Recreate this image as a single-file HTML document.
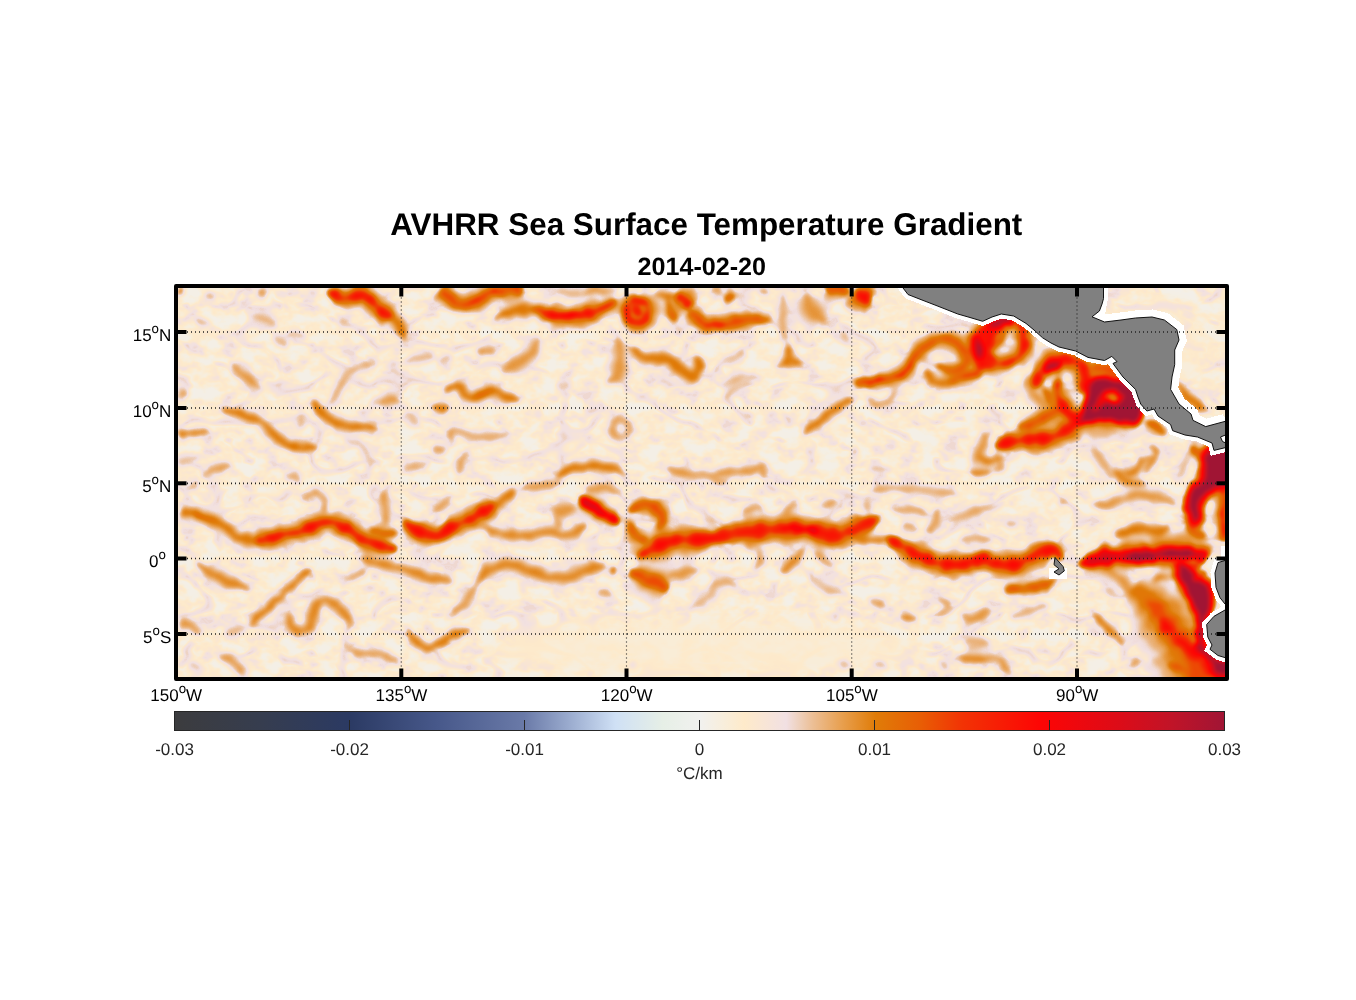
<!DOCTYPE html>
<html><head><meta charset="utf-8"><title>AVHRR Sea Surface Temperature Gradient</title>
<style>
html,body{margin:0;padding:0;background:#fff;}
body{width:1356px;height:1000px;overflow:hidden;position:relative;font-family:"Liberation Sans",sans-serif;}
svg{position:absolute;left:0;top:0;display:block;}
text{text-rendering:geometricPrecision;}
.tx{opacity:0.999;}
text{font-family:"Liberation Sans",sans-serif;}
</style></head><body>
<svg width="1356" height="1000" viewBox="0 0 1356 1000">
<defs>
<clipPath id="clip"><rect x="176" y="286" width="1051" height="393"/></clipPath>
<filter id="cm" x="0" y="0" width="100%" height="100%" filterUnits="userSpaceOnUse" color-interpolation-filters="sRGB">
<feComponentTransfer>
<feFuncR type="table" tableValues="0.9451 0.9512 0.9573 0.9634 0.9695 0.9755 0.9814 0.9873 0.9931 0.9931 0.9873 0.9814 0.9755 0.9691 0.9623 0.9554 0.9485 0.9427 0.9380 0.9333 0.9302 0.9271 0.9241 0.9212 0.9184 0.9155 0.9127 0.9098 0.9050 0.9002 0.8953 0.8905 0.8857 0.8808 0.8803 0.8840 0.8877 0.8913 0.8950 0.8987 0.9024 0.9061 0.9098 0.9147 0.9196 0.9245 0.9294 0.9343 0.9392 0.9441 0.9490 0.9519 0.9548 0.9576 0.9605 0.9634 0.9663 0.9692 0.9720 0.9749 0.9778 0.9807 0.9835 0.9864 0.9893 0.9922 0.9835 0.9749 0.9663 0.9576 0.9490 0.9404 0.9318 0.9231 0.9145 0.9059 0.8973 0.8886 0.8800 0.8714 0.8627 0.8518 0.8408 0.8298 0.8188 0.8078 0.7969 0.7859 0.7749 0.7639 0.7529 0.7404 0.7278 0.7153 0.7027 0.6902 0.6776 0.6651 0.6525 0.6400 0.6275"/>
<feFuncG type="table" tableValues="0.9451 0.9425 0.9399 0.9373 0.9346 0.9314 0.9275 0.9235 0.9196 0.9152 0.9103 0.9054 0.9005 0.8956 0.8907 0.8858 0.8809 0.8659 0.8408 0.8157 0.7890 0.7624 0.7380 0.7159 0.6938 0.6717 0.6496 0.6275 0.6057 0.5840 0.5623 0.5406 0.5189 0.4971 0.4794 0.4655 0.4517 0.4378 0.4240 0.4101 0.3963 0.3825 0.3686 0.3475 0.3265 0.3054 0.2843 0.2632 0.2422 0.2211 0.2000 0.1880 0.1759 0.1639 0.1519 0.1399 0.1278 0.1158 0.1038 0.0918 0.0797 0.0677 0.0557 0.0437 0.0316 0.0196 0.0214 0.0233 0.0251 0.0269 0.0288 0.0306 0.0324 0.0342 0.0361 0.0379 0.0397 0.0416 0.0434 0.0452 0.0471 0.0502 0.0533 0.0565 0.0596 0.0627 0.0659 0.0690 0.0722 0.0753 0.0784 0.0788 0.0792 0.0796 0.0800 0.0804 0.0808 0.0812 0.0816 0.0820 0.0824"/>
<feFuncB type="table" tableValues="0.9373 0.9207 0.9041 0.8876 0.8710 0.8539 0.8363 0.8186 0.8010 0.7980 0.8098 0.8216 0.8333 0.8456 0.8583 0.8711 0.8838 0.8596 0.7984 0.7373 0.6776 0.6180 0.5633 0.5134 0.4635 0.4135 0.3636 0.3137 0.2703 0.2268 0.1834 0.1400 0.0965 0.0531 0.0307 0.0293 0.0279 0.0265 0.0251 0.0238 0.0224 0.0210 0.0196 0.0196 0.0196 0.0196 0.0196 0.0196 0.0196 0.0196 0.0196 0.0196 0.0196 0.0196 0.0196 0.0196 0.0196 0.0196 0.0196 0.0196 0.0196 0.0196 0.0196 0.0196 0.0196 0.0196 0.0246 0.0295 0.0345 0.0395 0.0444 0.0494 0.0544 0.0593 0.0643 0.0693 0.0742 0.0792 0.0842 0.0892 0.0941 0.1004 0.1067 0.1129 0.1192 0.1255 0.1318 0.1380 0.1443 0.1506 0.1569 0.1620 0.1671 0.1722 0.1773 0.1824 0.1875 0.1925 0.1976 0.2027 0.2078"/>
</feComponentTransfer></filter>
<filter id="noise" x="170" y="280" width="1064" height="406" filterUnits="userSpaceOnUse" color-interpolation-filters="sRGB">
<feTurbulence type="fractalNoise" baseFrequency="0.05 0.07" numOctaves="3" seed="7" result="n1"/>
<feColorMatrix in="n1" type="matrix" values="1 0 0 0 0  1 0 0 0 0  1 0 0 0 0  0 0 0 0 1" result="g1"/>
<feComponentTransfer in="g1" result="t1">
<feFuncR type="table" tableValues="0.02 0.02 0.02 0.02 0.02 0.02 0.022 0.028 0.04 0.056 0.072 0.088 0.105 0.125 0.15 0.17 0.18 0.18 0.18 0.18 0.18"/><feFuncG type="table" tableValues="0.02 0.02 0.02 0.02 0.02 0.02 0.022 0.028 0.04 0.056 0.072 0.088 0.105 0.125 0.15 0.17 0.18 0.18 0.18 0.18 0.18"/><feFuncB type="table" tableValues="0.02 0.02 0.02 0.02 0.02 0.02 0.022 0.028 0.04 0.056 0.072 0.088 0.105 0.125 0.15 0.17 0.18 0.18 0.18 0.18 0.18"/>
</feComponentTransfer>
<feTurbulence type="turbulence" baseFrequency="0.016 0.026" numOctaves="2" seed="23" result="n2"/>
<feColorMatrix in="n2" type="matrix" values="0 1 0 0 0  0 1 0 0 0  0 1 0 0 0  0 0 0 0 1" result="g2"/>
<feComponentTransfer in="g2" result="t2">
<feFuncR type="table" tableValues="0.195 0.185 0.17 0.15 0.12 0.08 0.04 0.01 0 0 0 0 0 0 0 0 0 0 0 0 0 0 0 0 0 0 0 0 0 0 0 0 0 0 0 0 0 0 0 0 0"/><feFuncG type="table" tableValues="0.195 0.185 0.17 0.15 0.12 0.08 0.04 0.01 0 0 0 0 0 0 0 0 0 0 0 0 0 0 0 0 0 0 0 0 0 0 0 0 0 0 0 0 0 0 0 0 0"/><feFuncB type="table" tableValues="0.195 0.185 0.17 0.15 0.12 0.08 0.04 0.01 0 0 0 0 0 0 0 0 0 0 0 0 0 0 0 0 0 0 0 0 0 0 0 0 0 0 0 0 0 0 0 0 0"/>
</feComponentTransfer>
<feGaussianBlur in="t2" stdDeviation="1.1" result="t2b"/>
<feBlend in="t1" in2="t2b" mode="lighten"/>
</filter>
<filter id="b2" x="150" y="260" width="1100" height="440" filterUnits="userSpaceOnUse" color-interpolation-filters="sRGB">
<feTurbulence type="fractalNoise" baseFrequency="0.09" numOctaves="2" seed="3" result="dn"/>
<feDisplacementMap in="SourceGraphic" in2="dn" scale="7" xChannelSelector="R" yChannelSelector="G" result="d"/>
<feGaussianBlur in="d" stdDeviation="2.7"/></filter>
<filter id="b9" x="150" y="260" width="1100" height="440" filterUnits="userSpaceOnUse" color-interpolation-filters="sRGB"><feGaussianBlur stdDeviation="9"/></filter>
<filter id="b1" x="150" y="260" width="1100" height="440" filterUnits="userSpaceOnUse" color-interpolation-filters="sRGB"><feGaussianBlur stdDeviation="1.1"/></filter>
<linearGradient id="cb" x1="0" y1="0" x2="1" y2="0">
<stop offset="0.0000" stop-color="#3c3c3e"/>
<stop offset="0.0833" stop-color="#363d4f"/>
<stop offset="0.1667" stop-color="#2b3a63"/>
<stop offset="0.2500" stop-color="#47588a"/>
<stop offset="0.3333" stop-color="#6a7aa8"/>
<stop offset="0.3800" stop-color="#9fb0d2"/>
<stop offset="0.4200" stop-color="#cfe0f5"/>
<stop offset="0.4650" stop-color="#e6efe6"/>
<stop offset="0.5000" stop-color="#f1f1ef"/>
<stop offset="0.5225" stop-color="#f8eedc"/>
<stop offset="0.5425" stop-color="#feeaca"/>
<stop offset="0.5625" stop-color="#f8e5d6"/>
<stop offset="0.5825" stop-color="#f1e0e3"/>
<stop offset="0.5950" stop-color="#eed0bc"/>
<stop offset="0.6075" stop-color="#ecbf96"/>
<stop offset="0.6350" stop-color="#e8a050"/>
<stop offset="0.6675" stop-color="#e07c08"/>
<stop offset="0.7100" stop-color="#e85e05"/>
<stop offset="0.7500" stop-color="#f23305"/>
<stop offset="0.8250" stop-color="#fd0505"/>
<stop offset="0.9000" stop-color="#dc0c18"/>
<stop offset="0.9500" stop-color="#c01428"/>
<stop offset="1.0000" stop-color="#a01535"/>
</linearGradient>
</defs>

<g clip-path="url(#clip)">
<g filter="url(#cm)">
<rect x="170" y="280" width="1064" height="406" fill="#171717"/>
<rect x="170" y="280" width="1064" height="406" filter="url(#noise)"/>
<g filter="url(#b9)" opacity="0.8" fill="#111111"><ellipse cx="700" cy="648" rx="215" ry="30"/><ellipse cx="1165" cy="350" rx="45" ry="50" fill="#151515" opacity="0.6"/></g>
<g filter="url(#b2)" stroke="none">
<path d="M380 319L383 322L386 326L389 327L390 330L392 335L398 340L403 343L407 341L409 336L412 329L409 322L405 315L399 308L392 306L388 305Z" fill="#2b2b2b"/>
<path d="M173 296L177 297L183 295L185 291L185 285L183 282Z" fill="#2b2b2b"/>
<path d="M203 294L203 301L210 302L214 298L214 291L207 290Z" fill="#2b2b2b"/>
<path d="M255 296L258 300L265 298L269 292L268 285L263 284Z" fill="#2b2b2b"/>
<path d="M195 323L199 328L205 329L211 326L211 322L207 317L201 316L195 319Z" fill="#2b2b2b"/>
<path d="M252 318L256 324L262 327L269 328L276 326L278 322L274 316L268 311L260 311L253 314Z" fill="#2b2b2b"/>
<path d="M272 338L273 345L280 349L287 348L289 344L287 337L282 332L274 334Z" fill="#2b2b2b"/>
<path d="M285 336L289 340L295 341L301 340L306 337L306 334L302 331L296 329L290 329L286 332Z" fill="#2b2b2b"/>
<path d="M229 364L231 369L233 377L238 382L243 386L249 390L257 390L262 391L264 388L262 383L259 376L254 372L250 368L244 364L236 363L231 361Z" fill="#2b2b2b"/>
<path d="M177 402L183 401L190 396L190 392L185 385L179 383Z" fill="#2b2b2b"/>
<path d="M376 361L372 361L366 360L359 360L353 363L347 368L342 372L337 377L335 382L333 388L330 393L329 397L327 402L326 405L328 407L331 406L337 403L341 399L343 394L347 389L350 385L352 381L355 377L359 374L363 373L368 370L373 366L377 364Z" fill="#2b2b2b"/>
<path d="M219 411L223 413L228 417L234 420L239 422L244 425L249 426L255 427L259 431L262 435L267 439L271 444L276 448L284 451L293 455L300 456L307 454L314 452L319 450L319 444L314 442L307 441L300 439L295 439L290 439L287 434L284 431L278 427L274 422L267 418L261 416L256 411L251 407L245 406L238 404L231 405L224 407L220 407Z" fill="#2b2b2b"/>
<path d="M310 401L311 406L314 413L317 420L323 424L329 428L336 434L343 435L349 434L354 434L359 435L366 433L373 433L378 432L379 426L374 423L368 422L361 418L355 418L350 418L345 416L342 415L337 415L332 412L329 408L323 405L319 401L315 398Z" fill="#2b2b2b"/>
<path d="M302 413L295 415L294 422L296 428L300 429L306 427L310 421L306 415Z" fill="#2b2b2b"/>
<path d="M179 442L183 441L189 439L195 439L203 437L209 435L209 431L203 428L195 426L189 427L182 426L177 425Z" fill="#2b2b2b"/>
<path d="M181 472L185 469L192 465L198 462L202 457L200 454L194 452L187 454L180 455L175 456Z" fill="#2b2b2b"/>
<path d="M202 478L207 478L213 478L219 477L223 475L229 472L232 469L232 463L227 461L220 460L213 461L207 465L203 470L200 474Z" fill="#2b2b2b"/>
<path d="M377 406L385 411L391 412L394 408L398 405L400 399L397 393L389 388L380 392L376 402Z" fill="#2b2b2b"/>
<path d="M404 364L409 366L416 367L421 365L427 364L434 360L438 358L438 355L433 353L426 350L419 351L412 352L406 357L402 361Z" fill="#2b2b2b"/>
<path d="M432 411L438 416L446 413L450 408L450 404L444 400L436 400L432 406Z" fill="#2b2b2b"/>
<path d="M430 451L435 457L442 456L447 452L447 448L442 443L436 441L430 447Z" fill="#2b2b2b"/>
<path d="M343 441L347 443L352 447L357 449L360 453L362 458L364 461L366 466L367 472L369 472L373 467L376 459L373 452L368 446L363 441L356 437L349 437L344 437Z" fill="#2b2b2b"/>
<path d="M404 472L410 474L417 473L423 470L428 466L428 462L421 459L413 459L406 462L402 468Z" fill="#2b2b2b"/>
<path d="M285 476L287 483L295 485L301 483L303 479L300 473L294 469L286 472Z" fill="#2b2b2b"/>
<path d="M406 413L405 421L409 426L416 426L420 423L420 416L416 411L408 411Z" fill="#2b2b2b"/>
<path d="M336 320L338 325L343 328L349 328L351 324L349 319L344 316L338 316Z" fill="#2b2b2b"/>
<path d="M497 322L502 321L509 322L515 321L519 321L524 322L529 321L532 318L538 320L541 323L549 301L543 301L534 300L528 297L522 297L515 299L509 301L502 305L497 313L494 316Z" fill="#2b2b2b"/>
<path d="M556 294L560 297L567 299L575 299L581 299L587 297L593 296L597 294L597 290L593 288L587 287L581 286L575 286L568 286L561 287L556 290Z" fill="#2b2b2b"/>
<path d="M584 294L588 296L594 298L600 298L604 299L612 296L616 295L618 291L613 288L606 283L600 283L594 284L588 285L584 288Z" fill="#2b2b2b"/>
<path d="M629 328L630 333L637 337L643 335L645 329L643 325L638 323L637 323L636 323L631 324Z" fill="#2b2b2b"/>
<path d="M631 328L632 333L637 337L644 335L646 329L644 325L639 323L639 323L638 324L633 324Z" fill="#2b2b2b"/>
<path d="M653 296L658 302L665 305L672 303L676 299L676 295L672 291L667 289L661 289L655 292Z" fill="#2b2b2b"/>
<path d="M757 294L763 298L770 294L770 290L764 285L757 288Z" fill="#2b2b2b"/>
<path d="M781 291L780 294L778 299L776 305L776 311L776 317L775 323L775 328L780 336L783 341L786 344L789 343L789 339L789 334L791 326L791 323L789 317L789 311L790 305L787 299L786 295L785 291Z" fill="#2b2b2b"/>
<path d="M729 364L734 365L740 363L745 359L747 354L745 351L740 350L734 352L729 354L727 359Z" fill="#2b2b2b"/>
<path d="M724 387L730 387L736 385L743 383L746 382L753 382L759 382L761 378L756 373L746 369L738 370L732 374L726 378L722 382Z" fill="#2b2b2b"/>
<path d="M612 335L612 340L611 346L608 351L608 355L608 359L607 363L603 369L608 372L609 375L605 377L605 385L611 387L623 386L633 377L631 367L631 361L632 355L632 349L627 342L623 337L620 333Z" fill="#2b2b2b"/>
<path d="M628 350L632 354L636 362L644 368L652 369L658 370L662 369L664 367L667 368L668 373L673 376L680 383L693 389L704 379L707 367L703 357L696 353L692 355L692 362L693 367L690 368L691 365L692 365L686 361L683 358L677 354L670 350L662 347L656 347L652 349L649 349L644 349L637 348L632 346Z" fill="#2b2b2b"/>
<path d="M537 337L532 340L525 344L523 347L519 349L512 352L508 359L504 366L500 370L504 376L509 375L518 374L525 373L532 368L539 362L543 353L543 345L541 339Z" fill="#2b2b2b"/>
<path d="M478 357L484 358L489 358L494 356L498 350L497 346L492 341L485 342L479 346L476 352Z" fill="#2b2b2b"/>
<path d="M440 363L447 367L452 361L452 358L445 353L440 358Z" fill="#2b2b2b"/>
<path d="M446 394L452 393L456 393L454 396L460 401L469 407L480 408L486 403L491 399L491 399L492 400L498 403L505 406L514 405L520 404L521 399L517 395L511 390L506 388L502 383L492 380L483 383L477 385L472 385L473 388L471 388L468 382L457 378L447 382L442 389Z" fill="#2b2b2b"/>
<path d="M441 414L448 417L449 410L447 406L440 403L439 410Z" fill="#2b2b2b"/>
<path d="M556 388L561 392L568 391L572 387L572 383L567 379L560 379L555 384Z" fill="#2b2b2b"/>
<path d="M538 416L543 417L542 412L540 410L535 409L536 414Z" fill="#2b2b2b"/>
<path d="M585 414L591 417L597 414L601 410L601 406L595 404L588 405L584 410Z" fill="#2b2b2b"/>
<path d="M618 425L622 425L625 427L624 428L624 430L622 433L621 434L620 433L619 431L618 430L617 429L617 427L618 425L620 425L622 425L620 413L616 414L612 417L608 421L605 427L605 435L609 441L616 444L623 444L630 441L634 436L636 428L633 421L628 417L624 413Z" fill="#2b2b2b"/>
<path d="M451 431L455 434L461 438L466 441L473 442L481 444L487 445L494 444L500 441L506 439L510 437L510 433L506 432L499 431L493 429L486 429L481 430L475 430L470 428L464 428L458 427L453 426Z" fill="#2b2b2b"/>
<path d="M450 428L445 432L444 437L447 442L451 445L455 443L457 440L458 437L458 433L454 429Z" fill="#2b2b2b"/>
<path d="M465 450L461 453L457 458L454 464L454 472L457 478L460 478L464 474L467 468L468 463L469 457L469 452Z" fill="#2b2b2b"/>
<path d="M439 451L441 457L445 453L447 449L445 443L441 447Z" fill="#2b2b2b"/>
<path d="M557 480L563 479L569 477L575 476L578 476L582 474L587 473L592 475L596 476L602 475L607 476L611 476L615 475L621 476L624 478L628 474L625 470L620 465L616 461L610 459L604 458L598 456L592 457L587 459L581 459L575 458L569 460L562 465L557 471L554 476Z" fill="#2b2b2b"/>
<path d="M663 470L665 472L669 476L674 479L680 481L687 483L692 482L699 481L705 483L711 482L716 480L720 478L720 474L717 472L712 469L706 468L700 469L694 467L689 465L684 465L678 464L672 465L667 466L663 466Z" fill="#2b2b2b"/>
<path d="M672 326L673 332L678 337L685 335L687 332L686 326L680 323L674 324Z" fill="#2b2b2b"/>
<path d="M710 295L717 300L723 297L721 283L715 282L710 289Z" fill="#2b2b2b"/>
<path d="M801 293L795 302L793 315L800 323L805 329L816 327L823 326L828 320L829 313L830 303L825 300L825 299L817 296L809 292Z" fill="#2b2b2b"/>
<path d="M787 306L783 310L779 315L778 322L780 327L784 328L789 325L792 319L791 312L790 307Z" fill="#2b2b2b"/>
<path d="M786 343L783 347L779 353L779 356L778 359L777 362L795 370L797 366L799 360L799 353L795 347L791 343Z" fill="#2b2b2b"/>
<path d="M777 370L784 369L790 369L795 369L802 367L804 362L798 356L787 353L779 360L775 366Z" fill="#2b2b2b"/>
<path d="M722 363L730 366L740 364L746 355L745 347L741 345L736 350L733 353L728 354L722 358Z" fill="#2b2b2b"/>
<path d="M923 367L923 374L926 385L934 389L942 392L950 393L958 389L965 387L971 385L976 380L981 377L984 373L981 368L977 368L971 369L965 369L959 372L954 375L949 374L944 374L939 373L936 373L930 371L927 366Z" fill="#2b2b2b"/>
<path d="M854 397L849 396L842 397L834 399L828 402L824 406L820 411L817 415L813 418L808 422L804 427L802 431L804 435L809 434L815 433L821 430L826 426L831 423L836 420L840 416L842 413L847 410L852 406L855 403Z" fill="#2b2b2b"/>
<path d="M865 397L867 404L873 411L881 412L887 409L893 405L898 397L898 390L894 389L889 393L886 398L883 399L879 400L877 401L874 398L869 395Z" fill="#2b2b2b"/>
<path d="M724 403L728 402L733 399L737 395L740 393L744 390L748 387L752 385L751 381L747 380L740 380L733 381L729 386L724 391L722 396L721 400Z" fill="#2b2b2b"/>
<path d="M740 416L745 421L753 420L754 417L749 411L742 412Z" fill="#2b2b2b"/>
<path d="M781 415L784 423L791 426L794 423L791 416L783 413Z" fill="#2b2b2b"/>
<path d="M851 453L853 460L858 454L858 450L856 443L851 449Z" fill="#2b2b2b"/>
<path d="M711 479L715 480L720 480L726 480L732 480L737 478L742 478L748 479L753 478L760 472L765 468L763 464L757 464L749 462L746 462L741 464L735 464L729 464L724 466L718 468L713 471L709 473Z" fill="#2b2b2b"/>
<path d="M762 462L758 467L758 475L762 480L766 480L770 475L770 467L766 462Z" fill="#2b2b2b"/>
<path d="M988 431L981 434L975 441L972 447L969 453L971 464L982 468L989 468L991 463L986 459L986 455L988 457L989 453L990 449L992 442L992 434Z" fill="#2b2b2b"/>
<path d="M968 472L971 477L978 479L985 478L990 476L990 472L986 468L980 465L974 465L968 468Z" fill="#2b2b2b"/>
<path d="M867 470L872 474L879 474L886 474L892 472L892 468L887 465L880 464L872 463L867 466Z" fill="#2b2b2b"/>
<path d="M839 331L837 338L842 344L849 346L851 344L852 337L849 331L841 329Z" fill="#2b2b2b"/>
<path d="M1024 336L1023 343L1024 349L1024 354L1027 359L1031 361L1036 356L1038 347L1034 339L1028 334Z" fill="#2b2b2b"/>
<path d="M957 355L956 362L962 362L966 358L966 352L959 353Z" fill="#2b2b2b"/>
<path d="M1024 374L1022 380L1022 389L1025 398L1031 404L1037 409L1044 411L1048 406L1047 400L1043 394L1040 388L1036 384L1033 379L1030 374Z" fill="#2b2b2b"/>
<path d="M1090 379L1096 386L1101 388L1105 385L1111 381L1113 375L1110 368L1103 362L1095 365L1090 373Z" fill="#2b2b2b"/>
<path d="M1077 433L1081 433L1087 435L1093 434L1100 434L1105 434L1112 432L1118 431L1124 432L1128 430L1134 428L1138 427L1138 421L1135 420L1128 417L1123 415L1117 417L1111 417L1105 416L1099 416L1093 417L1086 416L1081 419L1077 419Z" fill="#2b2b2b"/>
<path d="M1083 433L1086 436L1092 443L1099 443L1105 443L1111 442L1117 437L1120 434L1120 429L1116 426L1111 422L1105 421L1101 421L1095 420L1088 425L1083 427Z" fill="#2b2b2b"/>
<path d="M976 457L978 462L983 467L992 468L1000 464L1004 457L1003 454L996 454L990 456L988 454L983 453L977 454Z" fill="#2b2b2b"/>
<path d="M968 474L972 478L978 480L984 478L989 476L989 472L985 469L979 466L973 467L968 470Z" fill="#2b2b2b"/>
<path d="M993 453L993 458L995 463L996 464L994 466L990 470L992 474L999 474L1006 468L1005 459L1002 454L997 451Z" fill="#2b2b2b"/>
<path d="M1140 457L1136 462L1134 466L1129 469L1124 474L1126 478L1133 478L1141 474L1145 465L1144 458Z" fill="#2b2b2b"/>
<path d="M1149 447L1152 450L1153 452L1152 452L1147 457L1145 462L1144 469L1143 473L1145 475L1149 472L1153 467L1157 463L1160 458L1163 450L1157 444L1151 443Z" fill="#2b2b2b"/>
<path d="M1090 446L1090 451L1091 459L1095 465L1097 470L1102 475L1108 478L1111 481L1114 479L1114 475L1114 468L1112 461L1108 457L1105 450L1098 447L1094 444Z" fill="#2b2b2b"/>
<path d="M1185 451L1182 454L1179 459L1177 464L1175 469L1175 475L1175 479L1179 481L1182 478L1187 474L1189 468L1190 462L1190 456L1189 451Z" fill="#2b2b2b"/>
<path d="M1175 383L1176 389L1177 397L1180 404L1186 408L1191 412L1194 414L1202 415L1208 415L1210 411L1208 406L1205 398L1200 395L1196 394L1194 391L1190 388L1184 384L1180 381Z" fill="#2b2b2b"/>
<path d="M979 430L979 439L988 442L990 440L990 431L982 428Z" fill="#2b2b2b"/>
<path d="M1115 476L1120 479L1129 481L1137 478L1144 474L1147 467L1150 461L1152 457L1148 453L1144 455L1139 459L1133 462L1131 464L1126 466L1120 468L1115 472Z" fill="#2b2b2b"/>
<path d="M178 523L183 522L190 522L196 525L201 525L206 528L210 532L214 532L219 533L222 537L226 541L232 544L238 547L244 551L250 551L257 550L266 550L272 548L268 530L263 531L257 532L254 530L249 528L244 528L240 528L238 525L234 523L229 520L225 514L220 510L213 509L207 508L202 505L194 505L187 502L182 499Z" fill="#2b2b2b"/>
<path d="M383 490L380 494L376 500L375 506L376 512L378 521L384 526L390 525L393 518L393 510L394 506L393 500L389 494L387 490Z" fill="#2b2b2b"/>
<path d="M304 502L310 500L315 499L316 500L319 502L320 508L320 514L325 516L329 509L331 499L325 490L314 486L305 492L300 499Z" fill="#2b2b2b"/>
<path d="M436 513L442 514L447 511L450 506L451 500L449 497L443 496L437 499L433 503L432 509Z" fill="#2b2b2b"/>
<path d="M355 561L359 562L364 566L369 569L375 571L379 573L384 575L389 574L394 574L399 577L403 579L408 580L413 583L418 585L424 586L431 585L439 586L445 585L450 584L450 578L446 576L441 573L434 572L428 568L424 566L419 565L414 564L409 562L404 561L398 561L393 558L389 555L383 555L378 554L372 553L366 555L360 556L356 556Z" fill="#2b2b2b"/>
<path d="M344 583L351 583L358 581L364 578L369 573L368 569L361 567L353 569L347 574L342 579Z" fill="#2b2b2b"/>
<path d="M193 566L196 569L201 576L206 582L212 585L216 589L222 592L228 592L237 593L244 593L250 592L251 587L247 583L242 578L236 574L232 570L227 568L221 567L217 564L209 563L202 561L197 560Z" fill="#2b2b2b"/>
<path d="M309 567L305 568L300 571L294 574L289 578L285 582L282 587L277 592L273 595L268 598L264 602L260 606L256 609L251 614L249 621L247 625L250 628L254 626L261 624L266 620L269 616L273 613L278 609L282 605L286 600L290 596L295 592L299 589L303 584L307 579L310 575L312 571Z" fill="#2b2b2b"/>
<path d="M248 625L241 624L234 624L228 627L223 632L224 636L230 638L238 638L245 634L249 628Z" fill="#2b2b2b"/>
<path d="M285 613L283 617L283 624L286 632L294 640L306 640L316 632L322 623L322 614L323 610L324 609L325 607L326 608L329 613L333 615L337 618L341 621L344 622L347 625L348 628L352 629L354 625L355 618L353 612L350 606L345 601L340 596L333 594L325 593L314 594L306 602L305 612L303 618L302 623L302 626L302 623L298 622L296 620L293 615L290 611Z" fill="#2b2b2b"/>
<path d="M404 630L405 636L408 643L413 649L421 654L431 654L437 652L444 649L448 645L451 641L449 637L444 637L438 637L433 639L430 640L426 639L423 637L419 634L412 630L407 627Z" fill="#2b2b2b"/>
<path d="M342 647L346 652L353 660L360 661L366 660L372 661L375 661L381 660L386 663L390 664L395 665L397 667L401 665L399 661L396 655L391 652L384 650L378 646L371 645L365 647L361 647L358 647L350 646L345 643Z" fill="#2b2b2b"/>
<path d="M218 660L223 661L227 665L228 666L231 670L231 672L231 671L231 671L245 681L248 677L249 668L244 662L240 656L233 650L223 652L217 655Z" fill="#2b2b2b"/>
<path d="M187 664L189 670L195 674L202 674L204 670L202 664L197 660L190 660Z" fill="#2b2b2b"/>
<path d="M180 632L183 631L187 630L189 633L194 637L199 638L203 636L203 630L200 623L194 619L186 615L181 613Z" fill="#2b2b2b"/>
<path d="M192 490L198 492L200 486L198 482L192 480L190 486Z" fill="#2b2b2b"/>
<path d="M205 493L205 498L210 500L212 498L213 493L209 491Z" fill="#2b2b2b"/>
<path d="M490 520L493 517L498 514L504 512L509 507L514 503L517 495L517 490L511 486L507 488L502 490L498 493L493 496L489 500L485 502L482 502Z" fill="#2b2b2b"/>
<path d="M519 492L523 493L528 494L535 495L540 494L545 494L551 492L556 489L561 487L564 486L564 480L560 480L555 479L549 477L543 477L538 478L532 479L526 482L521 486L518 488Z" fill="#2b2b2b"/>
<path d="M480 530L484 532L488 536L494 540L500 542L507 544L513 546L520 544L527 543L534 544L540 542L544 541L547 542L551 542L556 541L562 543L569 545L577 542L583 536L587 531L588 525L587 521L582 521L580 523L578 524L575 525L570 526L567 527L565 528L560 527L555 523L548 521L541 524L535 525L530 526L526 528L521 528L515 525L509 525L504 525L498 524L492 525L486 525L482 525Z" fill="#2b2b2b"/>
<path d="M550 510L553 521L564 524L574 519L578 510L575 503L567 499L564 498L561 497L553 504Z" fill="#2b2b2b"/>
<path d="M555 513L551 518L552 525L556 530L560 530L564 525L564 518L559 513Z" fill="#2b2b2b"/>
<path d="M585 493L589 495L594 495L600 495L604 496L610 496L616 496L621 495L623 490L619 486L613 483L606 480L599 481L593 482L588 484L584 487Z" fill="#2b2b2b"/>
<path d="M668 581L673 583L681 585L686 582L691 581L696 576L699 571L697 566L692 564L686 561L680 564L673 565L669 572L666 577Z" fill="#2b2b2b"/>
<path d="M480 585L483 582L487 579L493 578L496 578L500 576L505 578L508 577L512 574L517 577L522 579L527 580L532 584L538 587L545 587L551 587L557 589L564 588L570 587L577 587L584 584L588 579L591 576L597 574L602 570L606 568L604 562L600 561L593 560L586 561L580 562L574 562L569 564L566 567L562 567L558 567L553 569L549 567L546 564L541 562L534 561L529 559L523 558L516 556L508 553L500 553L494 557L488 560L482 564L478 571L476 577L474 581Z" fill="#2b2b2b"/>
<path d="M474 582L471 585L466 590L461 594L459 598L456 603L451 608L449 612L452 617L457 616L464 614L471 610L476 604L478 596L479 589L480 585Z" fill="#2b2b2b"/>
<path d="M440 582L445 589L452 583L453 579L448 571L440 576Z" fill="#2b2b2b"/>
<path d="M596 594L600 600L607 601L613 598L614 593L610 588L604 585L598 589Z" fill="#2b2b2b"/>
<path d="M520 588L518 592L522 593L526 591L527 587L522 586Z" fill="#2b2b2b"/>
<path d="M441 645L448 644L455 641L460 640L467 636L471 633L471 629L465 628L457 626L450 629L442 634L439 641Z" fill="#2b2b2b"/>
<path d="M718 578L714 580L710 583L706 587L703 590L699 592L696 596L692 601L689 605L687 608L689 612L693 611L698 609L704 608L710 605L714 601L718 596L721 590L722 585L722 580Z" fill="#2b2b2b"/>
<path d="M629 663L629 668L635 669L637 667L637 662L631 661Z" fill="#2b2b2b"/>
<path d="M441 509L449 510L449 502L447 499L439 497L439 505Z" fill="#2b2b2b"/>
<path d="M702 521L708 527L716 523L717 520L710 514L702 517Z" fill="#2b2b2b"/>
<path d="M640 572L643 569L648 569L655 570L660 567L665 568L670 568L674 562L679 560L685 563L690 563L693 561L687 521L684 520L679 521L674 526L668 526L661 522L655 524L649 528L642 529L637 534L632 537L628 536Z" fill="#2b2b2b"/>
<path d="M624 588L630 588L634 595L640 598L647 602L651 608L657 607L675 569L672 564L665 564L660 562L654 559L646 559L644 554Z" fill="#2b2b2b"/>
<path d="M575 517L580 519L588 519L593 524L600 526L606 529L609 534L623 504L618 505L612 502L607 498L601 496L596 490L593 487Z" fill="#2b2b2b"/>
<path d="M742 515L747 516L753 514L755 514L758 514L763 514L765 512L763 506L756 500L748 503L743 506L740 511Z" fill="#2b2b2b"/>
<path d="M779 517L784 517L791 516L796 512L798 507L796 503L791 502L784 504L780 509L777 513Z" fill="#2b2b2b"/>
<path d="M822 509L829 512L836 509L839 502L837 499L830 496L824 498L821 505Z" fill="#2b2b2b"/>
<path d="M854 543L858 546L864 547L870 547L876 548L883 543L888 540L887 536L882 534L874 532L870 533L864 533L858 534L855 537Z" fill="#2b2b2b"/>
<path d="M871 493L876 494L881 494L888 496L896 495L900 496L905 498L910 498L916 497L921 498L927 499L932 499L936 500L943 502L949 499L954 497L958 497L958 492L955 491L951 488L945 485L938 485L934 485L929 484L923 483L917 483L912 480L906 480L901 481L896 481L887 480L880 483L875 485L871 487Z" fill="#2b2b2b"/>
<path d="M865 496L859 501L861 508L865 513L869 513L873 508L875 501L869 496Z" fill="#2b2b2b"/>
<path d="M892 514L896 515L902 515L907 517L911 516L916 518L923 518L928 517L930 513L927 508L921 503L913 502L907 501L900 504L895 506L891 508Z" fill="#2b2b2b"/>
<path d="M935 507L932 512L928 518L928 522L927 527L925 532L928 536L935 535L942 529L945 520L942 512L939 507Z" fill="#2b2b2b"/>
<path d="M950 521L954 522L961 524L968 522L974 521L979 518L984 513L988 510L991 507L989 503L985 503L980 504L973 503L968 506L964 508L957 510L953 514L949 517Z" fill="#2b2b2b"/>
<path d="M901 527L905 532L910 534L916 532L917 528L914 522L908 521L903 523Z" fill="#2b2b2b"/>
<path d="M755 549L755 554L755 559L755 560L753 563L750 569L752 572L760 572L768 565L767 556L763 551L760 547Z" fill="#2b2b2b"/>
<path d="M804 547L798 549L791 552L787 557L783 561L780 566L778 571L782 575L787 575L793 572L798 568L804 563L805 555L806 549Z" fill="#2b2b2b"/>
<path d="M812 551L813 557L816 563L821 566L828 568L833 569L835 565L834 560L830 555L826 551L820 549L814 549Z" fill="#2b2b2b"/>
<path d="M808 576L810 580L812 586L817 590L822 594L828 597L835 597L841 597L846 598L847 594L844 591L839 587L834 583L829 581L825 578L820 576L814 575L810 574Z" fill="#2b2b2b"/>
<path d="M711 590L717 591L723 590L726 589L731 589L738 589L740 586L736 579L727 573L718 575L712 579L709 585Z" fill="#2b2b2b"/>
<path d="M868 602L870 607L876 610L882 611L887 610L888 606L886 602L881 598L875 596L870 598Z" fill="#2b2b2b"/>
<path d="M899 616L903 621L909 625L916 622L917 618L914 612L907 611L901 612Z" fill="#2b2b2b"/>
<path d="M936 597L939 602L942 608L944 606L942 607L936 612L938 616L946 617L955 610L951 599L944 596L938 595Z" fill="#2b2b2b"/>
<path d="M988 606L981 606L977 612L977 619L980 622L987 622L992 617L992 610Z" fill="#2b2b2b"/>
<path d="M962 641L966 645L971 648L979 648L985 647L990 645L990 641L986 637L980 635L974 633L967 635L962 637Z" fill="#2b2b2b"/>
<path d="M958 660L961 663L967 667L973 666L980 667L986 664L990 662L990 658L986 655L981 651L974 651L968 649L962 653L958 656Z" fill="#2b2b2b"/>
<path d="M938 658L937 664L940 670L946 671L949 669L950 663L946 658L940 657Z" fill="#2b2b2b"/>
<path d="M870 664L874 669L881 671L887 670L888 666L885 661L878 658L872 660Z" fill="#2b2b2b"/>
<path d="M838 666L843 672L850 668L851 664L845 658L838 662Z" fill="#2b2b2b"/>
<path d="M831 613L830 620L837 623L839 622L840 614L833 611Z" fill="#2b2b2b"/>
<path d="M763 486L766 491L773 495L779 494L781 491L778 485L771 482L765 482Z" fill="#2b2b2b"/>
<path d="M712 484L718 489L725 487L730 483L730 480L725 476L717 475L712 480Z" fill="#2b2b2b"/>
<path d="M1117 539L1122 540L1129 540L1135 540L1139 540L1144 538L1150 542L1159 542L1167 534L1171 529L1167 523L1162 524L1156 521L1154 520L1146 521L1137 518L1129 520L1123 524L1118 528L1115 533Z" fill="#2b2b2b"/>
<path d="M1150 545L1154 547L1159 548L1165 550L1171 550L1175 549L1180 550L1185 550L1191 546L1195 544L1195 538L1192 535L1188 530L1182 529L1175 529L1169 529L1163 530L1158 533L1153 534L1150 537Z" fill="#2b2b2b"/>
<path d="M1086 571L1090 574L1096 578L1102 580L1106 582L1110 583L1114 584L1116 587L1119 590L1123 594L1127 597L1133 595L1134 591L1135 583L1132 577L1126 572L1122 565L1114 560L1106 559L1098 559L1091 563L1086 565Z" fill="#2b2b2b"/>
<path d="M1153 584L1160 586L1165 581L1167 575L1165 572L1159 571L1152 573L1151 580Z" fill="#2b2b2b"/>
<path d="M1114 471L1114 479L1120 487L1128 489L1136 489L1142 486L1146 485L1147 481L1142 479L1136 476L1130 475L1128 475L1123 472L1118 469Z" fill="#2b2b2b"/>
<path d="M1059 507L1065 508L1069 503L1067 499L1061 498L1057 503Z" fill="#2b2b2b"/>
<path d="M1093 509L1098 510L1105 512L1112 512L1118 510L1123 508L1126 505L1132 504L1139 505L1143 505L1148 505L1153 506L1158 505L1165 506L1171 508L1176 508L1178 502L1175 498L1169 495L1163 491L1157 488L1150 487L1144 486L1137 485L1129 488L1122 491L1116 491L1111 493L1108 495L1103 498L1097 501L1093 504Z" fill="#2b2b2b"/>
<path d="M1060 507L1066 508L1068 503L1066 499L1060 497L1058 503Z" fill="#2b2b2b"/>
<path d="M1124 599L1125 605L1128 610L1130 616L1129 623L1132 625L1131 632L1125 642L1129 644L1137 645L1137 650L1141 653L1148 655L1147 661L1141 669L1145 672L1151 674L1150 679L1153 683L1161 686L1163 690L1159 695L1229 673L1223 671L1222 667L1227 659L1226 653L1221 647L1223 638L1222 631L1211 629L1205 625L1207 616L1204 610L1199 605L1200 595L1197 588L1183 589L1175 587L1171 581L1160 579L1152 577L1146 575L1140 577Z" fill="#2b2b2b"/>
<path d="M1091 613L1093 618L1095 624L1099 629L1103 634L1108 639L1113 642L1119 647L1123 649L1127 645L1124 641L1121 636L1118 630L1115 624L1110 620L1105 615L1098 612L1093 611Z" fill="#2b2b2b"/>
<path d="M1130 668L1139 670L1143 661L1141 658L1132 656L1128 664Z" fill="#2b2b2b"/>
<path d="M960 664L965 665L970 666L976 666L981 666L985 666L991 665L995 666L996 668L1003 671L1007 675L1012 673L1011 665L1007 655L999 653L993 652L987 650L980 649L974 651L968 653L963 657L960 660Z" fill="#2b2b2b"/>
<path d="M966 651L971 653L977 654L983 652L988 649L992 645L990 641L986 639L980 639L974 639L969 643L966 648Z" fill="#2b2b2b"/>
<path d="M959 616L962 624L973 628L982 623L986 616L986 609L983 607L977 608L972 611L972 612L969 612L961 613Z" fill="#2b2b2b"/>
<path d="M1010 619L1015 620L1023 620L1030 619L1035 616L1041 613L1045 610L1048 606L1046 602L1042 602L1036 603L1031 604L1026 605L1020 608L1013 611L1009 614Z" fill="#2b2b2b"/>
<path d="M961 544L967 545L973 545L977 545L983 546L989 543L993 542L993 538L990 536L984 532L978 531L971 531L963 535L959 540Z" fill="#2b2b2b"/>
<path d="M981 511L986 514L992 513L998 510L1002 507L1001 503L996 501L990 501L984 503L980 507Z" fill="#2b2b2b"/>
<path d="M1004 527L1010 530L1016 528L1020 523L1020 520L1014 517L1007 518L1003 523Z" fill="#2b2b2b"/>
<path d="M1104 589L1106 598L1116 597L1118 594L1115 585L1105 586Z" fill="#2b2b2b"/>
<path d="M1159 581L1165 584L1171 582L1175 577L1174 573L1168 570L1161 571L1158 577Z" fill="#2b2b2b"/>
<path d="M204 293L205 299L211 301L213 299L212 293L206 291Z" fill="#2c2c2c"/>
<path d="M195 322L199 325L206 327L211 325L211 323L207 320L200 318L195 320Z" fill="#2c2c2c"/>
<path d="M272 337L275 343L281 346L287 347L289 345L286 340L280 335L274 335Z" fill="#2c2c2c"/>
<path d="M285 335L289 337L295 338L302 338L306 337L306 335L302 333L296 331L290 331L286 333Z" fill="#2c2c2c"/>
<path d="M303 413L298 417L296 423L297 428L299 429L303 426L307 420L305 415Z" fill="#2c2c2c"/>
<path d="M180 468L184 466L191 463L197 460L201 457L201 454L195 454L188 456L181 458L176 459Z" fill="#2c2c2c"/>
<path d="M403 364L408 364L415 364L421 362L427 362L433 359L438 357L438 355L433 354L426 353L419 354L412 355L406 358L403 362Z" fill="#2c2c2c"/>
<path d="M343 440L347 442L353 445L358 448L362 451L365 456L366 460L367 466L367 472L369 472L372 467L374 459L371 453L367 447L362 442L355 439L349 438L344 438Z" fill="#2c2c2c"/>
<path d="M406 413L407 419L411 424L417 425L419 424L418 418L414 413L408 411Z" fill="#2c2c2c"/>
<path d="M336 319L339 323L345 326L349 327L351 325L348 321L342 318L338 317Z" fill="#2c2c2c"/>
<path d="M556 293L560 296L568 297L575 297L581 297L587 296L593 295L597 293L597 291L593 289L587 289L581 288L575 288L568 288L561 289L556 291Z" fill="#2c2c2c"/>
<path d="M729 363L733 363L739 360L744 357L747 354L746 352L741 352L735 354L730 357L727 360Z" fill="#2c2c2c"/>
<path d="M724 386L729 386L735 383L742 381L746 379L753 380L759 381L761 379L756 374L746 372L739 373L733 376L726 380L723 383Z" fill="#2c2c2c"/>
<path d="M440 362L446 364L452 360L452 359L446 356L440 359Z" fill="#2c2c2c"/>
<path d="M556 387L561 390L567 389L572 386L572 384L567 382L560 382L556 385Z" fill="#2c2c2c"/>
<path d="M538 416L541 415L542 412L540 410L537 411L536 414Z" fill="#2c2c2c"/>
<path d="M585 413L590 414L597 412L601 409L601 407L595 406L589 407L584 411Z" fill="#2c2c2c"/>
<path d="M673 326L675 330L680 334L685 335L686 333L684 328L679 325L673 324Z" fill="#2c2c2c"/>
<path d="M788 306L785 310L781 316L780 322L781 327L783 328L787 324L789 318L790 312L789 307Z" fill="#2c2c2c"/>
<path d="M722 362L730 364L739 362L744 354L744 346L742 346L738 351L735 355L729 357L722 359Z" fill="#2c2c2c"/>
<path d="M723 403L727 401L732 398L735 393L739 391L743 389L748 386L752 385L751 382L747 382L741 382L735 384L730 388L726 392L723 397L721 401Z" fill="#2c2c2c"/>
<path d="M741 415L746 419L753 419L754 417L748 413L741 413Z" fill="#2c2c2c"/>
<path d="M781 415L785 421L792 425L793 424L789 417L783 413Z" fill="#2c2c2c"/>
<path d="M867 469L872 471L879 472L886 472L892 471L892 469L887 467L880 466L872 465L867 467Z" fill="#2c2c2c"/>
<path d="M839 331L840 337L844 342L849 346L851 344L850 339L846 332L841 329Z" fill="#2c2c2c"/>
<path d="M1083 432L1087 434L1093 439L1100 439L1105 439L1111 438L1116 435L1120 433L1120 430L1116 428L1111 425L1105 425L1100 425L1094 424L1088 427L1083 428Z" fill="#2c2c2c"/>
<path d="M1186 451L1184 454L1181 460L1179 465L1177 470L1176 475L1176 480L1178 480L1181 477L1185 473L1187 467L1188 461L1188 455L1188 451Z" fill="#2c2c2c"/>
<path d="M980 429L982 437L988 442L990 440L988 433L981 428Z" fill="#2c2c2c"/>
<path d="M248 626L242 626L235 627L228 630L223 633L224 635L230 636L237 635L244 632L249 628Z" fill="#2c2c2c"/>
<path d="M188 663L191 668L197 672L202 673L204 671L201 666L195 662L189 661Z" fill="#2c2c2c"/>
<path d="M206 493L206 497L210 499L212 499L212 494L208 491Z" fill="#2c2c2c"/>
<path d="M520 587L520 591L523 593L525 591L525 588L522 587Z" fill="#2c2c2c"/>
<path d="M719 578L715 580L711 584L709 588L705 592L701 595L697 598L693 602L689 606L687 609L689 611L692 610L697 608L702 606L708 603L712 599L716 594L719 589L721 584L721 580Z" fill="#2c2c2c"/>
<path d="M629 662L631 667L635 669L637 667L635 663L631 661Z" fill="#2c2c2c"/>
<path d="M702 520L709 524L717 522L717 520L710 516L702 518Z" fill="#2c2c2c"/>
<path d="M866 496L862 501L863 508L866 513L868 513L871 508L872 501L868 496Z" fill="#2c2c2c"/>
<path d="M808 576L810 579L813 584L818 588L824 591L829 594L836 596L842 596L846 597L847 594L843 592L838 589L833 586L828 584L823 581L819 577L813 575L810 574Z" fill="#2c2c2c"/>
<path d="M938 658L939 663L942 668L947 671L948 669L948 664L944 660L940 657Z" fill="#2c2c2c"/>
<path d="M871 663L875 667L882 669L887 669L888 667L884 663L877 660L871 661Z" fill="#2c2c2c"/>
<path d="M838 665L844 669L850 667L851 665L845 661L838 663Z" fill="#2c2c2c"/>
<path d="M831 612L832 619L837 623L839 622L838 616L832 612Z" fill="#2c2c2c"/>
<path d="M763 485L767 489L774 493L780 493L780 491L777 487L770 484L764 483Z" fill="#2c2c2c"/>
<path d="M966 650L971 651L977 651L983 649L988 647L991 644L991 642L986 641L981 641L974 642L969 645L966 648Z" fill="#2c2c2c"/>
<path d="M981 510L985 511L992 510L998 508L1002 506L1001 504L997 503L990 503L984 505L980 508Z" fill="#2c2c2c"/>
<path d="M1004 527L1009 528L1016 525L1020 522L1020 520L1014 520L1007 521L1003 524Z" fill="#2c2c2c"/>
<path d="M1104 588L1108 595L1116 597L1118 595L1113 588L1105 586Z" fill="#2c2c2c"/>
<path d="M578 512L583 514L590 515L596 519L602 522L608 525L611 529L621 509L616 509L610 506L604 503L598 500L594 495L590 492Z" fill="#2e2e2e"/>
<path d="M252 317L257 321L263 324L270 325L276 325L278 323L273 318L267 314L259 313L253 315Z" fill="#2f2f2f"/>
<path d="M376 362L372 362L366 361L360 363L354 366L349 369L344 374L340 378L337 384L335 389L332 394L330 398L328 403L326 405L328 407L331 406L336 402L339 398L341 392L344 388L347 384L350 379L353 375L358 372L362 370L368 368L373 366L377 363Z" fill="#2f2f2f"/>
<path d="M403 471L409 472L416 470L423 468L428 465L428 463L422 461L414 462L407 465L403 469Z" fill="#2f2f2f"/>
<path d="M285 475L289 480L296 483L302 482L302 480L299 475L292 472L286 473Z" fill="#2f2f2f"/>
<path d="M782 291L781 294L779 299L779 305L779 311L779 317L778 323L778 328L781 336L784 341L786 344L789 343L788 339L788 334L788 327L788 323L787 317L787 311L787 305L786 299L785 295L784 291Z" fill="#2f2f2f"/>
<path d="M451 430L455 433L462 436L467 438L473 440L481 441L487 442L494 441L500 439L506 438L510 436L510 434L506 433L500 432L493 432L486 432L481 433L475 432L469 431L464 429L457 428L453 427Z" fill="#2f2f2f"/>
<path d="M1091 446L1092 450L1093 457L1097 463L1100 468L1104 474L1109 478L1112 481L1114 479L1113 475L1112 469L1109 463L1105 458L1102 452L1097 447L1093 444Z" fill="#2f2f2f"/>
<path d="M871 492L875 493L881 493L888 493L896 492L900 493L905 494L910 495L916 494L922 495L927 496L932 496L937 497L944 499L950 498L954 497L958 496L958 493L955 492L950 489L945 487L937 488L933 488L928 487L923 486L917 486L912 484L906 483L901 484L896 484L888 483L880 485L875 486L871 488Z" fill="#2f2f2f"/>
<path d="M950 520L954 521L961 522L968 520L973 518L978 516L983 512L988 509L991 506L989 503L986 504L980 505L974 506L969 509L964 510L958 512L953 516L949 518Z" fill="#2f2f2f"/>
<path d="M711 589L716 589L722 587L726 586L732 587L738 588L740 586L735 581L727 576L719 578L713 582L709 586Z" fill="#2f2f2f"/>
<path d="M962 640L966 643L972 645L979 645L985 645L990 644L990 642L986 639L980 637L973 636L967 637L962 638Z" fill="#2f2f2f"/>
<path d="M1010 618L1015 618L1022 617L1029 616L1034 614L1040 611L1045 608L1047 605L1046 603L1042 603L1037 604L1032 607L1027 608L1020 610L1014 612L1009 615Z" fill="#2f2f2f"/>
<path d="M960 543L966 543L973 542L977 542L983 543L989 542L993 541L993 539L989 537L984 534L978 534L972 534L964 536L960 541Z" fill="#2f2f2f"/>
<path d="M638 566L641 563L646 563L652 563L658 560L663 561L668 560L673 556L678 554L684 556L689 556L692 554L688 528L685 527L680 528L675 532L669 532L662 529L657 531L651 535L644 536L638 540L634 542L630 542Z" fill="#303030"/>
<path d="M628 582L633 583L637 589L644 592L650 595L655 600L660 601L672 575L669 572L662 571L656 568L651 565L644 564L640 560Z" fill="#303030"/>
<path d="M325 295L328 298L332 302L337 308L345 311L355 310L362 311L361 310L360 307L362 309L364 315L370 319L377 326L381 331L399 303L393 302L387 299L386 296L381 293L376 287L367 279L354 279L348 285L346 286L344 287L338 288L333 287L329 287Z" fill="#303030"/>
<path d="M288 449L293 457L300 450L300 445L295 437L288 443Z" fill="#303030"/>
<path d="M431 301L434 303L440 305L446 309L452 314L461 315L469 315L477 316L484 313L488 307L491 305L495 304L498 302L503 302L509 304L515 303L520 301L523 300L522 278L518 279L513 277L507 276L501 280L495 281L488 281L481 285L475 288L470 289L469 289L466 293L463 293L461 291L458 291L455 287L452 282L449 279Z" fill="#303030"/>
<path d="M469 306L475 306L482 306L488 304L494 302L499 301L504 301L496 280L493 283L488 286L482 288L476 291L470 296L467 300Z" fill="#303030"/>
<path d="M532 312L535 316L540 321L547 325L553 329L561 330L568 328L575 331L583 331L589 328L596 326L601 323L605 317L608 314L616 310L620 304L616 297L610 297L602 300L597 300L591 299L586 300L582 302L578 301L573 303L568 306L563 303L558 303L552 305L546 304L539 305L534 306Z" fill="#303030"/>
<path d="M547 317L551 321L557 326L565 326L571 327L577 323L582 319L585 317L585 311L581 310L575 308L569 307L565 308L560 306L554 309L549 311Z" fill="#303030"/>
<path d="M635 310L638 310L639 312L637 312L637 311L638 311L637 311L637 309L638 309L639 310L638 312L638 312L638 311L639 311L637 311L637 310L640 311L636 289L631 291L623 294L617 301L615 309L617 318L620 326L627 334L636 337L646 335L654 329L659 322L662 313L661 303L654 295L646 292L641 290Z" fill="#303030"/>
<path d="M625 312L629 316L630 321L650 309L645 305L643 300Z" fill="#303030"/>
<path d="M671 307L673 310L674 313L676 314L679 316L701 296L699 292L694 287L687 285L683 285Z" fill="#303030"/>
<path d="M682 319L684 325L692 329L699 334L708 337L716 335L722 334L730 336L735 335L740 332L746 332L752 328L757 326L760 325L765 324L767 324L771 317L768 314L760 311L755 312L749 310L743 308L737 310L731 310L726 310L719 314L714 315L712 313L709 313L706 311L702 305L696 303Z" fill="#303030"/>
<path d="M703 326L708 333L716 334L724 332L729 326L727 320L722 317L716 316L711 315L705 320Z" fill="#303030"/>
<path d="M666 302L662 309L662 316L667 321L673 323L679 321L682 315L682 308L677 303L670 300Z" fill="#303030"/>
<path d="M723 300L725 309L730 302L732 295L730 286L725 294Z" fill="#303030"/>
<path d="M475 400L482 402L489 401L492 397L495 393L493 388L489 385L483 384L477 388L473 394Z" fill="#303030"/>
<path d="M726 300L729 308L735 300L735 294L732 285L726 292Z" fill="#303030"/>
<path d="M826 300L831 302L837 301L843 300L850 296L851 289L847 283L839 279L831 278L825 281Z" fill="#303030"/>
<path d="M842 306L845 310L854 313L863 315L867 317L877 283L873 283L872 281L873 278L870 276Z" fill="#303030"/>
<path d="M855 387L859 389L864 389L870 390L876 391L882 390L888 389L894 391L901 389L908 382L916 376L920 369L921 364L925 361L929 361L931 357L934 353L937 352L941 350L945 349L946 351L950 354L954 355L955 357L955 360L957 358L956 360L952 361L950 362L943 363L938 364L936 370L940 373L946 378L955 381L966 376L975 367L977 356L975 348L970 341L964 332L953 329L944 330L936 330L929 332L923 336L917 338L911 341L908 347L905 355L902 359L900 362L897 365L891 365L888 366L884 370L879 370L874 371L868 374L863 376L858 377L854 379Z" fill="#303030"/>
<path d="M869 386L873 387L879 387L886 389L893 388L899 386L910 384L915 375L916 365L917 359L911 357L907 360L901 363L896 363L892 368L889 369L883 369L877 374L871 376L867 378Z" fill="#303030"/>
<path d="M963 381L971 386L978 383L982 378L984 373L982 369L977 367L972 366L965 368L961 377Z" fill="#303030"/>
<path d="M993 337L998 337L1003 333L1008 331L1009 332L1010 330L1011 333L1010 336L1010 339L1012 341L1013 343L1011 345L1009 348L1008 351L1004 352L998 351L994 352L989 353L986 354L987 354L989 353L988 351L985 349L984 345L986 343L986 341L990 338L996 337L999 334L981 312L978 314L975 320L970 326L964 331L961 343L961 353L961 361L965 370L975 376L985 378L992 378L999 378L1004 376L1010 372L1017 369L1024 367L1032 360L1036 350L1037 342L1039 333L1036 326L1030 320L1024 314L1015 307L1006 307L998 308L991 308L987 309Z" fill="#303030"/>
<path d="M964 336L961 342L963 350L966 358L967 364L995 354L992 350L992 346L993 341L990 336Z" fill="#303030"/>
<path d="M965 343L964 350L966 357L993 355L994 348L992 341Z" fill="#303030"/>
<path d="M999 338L1001 338L1001 336L1006 333L1012 333L1010 308L1003 309L993 309L984 312L981 316Z" fill="#303030"/>
<path d="M976 340L978 343L980 339L979 339L975 343L997 357L1000 350L1004 337L998 323L992 320Z" fill="#303030"/>
<path d="M988 354L995 355L1002 351L1007 344L1009 339L1009 334L1010 331L1008 327L1004 328L997 329L992 335L990 339L986 343L984 350Z" fill="#303030"/>
<path d="M951 383L956 386L963 389L969 386L975 384L981 382L985 378L977 361L973 361L967 364L962 366L956 366L952 373L949 378Z" fill="#303030"/>
<path d="M1042 388L1043 383L1047 379L1051 379L1054 377L1059 378L1063 378L1066 373L1068 375L1069 375L1070 376L1069 378L1068 381L1073 386L1073 392L1101 392L1101 385L1105 374L1100 365L1093 358L1086 350L1076 346L1066 346L1054 343L1044 348L1038 356L1032 363L1030 373L1031 382L1032 388Z" fill="#303030"/>
<path d="M1047 375L1053 376L1057 376L1061 375L1062 367L1060 360L1053 354L1047 357L1043 362L1043 368Z" fill="#303030"/>
<path d="M1055 377L1053 381L1049 387L1045 395L1048 403L1050 410L1052 418L1060 424L1071 427L1082 428L1088 428L1081 401L1078 403L1076 405L1078 402L1077 399L1074 398L1072 394L1072 391L1067 387L1064 382L1062 378Z" fill="#303030"/>
<path d="M1040 388L1039 393L1040 399L1040 404L1045 407L1048 409L1053 408L1056 404L1058 398L1054 393L1050 388L1046 386Z" fill="#303030"/>
<path d="M1019 431L1024 432L1032 433L1041 433L1047 429L1053 427L1058 426L1060 424L1065 419L1070 420L1066 397L1060 399L1051 399L1044 401L1040 407L1036 410L1032 411L1027 416L1021 420L1017 423Z" fill="#303030"/>
<path d="M1093 372L1100 377L1103 380L1103 379L1105 382L1109 385L1113 387L1129 375L1127 369L1123 364L1116 359L1107 354L1097 358L1092 366Z" fill="#303030"/>
<path d="M998 451L1003 452L1009 451L1017 452L1021 453L1026 453L1031 457L1037 458L1044 454L1052 453L1061 451L1067 445L1075 443L1081 443L1082 439L1087 435L1091 435L1081 404L1076 407L1066 409L1059 411L1055 417L1053 422L1049 422L1046 423L1041 424L1036 420L1032 422L1026 425L1018 426L1011 429L1005 434L999 437L995 440Z" fill="#303030"/>
<path d="M1144 423L1146 432L1153 436L1159 438L1165 437L1168 433L1167 427L1163 421L1156 417L1148 418Z" fill="#303030"/>
<path d="M1189 446L1188 454L1194 462L1204 461L1207 454L1205 449L1200 445L1201 445L1199 445L1193 444Z" fill="#303030"/>
<path d="M192 516L195 520L201 524L208 526L214 523L216 519L213 513L207 510L200 509L194 510Z" fill="#303030"/>
<path d="M259 551L263 553L268 554L273 552L279 550L285 550L289 546L294 544L300 545L306 545L311 543L317 539L323 537L326 534L327 532L329 535L331 538L336 539L341 541L346 544L352 545L357 549L362 556L370 556L377 556L383 556L387 555L393 553L396 553L398 547L395 545L391 541L387 538L382 536L378 532L374 528L369 529L364 527L360 521L354 518L349 515L344 510L336 510L327 511L318 511L311 512L306 516L302 517L298 517L294 520L289 523L284 523L278 522L273 524L268 525L262 525L258 528L255 531Z" fill="#303030"/>
<path d="M368 532L371 535L376 541L382 543L388 543L394 540L397 537L397 530L394 528L390 525L386 523L380 522L373 525L369 527Z" fill="#303030"/>
<path d="M401 524L402 531L405 539L412 544L420 548L428 547L437 547L447 543L452 536L448 528L441 525L435 525L432 523L428 519L424 519L419 518L412 518L406 518Z" fill="#303030"/>
<path d="M442 538L448 539L455 537L463 538L468 534L473 531L480 531L485 529L490 523L496 521L500 519L488 494L484 496L479 500L471 500L466 503L462 509L456 511L450 513L446 520L441 524L438 529Z" fill="#303030"/>
<path d="M578 502L581 510L586 517L592 521L599 523L604 527L612 527L618 525L621 518L619 512L614 507L610 505L605 500L599 497L591 495L583 495Z" fill="#303030"/>
<path d="M630 514L634 514L640 514L643 517L647 517L649 520L651 520L655 519L656 523L656 528L662 531L667 527L671 519L672 507L665 498L653 495L642 493L634 498L629 505L626 508Z" fill="#303030"/>
<path d="M625 523L623 530L625 541L632 546L639 546L645 545L648 539L647 534L645 528L643 527L637 524L631 520Z" fill="#303030"/>
<path d="M640 561L645 560L654 561L661 561L668 560L673 561L675 556L677 554L681 556L686 558L693 557L699 556L705 554L711 547L717 544L720 543L720 533L716 532L710 530L703 525L696 523L691 523L686 522L681 524L675 526L668 525L658 524L652 530L648 535L643 541L639 549L636 552Z" fill="#303030"/>
<path d="M629 577L632 581L636 589L642 593L649 594L651 596L658 594L664 594L670 589L670 582L667 570L658 568L651 565L645 565L637 568L631 569Z" fill="#303030"/>
<path d="M608 572L610 578L617 575L619 571L617 563L611 566Z" fill="#303030"/>
<path d="M711 544L716 546L721 545L727 545L733 546L737 546L742 546L748 551L753 552L758 548L763 546L768 547L773 545L779 544L785 548L791 547L796 544L800 545L805 546L810 545L814 548L818 553L823 552L831 551L839 552L849 550L855 545L861 544L867 541L871 533L875 528L879 524L882 521L877 513L873 513L867 514L861 515L854 513L848 516L843 519L839 519L837 520L835 520L832 516L828 513L821 515L815 516L810 513L804 512L797 513L790 509L783 509L777 514L771 514L765 513L760 515L755 514L749 511L745 514L740 519L734 520L728 521L723 525L717 528L712 530L709 533Z" fill="#303030"/>
<path d="M783 531L788 534L794 540L799 540L805 540L811 538L816 534L818 528L814 522L808 518L801 517L794 517L787 523L783 526Z" fill="#303030"/>
<path d="M885 542L888 546L893 551L898 558L903 561L907 568L912 572L919 572L926 573L932 577L939 578L945 579L951 582L957 582L964 578L972 574L978 571L981 567L986 564L991 562L989 551L984 550L976 550L969 551L964 552L960 552L957 548L953 547L948 550L944 550L939 548L935 548L930 545L927 540L922 539L915 540L910 538L902 537L895 535L890 533Z" fill="#303030"/>
<path d="M961 567L965 568L970 571L976 571L980 573L983 575L988 575L994 577L1000 581L1007 583L1013 580L1020 579L1027 578L1033 572L1039 569L1046 569L1048 566L1051 560L1051 558L1054 558L1058 560L1064 557L1064 551L1059 542L1048 540L1038 539L1030 540L1026 546L1022 548L1017 547L1014 548L1010 549L1006 547L1003 548L999 551L994 550L989 547L981 548L974 550L968 552L963 556L959 559Z" fill="#303030"/>
<path d="M1003 593L1008 596L1015 597L1023 599L1029 598L1034 596L1040 597L1046 596L1051 590L1055 585L1058 582L1056 576L1052 577L1046 577L1039 574L1035 576L1031 579L1026 579L1021 579L1015 582L1008 584L1004 586Z" fill="#303030"/>
<path d="M1080 569L1084 569L1089 570L1095 571L1100 571L1106 573L1110 573L1115 570L1120 570L1126 574L1132 572L1137 571L1142 572L1147 570L1152 567L1157 567L1162 571L1166 570L1172 569L1178 570L1183 568L1188 566L1190 568L1193 573L1195 573L1215 547L1210 541L1198 540L1191 541L1185 538L1179 535L1172 537L1166 535L1160 535L1155 539L1150 541L1144 538L1139 537L1134 539L1130 539L1124 538L1118 542L1112 544L1106 541L1100 543L1095 548L1089 550L1084 555L1081 559L1078 561Z" fill="#303030"/>
<path d="M1127 561L1130 564L1135 566L1141 567L1147 571L1153 571L1159 568L1166 571L1172 572L1176 569L1180 568L1186 569L1191 567L1195 568L1199 540L1195 540L1188 537L1180 538L1174 537L1167 535L1162 537L1156 542L1151 540L1146 540L1141 544L1135 545L1130 547L1127 550Z" fill="#303030"/>
<path d="M1216 488L1215 491L1213 496L1213 503L1213 509L1212 515L1212 521L1214 527L1215 533L1214 538L1214 541L1234 541L1233 537L1232 532L1233 526L1235 520L1234 515L1233 509L1234 503L1234 497L1233 492L1232 488Z" fill="#303030"/>
<path d="M1185 528L1185 534L1190 541L1199 544L1208 539L1208 533L1203 525L1198 525L1194 525L1189 524Z" fill="#303030"/>
<path d="M1172 570L1178 574L1185 577L1193 576L1199 571L1201 565L1195 558L1187 555L1178 558L1172 562Z" fill="#303030"/>
<path d="M1142 605L1143 609L1145 613L1147 618L1148 625L1151 630L1153 636L1152 643L1155 648L1162 649L1165 654L1167 659L1172 661L1174 666L1172 673L1174 678L1180 681L1182 686L1183 690L1185 693L1223 675L1222 672L1219 668L1217 664L1218 657L1215 651L1207 648L1204 643L1203 636L1198 631L1195 626L1194 618L1190 614L1183 612L1178 609L1173 604L1166 602L1161 599L1157 596L1154 595Z" fill="#303030"/>
<path d="M1156 624L1157 627L1160 632L1162 639L1164 646L1169 652L1172 659L1176 663L1183 664L1186 667L1189 672L1195 675L1199 681L1203 690L1213 691L1217 693L1234 667L1231 664L1228 656L1220 656L1216 654L1214 649L1209 645L1204 640L1201 633L1196 629L1189 628L1185 626L1179 624L1173 622L1169 618L1166 616Z" fill="#303030"/>
<path d="M1167 666L1170 670L1173 675L1178 680L1183 683L1189 686L1192 690L1196 692L1207 670L1204 668L1198 668L1193 665L1188 662L1182 661L1175 660L1171 660Z" fill="#303030"/>
<path d="M1187 651L1192 655L1193 663L1199 668L1204 675L1208 681L1216 682L1221 683L1235 663L1233 659L1231 652L1226 651L1222 648L1219 643L1212 640L1210 635Z" fill="#303030"/>
<path d="M1191 617L1190 623L1186 633L1188 642L1191 648L1215 640L1214 635L1214 631L1212 627L1213 623Z" fill="#303030"/>
<path d="M257 294L260 297L266 297L268 293L266 288L261 286Z" fill="#343434"/>
<path d="M229 364L232 368L234 374L240 379L245 384L251 388L258 389L262 391L264 388L261 385L258 379L252 374L247 371L242 366L235 364L231 362Z" fill="#343434"/>
<path d="M177 398L184 398L190 395L190 392L184 388L179 387Z" fill="#343434"/>
<path d="M202 477L206 476L212 475L218 474L223 472L228 470L232 467L232 464L227 463L221 463L214 464L209 467L204 472L200 475Z" fill="#343434"/>
<path d="M377 406L384 408L391 407L394 405L398 404L400 400L396 396L389 393L381 396L376 402Z" fill="#343434"/>
<path d="M430 450L435 454L442 454L447 451L447 449L442 446L435 445L430 448Z" fill="#343434"/>
<path d="M584 293L588 294L594 295L600 295L605 296L612 295L617 294L617 292L613 289L605 286L600 286L594 286L588 288L584 289Z" fill="#343434"/>
<path d="M757 293L763 295L770 293L770 291L764 288L757 289Z" fill="#343434"/>
<path d="M613 335L614 339L614 345L612 351L612 355L612 359L611 364L608 370L611 374L609 377L605 379L605 383L611 385L620 384L627 375L627 366L627 361L628 355L628 349L624 343L621 337L619 333Z" fill="#343434"/>
<path d="M537 337L533 341L528 346L526 350L521 353L514 356L509 361L505 367L501 371L503 375L508 373L516 372L523 369L529 365L536 359L540 352L541 344L541 338Z" fill="#343434"/>
<path d="M478 356L483 356L488 355L494 353L498 350L498 346L492 344L486 345L480 349L476 353Z" fill="#343434"/>
<path d="M619 422L623 423L627 426L627 428L626 432L624 434L621 436L619 435L617 433L616 431L615 428L615 426L617 424L619 423L622 422L620 416L617 416L613 418L610 422L607 428L608 434L611 439L617 442L623 442L628 439L632 434L633 428L631 422L627 418L623 416Z" fill="#343434"/>
<path d="M451 428L447 432L447 437L449 442L452 444L454 444L455 440L455 437L455 433L453 429Z" fill="#343434"/>
<path d="M465 451L462 454L459 459L457 465L456 472L458 478L460 478L462 473L464 467L466 462L468 456L468 452Z" fill="#343434"/>
<path d="M440 450L442 454L446 452L446 450L444 446L440 448Z" fill="#343434"/>
<path d="M663 469L666 471L670 475L675 477L681 478L687 479L693 479L699 479L705 480L711 481L716 479L720 477L720 475L717 473L712 471L706 471L699 471L694 470L689 469L683 468L677 467L672 466L667 467L663 467Z" fill="#343434"/>
<path d="M710 294L717 296L723 294L721 286L715 286L710 290Z" fill="#343434"/>
<path d="M802 293L799 301L799 312L805 319L809 325L818 325L824 325L827 321L827 316L826 307L821 304L819 301L813 297L808 292Z" fill="#343434"/>
<path d="M866 396L867 403L874 409L880 409L886 407L892 404L897 397L897 390L895 389L890 394L887 400L884 401L879 403L876 403L873 399L868 395Z" fill="#343434"/>
<path d="M851 452L854 456L858 453L858 451L855 447L851 450Z" fill="#343434"/>
<path d="M710 478L714 479L720 479L726 477L731 477L736 476L742 475L747 476L753 476L760 471L764 467L763 465L758 465L750 464L746 465L741 467L736 467L730 467L724 469L718 469L713 472L710 474Z" fill="#343434"/>
<path d="M762 462L760 467L760 475L763 480L765 480L768 475L767 467L765 462Z" fill="#343434"/>
<path d="M988 432L983 436L978 443L975 448L973 454L974 463L982 466L989 467L991 464L985 461L983 457L984 456L986 452L987 447L990 440L992 434Z" fill="#343434"/>
<path d="M968 471L972 474L978 476L985 476L990 475L990 473L986 470L980 468L973 467L968 469Z" fill="#343434"/>
<path d="M1024 336L1025 342L1027 349L1027 354L1028 360L1030 360L1034 355L1035 347L1032 339L1028 334Z" fill="#343434"/>
<path d="M1026 374L1024 380L1024 388L1028 396L1033 402L1039 407L1045 410L1047 407L1045 401L1040 396L1037 390L1034 385L1031 379L1029 374Z" fill="#343434"/>
<path d="M994 453L994 457L997 463L998 465L995 467L991 471L991 473L998 473L1004 467L1003 460L1000 454L996 451Z" fill="#343434"/>
<path d="M1115 475L1120 478L1128 478L1136 476L1142 471L1146 466L1149 460L1151 456L1149 454L1145 456L1140 460L1135 464L1132 467L1126 469L1120 470L1115 473Z" fill="#343434"/>
<path d="M383 490L382 494L379 500L379 506L379 511L381 520L385 526L388 525L390 519L390 511L390 506L390 500L387 494L386 490Z" fill="#343434"/>
<path d="M303 502L310 499L315 496L318 498L322 502L321 508L321 515L324 515L328 509L328 500L323 492L314 489L305 493L301 499Z" fill="#343434"/>
<path d="M435 512L440 512L445 509L449 504L451 500L449 497L445 498L439 501L434 505L433 510Z" fill="#343434"/>
<path d="M344 582L350 581L357 579L364 576L369 572L368 570L362 570L354 571L348 576L343 580Z" fill="#343434"/>
<path d="M343 646L347 652L354 657L360 658L366 658L371 658L376 658L382 658L387 661L391 663L395 665L398 666L400 665L399 661L395 656L390 654L384 652L377 649L371 648L366 650L361 650L357 649L350 647L344 644Z" fill="#343434"/>
<path d="M218 659L223 660L228 662L230 664L234 669L235 671L234 672L234 673L242 679L245 676L245 669L242 663L238 658L232 653L223 654L217 656Z" fill="#343434"/>
<path d="M180 628L184 628L189 628L191 631L196 635L200 638L202 636L201 631L198 625L193 621L186 618L181 617Z" fill="#343434"/>
<path d="M191 489L196 489L199 485L199 483L193 483L190 487Z" fill="#343434"/>
<path d="M519 491L523 492L528 493L534 492L540 491L545 491L550 489L556 487L561 486L564 485L564 481L560 481L555 481L549 480L543 480L538 481L532 482L526 484L522 487L518 489Z" fill="#343434"/>
<path d="M551 509L554 517L564 519L573 516L577 509L575 505L569 503L564 503L560 501L552 505Z" fill="#343434"/>
<path d="M556 513L553 518L554 525L557 530L559 530L561 525L561 518L558 513Z" fill="#343434"/>
<path d="M585 492L589 493L594 493L600 493L605 493L610 493L617 494L621 494L622 491L618 488L612 485L605 483L599 484L593 484L588 486L584 488Z" fill="#343434"/>
<path d="M668 580L673 581L680 582L685 579L690 578L695 574L698 570L698 567L693 566L687 565L681 567L675 569L670 574L666 578Z" fill="#343434"/>
<path d="M475 582L472 586L468 591L464 596L461 601L457 605L452 609L449 613L451 616L456 615L462 612L469 607L473 602L476 595L478 589L479 584Z" fill="#343434"/>
<path d="M440 581L445 585L452 582L453 580L447 575L440 577Z" fill="#343434"/>
<path d="M597 593L601 597L608 598L613 597L614 594L610 590L603 588L597 590Z" fill="#343434"/>
<path d="M441 508L447 507L449 502L447 500L441 500L439 506Z" fill="#343434"/>
<path d="M742 514L746 514L752 512L755 511L759 512L763 514L765 512L762 507L756 503L749 505L744 508L740 512Z" fill="#343434"/>
<path d="M779 516L783 515L789 514L795 510L798 506L796 504L792 504L786 506L781 511L777 514Z" fill="#343434"/>
<path d="M822 508L828 509L835 507L838 502L838 499L832 498L825 501L821 506Z" fill="#343434"/>
<path d="M892 513L896 513L902 514L907 514L912 514L917 515L923 517L928 516L930 514L926 510L920 506L913 504L907 504L901 506L895 508L891 509Z" fill="#343434"/>
<path d="M936 507L934 512L931 519L931 523L928 528L926 532L928 535L933 533L939 527L941 520L940 512L938 507Z" fill="#343434"/>
<path d="M902 526L905 530L911 532L916 531L917 528L913 525L907 523L902 524Z" fill="#343434"/>
<path d="M756 548L757 553L758 558L758 561L755 565L751 570L752 572L759 570L765 564L765 557L761 551L759 548Z" fill="#343434"/>
<path d="M812 551L815 555L818 560L823 564L829 567L833 568L835 566L832 562L828 557L824 553L818 551L814 549Z" fill="#343434"/>
<path d="M868 601L871 605L877 607L883 609L887 609L888 607L885 603L880 601L874 598L870 598Z" fill="#343434"/>
<path d="M936 596L939 601L944 606L946 607L942 609L937 613L937 615L946 615L953 609L949 601L943 597L938 595Z" fill="#343434"/>
<path d="M989 607L983 608L979 614L978 620L979 621L985 620L990 615L991 609Z" fill="#343434"/>
<path d="M712 483L717 486L725 485L730 483L730 480L725 479L717 478L712 481Z" fill="#343434"/>
<path d="M1150 543L1154 545L1159 545L1165 546L1170 546L1175 545L1180 546L1186 546L1191 544L1195 543L1195 539L1192 537L1187 534L1181 533L1175 533L1170 532L1164 533L1158 535L1153 537L1150 539Z" fill="#343434"/>
<path d="M1086 570L1090 572L1097 575L1103 576L1107 578L1112 580L1117 582L1119 586L1121 589L1125 593L1128 597L1132 595L1132 591L1132 585L1129 578L1124 574L1119 568L1113 564L1105 563L1098 562L1091 565L1086 566Z" fill="#343434"/>
<path d="M1058 506L1064 506L1068 502L1068 500L1062 500L1058 504Z" fill="#343434"/>
<path d="M1093 508L1098 509L1105 511L1111 509L1117 507L1122 505L1125 502L1131 501L1138 501L1143 501L1148 501L1154 503L1159 503L1165 505L1171 506L1176 507L1178 503L1175 500L1169 496L1162 493L1156 491L1150 490L1144 490L1138 489L1130 491L1123 494L1117 494L1113 496L1109 498L1103 499L1097 502L1093 505Z" fill="#343434"/>
<path d="M1060 506L1065 506L1068 502L1067 499L1061 499L1058 504Z" fill="#343434"/>
<path d="M1130 667L1138 667L1142 661L1141 659L1133 659L1129 665Z" fill="#343434"/>
<path d="M960 663L964 664L970 665L976 663L981 663L986 663L991 663L996 664L998 666L1003 670L1008 675L1011 673L1010 666L1005 658L998 656L992 655L987 653L980 653L974 653L968 654L963 658L960 661Z" fill="#343434"/>
<path d="M959 615L963 622L973 625L980 621L984 614L986 609L984 607L979 610L974 614L972 615L967 614L961 613Z" fill="#343434"/>
<path d="M1159 580L1164 582L1171 580L1175 576L1174 574L1169 573L1162 574L1158 578Z" fill="#343434"/>
<path d="M204.1 292.7L204.7 296.5L207.7 299.6L211.3 300.6L212.7 299.4L212.2 295.7L209.5 292.3L205.9 291.3Z" fill="#363636"/>
<path d="M194.8 321.9L197.9 323.7L202.6 324.8L207.4 325.4L210.8 324.8L211.2 323.2L208.1 321.4L203.4 320.2L198.6 319.6L195.2 320.1Z" fill="#363636"/>
<path d="M272.6 336.6L274.2 339.2L276.9 342.4L280.7 344.7L284.7 346.0L287.6 346.7L288.4 345.3L286.7 343.0L284.0 339.8L280.4 337.1L276.4 335.9L273.4 335.4Z" fill="#363636"/>
<path d="M285.5 334.4L288.5 335.9L293.0 337.0L298.1 337.1L302.7 337.0L305.9 336.4L306.1 335.0L303.1 333.8L298.5 332.8L293.5 331.9L288.9 332.1L285.7 333.0Z" fill="#363636"/>
<path d="M303.1 413.6L300.4 416.0L298.3 420.2L297.3 424.9L297.3 428.4L298.7 429.0L301.1 426.5L303.7 422.5L305.2 418.0L304.9 414.4Z" fill="#363636"/>
<path d="M179.1 466.9L181.8 465.7L185.7 463.7L190.3 461.9L195.1 460.5L198.9 458.2L201.3 456.2L200.7 454.8L197.6 454.8L193.3 455.4L188.7 457.4L184.0 458.9L179.7 459.9L176.9 460.7Z" fill="#363636"/>
<path d="M403.2 363.3L405.8 363.5L409.4 363.9L413.1 362.8L416.9 361.5L420.5 360.7L424.2 360.3L428.2 359.9L432.2 359.3L435.6 358.0L438.0 357.1L438.0 355.7L435.4 355.2L431.9 354.3L427.8 354.2L423.5 354.6L419.5 355.3L415.6 356.1L411.5 356.8L407.7 358.0L404.8 360.3L402.8 361.9Z" fill="#363636"/>
<path d="M343.2 439.6L345.4 440.9L348.7 442.2L352.5 443.4L355.9 445.0L358.8 446.7L361.2 448.8L363.5 451.5L365.3 454.7L366.7 457.7L367.6 460.0L368.1 464.1L367.7 468.5L367.5 471.8L368.5 472.2L370.2 469.2L372.2 464.6L372.4 459.2L371.1 455.7L369.1 452.4L366.6 449.1L364.0 446.0L361.2 443.3L357.7 441.3L353.6 440.0L349.6 438.9L346.1 438.5L343.6 438.4Z" fill="#363636"/>
<path d="M406.5 412.5L407.5 416.0L410.1 420.3L414.1 423.5L417.4 425.0L418.6 424.0L417.5 420.5L414.9 416.2L410.9 413.0L407.5 411.5Z" fill="#363636"/>
<path d="M336.6 318.6L338.7 321.1L342.5 323.6L346.5 325.8L349.6 326.6L350.4 325.4L348.2 322.9L344.5 320.4L340.5 318.2L337.4 317.4Z" fill="#363636"/>
<path d="M555.6 292.8L558.1 294.0L561.7 295.4L566.0 295.3L570.6 295.1L575.0 295.3L578.8 295.3L583.0 294.9L587.3 294.5L591.3 294.6L594.6 293.9L597.0 293.0L597.0 291.0L594.5 290.2L591.1 289.7L587.2 290.0L582.9 289.9L578.7 289.6L575.0 289.7L570.7 289.8L566.2 289.4L561.9 289.0L558.3 290.1L555.6 291.2Z" fill="#363636"/>
<path d="M728.4 362.6L731.8 362.4L736.1 360.7L740.5 358.2L744.4 355.7L746.7 353.3L745.9 351.9L742.7 352.3L738.3 353.8L733.7 355.9L729.8 358.3L727.6 360.8Z" fill="#363636"/>
<path d="M723.8 385.5L726.4 385.5L729.8 385.0L733.2 382.9L736.9 381.2L740.7 379.8L744.1 378.7L746.4 377.9L750.2 378.0L753.4 379.7L756.8 380.7L759.6 380.9L760.4 379.1L758.7 377.0L755.7 374.6L751.2 373.4L746.2 372.9L742.6 373.5L738.8 374.8L734.9 376.6L731.0 378.2L727.3 379.5L724.7 381.8L723.0 383.7Z" fill="#363636"/>
<path d="M440.1 361.3L443.8 362.9L448.6 362.0L452.1 360.1L451.9 358.9L448.3 357.6L443.3 357.5L439.9 359.7Z" fill="#363636"/>
<path d="M555.6 386.7L559.1 387.8L564.0 388.1L568.8 387.0L572.0 385.7L572.0 384.3L568.6 383.4L563.6 382.9L558.8 383.8L555.6 385.3Z" fill="#363636"/>
<path d="M537.4 415.4L540.5 414.5L541.5 411.5L540.5 410.5L537.5 411.5L536.6 414.6Z" fill="#363636"/>
<path d="M584.7 412.8L588.4 413.3L593.3 412.1L598.0 410.4L601.2 408.6L600.8 407.4L597.3 407.2L592.2 407.9L587.4 409.1L584.3 411.2Z" fill="#363636"/>
<path d="M672.7 325.5L674.6 328.2L677.9 331.4L682.0 333.6L685.3 334.3L686.1 333.1L684.2 330.3L680.8 327.3L676.5 325.4L673.3 324.5Z" fill="#363636"/>
<path d="M787.9 306.6L786.4 308.9L784.3 312.2L782.7 316.3L781.2 320.5L781.1 324.5L781.3 327.3L782.7 327.7L784.5 325.5L786.6 322.2L787.8 318.0L788.8 313.6L789.1 309.7L789.1 307.0Z" fill="#363636"/>
<path d="M722.4 361.5L725.3 362.6L729.4 363.2L734.0 362.2L738.4 360.5L742.1 356.0L743.6 350.3L743.7 346.2L742.3 345.8L739.8 348.9L737.3 353.3L735.2 356.5L732.9 357.4L729.0 357.4L725.1 358.2L722.4 359.5Z" fill="#363636"/>
<path d="M723.1 402.5L726.0 401.2L729.3 398.5L732.1 394.9L735.4 391.8L738.2 389.7L741.6 387.9L745.5 386.7L749.0 385.4L751.5 384.1L751.1 382.3L748.4 382.0L744.4 382.1L739.9 383.2L735.4 385.1L731.9 387.9L728.5 391.4L725.0 394.6L722.7 398.2L721.7 401.1Z" fill="#363636"/>
<path d="M740.7 414.8L743.9 417.5L749.1 418.9L753.2 418.9L753.6 417.7L750.4 415.2L745.4 413.1L741.3 413.2Z" fill="#363636"/>
<path d="M781.6 414.4L783.1 417.2L785.9 420.7L789.1 423.7L792.1 425.0L793.1 424.0L791.8 421.0L788.7 417.8L785.2 415.1L782.4 413.6Z" fill="#363636"/>
<path d="M866.9 468.8L869.3 469.9L872.8 470.9L877.0 470.9L881.4 471.3L885.5 471.8L889.1 471.2L891.7 470.6L891.7 469.4L889.4 468.4L885.9 467.2L881.7 467.1L877.3 466.8L873.2 466.1L869.6 466.5L867.1 467.2Z" fill="#363636"/>
<path d="M839.4 330.4L840.1 333.3L841.5 337.1L844.3 340.7L847.2 343.6L849.4 345.4L850.6 344.6L849.7 341.9L848.2 338.0L846.0 334.2L843.0 331.3L840.6 329.6Z" fill="#363636"/>
<path d="M1082.9 431.1L1085.7 432.6L1089.7 435.1L1094.6 436.6L1099.8 436.6L1104.1 436.7L1108.9 437.0L1113.4 435.6L1117.3 433.7L1120.0 432.7L1120.0 430.5L1117.2 429.7L1113.2 428.1L1108.6 427.0L1104.1 427.4L1100.2 427.4L1095.6 426.6L1090.8 426.9L1086.3 428.3L1083.1 428.9Z" fill="#363636"/>
<path d="M1186.2 450.8L1184.7 453.3L1183.2 457.1L1181.9 461.3L1180.4 465.1L1179.0 468.9L1177.5 472.9L1176.6 476.8L1176.3 479.7L1177.7 480.3L1179.6 478.2L1182.0 474.9L1184.0 470.9L1185.6 466.9L1186.6 462.6L1187.6 458.2L1187.9 454.1L1187.8 451.2Z" fill="#363636"/>
<path d="M980.0 429.1L980.6 432.4L982.6 436.3L985.8 439.5L988.5 441.4L989.5 440.6L988.8 437.5L987.0 433.4L984.0 430.0L981.2 428.3Z" fill="#363636"/>
<path d="M248.3 626.0L244.6 626.1L239.7 626.9L235.2 628.2L230.8 629.5L226.5 631.3L223.5 633.0L223.9 634.6L227.3 635.0L232.1 634.9L236.8 633.8L241.5 632.1L245.9 629.5L248.7 627.2Z" fill="#363636"/>
<path d="M188.0 662.5L189.6 664.9L192.6 667.5L196.2 670.1L199.8 671.9L202.5 672.7L203.5 671.3L201.9 669.0L199.0 666.2L195.4 663.6L191.9 661.7L189.2 660.9Z" fill="#363636"/>
<path d="M206.4 492.3L207.3 496.5L210.5 499.3L211.5 498.7L210.7 494.5L207.6 491.7Z" fill="#363636"/>
<path d="M520.4 587.3L520.6 590.7L523.3 592.4L524.7 591.6L524.4 588.3L521.6 586.7Z" fill="#363636"/>
<path d="M719.1 578.4L716.5 580.1L713.6 582.7L711.6 586.5L709.1 590.2L706.1 593.3L703.6 595.3L700.6 597.6L697.5 600.3L694.3 602.8L691.2 605.1L688.9 607.4L687.3 609.2L688.3 610.8L690.6 610.1L693.7 608.9L697.1 607.1L700.7 605.1L704.5 603.0L707.9 600.5L710.7 597.9L713.9 594.1L716.9 590.1L719.7 586.4L720.6 582.5L720.9 579.6Z" fill="#363636"/>
<path d="M629.5 662.2L631.6 666.1L635.6 668.4L636.4 667.6L634.4 663.6L630.5 661.2Z" fill="#363636"/>
<path d="M701.9 519.9L704.7 521.7L709.0 522.8L713.5 522.7L716.6 521.9L716.8 520.7L714.0 519.1L709.7 517.7L705.3 517.5L702.1 518.5Z" fill="#363636"/>
<path d="M866.0 496.5L864.4 499.9L864.2 504.8L865.0 509.6L866.2 513.0L867.8 513.0L869.0 509.6L869.8 504.8L869.6 499.9L868.0 496.5Z" fill="#363636"/>
<path d="M808.6 575.5L810.2 578.0L812.4 581.5L816.0 584.6L820.2 587.3L824.2 589.8L827.8 591.8L831.9 593.4L836.2 594.5L840.1 595.7L843.5 596.2L846.0 596.4L846.6 594.8L844.5 593.3L841.5 591.6L837.8 590.0L834.0 588.0L830.3 586.4L827.0 585.0L823.3 582.7L819.7 579.7L816.1 577.0L812.2 575.5L809.4 574.5Z" fill="#363636"/>
<path d="M938.6 657.9L939.5 661.0L941.4 665.1L944.1 668.6L946.9 670.4L948.1 669.6L947.4 666.4L945.1 662.5L942.0 659.3L939.4 657.3Z" fill="#363636"/>
<path d="M870.7 662.5L872.9 664.3L876.4 666.2L880.6 667.5L884.6 668.4L887.4 668.6L887.8 667.4L885.6 665.7L882.1 663.7L878.0 662.0L874.2 661.0L871.3 660.9Z" fill="#363636"/>
<path d="M837.9 664.5L841.3 667.0L846.3 667.7L850.3 666.5L850.5 665.1L847.1 662.7L842.1 661.8L838.1 663.1Z" fill="#363636"/>
<path d="M831.4 612.3L831.9 616.1L834.4 620.4L837.5 622.8L838.5 622.2L837.9 618.3L835.3 614.1L832.2 611.7Z" fill="#363636"/>
<path d="M763.4 484.6L765.5 486.5L769.0 488.8L772.9 491.2L776.8 492.5L779.7 493.0L780.3 491.8L778.3 489.7L774.9 487.3L770.7 485.5L766.8 484.0L764.0 483.4Z" fill="#363636"/>
<path d="M966.2 650.0L968.9 650.4L972.8 650.8L977.0 649.6L981.4 648.2L985.6 647.2L989.0 645.4L991.2 643.8L990.8 642.2L988.1 641.8L984.3 641.9L980.1 643.0L975.5 643.8L971.3 644.7L968.0 646.9L965.8 648.6Z" fill="#363636"/>
<path d="M980.7 509.7L983.4 510.2L987.3 510.4L991.4 509.2L995.6 508.2L999.1 506.7L1001.4 505.5L1001.2 504.1L998.5 503.9L994.7 503.9L990.5 504.6L986.2 505.1L982.8 506.8L980.5 508.3Z" fill="#363636"/>
<path d="M1003.6 526.2L1007.3 526.6L1012.2 525.5L1017.0 523.7L1020.2 521.9L1019.8 520.7L1016.2 520.5L1011.2 521.2L1006.3 522.5L1003.2 524.6Z" fill="#363636"/>
<path d="M1104.1 588.0L1105.8 590.9L1109.0 594.2L1113.2 595.9L1116.6 596.3L1117.4 594.9L1115.7 592.0L1112.5 588.8L1108.3 587.2L1104.9 586.8Z" fill="#363636"/>
<path d="M356 560L359 562L364 564L369 567L375 568L380 569L385 571L390 571L395 572L400 574L404 576L409 577L414 579L419 582L425 582L432 583L439 585L445 584L450 583L450 579L446 577L440 574L433 574L427 572L423 570L418 569L413 567L408 565L403 564L397 563L393 561L388 559L383 558L378 557L372 556L365 556L360 557L356 557Z" fill="#393939"/>
<path d="M194 565L197 568L202 574L208 579L213 581L218 585L224 588L230 589L237 591L245 592L250 591L251 588L247 584L241 580L234 577L230 574L225 571L219 570L215 567L208 564L201 562L196 561Z" fill="#393939"/>
<path d="M286 612L285 617L284 623L288 630L295 636L306 637L313 631L319 622L319 614L320 609L322 606L325 604L327 606L331 610L335 612L339 616L342 620L345 622L348 625L348 628L351 629L353 625L354 619L352 613L347 608L343 604L338 599L332 597L325 595L316 597L309 603L308 612L306 619L305 625L303 628L300 626L296 623L295 620L292 615L289 612Z" fill="#393939"/>
<path d="M480 529L484 531L489 535L495 538L501 539L507 540L514 542L521 541L527 541L533 540L539 539L543 538L547 538L551 538L557 538L562 540L569 541L576 539L582 535L586 531L587 525L586 521L583 521L581 523L579 524L576 526L571 529L567 530L564 531L559 529L554 526L547 525L541 527L536 528L531 530L526 531L521 531L515 529L509 529L503 529L497 527L491 526L486 526L482 526Z" fill="#393939"/>
<path d="M479 584L482 582L486 578L491 577L495 575L499 573L504 573L508 572L513 571L518 573L523 576L529 577L534 580L539 583L546 583L552 583L557 585L563 585L569 583L576 583L582 580L586 576L591 574L597 573L602 569L605 567L605 563L600 562L594 561L587 563L581 565L575 566L571 568L567 571L562 571L558 571L553 572L549 571L545 568L540 566L533 565L528 563L522 561L515 560L508 557L501 557L495 560L489 563L484 565L479 572L477 578L475 582Z" fill="#393939"/>
<path d="M804 547L799 550L793 554L789 559L785 563L781 568L779 572L781 574L785 573L791 570L796 566L801 561L804 554L806 549Z" fill="#393939"/>
<path d="M958 659L961 661L967 664L974 663L980 664L986 662L990 661L990 658L986 656L981 654L974 654L968 653L962 655L958 656Z" fill="#393939"/>
<path d="M580.2 508.6L582.4 509.9L585.8 511.0L589.9 512.2L593.7 514.3L597.0 516.6L600.6 518.3L604.7 519.7L608.2 521.5L610.9 523.8L612.8 525.5L619.2 512.5L616.7 512.0L613.3 511.3L609.7 509.6L606.3 507.2L603.0 505.4L599.4 504.0L595.7 501.9L592.7 499.0L590.0 496.6L587.8 495.4Z" fill="#3a3a3a"/>
<path d="M252.4 316.8L255.4 318.7L259.6 321.2L263.9 322.3L268.3 323.6L273.0 324.8L276.6 325.0L277.4 323.0L274.8 320.5L270.7 317.8L266.1 315.7L261.3 314.3L256.3 314.7L252.8 315.2Z" fill="#3b3b3b"/>
<path d="M376.3 362.0L373.9 362.0L370.3 361.9L366.3 362.6L362.1 363.6L358.1 365.0L354.6 366.7L350.6 369.4L347.1 372.3L343.9 375.5L340.9 379.3L339.1 382.4L337.4 386.0L335.7 389.7L333.9 393.1L332.2 396.1L330.9 398.2L328.2 402.9L326.6 405.5L327.4 406.5L330.5 405.2L335.1 401.4L336.7 398.5L338.2 395.3L339.9 391.8L341.9 388.4L343.9 385.4L345.9 382.7L348.4 379.2L350.8 375.9L353.5 373.1L357.0 370.9L359.9 369.7L363.6 368.5L367.5 367.3L371.3 366.1L374.5 364.4L376.7 363.2Z" fill="#3b3b3b"/>
<path d="M403.2 470.7L406.8 470.8L411.5 470.4L415.7 468.8L420.2 467.7L424.9 466.5L428.1 464.6L427.9 463.0L424.3 462.2L419.3 462.4L414.3 463.2L409.5 464.3L405.4 467.0L402.8 469.3Z" fill="#3b3b3b"/>
<path d="M285.3 474.8L287.2 477.1L290.5 479.6L294.8 480.9L298.8 481.6L301.7 481.7L302.3 480.3L300.2 478.3L296.9 475.8L293.0 473.7L288.9 473.1L285.9 473.2Z" fill="#3b3b3b"/>
<path d="M782.3 291.0L781.6 293.2L780.8 296.2L780.4 299.8L780.0 303.9L779.9 308.2L780.1 312.5L780.0 316.8L779.7 320.9L779.6 324.6L779.8 327.8L781.3 333.8L783.0 338.4L785.1 341.6L786.8 343.7L788.2 343.1L788.1 340.4L787.5 336.9L786.5 332.6L786.2 327.0L786.1 324.3L785.7 320.8L785.3 316.8L785.3 312.6L785.5 308.2L785.6 304.0L785.3 299.9L785.1 296.3L784.3 293.3L783.7 291.0Z" fill="#3b3b3b"/>
<path d="M451.6 429.6L453.7 431.7L457.2 433.8L461.9 435.1L464.9 436.2L468.2 437.4L471.9 438.3L476.2 439.0L480.8 439.6L484.4 440.0L488.4 440.2L492.6 439.6L496.9 438.7L501.0 438.2L504.8 438.0L507.9 436.8L510.1 435.7L509.9 434.1L507.5 433.4L504.3 432.8L500.5 433.4L496.4 433.7L492.1 433.6L488.0 433.6L484.3 434.0L481.2 434.4L476.9 434.2L473.2 433.2L469.7 432.2L466.5 431.3L463.5 430.5L459.1 428.7L455.3 427.8L452.4 427.8Z" fill="#3b3b3b"/>
<path d="M1091.3 445.4L1091.9 448.3L1092.5 452.4L1094.7 456.4L1097.4 460.3L1099.7 464.1L1101.5 467.6L1104.1 471.9L1106.9 475.6L1110.0 478.4L1112.1 480.4L1113.5 479.6L1112.8 476.8L1111.9 472.8L1110.0 468.4L1107.5 464.0L1105.3 460.8L1103.0 456.9L1100.8 452.7L1098.3 448.9L1094.9 446.4L1092.7 444.6Z" fill="#3b3b3b"/>
<path d="M871.1 491.1L873.4 491.8L876.2 492.2L879.4 491.9L883.0 491.3L887.0 491.2L891.2 491.1L895.7 490.9L898.8 491.0L902.3 491.7L906.0 492.6L910.0 492.9L914.2 492.8L918.4 493.0L922.5 493.7L926.4 494.4L930.2 494.7L933.6 494.9L936.7 495.4L942.4 496.7L947.4 497.2L951.7 496.7L955.1 495.9L957.7 495.3L957.9 493.7L955.5 492.6L952.2 491.1L948.2 489.9L943.2 489.3L937.3 489.4L934.3 489.2L930.9 488.6L927.2 488.0L923.2 487.7L919.1 487.4L914.9 486.6L910.8 485.5L906.8 485.0L902.8 485.2L899.2 485.3L895.9 485.1L891.1 484.8L886.6 485.1L882.4 485.7L878.7 486.0L875.4 486.6L872.8 487.7L870.9 488.9Z" fill="#3b3b3b"/>
<path d="M949.7 519.9L952.7 520.4L957.0 521.1L961.9 520.0L967.0 518.0L970.4 516.8L974.4 515.4L978.3 513.5L982.1 511.3L985.6 509.3L988.5 507.4L990.4 505.7L989.6 503.9L987.1 504.2L983.7 505.0L979.9 506.3L975.7 507.5L971.7 509.0L968.0 510.7L965.0 512.0L960.0 513.2L955.5 514.4L951.9 516.8L949.3 518.5Z" fill="#3b3b3b"/>
<path d="M710.4 588.4L713.3 588.4L717.1 587.9L720.6 585.9L724.0 584.4L726.4 584.1L729.0 584.9L732.3 586.3L735.9 587.3L738.5 588.1L739.5 586.7L737.8 584.6L735.3 581.3L731.4 578.8L726.6 577.9L722.4 578.7L718.2 580.0L714.1 581.5L711.3 584.3L709.6 586.4Z" fill="#3b3b3b"/>
<path d="M961.9 639.7L964.1 641.0L967.3 642.9L971.2 643.5L975.6 643.8L979.9 644.3L983.9 645.0L987.4 644.4L989.9 643.8L990.1 642.2L987.9 640.9L984.7 639.3L980.7 638.9L976.4 638.2L972.1 637.3L968.1 636.8L964.6 637.7L962.1 638.3Z" fill="#3b3b3b"/>
<path d="M1009.8 617.3L1012.5 617.8L1016.2 617.8L1020.3 616.6L1024.7 615.6L1028.9 614.6L1033.0 612.9L1037.3 610.9L1041.7 609.4L1045.1 607.2L1047.1 604.9L1046.3 603.1L1043.2 603.1L1039.4 604.2L1035.4 606.5L1031.1 608.1L1027.1 609.4L1023.4 610.7L1019.2 611.8L1015.1 612.3L1011.7 613.7L1009.4 615.3Z" fill="#3b3b3b"/>
<path d="M960.3 542.6L963.7 542.5L968.1 541.9L972.7 540.7L976.2 540.5L980.7 541.1L985.5 541.7L989.8 541.2L992.9 540.6L993.1 539.2L990.3 537.9L986.2 536.1L981.4 535.4L976.5 535.2L972.1 534.9L966.3 535.9L962.1 538.9L959.7 541.4Z" fill="#3b3b3b"/>
<path d="M636.7 562.2L638.7 560.5L641.8 559.3L645.8 559.1L650.1 558.7L654.2 557.1L658.2 555.7L662.3 555.7L665.8 555.6L669.6 553.8L673.5 551.2L677.8 550.5L682.1 551.3L685.9 551.4L689.1 550.6L691.4 549.9L688.6 532.1L686.3 532.1L683.1 532.3L679.4 533.5L675.5 535.5L671.0 536.1L666.3 535.0L661.7 534.8L657.7 536.3L653.5 538.4L648.9 539.5L644.3 540.5L640.4 542.9L637.1 545.2L633.9 546.0L631.3 545.8Z" fill="#3c3c3c"/>
<path d="M629.7 578.5L632.4 578.9L635.5 580.5L638.6 583.6L641.9 586.5L645.7 588.1L649.4 589.7L652.9 592.3L656.1 595.0L659.3 596.2L661.9 596.4L670.1 579.6L668.4 577.7L665.4 575.9L661.5 575.0L657.5 573.9L654.3 571.9L651.2 569.8L647.1 568.5L643.0 567.5L640.0 565.6L638.3 563.5Z" fill="#3c3c3c"/>
<path d="M325 295L328 297L332 301L338 306L345 309L355 308L361 308L361 307L361 305L364 308L366 313L371 317L378 324L382 329L398 305L392 304L386 301L384 298L380 294L375 289L367 282L355 282L349 287L346 288L343 289L338 289L333 288L329 287Z" fill="#3d3d3d"/>
<path d="M288 448L293 454L300 449L300 446L295 439L288 444Z" fill="#3d3d3d"/>
<path d="M433 299L435 301L441 304L447 308L453 312L461 313L468 313L477 313L483 310L487 306L490 303L495 302L498 300L503 300L509 302L515 300L520 298L523 298L522 280L519 281L513 279L507 279L501 282L495 283L489 283L482 287L476 290L471 291L469 292L466 295L463 295L460 294L457 293L453 289L451 284L447 281Z" fill="#3d3d3d"/>
<path d="M469 305L474 305L481 304L487 302L493 300L499 299L503 298L497 283L494 285L489 288L483 290L477 293L471 297L467 301Z" fill="#3d3d3d"/>
<path d="M532 312L535 315L540 320L547 324L554 328L561 328L568 326L575 328L583 328L589 325L595 324L601 322L604 316L608 313L616 309L619 304L616 297L610 297L602 300L598 301L591 300L587 302L582 304L578 304L573 305L568 308L563 306L558 304L552 306L545 305L539 306L534 306Z" fill="#3d3d3d"/>
<path d="M635 309L639 308L640 310L639 311L640 311L640 312L639 312L638 312L638 311L637 312L636 313L636 312L636 311L636 310L635 310L637 309L640 309L636 291L632 293L625 295L619 302L617 309L619 317L622 325L628 331L636 335L645 333L652 328L657 321L659 313L658 304L653 297L645 294L641 291Z" fill="#3d3d3d"/>
<path d="M626 311L630 315L632 320L648 310L644 306L642 301Z" fill="#3d3d3d"/>
<path d="M672 305L674 308L675 311L678 313L681 314L699 298L697 294L693 289L686 287L682 287Z" fill="#3d3d3d"/>
<path d="M683 317L686 323L693 328L700 332L708 335L715 333L722 332L730 334L734 332L740 330L746 330L752 328L757 325L760 324L765 324L767 323L771 318L768 315L760 312L755 313L749 311L743 311L737 312L731 312L726 312L719 316L714 317L711 315L708 315L705 312L700 307L695 305Z" fill="#3d3d3d"/>
<path d="M704 325L708 331L716 332L724 330L728 325L728 321L722 319L716 318L710 318L704 321Z" fill="#3d3d3d"/>
<path d="M666 302L664 308L664 315L668 320L674 323L678 321L680 315L680 309L676 304L670 300Z" fill="#3d3d3d"/>
<path d="M723 300L726 307L731 301L731 296L729 289L725 294Z" fill="#3d3d3d"/>
<path d="M475 399L481 400L488 399L492 396L494 392L494 389L490 387L484 386L478 390L473 395Z" fill="#3d3d3d"/>
<path d="M726 299L729 306L735 299L735 295L732 287L726 293Z" fill="#3d3d3d"/>
<path d="M826 298L831 299L837 299L844 298L850 295L851 290L846 284L839 281L831 281L825 283Z" fill="#3d3d3d"/>
<path d="M843 304L847 308L855 311L863 313L868 315L876 285L873 285L871 283L871 280L869 278Z" fill="#3d3d3d"/>
<path d="M855 386L859 388L864 388L870 389L876 390L882 388L887 387L894 388L900 387L907 380L915 375L918 368L920 363L923 360L927 359L930 355L933 351L936 350L940 348L944 347L947 348L951 352L956 353L957 356L958 359L959 359L957 362L952 362L949 363L943 364L938 364L936 369L940 372L946 378L955 380L965 374L973 366L975 357L973 349L968 343L962 334L952 331L944 332L937 332L930 334L924 337L919 340L913 343L910 349L907 356L903 360L901 363L898 367L892 367L889 369L885 372L879 372L874 372L869 375L863 376L858 378L854 380Z" fill="#3d3d3d"/>
<path d="M868 385L873 386L879 386L886 387L892 386L899 384L909 381L914 373L915 365L916 359L912 357L908 361L902 364L898 365L893 370L889 371L883 372L877 375L871 377L868 379Z" fill="#3d3d3d"/>
<path d="M963 381L970 383L977 381L982 376L984 373L982 369L978 369L973 368L966 371L961 377Z" fill="#3d3d3d"/>
<path d="M993 334L997 334L1002 330L1008 329L1009 329L1011 329L1013 332L1012 335L1013 338L1015 342L1015 344L1013 346L1011 350L1009 352L1004 354L999 354L994 354L989 355L986 356L986 356L987 354L986 352L983 349L982 345L984 342L984 339L989 336L995 335L998 332L982 314L979 316L976 322L972 327L966 332L963 343L963 353L964 360L967 369L976 374L985 376L992 376L998 375L1003 373L1009 370L1016 367L1023 365L1030 359L1034 349L1035 342L1036 334L1034 327L1028 321L1022 315L1015 310L1006 309L998 311L991 310L987 312Z" fill="#3d3d3d"/>
<path d="M978 338L980 341L982 339L981 340L977 344L995 356L998 349L1002 337L997 325L990 322Z" fill="#3d3d3d"/>
<path d="M987 354L994 354L1001 349L1005 343L1008 338L1008 333L1010 330L1008 328L1004 328L998 330L994 336L991 341L987 345L985 350Z" fill="#3d3d3d"/>
<path d="M951 382L955 384L962 387L968 384L974 382L980 379L984 376L978 363L974 363L968 366L963 368L957 369L953 375L949 379Z" fill="#3d3d3d"/>
<path d="M1041 388L1042 383L1046 379L1050 378L1053 376L1058 376L1062 375L1066 371L1069 373L1070 374L1072 374L1071 377L1071 380L1075 386L1075 392L1099 392L1099 385L1102 375L1098 366L1091 359L1085 352L1076 348L1066 348L1055 345L1045 350L1039 358L1033 364L1031 373L1032 382L1032 388Z" fill="#3d3d3d"/>
<path d="M1055 377L1054 381L1050 387L1047 395L1050 402L1052 409L1054 416L1061 422L1072 425L1081 426L1087 426L1082 403L1079 405L1076 407L1077 404L1075 401L1072 399L1070 395L1069 391L1066 387L1063 382L1061 378Z" fill="#3d3d3d"/>
<path d="M1041 388L1041 392L1042 398L1043 403L1046 406L1049 409L1053 408L1054 405L1055 399L1053 394L1049 389L1045 386Z" fill="#3d3d3d"/>
<path d="M1019 430L1024 431L1032 432L1040 431L1046 428L1052 425L1057 424L1059 421L1065 417L1069 418L1066 399L1061 401L1051 402L1045 404L1041 408L1037 412L1033 413L1028 417L1022 421L1017 424Z" fill="#3d3d3d"/>
<path d="M1093 371L1099 375L1104 378L1105 377L1107 380L1111 384L1115 386L1127 376L1126 371L1121 365L1115 361L1106 356L1097 360L1092 367Z" fill="#3d3d3d"/>
<path d="M998 450L1003 451L1009 450L1016 451L1021 451L1026 451L1031 454L1037 456L1044 452L1052 451L1060 449L1066 444L1073 442L1079 440L1081 437L1086 433L1090 432L1082 406L1077 409L1067 411L1060 413L1057 419L1054 424L1050 424L1046 425L1041 426L1036 423L1032 424L1026 427L1018 428L1011 431L1005 435L999 438L995 441Z" fill="#3d3d3d"/>
<path d="M1144 423L1147 430L1154 434L1160 437L1165 436L1168 433L1166 428L1162 423L1155 418L1147 418Z" fill="#3d3d3d"/>
<path d="M1189 446L1189 453L1195 460L1203 459L1207 453L1205 449L1201 447L1200 447L1198 446L1193 444Z" fill="#3d3d3d"/>
<path d="M192 515L196 519L202 522L209 524L214 523L216 519L212 515L206 512L199 510L194 511Z" fill="#3d3d3d"/>
<path d="M258 550L262 551L267 551L273 549L278 548L284 547L289 544L294 542L299 543L305 543L310 540L316 537L322 535L325 532L327 530L329 533L332 535L337 537L342 539L347 542L353 544L358 547L363 553L370 555L377 555L383 555L387 554L393 553L396 553L398 547L395 546L391 542L387 539L382 537L377 533L373 531L368 531L363 528L359 523L353 520L348 517L343 513L335 512L327 513L319 513L312 514L307 518L302 519L298 519L294 522L290 525L284 525L279 524L274 526L268 527L262 527L258 530L255 532Z" fill="#3d3d3d"/>
<path d="M368 531L371 534L377 539L383 540L388 540L394 538L397 536L397 531L394 530L390 527L386 525L380 524L373 527L369 528Z" fill="#3d3d3d"/>
<path d="M401 524L403 530L406 537L413 542L420 546L429 545L437 545L447 542L451 535L449 528L442 526L436 526L432 525L427 522L423 521L418 519L411 519L405 519Z" fill="#3d3d3d"/>
<path d="M442 537L447 538L454 536L462 536L467 532L472 529L479 529L484 526L489 521L495 519L499 517L489 496L485 498L480 502L472 502L467 505L463 511L457 513L451 515L447 521L441 525L438 530Z" fill="#3d3d3d"/>
<path d="M629 514L634 513L640 513L643 515L647 515L650 518L652 519L657 519L657 523L656 528L662 531L666 527L669 519L670 509L663 500L653 497L642 495L635 500L630 505L627 508Z" fill="#3d3d3d"/>
<path d="M625 522L625 530L627 539L633 545L640 545L645 545L648 539L646 535L643 530L641 528L636 524L631 520Z" fill="#3d3d3d"/>
<path d="M640 560L645 559L653 560L660 559L667 558L672 558L675 554L677 552L681 554L686 556L693 554L699 554L705 552L711 546L717 544L720 542L720 533L716 533L710 531L703 526L697 525L691 525L686 524L681 526L675 528L668 527L659 527L653 532L649 537L644 542L640 549L636 553Z" fill="#3d3d3d"/>
<path d="M629 576L632 580L637 587L643 590L650 592L652 594L659 593L665 593L669 590L669 583L666 572L657 570L650 568L644 567L636 569L631 570Z" fill="#3d3d3d"/>
<path d="M608 571L611 577L617 575L618 571L616 565L610 567Z" fill="#3d3d3d"/>
<path d="M711 544L716 545L721 544L727 544L733 546L737 545L742 545L747 548L753 549L758 546L763 544L768 545L773 543L779 542L785 546L791 545L796 542L801 543L805 544L810 543L814 546L818 550L824 550L831 549L839 550L848 548L855 544L861 543L867 540L870 532L874 528L879 524L881 521L877 513L873 513L868 515L862 516L854 514L848 516L844 521L839 521L837 522L835 522L832 519L827 516L820 517L815 518L810 516L804 515L797 515L790 512L783 512L777 516L771 516L765 515L760 517L755 516L750 514L745 516L740 520L734 521L728 522L723 526L717 528L712 531L709 534Z" fill="#3d3d3d"/>
<path d="M885 542L889 545L894 550L899 557L904 561L908 566L913 570L920 570L927 571L932 575L939 575L945 576L951 580L957 580L964 576L972 573L977 570L981 566L986 563L991 561L989 552L984 551L976 551L969 551L964 553L960 553L957 551L953 550L948 552L943 552L939 550L934 550L929 547L926 543L921 541L914 541L909 539L901 538L895 536L890 534Z" fill="#3d3d3d"/>
<path d="M960 566L965 568L970 570L976 570L980 572L983 574L988 574L994 575L1000 579L1007 580L1013 578L1019 577L1026 576L1032 571L1038 568L1045 568L1047 565L1051 559L1052 558L1054 557L1058 560L1064 557L1063 551L1058 543L1048 541L1038 540L1031 541L1027 547L1022 550L1018 549L1014 551L1010 551L1006 550L1002 550L998 553L994 552L988 548L981 549L974 551L968 553L963 556L960 559Z" fill="#3d3d3d"/>
<path d="M1003 592L1008 594L1015 595L1023 597L1028 596L1034 594L1040 595L1045 594L1051 588L1055 584L1058 581L1056 577L1052 578L1046 578L1040 577L1036 578L1031 581L1026 582L1021 582L1015 584L1008 585L1003 587Z" fill="#3d3d3d"/>
<path d="M1218 488L1217 491L1215 497L1215 503L1215 509L1214 515L1214 521L1216 527L1217 533L1217 538L1216 541L1232 541L1231 537L1230 532L1230 526L1232 520L1232 515L1231 509L1232 503L1232 497L1231 492L1230 488Z" fill="#3d3d3d"/>
<path d="M1185 527L1186 533L1191 539L1200 542L1208 538L1208 534L1203 528L1197 527L1193 526L1189 525Z" fill="#3d3d3d"/>
<path d="M1172 569L1178 572L1185 575L1193 574L1200 571L1200 565L1195 560L1187 557L1178 560L1172 563Z" fill="#3d3d3d"/>
<path d="M1143 604L1144 608L1146 612L1148 617L1149 624L1153 629L1155 634L1154 641L1157 646L1164 648L1167 652L1169 657L1174 660L1176 665L1174 671L1177 677L1182 680L1184 685L1185 689L1187 692L1221 676L1220 673L1217 669L1215 664L1215 658L1212 652L1205 649L1202 644L1201 637L1196 632L1193 627L1192 620L1188 615L1181 614L1176 610L1172 606L1165 603L1160 600L1157 597L1153 596Z" fill="#3d3d3d"/>
<path d="M1157 623L1158 627L1161 631L1163 638L1166 645L1170 650L1173 657L1178 661L1184 662L1188 666L1191 671L1196 674L1200 679L1205 687L1214 689L1218 691L1233 669L1229 666L1226 659L1219 658L1215 655L1212 650L1207 647L1203 642L1200 635L1194 631L1188 630L1183 627L1178 625L1172 622L1168 619L1165 617Z" fill="#3d3d3d"/>
<path d="M1168 665L1170 669L1174 674L1179 678L1184 681L1190 684L1194 688L1197 690L1206 672L1203 671L1197 670L1192 667L1187 664L1181 662L1175 661L1170 661Z" fill="#3d3d3d"/>
<path d="M382 316L385 319L388 322L392 325L394 328L396 334L400 339L404 342L406 342L407 337L408 330L405 323L402 317L397 311L390 309L386 308Z" fill="#3e3e3e"/>
<path d="M175 293L178 295L183 294L185 292L184 287L181 285Z" fill="#3e3e3e"/>
<path d="M219 410L223 412L229 416L235 417L240 419L245 421L250 423L256 425L260 428L264 432L269 437L274 442L278 445L286 449L293 452L300 453L307 452L314 451L319 449L319 445L314 443L307 442L300 442L295 442L289 441L285 437L281 433L276 429L271 424L266 421L260 418L255 414L250 411L244 409L237 407L230 406L224 407L220 408Z" fill="#3e3e3e"/>
<path d="M311 401L312 406L315 412L319 418L325 422L331 426L337 430L343 432L349 431L355 431L360 432L367 432L373 432L378 431L379 427L374 425L368 423L360 421L355 421L350 421L345 420L341 419L335 418L331 414L326 410L322 406L318 402L314 399Z" fill="#3e3e3e"/>
<path d="M178 439L183 438L189 436L195 437L203 436L209 434L209 431L203 430L195 428L189 429L182 429L178 428Z" fill="#3e3e3e"/>
<path d="M432 410L438 413L445 411L450 407L450 405L444 403L437 403L432 407Z" fill="#3e3e3e"/>
<path d="M497 321L501 319L508 319L514 318L518 317L523 317L528 316L532 315L539 317L543 319L547 305L542 304L534 303L528 302L522 301L516 303L510 304L503 308L498 314L495 317Z" fill="#3e3e3e"/>
<path d="M629 327L631 331L637 334L642 332L645 328L643 326L639 325L637 326L635 325L631 325Z" fill="#3e3e3e"/>
<path d="M631 327L633 331L638 334L643 332L646 328L644 326L640 325L638 326L636 325L633 325Z" fill="#3e3e3e"/>
<path d="M654 295L658 299L665 302L672 301L676 298L676 296L672 294L667 292L660 292L654 293Z" fill="#3e3e3e"/>
<path d="M629 349L632 354L637 361L645 364L652 365L658 366L662 365L665 364L668 366L671 370L675 374L682 380L693 384L702 377L706 367L701 358L695 353L693 355L694 362L694 367L693 370L691 370L690 369L684 364L680 361L675 357L669 353L662 351L656 351L652 353L648 353L643 350L636 349L631 347Z" fill="#3e3e3e"/>
<path d="M445 393L451 392L456 391L456 393L462 399L470 404L478 404L485 400L489 396L491 396L494 397L499 400L506 405L514 404L520 403L521 400L517 396L511 391L505 391L500 386L492 383L485 386L478 388L473 390L472 392L469 390L465 384L457 380L447 384L443 390Z" fill="#3e3e3e"/>
<path d="M441 413L446 414L449 409L447 407L442 406L439 411Z" fill="#3e3e3e"/>
<path d="M557 479L562 478L568 476L574 473L577 472L582 471L587 470L592 471L597 472L602 472L607 472L612 474L616 474L621 475L625 477L627 475L625 471L620 466L615 463L609 462L603 461L597 460L592 460L587 461L581 462L576 462L570 463L563 466L557 472L555 477Z" fill="#3e3e3e"/>
<path d="M787 343L785 347L783 353L782 357L782 361L781 363L791 369L793 365L796 359L795 353L793 347L790 343Z" fill="#3e3e3e"/>
<path d="M777 369L783 367L789 366L796 366L802 366L804 363L797 358L788 356L780 361L775 367Z" fill="#3e3e3e"/>
<path d="M923 367L924 374L927 383L935 386L942 389L950 389L957 386L964 384L970 382L976 379L980 376L983 372L982 369L978 369L972 370L966 372L960 375L955 378L949 377L944 377L938 376L935 375L930 371L926 366Z" fill="#3e3e3e"/>
<path d="M854 398L849 397L842 398L835 402L830 405L826 409L822 413L819 417L814 420L808 423L805 428L802 432L804 434L808 433L814 432L819 428L824 424L829 420L834 417L838 413L841 410L846 408L851 405L855 402Z" fill="#3e3e3e"/>
<path d="M957 355L958 360L963 361L965 359L964 354L959 353Z" fill="#3e3e3e"/>
<path d="M1090 378L1096 382L1101 383L1106 382L1111 380L1113 376L1109 371L1103 367L1095 369L1090 374Z" fill="#3e3e3e"/>
<path d="M1077 430L1081 430L1087 431L1093 431L1099 431L1105 431L1112 429L1118 429L1124 429L1128 429L1134 427L1138 426L1138 422L1135 421L1128 418L1123 418L1117 420L1111 420L1105 419L1099 420L1093 420L1086 420L1081 421L1077 422Z" fill="#3e3e3e"/>
<path d="M976 456L979 460L984 464L991 465L1000 462L1004 456L1003 455L997 456L991 458L987 457L982 455L977 455Z" fill="#3e3e3e"/>
<path d="M968 473L972 476L978 477L984 476L989 475L989 473L985 471L979 469L973 469L968 471Z" fill="#3e3e3e"/>
<path d="M1141 457L1137 462L1135 468L1130 471L1125 475L1125 477L1132 477L1140 472L1144 464L1143 458Z" fill="#3e3e3e"/>
<path d="M1149 446L1153 450L1155 452L1154 453L1149 458L1147 463L1144 469L1143 474L1145 474L1148 471L1152 466L1155 462L1158 457L1161 450L1156 445L1151 444Z" fill="#3e3e3e"/>
<path d="M1176 383L1177 388L1179 395L1183 402L1188 405L1192 409L1196 412L1203 413L1208 414L1210 412L1207 407L1203 400L1198 399L1194 397L1191 394L1188 390L1183 385L1179 381Z" fill="#3e3e3e"/>
<path d="M179 518L184 518L191 519L197 521L202 522L207 525L211 528L216 529L221 531L224 534L228 538L233 541L239 544L245 547L251 547L257 547L266 546L271 545L269 533L264 534L257 535L253 534L248 532L243 532L239 531L235 528L232 525L227 522L223 518L218 514L212 513L206 511L201 509L193 508L186 506L182 504Z" fill="#3e3e3e"/>
<path d="M309 568L305 569L300 572L296 576L291 580L287 584L283 589L279 593L275 597L270 600L266 604L262 608L258 611L252 615L249 621L248 626L249 627L254 625L260 622L264 618L267 614L272 610L276 607L280 603L284 598L288 594L293 590L297 586L301 582L306 578L310 574L311 570Z" fill="#3e3e3e"/>
<path d="M404 629L406 635L409 642L415 647L422 651L430 651L436 649L443 648L448 644L451 640L449 638L445 638L439 638L434 642L430 643L425 642L421 639L417 635L411 630L406 628Z" fill="#3e3e3e"/>
<path d="M489 516L491 514L496 511L502 509L507 505L512 500L515 494L516 489L512 487L509 489L504 493L500 496L495 499L491 503L487 505L483 506Z" fill="#3e3e3e"/>
<path d="M441 644L447 642L454 638L460 637L466 634L471 632L471 629L465 629L458 629L451 631L443 636L439 642Z" fill="#3e3e3e"/>
<path d="M854 542L858 543L864 545L870 544L875 545L883 542L888 539L887 536L882 536L875 535L870 536L864 535L858 537L855 538Z" fill="#3e3e3e"/>
<path d="M900 615L904 619L910 622L916 622L917 619L913 615L906 613L900 613Z" fill="#3e3e3e"/>
<path d="M1116 538L1121 538L1128 538L1134 536L1138 536L1144 535L1151 538L1159 539L1166 533L1170 528L1168 524L1163 525L1157 524L1153 524L1146 524L1138 522L1130 524L1124 526L1118 530L1115 534Z" fill="#3e3e3e"/>
<path d="M1153 583L1158 583L1164 579L1167 575L1165 573L1160 573L1154 576L1151 581Z" fill="#3e3e3e"/>
<path d="M1115 471L1115 478L1122 485L1129 486L1136 487L1142 485L1146 484L1147 481L1142 480L1136 478L1130 478L1126 478L1122 473L1117 469Z" fill="#3e3e3e"/>
<path d="M1127 595L1128 600L1132 605L1135 610L1136 617L1139 619L1139 625L1137 633L1140 637L1147 639L1148 643L1151 647L1157 650L1157 656L1154 663L1157 667L1162 669L1162 675L1165 680L1171 683L1172 687L1170 692L1218 676L1214 674L1212 670L1215 663L1214 657L1210 651L1211 643L1209 637L1201 634L1196 629L1196 622L1194 616L1189 611L1189 603L1185 597L1175 596L1168 593L1164 587L1156 585L1148 582L1142 580L1137 581Z" fill="#3e3e3e"/>
<path d="M1091 613L1093 617L1097 623L1101 627L1105 632L1110 637L1115 641L1120 646L1124 648L1126 646L1124 642L1119 637L1116 632L1112 626L1108 622L1103 616L1097 613L1093 611Z" fill="#3e3e3e"/>
<path d="M204.6 292.4L205.8 295.5L208.4 298.9L211.5 300.4L212.5 299.6L211.4 296.3L208.4 293.2L205.4 291.6Z" fill="#3e3e3e"/>
<path d="M194.9 321.5L198.0 322.7L202.7 324.0L207.5 324.6L210.9 324.4L211.1 323.6L208.0 322.2L203.3 321.0L198.5 320.5L195.1 320.5Z" fill="#3e3e3e"/>
<path d="M272.7 336.4L274.6 338.5L277.7 341.1L281.5 343.5L285.0 345.5L287.7 346.5L288.3 345.5L286.4 343.5L283.2 341.0L279.6 338.4L276.0 336.5L273.3 335.6Z" fill="#3e3e3e"/>
<path d="M285.6 334.2L288.6 335.1L293.1 335.8L298.2 336.4L302.8 336.5L306.0 336.1L306.0 335.3L303.0 334.3L298.5 333.5L293.4 333.1L288.8 332.9L285.6 333.2Z" fill="#3e3e3e"/>
<path d="M303.5 413.8L301.5 416.5L299.6 420.8L298.0 425.2L297.5 428.5L298.5 428.9L300.5 426.2L302.4 421.9L304.1 417.5L304.5 414.2Z" fill="#3e3e3e"/>
<path d="M178.6 465.6L181.3 464.3L185.3 462.8L190.1 461.3L194.7 459.3L198.5 457.2L201.1 455.8L200.9 455.2L198.0 455.8L193.7 456.6L188.9 458.0L184.3 459.9L180.2 461.3L177.4 462.0Z" fill="#3e3e3e"/>
<path d="M403.1 363.0L405.6 362.9L409.0 362.6L412.7 361.3L416.6 360.4L420.3 359.9L424.1 359.5L428.1 358.6L432.1 357.8L435.6 357.2L438.0 356.8L438.0 356.0L435.5 355.9L432.0 355.7L427.9 355.5L423.6 355.5L419.7 356.1L415.9 357.3L411.9 358.4L408.0 359.3L405.0 360.9L402.9 362.2Z" fill="#3e3e3e"/>
<path d="M343.3 439.3L345.6 440.3L348.9 441.6L352.7 442.8L356.4 444.1L359.5 445.7L362.0 448.0L364.0 451.1L365.8 454.3L367.5 457.3L368.7 459.8L369.1 464.2L368.2 468.6L367.6 471.9L368.4 472.1L369.8 469.1L371.2 464.5L371.3 459.4L370.3 456.0L368.5 452.7L366.1 449.6L363.3 446.8L360.5 444.3L357.3 442.2L353.4 440.6L349.4 439.5L345.9 439.1L343.5 438.7Z" fill="#3e3e3e"/>
<path d="M406.7 412.3L408.2 415.5L411.3 419.3L414.8 422.8L417.6 424.9L418.4 424.1L416.7 421.1L413.7 417.2L410.3 413.6L407.3 411.7Z" fill="#3e3e3e"/>
<path d="M336.8 318.3L339.2 320.4L342.8 323.1L346.8 325.3L349.8 326.3L350.2 325.7L347.9 323.5L344.2 320.9L340.1 318.8L337.2 317.7Z" fill="#3e3e3e"/>
<path d="M555.6 292.5L558.2 293.3L561.8 293.9L566.1 293.9L570.6 294.3L575.0 294.4L578.8 294.0L583.0 293.4L587.2 293.4L591.2 293.7L594.6 293.2L597.0 292.5L597.0 291.5L594.5 290.9L591.2 290.6L587.2 291.2L582.9 291.4L578.7 290.9L575.0 290.6L570.7 290.6L566.2 290.8L561.9 290.5L558.2 290.9L555.6 291.5Z" fill="#3e3e3e"/>
<path d="M728.3 362.2L731.3 361.4L735.6 359.6L740.2 357.6L744.0 355.0L746.5 352.9L746.1 352.3L743.0 353.0L738.6 354.5L734.2 356.9L730.2 359.2L727.7 361.2Z" fill="#3e3e3e"/>
<path d="M723.6 385.1L726.0 384.7L729.2 383.7L732.8 382.0L736.6 380.5L740.3 378.8L743.6 377.2L746.4 376.4L750.4 377.0L753.8 378.8L757.1 380.0L759.7 380.5L760.3 379.5L758.4 377.7L755.3 375.4L751.0 374.4L746.2 374.4L743.0 374.9L739.2 375.8L735.2 377.2L731.4 379.1L727.9 380.8L725.1 382.6L723.2 384.1Z" fill="#3e3e3e"/>
<path d="M440.0 361.0L443.7 361.6L448.6 361.1L452.0 359.9L452.0 359.1L448.3 358.5L443.4 358.8L440.0 360.0Z" fill="#3e3e3e"/>
<path d="M555.6 386.4L559.0 387.0L563.9 386.8L568.7 386.3L572.0 385.5L572.0 384.5L568.6 384.1L563.7 384.2L558.9 384.6L555.6 385.6Z" fill="#3e3e3e"/>
<path d="M537.2 415.2L540.0 414.0L541.3 411.3L540.7 410.7L538.0 412.0L536.8 414.8Z" fill="#3e3e3e"/>
<path d="M584.6 412.5L588.1 412.3L593.1 411.3L597.9 410.0L601.1 408.4L600.9 407.6L597.4 407.7L592.4 408.7L587.6 410.1L584.4 411.5Z" fill="#3e3e3e"/>
<path d="M672.8 325.3L675.0 327.6L678.6 330.5L682.6 332.7L685.5 334.0L685.9 333.4L683.7 331.1L680.1 328.2L676.2 325.9L673.2 324.7Z" fill="#3e3e3e"/>
<path d="M788.2 306.7L786.9 309.0L785.1 312.5L783.8 316.7L782.7 321.0L782.1 324.8L781.6 327.4L782.4 327.6L783.5 325.2L785.1 321.7L786.7 317.6L788.0 313.4L788.5 309.5L788.8 306.9Z" fill="#3e3e3e"/>
<path d="M722.4 361.1L725.2 361.6L729.3 361.8L733.8 361.4L737.9 359.9L741.0 355.4L742.4 349.9L743.3 346.1L742.7 345.9L741.0 349.3L738.4 353.9L735.7 357.1L733.1 358.2L729.1 358.7L725.1 359.2L722.4 359.9Z" fill="#3e3e3e"/>
<path d="M722.8 402.2L725.3 400.5L728.3 397.6L731.6 394.3L734.9 391.2L737.6 388.6L741.1 386.5L745.2 385.5L748.9 384.8L751.4 383.8L751.2 382.6L748.5 382.6L744.7 383.3L740.4 384.6L736.0 386.2L732.5 388.5L729.1 391.9L726.0 395.5L723.4 398.9L722.0 401.4Z" fill="#3e3e3e"/>
<path d="M740.9 414.4L744.3 416.4L749.3 418.3L753.3 418.7L753.5 417.9L750.2 415.8L745.1 414.1L741.1 413.6Z" fill="#3e3e3e"/>
<path d="M781.8 414.2L783.5 416.7L786.4 420.2L789.8 423.0L792.4 424.7L792.8 424.3L791.1 421.7L788.2 418.3L784.8 415.5L782.2 413.8Z" fill="#3e3e3e"/>
<path d="M867.0 468.5L869.4 469.1L872.9 469.8L877.0 470.2L881.4 470.6L885.6 470.7L889.2 470.4L891.7 470.2L891.7 469.8L889.3 469.2L885.8 468.3L881.7 467.7L877.3 467.5L873.1 467.2L869.5 467.3L867.0 467.5Z" fill="#3e3e3e"/>
<path d="M839.6 330.2L840.7 332.9L842.6 336.4L845.1 340.1L847.6 343.3L849.6 345.3L850.4 344.7L849.3 342.1L847.3 338.6L844.9 334.9L842.4 331.7L840.4 329.8Z" fill="#3e3e3e"/>
<path d="M1082.9 430.6L1085.7 432.2L1089.9 433.7L1094.9 434.0L1099.9 434.7L1104.1 435.5L1108.8 435.3L1113.4 434.0L1117.3 432.9L1120.0 432.2L1120.0 431.0L1117.2 430.5L1113.2 429.7L1108.7 428.7L1104.1 428.6L1100.1 429.3L1095.4 429.3L1090.6 428.4L1086.2 428.7L1083.1 429.4Z" fill="#3e3e3e"/>
<path d="M1186.6 450.9L1185.5 453.5L1183.9 457.3L1182.7 461.5L1181.7 465.5L1180.5 469.5L1178.8 473.5L1177.3 477.1L1176.5 479.8L1177.5 480.2L1179.0 477.9L1180.7 474.4L1182.5 470.3L1184.3 466.5L1185.8 462.4L1186.8 458.0L1187.2 453.9L1187.4 451.1Z" fill="#3e3e3e"/>
<path d="M980.2 429.0L981.3 431.9L983.7 435.6L986.4 439.1L988.6 441.3L989.4 440.7L988.2 437.9L985.9 434.1L983.3 430.5L981.0 428.4Z" fill="#3e3e3e"/>
<path d="M248.4 626.2L244.9 626.7L240.1 628.0L235.6 629.7L231.2 631.0L226.7 632.1L223.6 633.3L223.8 634.3L227.1 634.2L231.7 633.3L236.4 632.3L241.1 631.0L245.6 628.9L248.6 627.0Z" fill="#3e3e3e"/>
<path d="M188.3 662.1L190.2 664.1L193.2 666.8L196.6 669.5L200.2 671.3L202.8 672.3L203.2 671.7L201.4 669.6L198.5 666.8L194.9 664.4L191.4 662.4L188.9 661.3Z" fill="#3e3e3e"/>
<path d="M206.7 492.2L208.0 496.1L210.7 499.2L211.3 498.8L210.0 494.9L207.3 491.8Z" fill="#3e3e3e"/>
<path d="M520.7 587.2L521.3 590.2L523.6 592.2L524.4 591.8L523.7 588.8L521.3 586.8Z" fill="#3e3e3e"/>
<path d="M719.4 578.6L717.3 580.6L715.0 583.6L712.7 587.3L709.8 590.8L706.8 594.0L704.4 596.3L701.6 599.0L698.4 601.6L695.0 603.9L691.6 605.7L689.1 607.8L687.5 609.5L688.1 610.5L690.3 609.6L693.3 608.3L696.4 606.0L699.8 603.7L703.5 601.6L707.1 599.5L710.0 597.2L713.2 593.5L715.8 589.4L718.2 585.5L719.8 582.0L720.6 579.4Z" fill="#3e3e3e"/>
<path d="M629.8 661.9L632.2 665.6L635.7 668.3L636.3 667.7L633.8 664.1L630.2 661.5Z" fill="#3e3e3e"/>
<path d="M701.9 519.6L704.8 520.8L709.2 521.6L713.6 521.9L716.6 521.8L716.8 520.8L713.9 519.8L709.5 518.9L705.2 518.4L702.1 518.8Z" fill="#3e3e3e"/>
<path d="M866.4 496.5L865.6 499.9L865.4 504.8L865.6 509.6L866.4 513.0L867.6 513.0L868.4 509.6L868.6 504.8L868.4 499.9L867.6 496.5Z" fill="#3e3e3e"/>
<path d="M808.8 575.3L810.5 577.6L813.2 580.5L817.0 583.3L820.9 586.3L824.6 589.2L828.2 591.0L832.4 592.2L836.6 593.3L840.4 594.8L843.7 595.7L846.1 596.1L846.5 595.1L844.3 593.8L841.2 592.5L837.4 591.3L833.5 589.3L829.9 587.2L826.6 585.6L822.6 583.7L818.7 581.0L815.3 578.0L811.9 575.9L809.2 574.7Z" fill="#3e3e3e"/>
<path d="M938.8 657.8L939.9 660.7L942.2 664.5L945.0 668.0L947.2 670.2L947.8 669.8L946.5 667.0L944.3 663.1L941.5 659.6L939.2 657.4Z" fill="#3e3e3e"/>
<path d="M870.8 662.1L873.2 663.6L876.8 665.2L880.9 666.9L884.7 667.9L887.5 668.3L887.7 667.7L885.4 666.1L881.9 664.3L877.7 662.9L873.9 661.8L871.2 661.3Z" fill="#3e3e3e"/>
<path d="M837.9 664.2L841.4 665.9L846.5 666.5L850.3 666.2L850.5 665.4L846.9 663.9L841.9 662.9L838.1 663.4Z" fill="#3e3e3e"/>
<path d="M831.5 612.2L832.6 615.7L835.3 619.9L837.7 622.7L838.3 622.3L837.0 618.9L834.6 614.5L832.1 611.8Z" fill="#3e3e3e"/>
<path d="M763.5 484.3L765.8 485.9L769.3 488.3L773.3 490.4L777.2 491.8L779.9 492.7L780.1 492.1L777.9 490.5L774.5 488.1L770.4 486.1L766.5 484.6L763.9 483.7Z" fill="#3e3e3e"/>
<path d="M966.1 649.8L968.8 649.8L972.5 649.4L976.6 648.2L981.2 647.3L985.4 646.5L988.8 644.8L991.1 643.4L990.9 642.6L988.2 642.5L984.5 642.6L980.3 643.9L975.9 645.2L971.6 646.1L968.2 647.6L965.9 648.8Z" fill="#3e3e3e"/>
<path d="M980.7 509.4L983.3 509.5L987.0 509.1L991.2 508.2L995.5 507.6L999.0 506.3L1001.4 505.2L1001.2 504.4L998.6 504.3L994.9 504.5L990.7 505.6L986.5 506.4L982.9 507.5L980.5 508.6Z" fill="#3e3e3e"/>
<path d="M1003.5 525.9L1007.0 525.7L1012.0 524.6L1016.9 523.3L1020.1 521.7L1019.9 520.9L1016.3 521.0L1011.4 522.1L1006.5 523.5L1003.3 524.9Z" fill="#3e3e3e"/>
<path d="M1104.2 587.8L1106.3 590.2L1109.9 592.9L1113.8 594.9L1116.7 596.0L1117.3 595.2L1115.1 592.9L1111.6 590.1L1107.8 587.9L1104.8 587.0Z" fill="#3e3e3e"/>
<path d="M548 316L551 320L557 324L565 324L571 324L577 322L582 318L585 316L585 312L581 311L575 310L569 309L565 310L560 309L553 310L548 312Z" fill="#404040"/>
<path d="M966 336L964 342L966 350L969 358L970 363L992 355L990 351L989 346L990 341L988 336Z" fill="#404040"/>
<path d="M968 343L966 350L969 357L990 355L992 348L989 341Z" fill="#404040"/>
<path d="M998 336L1000 336L1000 334L1006 331L1012 331L1010 310L1003 311L994 311L986 314L982 318Z" fill="#404040"/>
<path d="M1047 374L1052 375L1056 375L1060 374L1062 367L1060 360L1054 356L1048 358L1044 363L1043 369Z" fill="#404040"/>
<path d="M578 502L582 508L588 515L593 519L600 521L605 525L613 526L618 524L621 518L618 514L613 509L609 506L604 502L598 499L590 496L582 496Z" fill="#404040"/>
<path d="M783 531L787 533L794 537L799 538L805 538L812 537L817 534L817 528L814 524L808 520L801 519L794 519L787 524L783 526Z" fill="#404040"/>
<path d="M1080 568L1084 568L1089 570L1095 570L1100 570L1106 572L1110 572L1115 568L1120 568L1126 571L1132 570L1137 569L1142 570L1147 568L1152 565L1157 565L1162 568L1166 568L1172 566L1178 568L1184 566L1188 564L1190 566L1194 571L1197 571L1213 548L1208 543L1198 542L1191 543L1185 540L1179 538L1172 539L1166 538L1161 538L1155 541L1150 543L1145 540L1139 540L1134 541L1130 541L1124 541L1118 544L1113 545L1106 543L1100 544L1095 549L1089 551L1084 555L1081 560L1078 562Z" fill="#404040"/>
<path d="M1127 560L1130 563L1135 565L1141 566L1147 569L1153 569L1159 567L1165 569L1171 570L1176 566L1180 566L1186 567L1192 565L1195 566L1199 542L1194 542L1188 539L1180 540L1174 540L1168 537L1162 540L1156 544L1151 542L1146 543L1141 546L1135 547L1130 549L1127 551Z" fill="#404040"/>
<path d="M1189 650L1193 654L1195 661L1200 667L1206 673L1210 679L1217 681L1222 682L1234 664L1232 660L1229 654L1224 653L1220 649L1217 645L1211 641L1209 636Z" fill="#404040"/>
<path d="M1192 618L1192 624L1189 632L1190 641L1193 647L1213 641L1212 636L1211 632L1210 627L1212 622Z" fill="#404040"/>
<path d="M257.4 292.6L261.0 295.7L266.3 296.1L267.7 293.9L265.0 289.3L260.6 287.4Z" fill="#404040"/>
<path d="M229.4 363.3L230.7 365.3L232.3 368.2L234.4 371.5L237.3 374.5L240.5 377.1L243.6 379.6L246.1 382.0L249.4 385.0L253.0 387.3L256.9 388.5L260.2 389.4L262.5 390.1L263.5 388.7L262.0 386.8L260.0 384.1L257.5 380.9L254.4 378.3L250.9 376.0L248.3 374.1L245.4 371.5L242.5 368.6L239.3 366.1L235.8 364.4L232.8 363.0L230.6 361.9Z" fill="#404040"/>
<path d="M177.6 396.3L181.2 396.3L186.2 396.1L189.9 394.4L190.1 392.8L186.7 390.5L181.9 389.3L178.4 388.7Z" fill="#404040"/>
<path d="M201.5 476.9L204.5 476.4L208.7 475.1L213.0 473.4L217.0 472.1L221.0 470.9L225.5 470.0L229.5 468.6L232.2 466.9L231.8 464.7L228.7 464.0L224.4 463.9L219.6 464.9L215.0 465.9L210.6 467.9L206.3 470.3L202.8 472.9L200.5 475.1Z" fill="#404040"/>
<path d="M376.9 405.0L379.7 405.2L384.0 405.8L387.9 405.5L390.0 404.9L394.6 403.9L398.5 403.4L399.5 400.6L396.0 397.6L390.0 395.1L385.4 395.9L381.4 397.9L378.3 401.1L376.1 403.0Z" fill="#404040"/>
<path d="M429.9 449.9L433.3 451.8L438.3 452.4L443.4 451.8L447.0 450.8L447.0 449.2L443.7 447.8L438.7 446.6L433.6 446.6L430.1 448.1Z" fill="#404040"/>
<path d="M584.0 292.1L586.4 293.2L589.8 294.1L593.8 293.8L597.9 293.8L601.7 294.0L604.7 294.1L609.7 294.4L613.9 294.2L616.8 294.0L617.2 292.0L614.6 290.6L610.5 288.8L605.3 287.9L601.8 287.7L597.9 287.9L593.7 287.9L589.7 287.7L586.4 288.7L584.0 289.9Z" fill="#404040"/>
<path d="M756.9 292.0L760.6 294.1L765.9 294.4L769.9 292.9L770.1 291.1L766.4 289.0L761.1 288.5L757.1 290.0Z" fill="#404040"/>
<path d="M614.3 334.5L614.2 337.7L614.6 342.0L614.4 346.7L614.6 350.6L614.8 353.8L615.0 357.2L614.7 360.7L613.7 364.2L612.3 367.9L611.4 371.5L611.1 374.2L611.8 374.8L611.1 376.7L607.8 378.2L605.0 379.4L605.0 382.6L608.1 383.6L613.1 384.5L619.2 383.2L622.8 378.6L624.3 374.1L624.6 369.8L624.3 365.8L624.4 362.0L624.9 358.0L625.5 353.9L625.4 349.4L624.1 344.6L621.6 340.1L619.5 336.1L617.7 333.5Z" fill="#404040"/>
<path d="M538.0 337.3L535.9 339.3L533.0 342.1L530.2 345.3L528.7 348.8L527.4 351.4L525.3 353.3L522.7 354.6L519.4 356.0L515.7 358.1L512.6 360.6L509.2 363.5L505.9 366.8L503.2 369.7L501.3 371.9L502.7 374.1L505.5 373.4L509.3 372.2L513.6 370.7L517.8 368.9L521.3 367.1L524.6 365.2L527.7 363.0L531.1 360.5L534.4 357.2L537.1 353.7L539.5 349.7L540.1 345.1L540.0 341.0L540.0 338.3Z" fill="#404040"/>
<path d="M477.5 355.4L480.5 355.1L484.4 354.2L487.9 353.1L491.6 352.7L495.3 350.7L498.0 349.0L497.6 347.0L494.6 346.2L490.2 345.5L486.1 346.9L482.1 348.6L478.6 351.1L476.5 353.2Z" fill="#404040"/>
<path d="M619.9 421.2L624.0 422.6L627.4 425.1L627.7 428.4L626.9 432.0L624.6 435.2L621.6 437.0L618.6 436.2L615.9 434.2L614.3 431.3L613.5 428.2L614.3 425.2L616.3 422.7L619.0 421.7L621.5 421.3L620.5 416.7L617.5 417.4L613.7 419.3L610.5 423.0L608.5 427.8L609.2 433.2L612.1 437.8L616.9 440.5L622.4 441.0L627.4 438.3L631.1 434.0L632.2 428.4L630.6 422.9L626.0 419.3L622.1 416.8Z" fill="#404040"/>
<path d="M451.0 428.5L448.6 432.1L448.3 437.2L450.0 441.6L452.3 444.3L453.7 443.7L453.8 440.5L453.7 436.8L454.1 432.7L453.0 428.9Z" fill="#404040"/>
<path d="M465.9 451.0L463.7 453.2L461.5 456.8L459.8 461.1L458.1 465.1L456.9 470.0L457.2 474.7L457.9 477.9L459.3 478.1L460.8 475.1L462.2 471.0L463.1 466.5L464.2 462.9L466.2 458.9L467.4 454.9L467.7 451.8Z" fill="#404040"/>
<path d="M439.7 449.8L442.1 452.6L445.8 451.7L446.2 450.3L443.9 447.4L440.3 448.2Z" fill="#404040"/>
<path d="M662.8 468.7L664.8 470.0L667.3 471.9L670.6 473.7L674.5 474.8L678.7 475.5L683.0 476.5L687.3 477.5L690.9 477.8L694.8 477.6L699.0 477.6L703.2 478.1L707.3 478.9L711.2 479.2L714.8 478.6L717.7 477.7L720.0 477.0L720.0 475.0L717.9 474.1L715.0 472.9L711.5 472.1L707.6 472.0L703.5 472.4L699.3 472.5L695.3 471.9L691.6 471.0L688.3 470.5L684.3 470.1L680.2 469.3L676.2 468.0L672.4 467.0L668.8 466.8L665.6 467.1L663.2 467.3Z" fill="#404040"/>
<path d="M710.2 293.0L714.2 295.1L719.0 293.9L722.5 293.0L721.5 287.0L717.9 287.2L712.9 287.7L709.8 291.0Z" fill="#404040"/>
<path d="M803.3 292.7L802.5 295.4L801.1 299.6L800.0 305.3L802.4 310.8L805.7 314.4L808.8 318.1L812.1 321.8L817.1 323.1L821.5 323.9L824.4 324.7L826.8 322.1L825.8 319.3L824.5 314.9L823.0 310.2L819.6 307.4L816.7 304.8L815.6 302.8L814.1 300.1L810.9 297.6L808.3 294.5L806.7 292.1Z" fill="#404040"/>
<path d="M866.3 396.0L867.0 399.9L869.9 404.7L874.2 407.9L878.6 408.4L883.1 407.5L887.3 405.6L891.0 403.2L894.6 398.9L896.5 393.7L896.5 389.7L895.1 389.1L892.5 392.1L890.5 396.7L888.2 400.4L885.5 401.9L881.8 403.2L878.2 404.0L875.8 404.1L873.2 401.8L870.6 397.8L867.7 395.2Z" fill="#404040"/>
<path d="M850.9 451.9L854.0 454.7L857.9 452.9L858.1 451.1L855.0 448.3L851.1 450.1Z" fill="#404040"/>
<path d="M710.2 477.0L713.3 477.8L717.5 478.1L722.0 476.6L726.7 475.7L731.1 475.2L735.2 474.5L739.5 473.8L743.8 473.9L748.1 474.2L752.1 473.7L757.5 471.7L761.5 468.8L764.0 466.7L763.4 464.9L760.1 465.2L755.5 465.6L750.5 466.3L747.3 466.9L743.4 467.8L739.1 468.5L734.6 468.5L730.1 468.8L725.6 469.7L720.8 470.6L716.0 471.1L712.3 473.1L709.8 475.0Z" fill="#404040"/>
<path d="M762.9 462.0L762.0 464.8L761.5 468.8L761.4 473.3L762.1 477.3L763.2 480.0L764.8 480.0L765.8 477.2L766.3 473.2L766.1 468.7L765.5 464.7L764.5 462.0Z" fill="#404040"/>
<path d="M989.0 432.1L986.6 433.6L983.3 435.9L981.0 439.6L979.3 443.4L977.6 447.3L975.7 451.4L974.4 456.0L975.2 461.3L979.9 465.1L985.6 466.5L989.6 466.9L990.4 464.7L987.2 462.5L983.1 459.9L981.6 457.9L982.1 457.0L983.0 453.9L984.3 450.1L985.9 446.6L987.8 443.4L989.8 440.0L990.6 436.3L991.0 433.5Z" fill="#404040"/>
<path d="M967.9 470.7L970.3 472.4L973.9 474.3L978.5 474.9L983.0 475.4L987.0 475.3L989.8 474.8L990.2 473.2L987.7 471.7L984.0 470.2L979.5 469.1L975.1 468.0L971.0 468.6L968.1 469.3Z" fill="#404040"/>
<path d="M1025.0 335.5L1025.4 339.4L1027.1 344.2L1028.1 348.4L1027.6 352.1L1027.8 356.5L1028.2 359.8L1029.8 360.2L1031.7 357.4L1033.9 353.0L1033.9 347.6L1032.3 342.3L1029.7 337.5L1027.0 334.5Z" fill="#404040"/>
<path d="M1026.1 374.4L1025.2 377.7L1024.8 382.6L1025.9 387.7L1027.3 391.5L1029.3 395.0L1031.8 398.1L1034.2 401.1L1037.3 405.3L1041.6 408.1L1045.1 409.3L1046.9 407.5L1045.5 404.0L1042.7 400.1L1039.2 396.9L1037.3 394.1L1035.4 391.1L1033.6 388.2L1032.1 385.7L1031.1 381.6L1030.0 377.3L1028.7 374.2Z" fill="#404040"/>
<path d="M994.3 452.4L994.7 455.6L996.4 459.7L998.4 463.4L999.0 465.3L997.2 466.9L993.5 469.1L990.8 471.4L991.2 472.6L994.9 472.4L999.8 470.7L1003.0 466.7L1002.5 462.1L1000.9 457.5L998.2 453.8L995.7 451.6Z" fill="#404040"/>
<path d="M1115.1 474.9L1117.7 476.0L1121.5 477.4L1126.1 476.9L1130.9 475.7L1135.5 474.2L1139.1 471.7L1142.3 468.4L1145.1 464.7L1148.1 461.5L1149.9 458.3L1150.8 455.7L1149.2 454.3L1146.7 455.6L1143.9 458.0L1141.2 461.3L1138.0 464.2L1134.9 466.6L1132.5 468.4L1129.3 469.8L1125.3 470.1L1121.2 470.1L1117.6 471.7L1114.9 473.1Z" fill="#404040"/>
<path d="M383.8 490.0L383.0 492.3L381.7 495.6L380.7 499.6L380.6 503.7L380.9 507.7L381.1 511.3L381.3 515.9L382.1 520.1L384.1 523.4L385.7 525.6L387.9 525.2L388.7 522.6L389.4 518.9L389.0 514.9L388.3 510.7L388.3 507.6L388.5 503.7L388.4 499.6L387.5 495.7L386.3 492.4L385.6 490.0Z" fill="#404040"/>
<path d="M302.6 501.3L305.7 500.5L309.3 498.3L312.4 495.7L314.4 495.0L317.3 496.1L320.5 498.5L322.7 501.4L322.7 504.0L321.7 507.7L321.3 511.7L321.9 514.8L323.7 515.2L325.6 512.8L327.3 508.9L327.7 504.2L327.1 499.8L324.3 495.1L319.9 491.3L314.6 489.8L310.1 491.3L305.9 493.7L302.8 497.0L301.4 499.9Z" fill="#404040"/>
<path d="M434.7 511.9L438.0 511.2L442.1 509.1L445.8 505.6L448.9 502.1L450.6 499.4L449.4 497.8L446.3 498.8L442.2 500.9L437.9 503.6L434.8 507.1L433.3 510.1Z" fill="#404040"/>
<path d="M343.8 581.8L347.4 581.0L352.2 579.2L356.8 577.5L361.3 575.9L365.6 573.7L368.4 571.7L368.0 570.1L364.4 570.0L359.5 570.7L354.8 572.5L350.2 575.0L345.8 577.7L343.0 580.2Z" fill="#404040"/>
<path d="M342.8 645.7L344.4 648.0L346.9 651.0L350.6 653.9L355.0 656.1L359.4 656.6L363.8 656.3L368.3 656.2L372.5 656.4L376.1 656.4L379.6 656.7L383.1 657.5L386.4 659.0L389.2 660.7L391.3 661.9L395.6 664.4L398.4 666.3L399.6 665.3L398.4 661.7L394.7 657.3L391.6 655.8L388.3 654.6L384.7 653.3L380.9 651.8L376.9 650.4L372.5 649.9L367.9 650.5L363.5 651.1L359.6 651.1L356.6 650.7L353.0 649.5L349.7 647.4L346.5 645.4L344.0 644.3Z" fill="#404040"/>
<path d="M217.6 658.5L221.0 658.9L225.4 659.5L228.6 660.6L230.6 662.3L233.4 665.3L235.6 668.8L236.4 670.6L236.1 672.6L235.1 673.9L240.9 678.1L243.2 675.0L243.6 669.4L241.2 665.3L238.4 661.5L235.3 657.6L231.4 654.6L225.7 653.8L220.6 655.4L217.4 656.7Z" fill="#404040"/>
<path d="M180.1 626.3L184.2 625.9L189.3 627.0L191.2 629.2L193.9 632.8L197.6 635.7L200.3 637.5L201.7 636.5L200.7 633.4L199.0 628.9L195.7 625.1L191.9 622.0L185.4 619.5L180.5 618.7Z" fill="#404040"/>
<path d="M191.0 488.9L195.9 488.3L199.3 484.6L198.7 483.4L193.7 483.7L190.2 487.1Z" fill="#404040"/>
<path d="M518.7 490.7L521.6 491.0L525.6 491.7L530.2 491.2L534.9 490.0L539.5 489.2L543.0 488.9L547.0 488.5L551.1 487.5L555.1 486.6L558.8 486.0L561.9 485.1L564.1 484.0L563.9 482.0L561.5 481.5L558.3 481.2L554.5 481.5L550.4 481.5L546.1 481.5L542.1 482.1L538.5 482.8L533.7 483.6L528.8 484.3L524.4 485.6L520.9 487.8L518.3 489.3Z" fill="#404040"/>
<path d="M550.9 508.2L553.3 511.8L557.6 516.1L564.0 516.5L570.1 515.2L574.5 511.6L577.0 508.3L575.6 505.3L571.7 504.8L567.0 504.9L564.0 505.5L561.2 504.0L556.2 504.6L552.1 505.4Z" fill="#404040"/>
<path d="M556.3 513.0L555.2 516.6L554.9 521.7L555.9 526.7L557.3 530.0L558.7 530.0L559.7 526.4L560.1 521.3L559.2 516.3L557.7 513.0Z" fill="#404040"/>
<path d="M584.6 491.1L587.7 492.0L591.9 492.3L596.4 491.3L601.0 491.1L604.7 491.2L609.2 491.5L613.8 492.9L618.1 493.7L621.3 493.5L622.1 491.3L619.5 489.2L615.5 487.3L610.4 486.0L605.3 484.8L600.7 484.9L595.8 485.6L591.0 485.8L587.0 487.2L584.4 488.9Z" fill="#404040"/>
<path d="M667.4 579.9L670.7 579.9L675.5 580.1L680.2 578.8L684.3 576.9L688.4 575.8L692.5 574.3L695.9 571.8L698.3 569.9L697.7 567.7L694.7 567.3L690.5 566.7L686.0 567.7L681.7 569.1L677.1 570.3L672.6 572.4L669.1 575.9L666.6 578.1Z" fill="#404040"/>
<path d="M475.9 582.6L473.8 584.6L471.3 587.6L469.0 591.4L466.5 595.3L464.1 598.9L462.3 601.7L459.8 604.5L456.7 606.7L453.7 608.8L451.2 611.1L449.7 613.1L450.9 615.3L453.4 614.8L456.7 613.9L460.2 611.9L463.8 609.3L467.3 606.3L470.1 602.9L472.5 598.9L474.6 594.5L476.5 590.4L477.6 586.6L478.1 583.8Z" fill="#404040"/>
<path d="M439.8 580.1L443.1 583.3L448.2 583.5L452.3 581.9L452.5 580.1L449.2 577.3L444.3 575.9L440.2 577.9Z" fill="#404040"/>
<path d="M596.7 592.6L599.7 595.0L604.5 596.3L609.5 597.0L613.2 596.5L613.6 594.7L610.6 592.5L605.9 590.8L601.0 589.6L597.3 590.4Z" fill="#404040"/>
<path d="M440.6 507.6L445.9 506.2L448.5 501.2L447.5 500.0L442.1 501.2L439.4 506.0Z" fill="#404040"/>
<path d="M741.4 513.9L744.7 513.5L748.8 511.8L752.7 510.1L755.0 509.6L759.3 511.6L763.5 513.5L764.5 512.5L762.0 507.7L756.0 504.4L751.2 505.5L746.7 507.4L742.8 509.8L740.6 512.1Z" fill="#404040"/>
<path d="M778.3 515.7L781.0 515.1L784.7 514.1L788.8 512.4L792.7 510.5L795.5 507.8L797.4 505.7L796.6 504.3L793.9 504.6L790.0 505.4L786.2 507.6L782.6 510.0L779.6 512.5L777.7 514.3Z" fill="#404040"/>
<path d="M821.8 507.7L824.7 507.7L828.8 507.5L832.9 505.8L836.2 503.3L838.3 501.4L837.7 499.8L834.8 499.8L830.7 500.2L826.6 501.7L823.3 504.3L821.2 506.3Z" fill="#404040"/>
<path d="M891.8 512.1L894.9 512.6L899.1 512.6L903.7 512.2L908.3 512.1L912.1 512.1L915.4 512.7L918.9 514.2L922.3 515.8L925.8 516.0L928.5 515.9L929.3 514.1L927.6 512.1L925.1 509.5L921.3 508.0L917.0 506.9L912.7 505.9L908.1 505.7L903.1 506.4L898.3 507.3L894.3 508.6L891.6 509.9Z" fill="#404040"/>
<path d="M936.2 506.8L935.2 509.4L933.7 513.2L933.0 517.5L932.5 521.5L932.1 524.0L930.1 527.2L927.8 530.2L926.1 532.8L927.5 534.6L930.5 533.6L934.8 531.3L937.9 526.8L939.2 522.6L939.7 518.1L939.6 513.6L938.4 509.6L937.8 506.8Z" fill="#404040"/>
<path d="M901.7 525.8L904.4 527.8L908.6 529.5L912.9 530.7L916.2 530.4L916.8 528.8L914.2 526.7L909.9 525.1L905.5 524.1L902.3 524.2Z" fill="#404040"/>
<path d="M756.7 548.3L756.9 551.4L758.0 555.5L759.1 559.5L759.1 561.7L757.0 564.1L753.5 567.3L750.9 570.3L751.7 571.5L755.5 570.6L760.7 568.2L764.1 563.5L763.9 558.6L762.4 554.0L760.3 550.1L758.3 547.7Z" fill="#404040"/>
<path d="M812.6 550.5L814.2 553.4L816.8 557.2L820.5 560.3L823.9 562.7L829.1 566.2L833.5 567.4L834.5 566.0L832.0 562.3L827.3 558.3L824.4 555.6L820.7 552.5L816.5 550.6L813.4 549.5Z" fill="#404040"/>
<path d="M868.6 600.7L870.9 603.1L874.9 605.3L879.6 607.2L884.0 608.5L887.3 608.7L887.9 607.3L885.5 605.0L881.6 602.7L877.1 600.5L872.7 599.0L869.4 598.9Z" fill="#404040"/>
<path d="M936.6 596.0L938.3 598.4L940.9 601.7L944.0 604.7L946.5 607.2L947.3 607.3L945.6 608.8L940.4 610.7L936.7 613.4L937.3 615.0L941.9 614.9L947.9 612.7L951.7 608.7L950.3 604.3L947.4 601.1L943.7 598.3L939.9 596.4L937.4 595.2Z" fill="#404040"/>
<path d="M989.3 607.4L985.8 608.8L981.9 612.1L979.2 616.4L977.8 619.9L979.0 620.9L982.4 619.4L986.5 616.3L989.5 612.3L990.7 608.6Z" fill="#404040"/>
<path d="M712.0 482.8L714.8 483.8L718.8 484.4L723.3 483.9L727.3 483.0L730.0 482.2L730.0 480.8L727.2 480.1L723.2 479.5L718.7 479.3L714.7 480.1L712.0 481.2Z" fill="#404040"/>
<path d="M1150.2 542.6L1152.6 543.4L1155.8 543.9L1159.6 544.1L1163.7 543.8L1167.8 543.8L1171.7 543.5L1175.0 543.1L1179.4 543.5L1183.8 544.8L1188.1 544.4L1192.0 543.1L1194.8 542.3L1195.2 539.7L1192.7 538.2L1189.2 535.9L1184.9 534.4L1179.9 534.9L1175.0 534.9L1171.3 534.7L1167.2 534.8L1163.0 535.6L1158.8 536.0L1155.1 537.0L1152.0 538.1L1149.8 539.4Z" fill="#404040"/>
<path d="M1085.9 569.1L1088.6 570.3L1092.3 572.4L1096.7 573.9L1101.3 573.9L1105.4 574.5L1108.3 575.7L1111.2 576.9L1114.2 578.1L1117.0 579.7L1119.1 582.0L1120.4 584.5L1121.6 587.8L1123.9 591.0L1126.5 594.1L1128.4 596.4L1131.0 595.6L1131.2 592.7L1131.6 588.3L1130.7 583.4L1127.6 579.5L1124.7 577.0L1122.0 574.3L1119.2 571.3L1115.9 568.4L1111.7 566.3L1107.2 565.5L1102.5 564.7L1097.6 563.7L1092.9 564.6L1088.9 566.1L1086.1 566.9Z" fill="#404040"/>
<path d="M1058.3 505.7L1061.8 505.8L1066.0 504.2L1068.3 501.6L1067.7 500.0L1064.1 499.8L1060.1 501.8L1057.7 504.3Z" fill="#404040"/>
<path d="M1093.1 507.3L1096.4 508.1L1101.2 509.4L1106.3 508.4L1111.0 507.1L1115.1 505.8L1118.8 504.4L1122.0 502.7L1125.0 501.0L1128.1 499.8L1131.2 499.2L1134.3 499.2L1138.1 499.4L1141.1 499.3L1144.8 499.2L1148.6 499.7L1152.5 500.4L1156.3 500.8L1159.7 501.1L1163.5 502.0L1166.9 504.0L1170.4 505.6L1173.8 506.1L1176.5 506.1L1177.5 503.9L1175.9 501.9L1173.4 499.4L1169.7 497.6L1165.4 496.5L1161.3 494.9L1157.7 493.6L1153.7 492.7L1149.5 492.3L1145.4 491.9L1141.5 491.3L1137.9 491.0L1133.5 491.6L1129.7 493.0L1126.5 494.2L1123.0 495.0L1119.2 495.9L1115.6 497.2L1112.3 498.8L1109.0 500.1L1104.8 500.7L1100.0 501.3L1095.8 503.8L1092.9 505.5Z" fill="#404040"/>
<path d="M1059.4 505.6L1064.4 505.0L1067.8 501.4L1067.0 499.8L1062.0 500.4L1058.6 504.0Z" fill="#404040"/>
<path d="M1129.7 666.6L1134.4 666.8L1139.3 663.9L1142.0 660.3L1141.4 658.9L1136.8 659.0L1131.5 661.1L1128.9 665.0Z" fill="#404040"/>
<path d="M960.2 662.5L962.7 662.9L966.1 663.4L969.9 663.0L973.6 661.8L977.3 661.0L980.7 660.9L984.0 661.1L987.6 661.1L991.2 661.2L994.6 661.9L997.5 663.3L999.3 664.6L1001.6 666.9L1003.8 669.7L1006.7 672.4L1008.7 674.4L1010.5 673.6L1010.1 670.8L1009.7 666.5L1007.2 662.1L1003.3 658.8L999.6 657.6L996.0 656.9L992.2 656.0L988.3 655.0L984.4 654.3L980.5 654.3L976.5 654.7L972.3 655.2L968.2 655.8L964.5 657.3L961.8 659.5L959.8 660.9Z" fill="#404040"/>
<path d="M959.5 614.9L961.8 618.5L966.4 622.8L972.7 623.7L977.0 621.4L980.3 618.5L983.3 615.1L984.6 611.2L985.4 608.5L984.2 607.5L981.6 608.8L978.1 610.8L975.6 613.9L973.2 616.4L972.1 617.1L969.2 616.1L964.6 614.5L960.5 613.5Z" fill="#404040"/>
<path d="M1158.4 580.0L1162.1 580.5L1167.0 579.3L1171.8 577.8L1174.9 575.8L1174.5 574.2L1170.9 573.9L1165.9 574.7L1161.0 575.9L1158.0 578.0Z" fill="#404040"/>
<path d="M581.7 506.0L584.1 506.9L587.4 508.2L591.0 510.3L594.5 512.8L598.3 514.3L602.3 515.1L606.1 516.7L609.3 519.5L611.9 521.9L613.9 523.2L618.1 514.8L615.8 514.0L612.2 513.4L608.2 512.6L604.6 510.5L601.7 507.7L598.6 505.4L594.7 503.7L591.1 501.8L588.2 499.6L586.3 498.0Z" fill="#424242"/>
<path d="M252.5 316.4L255.5 318.1L260.0 319.5L264.5 320.6L268.7 322.6L273.2 324.3L276.7 324.6L277.3 323.4L274.6 320.9L270.3 318.8L265.5 317.4L260.9 315.9L256.1 315.4L252.7 315.6Z" fill="#444444"/>
<path d="M376.4 362.3L374.0 362.5L370.5 362.6L366.6 363.6L362.5 364.9L358.6 366.4L355.3 367.9L351.2 370.2L347.7 372.9L344.7 376.2L342.0 380.0L340.2 383.1L338.4 386.6L336.4 390.1L334.5 393.4L333.0 396.5L331.8 398.9L328.9 403.6L326.8 405.8L327.2 406.2L329.8 404.6L334.2 400.7L335.9 398.1L337.6 395.0L339.2 391.5L340.9 387.9L342.8 384.7L344.8 382.0L347.6 378.5L350.2 375.3L352.9 372.3L356.3 369.7L359.4 368.3L363.2 367.2L367.3 366.3L371.1 365.3L374.3 363.9L376.6 362.9Z" fill="#444444"/>
<path d="M403.1 470.4L406.5 470.1L411.0 468.9L415.4 467.5L420.1 466.9L424.8 465.8L428.1 464.3L427.9 463.3L424.4 462.8L419.4 463.2L414.6 464.5L410.0 465.8L405.7 467.7L402.9 469.6Z" fill="#444444"/>
<path d="M285.4 474.5L287.6 476.2L291.1 478.1L295.2 479.9L299.0 481.1L301.8 481.5L302.2 480.5L300.0 478.8L296.5 476.9L292.4 475.1L288.6 473.9L285.8 473.5Z" fill="#444444"/>
<path d="M782.6 291.0L782.2 293.2L781.5 296.3L781.3 299.9L781.4 303.9L781.6 308.2L781.4 312.6L780.9 316.8L780.6 320.9L780.8 324.5L781.2 327.6L782.5 333.5L783.8 338.2L785.6 341.4L787.1 343.6L787.9 343.2L787.6 340.6L786.7 337.2L785.3 332.9L784.8 327.2L784.9 324.3L784.8 320.8L784.4 316.8L783.9 312.6L783.9 308.2L784.2 303.9L784.4 299.9L784.3 296.3L783.7 293.3L783.4 291.0Z" fill="#444444"/>
<path d="M451.8 429.2L454.1 430.8L457.6 432.7L462.2 434.4L465.2 435.4L468.5 436.2L472.3 436.8L476.4 437.6L480.9 438.7L484.3 439.1L488.3 438.8L492.5 438.1L496.8 437.7L500.9 437.5L504.7 437.0L507.8 435.9L510.0 435.2L510.0 434.6L507.6 434.3L504.4 433.9L500.6 434.1L496.5 434.7L492.2 435.0L488.1 434.9L484.3 435.0L481.1 435.3L476.7 435.5L472.8 434.7L469.4 433.4L466.2 432.1L463.2 431.2L458.7 429.9L454.9 428.7L452.2 428.2Z" fill="#444444"/>
<path d="M1091.6 445.2L1092.4 448.0L1093.8 451.6L1096.3 455.4L1098.6 459.5L1100.5 463.7L1102.4 467.1L1105.5 471.1L1108.3 474.9L1110.6 478.1L1112.4 480.2L1113.2 479.8L1112.2 477.1L1110.6 473.5L1108.7 469.2L1106.6 464.5L1104.5 461.3L1101.7 457.7L1099.2 453.6L1097.0 449.6L1094.5 446.7L1092.4 444.8Z" fill="#444444"/>
<path d="M871.1 490.7L873.3 491.0L876.0 491.0L879.3 490.7L882.9 490.5L886.9 490.1L891.2 489.3L895.8 489.2L898.9 489.8L902.4 490.7L906.2 491.2L910.2 491.2L914.4 491.4L918.5 492.1L922.6 492.6L926.6 492.7L930.4 492.8L933.8 493.4L936.8 494.2L942.6 495.4L947.6 495.4L951.8 495.6L955.2 495.4L957.7 495.1L957.9 493.9L955.4 493.1L952.1 492.2L948.0 491.6L943.0 490.6L937.2 490.6L934.1 490.7L930.7 490.5L927.0 489.7L923.1 488.8L919.0 488.3L914.8 488.0L910.7 487.2L906.6 486.4L902.8 486.2L899.1 486.5L895.8 486.8L891.2 486.6L886.7 486.3L882.5 486.5L878.8 487.2L875.6 487.8L872.9 488.6L870.9 489.3Z" fill="#444444"/>
<path d="M949.6 519.6L952.6 519.8L956.7 519.6L961.4 518.2L966.6 516.9L970.1 516.0L973.9 514.4L977.7 512.0L981.5 509.9L985.3 508.5L988.2 506.9L990.2 505.3L989.8 504.3L987.3 504.7L984.1 505.8L980.5 507.7L976.4 509.0L972.1 510.1L968.4 511.5L965.4 513.1L960.5 515.0L955.8 515.9L952.0 517.4L949.4 518.8Z" fill="#444444"/>
<path d="M710.3 588.0L712.9 587.6L716.4 586.4L720.1 584.7L723.8 583.6L726.4 583.2L729.6 583.4L733.2 584.8L736.4 586.6L738.7 587.8L739.3 587.0L737.3 585.3L734.4 582.8L730.8 580.3L726.6 578.8L722.6 579.5L718.7 581.2L714.8 583.0L711.7 585.1L709.7 586.8Z" fill="#444444"/>
<path d="M961.9 639.4L964.2 640.4L967.4 641.5L971.5 641.9L975.8 642.6L980.0 643.6L984.0 644.1L987.5 643.6L990.0 643.3L990.0 642.7L987.8 641.7L984.6 640.3L980.6 639.6L976.2 639.4L971.9 638.9L967.9 638.1L964.5 638.3L962.1 638.6Z" fill="#444444"/>
<path d="M1009.7 616.9L1012.3 616.9L1015.9 616.5L1020.1 615.8L1024.4 614.8L1028.4 613.3L1032.4 611.4L1036.9 609.9L1041.4 608.6L1044.7 606.4L1046.9 604.5L1046.5 603.5L1043.6 603.9L1039.8 605.0L1035.8 607.5L1031.7 609.6L1027.6 610.7L1023.6 611.5L1019.4 612.6L1015.3 613.6L1011.9 614.7L1009.5 615.7Z" fill="#444444"/>
<path d="M960.2 542.4L963.4 541.8L967.7 540.4L972.6 539.3L976.2 539.7L980.8 540.3L985.7 540.3L990.0 540.2L993.0 540.2L993.0 539.6L990.2 538.8L986.0 537.5L981.3 536.3L976.4 536.0L972.2 536.3L966.7 537.4L962.4 539.5L959.8 541.6Z" fill="#444444"/>
<path d="M635.3 558.1L637.6 557.3L640.9 556.8L644.7 555.9L648.6 553.9L652.7 552.2L657.3 552.6L661.6 553.0L665.1 551.7L668.8 549.1L672.9 547.8L677.4 547.9L681.5 547.4L685.1 546.1L688.3 545.4L690.7 545.6L689.3 536.4L687.0 537.3L683.9 537.6L680.0 537.4L675.9 538.1L671.6 539.6L667.1 539.7L662.5 538.7L658.4 539.0L654.4 541.6L650.4 544.4L645.9 545.4L641.5 546.0L637.9 547.7L635.0 549.2L632.7 549.9Z" fill="#454545"/>
<path d="M631.9 574.7L634.1 575.9L636.8 578.2L640.3 580.5L644.4 581.9L648.1 583.5L651.1 586.5L654.1 589.9L657.7 591.7L661.4 591.9L664.0 592.2L668.0 583.8L666.3 581.9L663.8 579.2L660.3 577.4L655.8 577.1L651.9 576.5L648.6 574.3L645.4 571.5L641.7 569.8L638.3 568.6L636.1 567.3Z" fill="#454545"/>
<path d="M355.6 559.5L357.7 560.5L360.6 561.9L364.0 563.4L367.8 564.7L371.8 565.4L375.7 566.1L379.0 567.0L382.3 568.2L385.9 569.1L389.6 569.5L393.3 569.8L396.9 570.7L400.3 572.1L403.6 573.5L407.1 574.7L410.7 575.8L414.2 577.2L417.7 578.8L421.3 580.1L425.1 580.6L429.7 580.9L434.4 581.9L439.0 583.2L443.3 583.5L447.1 582.7L449.8 582.1L450.2 579.9L447.7 578.5L444.3 576.7L440.1 575.8L435.5 575.7L430.9 575.0L426.9 573.4L423.7 572.0L420.3 571.0L416.7 570.2L413.1 569.0L409.6 567.5L406.0 566.3L402.3 565.5L398.5 564.9L394.9 563.8L391.4 562.3L387.8 560.9L384.2 560.2L380.7 559.7L377.3 559.1L373.3 558.1L369.3 557.2L365.2 556.9L361.5 557.1L358.3 557.3L356.0 557.5Z" fill="#474747"/>
<path d="M194.0 563.9L195.7 566.0L198.3 568.6L201.5 571.7L205.1 574.6L209.1 576.9L212.5 578.5L215.9 580.5L219.3 582.9L222.8 585.0L226.6 586.2L230.5 587.0L234.8 588.4L239.1 590.5L243.5 591.0L247.4 590.8L250.1 590.6L250.9 588.2L248.7 586.5L245.6 584.1L241.8 582.1L237.5 581.2L233.5 579.4L230.6 577.3L227.4 575.2L223.8 573.8L220.0 572.6L216.5 571.0L213.5 569.1L209.8 566.9L205.7 565.0L201.7 563.4L198.3 562.0L195.6 561.3Z" fill="#474747"/>
<path d="M286.5 612.2L285.7 615.3L285.0 619.8L286.6 624.5L289.1 628.8L293.3 633.0L298.9 635.9L304.8 635.9L308.8 633.1L311.9 629.6L314.6 625.8L316.6 621.7L317.2 617.2L317.0 613.0L317.1 609.7L317.8 607.9L319.7 605.7L322.1 603.7L324.8 602.7L327.1 603.6L330.1 606.0L333.4 608.7L336.8 610.9L339.8 613.4L342.4 616.6L344.6 619.7L346.2 621.5L348.3 625.3L348.7 628.5L350.5 628.9L352.2 625.3L353.0 619.3L351.1 615.3L348.3 611.8L345.0 608.4L341.8 605.1L338.4 601.9L334.1 599.4L329.5 597.9L325.0 596.9L319.6 597.3L314.6 599.9L311.2 604.1L310.0 608.5L309.7 612.7L309.3 616.3L308.4 619.1L307.3 622.4L306.1 626.1L304.6 629.0L303.6 629.7L301.2 629.0L297.6 626.9L294.5 624.4L293.6 621.9L292.9 618.0L290.7 614.4L288.9 611.8Z" fill="#474747"/>
<path d="M480.6 528.6L482.6 530.0L485.5 531.7L489.0 533.5L492.9 535.2L497.2 536.4L501.3 537.1L504.8 537.8L508.4 538.7L512.1 539.5L515.9 539.6L519.7 539.2L523.3 538.9L526.9 538.9L531.0 538.9L534.8 538.2L538.3 537.0L541.5 536.0L544.6 535.6L547.4 535.8L550.2 536.1L553.5 536.4L557.2 536.9L560.8 537.9L564.5 539.1L568.6 539.5L573.8 538.0L578.3 535.3L582.3 532.8L585.6 529.9L586.7 524.6L585.7 521.3L583.3 521.3L582.1 523.1L579.4 525.1L577.5 526.7L574.5 529.3L570.9 531.1L567.4 532.1L565.3 532.4L562.3 532.1L559.0 531.0L555.5 529.3L551.6 527.8L547.4 527.4L543.4 528.1L539.8 529.2L536.3 530.1L533.0 530.9L529.8 531.8L526.5 532.7L523.4 532.9L520.0 532.4L516.5 531.5L513.0 530.9L509.4 530.8L505.9 530.8L502.7 530.3L498.9 529.2L495.0 528.2L490.9 527.5L487.1 526.8L483.8 526.4L481.4 526.4Z" fill="#474747"/>
<path d="M478.2 584.1L480.6 582.2L483.5 579.4L486.8 576.8L490.1 574.7L492.3 573.4L495.1 571.9L498.3 570.8L501.7 570.5L505.0 570.4L508.0 569.8L511.1 569.2L514.8 569.5L518.4 571.1L522.1 572.7L526.0 573.9L529.5 574.9L532.8 576.5L535.6 578.4L538.8 580.0L542.5 580.9L546.6 581.1L550.9 581.3L555.2 582.1L559.7 582.5L564.3 582.1L568.9 581.2L573.0 580.6L577.1 579.7L580.8 577.9L584.0 575.6L587.0 573.5L589.9 572.5L594.7 571.8L599.0 570.0L602.7 567.6L605.3 566.0L604.7 563.4L601.7 563.0L597.3 562.5L592.3 563.0L587.5 565.1L584.0 566.5L580.3 567.5L576.5 568.4L573.0 569.8L570.0 571.5L567.1 572.8L563.3 573.2L559.4 573.2L555.5 573.6L551.7 573.8L548.2 572.9L545.4 571.4L542.9 570.0L539.9 568.9L536.3 567.9L532.3 566.9L528.9 565.5L525.2 564.0L521.0 563.0L516.6 562.2L512.4 560.8L508.0 559.6L503.7 559.5L499.5 560.7L495.6 562.5L491.9 564.0L488.3 565.3L484.9 567.1L481.0 570.9L478.4 575.5L476.7 579.5L475.8 582.3Z" fill="#474747"/>
<path d="M804.4 547.5L802.1 549.0L798.6 551.1L795.6 554.2L792.8 557.5L790.4 560.3L787.1 563.4L783.4 566.0L780.8 569.3L779.3 572.1L780.7 573.9L783.7 573.1L787.6 571.4L791.2 568.1L794.8 564.9L797.8 562.0L800.8 558.5L803.2 554.9L804.6 551.1L805.6 548.5Z" fill="#474747"/>
<path d="M957.8 658.4L960.0 659.5L963.2 661.1L967.1 661.8L971.5 661.8L975.9 661.9L980.2 662.4L984.2 662.3L987.6 661.2L990.0 660.4L990.0 658.8L987.8 657.7L984.6 656.2L980.7 655.6L976.3 655.6L971.9 655.2L967.6 654.5L963.6 654.8L960.2 656.0L957.8 656.8Z" fill="#474747"/>
<path d="M326 294L328 297L333 300L338 305L345 308L354 306L361 306L362 305L363 303L365 306L368 312L373 316L380 322L384 327L396 307L391 306L384 302L382 299L378 296L373 291L366 284L356 284L349 289L346 289L343 290L337 290L332 289L328 288Z" fill="#4a4a4a"/>
<path d="M258.0 291.6L261.8 294.4L266.7 295.5L267.3 294.5L264.2 290.6L260.0 288.4Z" fill="#4a4a4a"/>
<path d="M229.7 362.9L231.0 364.9L232.7 367.7L235.5 370.3L238.7 372.9L241.8 375.6L244.4 378.6L246.7 381.2L250.3 383.8L254.1 385.7L257.5 387.6L260.5 389.0L262.7 389.9L263.3 388.9L261.7 387.2L259.3 385.0L256.4 382.5L253.5 379.5L250.3 376.8L247.4 375.1L244.1 372.9L241.1 370.2L238.2 367.3L235.4 364.8L232.4 363.4L230.3 362.3Z" fill="#4a4a4a"/>
<path d="M177.8 394.7L181.4 394.6L186.3 395.0L189.9 394.2L190.1 393.0L186.6 391.5L181.7 391.0L178.2 390.3Z" fill="#4a4a4a"/>
<path d="M288 447L293 451L300 449L300 446L295 442L288 445Z" fill="#4a4a4a"/>
<path d="M201.2 476.5L204.2 475.6L208.3 474.3L212.6 472.3L216.4 470.4L220.6 469.2L225.3 469.0L229.4 468.0L232.1 466.5L231.9 465.1L228.8 464.6L224.6 465.0L220.0 466.5L215.6 467.6L211.1 469.0L206.7 471.1L203.2 473.7L200.8 475.5Z" fill="#4a4a4a"/>
<path d="M376.7 404.5L379.5 404.6L383.5 404.4L387.2 403.0L390.0 402.2L394.8 403.0L398.7 403.0L399.3 401.0L395.9 398.5L390.0 397.8L386.0 398.3L381.9 399.4L378.5 401.7L376.3 403.5Z" fill="#4a4a4a"/>
<path d="M430.0 449.6L433.4 450.6L438.4 451.1L443.5 451.2L447.0 450.6L447.0 449.4L443.6 448.4L438.6 447.9L433.5 447.8L430.0 448.4Z" fill="#4a4a4a"/>
<path d="M434 297L437 299L443 302L448 306L454 310L461 311L468 311L476 311L482 308L485 304L489 301L494 300L497 298L503 298L509 299L515 298L520 296L523 296L522 282L519 283L514 282L508 281L501 284L495 285L489 285L483 288L477 292L473 293L470 294L467 297L463 297L459 296L456 294L452 291L449 286L446 283Z" fill="#4a4a4a"/>
<path d="M469 304L474 304L480 302L487 300L492 298L498 296L502 296L498 285L495 287L489 290L483 292L477 295L471 298L467 302Z" fill="#4a4a4a"/>
<path d="M532 311L536 314L540 319L547 323L554 326L561 326L568 324L575 326L582 326L588 323L594 322L600 319L604 316L608 312L615 308L619 303L616 298L610 298L602 301L598 302L592 302L587 304L583 306L579 306L573 308L568 310L562 308L557 306L552 306L545 306L538 306L534 307Z" fill="#4a4a4a"/>
<path d="M584.0 291.7L586.4 292.3L589.8 292.7L593.8 292.7L597.9 292.9L601.7 292.8L604.9 292.4L609.9 292.8L614.0 293.6L616.9 293.6L617.1 292.4L614.5 291.2L610.3 290.4L605.1 289.6L601.8 289.0L597.9 288.8L593.7 289.0L589.8 289.1L586.4 289.7L584.0 290.3Z" fill="#4a4a4a"/>
<path d="M636 307L640 307L642 309L641 310L642 312L642 313L640 314L639 314L638 314L636 314L635 314L634 313L634 310L634 309L634 308L636 307L639 307L637 293L632 295L626 297L621 303L619 310L620 317L623 324L629 329L636 332L644 330L651 326L655 320L657 312L656 305L651 298L644 296L640 293Z" fill="#4a4a4a"/>
<path d="M628 310L632 314L634 319L646 311L642 307L640 302Z" fill="#4a4a4a"/>
<path d="M673 303L675 306L677 309L680 311L683 313L697 299L695 296L691 291L685 289L681 289Z" fill="#4a4a4a"/>
<path d="M685 316L688 321L695 326L701 330L709 332L715 331L722 330L729 331L734 330L740 328L746 328L751 326L756 324L760 324L766 323L768 323L770 319L767 315L760 313L755 313L750 313L743 313L737 315L732 315L727 315L720 318L714 319L711 318L707 317L703 314L699 309L693 306Z" fill="#4a4a4a"/>
<path d="M704 324L709 329L716 329L723 328L728 324L728 322L722 320L716 321L710 320L704 322Z" fill="#4a4a4a"/>
<path d="M667 301L666 307L666 314L670 319L674 323L678 321L678 316L678 310L674 304L669 301Z" fill="#4a4a4a"/>
<path d="M724 299L726 304L731 300L731 297L729 291L724 295Z" fill="#4a4a4a"/>
<path d="M757.0 291.5L760.7 292.9L766.0 293.5L770.0 292.5L770.0 291.5L766.3 289.9L761.0 289.7L757.0 290.5Z" fill="#4a4a4a"/>
<path d="M615.1 334.3L615.1 337.4L615.2 341.9L616.0 346.4L617.2 350.3L618.0 353.8L617.9 357.5L616.8 361.0L615.4 364.5L614.5 368.3L614.2 372.1L613.9 375.2L613.4 376.7L611.3 377.4L607.9 378.4L605.0 379.8L605.0 382.2L608.1 383.4L613.0 383.9L617.6 381.3L620.0 377.5L621.5 373.6L622.5 369.4L622.6 365.5L622.3 361.7L622.0 357.8L622.3 353.9L622.8 349.7L622.5 345.0L620.9 340.3L618.6 336.4L616.9 333.7Z" fill="#4a4a4a"/>
<path d="M538.4 337.5L536.4 339.5L534.0 342.5L532.6 346.5L530.9 350.1L528.9 352.6L526.2 354.4L523.4 355.8L520.3 357.5L516.9 360.0L513.8 362.6L510.2 365.2L506.2 367.3L503.3 369.9L501.6 372.3L502.4 373.7L505.3 373.2L509.0 371.7L512.6 369.1L516.6 366.8L520.1 365.2L523.7 363.7L527.0 361.9L530.2 359.4L532.9 356.0L534.9 352.4L537.0 348.5L539.1 344.7L539.6 340.9L539.6 338.1Z" fill="#4a4a4a"/>
<path d="M477.3 354.9L480.1 354.2L484.0 353.2L487.6 352.0L491.3 350.9L495.1 349.4L497.9 348.5L497.7 347.5L494.8 347.4L490.6 347.3L486.4 348.0L482.5 349.6L479.0 352.0L476.7 353.7Z" fill="#4a4a4a"/>
<path d="M475 398L481 398L487 397L492 394L494 392L494 389L490 388L485 388L478 391L473 396Z" fill="#4a4a4a"/>
<path d="M620.5 420.1L624.4 421.9L627.9 424.7L628.7 428.4L628.2 432.6L625.4 436.1L621.8 437.8L618.3 436.9L615.2 434.8L613.1 431.7L612.3 428.1L613.6 424.8L616.0 422.2L618.7 421.0L621.2 420.2L620.8 417.8L617.8 418.1L614.0 419.8L611.2 423.4L609.7 427.9L610.4 432.8L612.8 437.2L617.2 439.8L622.2 440.2L626.6 437.4L629.8 433.4L631.2 428.4L630.1 423.3L625.6 420.0L621.5 417.9Z" fill="#4a4a4a"/>
<path d="M451.4 428.6L449.9 432.2L449.5 437.1L450.6 441.4L452.5 444.2L453.5 443.8L453.3 440.6L452.5 436.9L452.8 432.6L452.6 428.8Z" fill="#4a4a4a"/>
<path d="M466.3 451.2L464.6 453.6L462.5 457.2L460.4 461.4L458.9 465.3L458.2 470.2L458.3 474.8L458.3 478.0L458.9 478.0L459.7 475.0L460.9 470.7L462.3 466.3L463.6 462.7L465.2 458.5L466.6 454.5L467.3 451.6Z" fill="#4a4a4a"/>
<path d="M439.8 449.5L442.5 451.4L445.9 451.4L446.1 450.6L443.5 448.6L440.2 448.5Z" fill="#4a4a4a"/>
<path d="M662.9 468.4L664.9 469.6L667.6 471.1L671.0 472.1L674.9 473.0L679.0 474.2L683.2 475.6L687.5 476.3L691.0 476.2L695.0 476.0L699.1 476.4L703.3 477.1L707.4 477.3L711.3 477.3L714.8 477.4L717.7 477.1L720.0 476.7L720.0 475.3L717.9 474.6L714.9 474.1L711.4 474.0L707.6 473.6L703.5 473.5L699.3 473.7L695.2 473.5L691.4 472.6L688.1 471.7L684.1 471.0L679.9 470.6L675.8 469.8L672.0 468.6L668.6 467.7L665.4 467.6L663.1 467.6Z" fill="#4a4a4a"/>
<path d="M726 298L730 303L735 299L735 295L731 290L726 294Z" fill="#4a4a4a"/>
<path d="M710.1 292.7L713.9 293.4L718.7 292.4L722.3 292.0L721.7 288.0L718.1 288.8L713.2 289.4L709.9 291.3Z" fill="#4a4a4a"/>
<path d="M804.0 292.6L803.4 295.3L802.5 299.3L803.3 304.1L805.9 308.7L808.0 312.4L810.3 316.7L813.8 319.9L818.6 321.4L822.5 322.8L824.9 324.1L826.3 322.7L824.8 320.3L823.0 316.6L821.3 312.1L818.1 308.9L814.4 306.8L812.1 304.9L810.7 301.4L809.4 297.8L807.5 294.6L806.0 292.2Z" fill="#4a4a4a"/>
<path d="M826 296L831 297L837 296L844 296L850 294L851 291L846 286L839 284L831 283L825 285Z" fill="#4a4a4a"/>
<path d="M845 302L848 306L856 309L864 311L868 313L876 287L872 287L870 285L869 282L867 280Z" fill="#4a4a4a"/>
<path d="M855 385L859 387L864 388L870 388L876 387L881 386L887 385L893 386L899 384L906 379L913 373L916 367L918 362L922 359L925 357L928 353L932 349L935 348L940 346L944 345L948 346L952 349L957 352L959 355L960 359L961 360L958 363L952 364L949 364L943 365L938 365L936 369L940 372L946 377L955 378L964 372L971 365L973 357L970 350L967 344L961 337L951 334L944 334L937 334L931 336L926 339L920 342L915 345L911 350L908 356L905 361L903 364L899 369L893 370L889 371L885 374L880 374L874 375L869 376L863 377L858 379L854 381Z" fill="#4a4a4a"/>
<path d="M868 384L873 385L879 385L885 385L892 384L898 382L907 379L913 373L915 365L916 359L912 357L909 361L903 365L899 367L894 372L890 373L883 374L877 376L871 378L868 380Z" fill="#4a4a4a"/>
<path d="M962 380L969 381L976 378L981 375L984 372L982 370L979 370L974 371L967 373L962 378Z" fill="#4a4a4a"/>
<path d="M866.6 395.8L867.9 399.4L870.6 404.1L874.4 407.4L878.5 407.6L882.7 406.3L886.7 404.5L890.3 402.5L893.9 398.6L895.7 393.4L896.2 389.5L895.4 389.3L893.3 392.5L891.2 397.1L888.9 401.1L886.0 403.0L882.1 404.3L878.3 404.7L875.6 404.6L872.5 402.4L869.8 398.3L867.4 395.4Z" fill="#4a4a4a"/>
<path d="M850.9 451.6L854.2 453.3L857.9 452.5L858.1 451.5L854.8 449.7L851.1 450.4Z" fill="#4a4a4a"/>
<path d="M710.1 476.7L713.1 476.9L717.1 476.4L721.7 475.6L726.5 474.9L730.8 473.8L735.0 472.7L739.4 472.5L743.8 472.8L747.9 472.8L751.7 472.0L757.1 470.4L761.3 468.4L763.9 466.4L763.5 465.2L760.2 465.5L755.9 466.9L750.9 468.0L747.4 468.3L743.5 468.9L739.2 469.9L734.8 470.3L730.4 470.2L725.8 470.6L721.0 471.7L716.4 472.8L712.5 474.0L709.9 475.3Z" fill="#4a4a4a"/>
<path d="M763.3 462.0L762.8 464.8L762.3 468.8L762.3 473.3L763.0 477.3L763.6 480.0L764.4 480.0L764.9 477.2L765.5 473.2L765.3 468.7L764.7 464.7L764.1 462.0Z" fill="#4a4a4a"/>
<path d="M989.4 432.4L987.3 434.0L984.7 436.8L982.6 440.5L980.5 444.0L978.5 447.6L976.8 451.8L976.1 456.2L976.9 460.4L980.8 463.7L985.8 466.0L989.8 466.4L990.2 465.2L987.0 463.0L982.2 461.3L979.9 458.8L980.5 456.8L981.8 453.5L983.4 449.7L984.7 446.0L986.2 442.5L988.4 439.2L989.9 435.8L990.6 433.2Z" fill="#4a4a4a"/>
<path d="M967.9 470.5L970.4 471.6L974.2 472.8L978.7 473.5L983.2 474.6L987.1 474.8L989.9 474.5L990.1 473.5L987.6 472.2L983.8 471.0L979.3 470.5L974.8 469.6L970.9 469.3L968.1 469.5Z" fill="#4a4a4a"/>
<path d="M992 332L996 331L1002 328L1007 327L1010 327L1012 327L1014 330L1014 334L1015 338L1017 342L1017 344L1015 348L1012 351L1009 354L1005 356L999 356L994 356L990 358L986 358L985 358L985 356L983 353L981 350L980 345L982 341L983 338L987 335L993 333L996 330L984 316L981 318L978 323L973 328L968 333L965 343L966 352L966 360L969 367L977 372L985 373L991 373L998 373L1003 371L1009 368L1015 366L1021 363L1028 357L1032 349L1033 342L1034 334L1031 328L1026 322L1021 317L1014 312L1006 312L999 313L992 313L988 314Z" fill="#4a4a4a"/>
<path d="M979 336L982 340L984 339L983 341L979 346L993 354L996 348L1000 337L995 327L989 324Z" fill="#4a4a4a"/>
<path d="M987 353L993 352L999 348L1004 342L1006 336L1008 332L1010 330L1008 328L1005 329L1000 332L996 337L993 342L988 346L985 351Z" fill="#4a4a4a"/>
<path d="M1025.4 335.3L1026.3 339.0L1027.9 343.9L1029.1 348.2L1029.2 352.3L1029.0 356.7L1028.7 359.9L1029.3 360.1L1030.6 357.1L1032.3 352.7L1032.9 347.8L1031.4 342.6L1028.8 337.9L1026.6 334.7Z" fill="#4a4a4a"/>
<path d="M950 382L955 383L962 384L968 382L974 380L979 377L983 374L979 365L975 366L969 368L963 370L958 371L953 376L950 379Z" fill="#4a4a4a"/>
<path d="M1040 388L1042 383L1045 379L1049 377L1052 375L1057 374L1061 373L1066 369L1070 371L1072 372L1074 373L1074 376L1073 380L1077 386L1077 392L1097 392L1097 385L1099 375L1095 367L1089 360L1084 354L1075 350L1066 350L1055 348L1046 352L1040 359L1034 365L1032 373L1032 382L1033 388Z" fill="#4a4a4a"/>
<path d="M1056 377L1055 381L1052 387L1050 395L1052 401L1054 408L1056 415L1063 421L1072 423L1081 424L1087 423L1083 406L1079 407L1076 409L1075 406L1073 402L1070 400L1068 396L1067 391L1064 387L1062 382L1061 378Z" fill="#4a4a4a"/>
<path d="M1026.7 374.3L1026.1 377.6L1026.0 382.4L1026.8 387.4L1028.6 390.8L1031.0 393.9L1033.4 396.9L1035.4 400.1L1038.2 404.5L1042.2 407.5L1045.5 408.9L1046.5 407.9L1044.9 404.6L1041.8 400.9L1038.0 397.9L1035.6 395.4L1033.7 392.2L1032.3 388.9L1031.2 386.0L1030.0 381.8L1029.0 377.4L1028.1 374.3Z" fill="#4a4a4a"/>
<path d="M1042 387L1042 392L1043 398L1045 402L1047 406L1049 409L1052 408L1053 405L1053 399L1051 394L1047 389L1044 386Z" fill="#4a4a4a"/>
<path d="M1019 430L1024 430L1031 430L1039 429L1045 426L1050 423L1056 422L1058 419L1064 416L1069 416L1066 401L1061 403L1052 404L1046 406L1042 410L1038 414L1034 415L1028 419L1022 422L1017 424Z" fill="#4a4a4a"/>
<path d="M1093 371L1099 373L1104 375L1106 376L1108 379L1112 382L1116 385L1126 377L1124 372L1120 367L1114 363L1106 359L1097 362L1092 367Z" fill="#4a4a4a"/>
<path d="M998 449L1003 450L1009 449L1016 450L1021 450L1026 449L1031 452L1037 453L1044 450L1051 449L1059 447L1065 442L1072 440L1078 438L1079 435L1085 431L1090 430L1083 408L1077 411L1068 413L1062 415L1058 421L1055 425L1051 426L1047 427L1042 428L1036 426L1032 427L1026 429L1018 429L1012 431L1005 436L999 438L995 442Z" fill="#4a4a4a"/>
<path d="M994.6 452.2L995.5 455.2L997.5 459.2L999.1 463.2L999.5 465.5L997.6 467.5L993.8 469.8L990.9 471.7L991.1 472.3L994.6 471.7L999.4 470.1L1002.5 466.5L1001.8 462.3L999.8 458.0L997.4 454.2L995.4 451.8Z" fill="#4a4a4a"/>
<path d="M1145 422L1149 428L1155 433L1161 435L1166 436L1167 434L1165 429L1161 425L1154 420L1147 419Z" fill="#4a4a4a"/>
<path d="M1190 446L1191 452L1196 458L1203 457L1206 453L1205 450L1201 449L1199 449L1197 447L1192 444Z" fill="#4a4a4a"/>
<path d="M1115.0 474.6L1117.7 475.3L1121.5 475.7L1125.9 475.3L1130.6 474.8L1135.0 473.3L1138.2 470.6L1141.0 467.1L1144.1 463.8L1147.3 460.9L1149.3 457.8L1150.5 455.4L1149.5 454.6L1147.2 456.0L1144.6 458.6L1142.3 462.2L1139.3 465.4L1135.9 467.7L1133.0 469.3L1129.5 470.7L1125.5 471.7L1121.3 471.8L1117.6 472.4L1115.0 473.4Z" fill="#4a4a4a"/>
<path d="M193 514L196 517L203 520L209 522L215 522L215 520L212 516L205 514L198 512L193 512Z" fill="#4a4a4a"/>
<path d="M258 548L262 548L267 549L272 547L278 545L284 545L288 542L293 540L299 540L304 540L309 538L315 535L321 533L324 530L327 528L330 530L333 533L338 535L343 537L348 540L354 542L359 546L364 551L371 553L377 554L383 554L388 553L394 552L397 552L397 548L395 547L390 543L386 540L382 538L377 535L372 533L367 533L362 530L357 525L352 522L347 519L341 515L334 514L327 514L320 515L313 516L308 520L303 521L299 522L295 524L290 527L285 527L279 527L274 529L269 529L263 530L258 532L255 534Z" fill="#4a4a4a"/>
<path d="M368 531L372 533L377 537L383 538L388 538L394 537L397 535L397 532L394 531L390 529L385 528L379 527L373 528L368 528Z" fill="#4a4a4a"/>
<path d="M384.2 490.0L383.5 492.3L382.5 495.7L382.5 499.6L382.8 503.7L382.8 507.7L382.5 511.2L382.3 515.7L383.0 520.0L384.9 523.2L386.2 525.5L387.4 525.3L387.8 522.7L388.5 519.1L387.9 515.1L386.9 510.8L386.4 507.6L386.3 503.7L386.6 499.6L386.7 495.7L385.8 492.4L385.2 490.0Z" fill="#4a4a4a"/>
<path d="M302.4 501.1L305.1 499.7L308.5 497.2L312.0 495.0L314.5 494.2L317.8 495.0L321.7 497.5L323.9 501.0L323.7 504.0L322.7 507.9L322.3 512.0L322.3 514.9L323.3 515.1L324.7 512.6L326.3 508.7L326.7 504.2L325.9 500.2L323.2 496.1L319.3 492.3L314.5 490.6L310.4 492.0L306.7 494.8L303.5 497.8L301.6 500.1Z" fill="#4a4a4a"/>
<path d="M402 523L403 529L407 535L414 540L421 544L429 544L437 543L446 540L451 534L449 529L442 528L436 528L432 527L427 524L422 523L417 521L410 520L405 519Z" fill="#4a4a4a"/>
<path d="M434.4 511.5L437.4 510.3L441.1 507.8L445.2 504.9L448.5 501.7L450.3 499.0L449.7 498.2L446.6 499.3L442.7 501.7L438.9 504.9L435.5 507.9L433.6 510.5Z" fill="#4a4a4a"/>
<path d="M343.6 581.4L347.1 580.3L351.9 578.5L356.3 576.3L360.8 574.4L365.3 573.0L368.4 571.5L368.0 570.3L364.7 570.8L360.0 572.3L355.3 573.7L350.5 575.7L346.2 578.4L343.2 580.6Z" fill="#4a4a4a"/>
<path d="M343.1 645.3L344.9 647.4L347.4 650.3L351.1 653.1L355.4 654.7L359.4 655.0L363.8 655.1L368.3 655.4L372.5 655.2L376.3 655.0L379.9 655.5L383.4 656.8L386.7 658.3L389.8 659.6L392.3 660.6L396.4 663.7L398.6 666.1L399.4 665.5L397.7 662.4L393.7 658.6L391.1 656.9L388.0 655.4L384.4 654.1L380.6 653.0L376.7 651.8L372.5 651.0L368.0 651.3L363.6 652.3L359.5 652.7L356.2 652.1L352.6 650.3L349.2 648.1L346.0 646.0L343.7 644.7Z" fill="#4a4a4a"/>
<path d="M217.6 658.0L221.0 658.3L225.5 658.5L229.3 659.1L232.0 661.0L234.6 664.5L236.4 668.3L237.5 670.5L237.5 673.1L236.4 674.8L239.6 677.2L241.8 674.5L242.5 669.5L240.4 665.8L237.3 662.4L233.9 659.0L230.7 656.1L225.6 654.9L220.7 656.0L217.4 657.2Z" fill="#4a4a4a"/>
<path d="M180.2 624.7L184.5 624.4L189.7 626.2L192.0 628.5L195.3 631.7L198.4 635.0L200.6 637.3L201.4 636.7L199.8 634.0L197.6 630.0L194.9 625.9L191.5 622.8L185.1 621.0L180.4 620.3Z" fill="#4a4a4a"/>
<path d="M190.8 488.5L195.4 487.3L199.2 484.4L198.8 483.6L194.2 484.7L190.4 487.5Z" fill="#4a4a4a"/>
<path d="M441 537L447 537L453 535L461 534L466 531L471 527L478 527L483 524L488 519L494 517L498 515L490 498L486 500L481 504L474 505L468 507L463 513L458 515L452 517L447 522L442 527L439 531Z" fill="#4a4a4a"/>
<path d="M518.6 490.4L521.4 490.5L525.4 490.5L529.8 489.4L534.6 488.5L539.4 488.3L542.9 488.0L546.8 487.0L550.9 485.9L554.9 485.3L558.7 485.3L561.8 484.4L564.1 483.5L563.9 482.5L561.6 482.1L558.4 482.0L554.7 482.7L550.6 483.1L546.3 482.9L542.2 483.0L538.6 483.7L534.0 485.1L529.2 486.1L524.6 486.8L521.0 488.4L518.4 489.6Z" fill="#4a4a4a"/>
<path d="M551.1 507.7L553.8 510.5L558.5 513.1L564.0 514.3L569.7 513.9L574.1 510.5L576.6 507.5L576.0 506.1L572.2 505.9L567.4 506.3L564.0 507.7L560.3 507.1L555.7 505.9L551.9 505.9Z" fill="#4a4a4a"/>
<path d="M556.6 513.0L556.0 516.5L556.2 521.6L556.7 526.6L557.5 530.0L558.5 530.0L558.9 526.5L558.8 521.4L558.4 516.4L557.4 513.0Z" fill="#4a4a4a"/>
<path d="M584.6 490.7L587.5 491.0L591.6 490.8L596.3 490.4L600.9 490.0L604.9 489.5L609.6 489.9L614.1 491.8L618.3 493.0L621.5 493.0L621.9 491.8L619.3 489.9L615.2 488.3L610.1 487.6L605.1 486.5L600.7 486.0L595.9 486.5L591.2 487.3L587.2 488.2L584.4 489.3Z" fill="#4a4a4a"/>
<path d="M629 513L633 512L639 511L643 513L648 513L652 516L654 518L658 519L658 524L657 529L661 531L665 526L668 519L668 510L662 502L652 499L642 497L635 501L630 506L627 509Z" fill="#4a4a4a"/>
<path d="M626 522L626 529L628 538L634 543L641 544L645 544L648 540L645 536L642 531L640 529L634 525L630 521Z" fill="#4a4a4a"/>
<path d="M640 559L644 558L652 559L659 557L666 556L671 556L674 552L677 550L681 552L686 553L692 552L698 552L705 550L711 545L716 543L720 542L720 534L716 534L710 532L703 528L697 527L692 528L686 527L681 528L675 530L669 529L660 529L654 534L650 539L645 544L640 550L636 553Z" fill="#4a4a4a"/>
<path d="M629 576L633 579L638 585L644 588L650 590L653 592L660 592L665 593L669 590L668 584L665 574L656 572L649 570L644 569L636 570L631 570Z" fill="#4a4a4a"/>
<path d="M667.2 579.5L670.5 579.4L674.9 578.5L679.4 576.5L683.8 575.4L688.0 574.7L692.3 573.3L695.7 570.8L698.1 569.3L697.9 568.3L695.0 568.2L690.7 567.8L686.3 568.7L682.2 570.6L678.0 572.5L673.2 574.0L669.3 576.3L666.8 578.5Z" fill="#4a4a4a"/>
<path d="M609 570L612 575L617 574L618 572L615 567L610 567Z" fill="#4a4a4a"/>
<path d="M476.5 582.9L474.6 585.0L472.2 588.1L469.9 591.9L467.6 596.0L465.7 600.0L463.8 603.1L460.9 605.8L457.4 607.8L454.0 609.4L451.5 611.7L449.9 613.6L450.7 614.8L453.1 614.3L456.3 613.3L459.5 610.9L462.7 607.9L465.8 604.9L468.5 601.8L471.4 598.2L473.8 594.0L475.6 589.9L476.8 586.2L477.5 583.5Z" fill="#4a4a4a"/>
<path d="M439.9 579.7L443.4 581.5L448.4 582.2L452.3 581.6L452.5 580.4L449.0 578.6L444.0 577.6L440.1 578.3Z" fill="#4a4a4a"/>
<path d="M596.8 592.1L600.0 593.7L604.8 595.3L609.7 596.3L613.3 596.1L613.5 595.1L610.5 593.2L605.6 591.8L600.7 590.9L597.2 590.9Z" fill="#4a4a4a"/>
<path d="M440.4 507.3L445.0 505.0L448.3 501.0L447.7 500.2L443.0 502.4L439.6 506.3Z" fill="#4a4a4a"/>
<path d="M711 543L715 544L721 544L727 543L733 545L737 544L742 543L747 546L753 546L758 544L763 542L768 543L773 541L779 540L785 543L791 542L796 540L801 541L805 542L810 541L815 544L819 547L825 547L831 547L839 548L848 546L854 542L860 541L866 539L870 531L874 527L879 523L881 520L878 514L874 514L868 515L862 516L854 515L849 518L845 522L840 523L837 524L835 524L831 521L826 518L820 520L814 520L809 518L804 517L797 517L790 514L784 514L777 518L771 518L765 518L760 519L755 519L750 517L745 518L740 522L734 522L729 523L723 526L717 529L712 532L709 535Z" fill="#4a4a4a"/>
<path d="M741.2 513.5L744.2 512.6L748.4 511.0L752.5 509.4L755.2 508.5L760.1 510.4L763.7 513.3L764.3 512.7L761.2 508.9L755.8 505.5L751.4 506.2L747.1 508.3L743.3 510.7L740.8 512.5Z" fill="#4a4a4a"/>
<path d="M778.2 515.3L780.7 514.5L784.3 513.4L788.2 511.3L792.0 509.1L795.1 507.0L797.2 505.4L796.8 504.6L794.3 505.5L790.8 506.9L786.8 508.7L782.9 510.7L779.9 513.1L777.8 514.7Z" fill="#4a4a4a"/>
<path d="M821.7 507.4L824.4 507.1L828.3 506.1L832.3 504.4L835.9 502.6L838.2 501.1L837.8 500.1L835.1 500.5L831.3 501.6L827.1 503.0L823.6 505.0L821.3 506.6Z" fill="#4a4a4a"/>
<path d="M886 541L889 544L894 550L899 556L904 559L909 564L914 567L921 568L927 569L933 573L940 573L945 574L951 577L957 577L964 574L971 572L977 569L980 565L986 562L991 560L989 553L984 552L976 552L970 552L965 554L960 555L957 553L952 553L947 554L943 554L938 552L933 552L929 549L925 545L920 543L914 542L909 540L901 538L894 536L890 535Z" fill="#4a4a4a"/>
<path d="M891.8 511.6L894.8 511.7L898.9 511.7L903.6 511.2L908.3 510.4L912.3 510.3L915.8 511.4L919.3 513.3L922.7 514.9L926.2 515.2L928.7 515.5L929.1 514.5L927.3 512.9L924.7 510.4L920.9 508.9L916.7 508.2L912.5 507.7L908.1 507.4L903.2 507.4L898.4 508.3L894.4 509.5L891.6 510.4Z" fill="#4a4a4a"/>
<path d="M936.6 506.8L935.8 509.4L934.8 513.3L934.6 517.6L934.4 521.8L933.6 524.8L930.9 527.9L928.1 530.6L926.3 533.1L927.3 534.3L930.2 533.3L933.9 530.6L936.4 526.0L937.3 522.3L938.0 518.0L938.5 513.5L937.9 509.6L937.4 506.8Z" fill="#4a4a4a"/>
<path d="M901.9 525.4L904.6 526.9L908.8 528.7L913.2 529.8L916.4 530.0L916.6 529.2L913.9 527.5L909.7 525.9L905.3 524.9L902.1 524.6Z" fill="#4a4a4a"/>
<path d="M757.1 548.2L757.7 551.1L758.8 555.3L759.9 559.3L760.2 562.1L758.1 565.3L754.1 568.3L751.1 570.6L751.5 571.2L754.9 569.7L759.6 567.0L763.0 563.1L763.1 558.8L761.6 554.3L759.5 550.4L757.9 547.8Z" fill="#4a4a4a"/>
<path d="M812.7 550.3L814.6 552.9L817.7 556.1L821.5 559.0L824.6 561.8L829.5 565.7L833.7 567.1L834.3 566.3L831.6 562.8L826.6 559.2L823.4 556.8L819.8 553.6L816.1 551.1L813.3 549.7Z" fill="#4a4a4a"/>
<path d="M868.8 600.3L871.3 602.1L875.4 604.3L879.9 606.5L884.3 607.8L887.5 608.3L887.7 607.7L885.2 605.7L881.3 603.3L876.6 601.5L872.3 599.9L869.2 599.3Z" fill="#4a4a4a"/>
<path d="M936.8 595.8L938.6 598.0L941.4 601.0L944.9 603.8L947.5 606.4L948.3 607.6L946.0 609.4L940.6 611.3L936.8 613.7L937.2 614.7L941.7 614.3L947.5 612.1L950.7 608.4L949.3 605.0L946.5 602.0L943.2 598.9L939.6 596.8L937.2 595.4Z" fill="#4a4a4a"/>
<path d="M989.6 607.6L986.6 609.5L983.1 613.1L979.8 617.0L978.0 620.0L978.8 620.8L981.7 618.8L985.3 615.3L988.7 611.5L990.4 608.4Z" fill="#4a4a4a"/>
<path d="M712.0 482.5L714.8 483.0L718.8 483.1L723.3 483.1L727.3 482.6L730.0 481.9L730.0 481.1L727.2 480.5L723.2 480.3L718.7 480.5L714.7 480.9L712.0 481.5Z" fill="#4a4a4a"/>
<path d="M960 565L964 567L970 569L976 569L980 571L983 573L989 572L994 573L1000 577L1007 577L1013 576L1019 575L1026 574L1031 569L1037 566L1044 566L1047 564L1051 559L1052 557L1055 557L1059 560L1063 557L1063 551L1058 543L1048 542L1038 541L1032 543L1028 549L1023 552L1018 552L1015 553L1011 554L1006 552L1002 553L998 555L993 553L988 550L981 550L974 552L968 554L963 557L960 560Z" fill="#4a4a4a"/>
<path d="M1003 591L1008 593L1015 595L1022 595L1028 594L1034 593L1039 593L1045 592L1050 588L1055 583L1058 580L1056 578L1052 578L1047 579L1041 579L1036 581L1032 583L1026 584L1022 584L1015 585L1008 586L1003 587Z" fill="#4a4a4a"/>
<path d="M1150.1 542.0L1152.5 542.6L1155.7 543.0L1159.5 542.7L1163.6 542.6L1167.7 541.8L1171.6 540.9L1175.0 540.7L1179.5 541.9L1184.0 543.0L1188.3 543.1L1192.1 542.3L1194.9 541.7L1195.1 540.3L1192.6 539.0L1189.1 537.2L1184.7 536.2L1179.8 536.4L1175.0 537.3L1171.4 537.3L1167.3 536.9L1163.1 536.8L1159.0 537.4L1155.2 538.0L1152.1 539.0L1149.9 540.0Z" fill="#4a4a4a"/>
<path d="M1085.9 568.6L1088.6 569.9L1092.4 571.2L1096.9 571.2L1101.5 571.9L1105.6 573.3L1108.8 574.2L1112.3 574.9L1115.6 576.2L1118.2 578.3L1120.2 581.0L1121.8 583.5L1123.8 586.8L1125.5 590.5L1127.2 593.9L1128.8 596.3L1130.6 595.7L1130.5 592.9L1129.9 588.9L1128.5 584.5L1126.2 580.5L1123.6 577.9L1120.7 575.7L1117.8 573.2L1114.8 570.3L1111.2 567.8L1107.0 566.7L1102.2 566.7L1097.3 566.4L1092.8 565.8L1088.8 566.5L1086.1 567.4Z" fill="#4a4a4a"/>
<path d="M1058.1 505.3L1061.5 504.9L1065.6 503.4L1068.2 501.2L1067.8 500.4L1064.4 500.6L1060.5 502.6L1057.9 504.7Z" fill="#4a4a4a"/>
<path d="M1093.1 506.9L1096.3 507.5L1100.9 507.5L1105.9 506.5L1110.6 505.9L1114.7 504.9L1118.2 503.1L1121.2 500.9L1124.4 499.3L1127.7 498.5L1130.9 498.0L1134.2 497.7L1138.0 497.3L1141.2 497.3L1144.9 497.9L1148.8 498.7L1152.7 499.0L1156.7 498.9L1160.2 499.3L1163.9 500.8L1167.4 502.8L1170.9 504.5L1174.3 505.1L1176.7 505.5L1177.3 504.5L1175.4 502.8L1172.9 500.5L1169.2 498.8L1165.0 497.7L1160.8 496.7L1157.3 495.5L1153.5 494.1L1149.4 493.3L1145.3 493.3L1141.4 493.3L1138.0 493.1L1133.6 493.2L1130.0 494.1L1126.9 495.5L1123.6 496.7L1119.9 497.6L1116.2 498.5L1112.7 499.7L1109.4 501.3L1105.2 502.6L1100.3 503.2L1095.9 504.4L1092.9 505.9Z" fill="#4a4a4a"/>
<path d="M1059.2 505.2L1063.9 504.2L1067.6 501.1L1067.2 500.1L1062.5 501.2L1058.8 504.4Z" fill="#4a4a4a"/>
<path d="M1220 488L1219 491L1218 497L1217 503L1218 509L1217 515L1217 521L1218 527L1219 533L1219 538L1218 541L1230 541L1229 537L1228 532L1228 527L1229 521L1229 515L1229 509L1229 503L1229 497L1229 492L1228 488Z" fill="#4a4a4a"/>
<path d="M1186 527L1187 532L1192 538L1200 540L1208 537L1208 534L1203 530L1196 528L1192 527L1188 525Z" fill="#4a4a4a"/>
<path d="M1172 568L1178 570L1186 572L1193 572L1200 570L1200 566L1195 562L1186 560L1178 561L1172 564Z" fill="#4a4a4a"/>
<path d="M1143 604L1144 607L1147 611L1149 616L1151 623L1154 628L1156 633L1156 640L1159 644L1165 647L1169 651L1171 656L1176 659L1178 664L1177 670L1179 675L1184 679L1186 684L1187 688L1189 691L1219 677L1218 674L1215 670L1213 665L1213 659L1210 653L1203 650L1200 645L1199 638L1195 633L1191 628L1190 621L1186 617L1180 615L1175 611L1170 607L1164 604L1159 601L1156 598L1153 596Z" fill="#4a4a4a"/>
<path d="M1158 623L1159 626L1162 631L1164 637L1167 644L1172 648L1175 655L1179 659L1186 660L1189 664L1193 669L1198 673L1202 678L1207 685L1215 687L1219 689L1232 671L1228 667L1225 661L1217 659L1213 657L1211 652L1206 648L1201 644L1198 637L1192 633L1186 632L1182 628L1177 626L1171 623L1168 619L1164 617Z" fill="#4a4a4a"/>
<path d="M1168 665L1171 668L1175 672L1180 676L1185 679L1191 682L1195 686L1198 687L1205 675L1202 673L1196 672L1191 669L1186 666L1180 664L1174 662L1170 661Z" fill="#4a4a4a"/>
<path d="M1129.6 666.3L1133.7 665.5L1138.7 662.8L1141.9 660.1L1141.5 659.1L1137.3 660.0L1132.2 662.4L1129.0 665.3Z" fill="#4a4a4a"/>
<path d="M960.1 662.2L962.5 662.3L965.8 662.2L969.4 661.1L973.3 660.3L977.2 660.1L980.6 660.0L984.1 659.7L987.8 659.4L991.5 659.8L994.9 660.9L997.9 662.3L1000.2 663.4L1003.1 665.7L1005.2 669.0L1007.1 672.2L1009.0 674.3L1010.2 673.7L1009.7 671.0L1008.3 667.2L1005.8 663.3L1002.4 660.0L999.3 658.6L995.7 658.0L991.9 657.5L988.1 656.7L984.3 655.7L980.6 655.2L976.7 655.7L972.6 656.7L968.6 657.7L964.8 658.4L961.9 660.0L959.9 661.2Z" fill="#4a4a4a"/>
<path d="M959.7 614.6L962.3 617.8L967.1 621.1L972.5 622.2L976.4 620.6L979.7 617.8L982.3 614.3L983.8 610.6L985.1 608.2L984.5 607.8L982.4 609.4L979.2 611.7L976.2 614.5L973.8 617.2L972.3 618.6L968.5 617.8L964.1 615.1L960.3 613.8Z" fill="#4a4a4a"/>
<path d="M1158.3 579.5L1161.8 579.4L1166.8 578.5L1171.7 577.1L1174.8 575.4L1174.6 574.6L1171.0 574.5L1166.1 575.5L1161.3 577.0L1158.1 578.5Z" fill="#4a4a4a"/>
<path d="M382.4 314.9L384.8 316.5L387.8 318.9L390.8 321.3L393.6 323.7L394.9 325.9L396.2 329.5L397.3 333.6L399.7 337.2L402.3 340.2L404.0 342.3L406.0 341.7L406.1 339.0L406.5 335.0L406.3 330.5L404.5 326.3L402.5 322.2L400.4 318.3L396.8 314.1L392.2 311.5L388.1 310.2L385.6 309.1Z" fill="#4e4e4e"/>
<path d="M176.1 291.8L179.3 293.6L183.6 293.7L184.4 292.3L182.7 288.4L179.9 286.2Z" fill="#4e4e4e"/>
<path d="M219.4 409.9L221.8 411.0L225.0 412.6L228.9 414.0L233.0 415.2L237.2 416.0L240.9 417.1L244.2 418.8L247.6 420.4L251.2 421.6L254.9 422.8L258.3 424.6L261.2 427.1L263.6 429.3L266.3 431.7L269.1 434.1L271.8 436.7L274.2 439.6L276.7 442.1L279.3 444.0L284.1 446.5L288.2 448.4L293.4 450.1L296.9 450.8L300.8 450.9L305.1 450.7L309.3 450.8L313.2 450.6L316.4 449.2L318.7 448.0L318.7 446.0L316.3 444.9L313.0 443.8L309.1 443.8L305.0 444.2L300.9 444.0L297.3 443.8L294.6 443.9L290.1 443.3L287.2 441.5L283.7 438.0L281.7 436.2L279.3 434.2L276.5 432.0L273.7 429.3L271.0 426.5L268.0 423.9L264.8 421.9L261.1 420.0L257.6 417.9L254.3 415.4L250.8 413.3L247.0 411.9L243.1 410.9L239.0 409.6L234.6 408.3L230.1 407.6L225.9 407.6L222.3 407.9L219.8 408.1Z" fill="#4e4e4e"/>
<path d="M311.4 400.5L311.9 403.0L312.9 406.4L315.1 409.8L317.7 413.2L320.4 416.5L323.4 419.1L326.8 421.4L330.3 423.7L333.8 426.2L337.7 428.4L341.4 429.4L345.4 429.5L349.2 429.3L352.9 429.4L356.4 429.8L359.7 430.1L363.8 430.2L368.1 430.6L372.2 431.2L375.8 430.8L378.4 430.0L378.6 427.4L376.3 426.1L372.9 424.8L368.8 424.5L364.5 423.9L360.3 423.1L356.8 422.9L353.1 423.0L349.5 422.9L346.1 422.1L343.1 421.2L340.3 420.6L336.9 419.8L333.5 418.5L330.5 416.3L327.8 413.8L325.2 411.5L322.7 409.1L320.4 406.1L318.3 402.9L315.8 400.5L313.6 399.1Z" fill="#4e4e4e"/>
<path d="M178.2 436.9L181.3 436.4L185.8 435.5L190.7 435.2L195.1 435.3L199.0 435.2L203.0 435.1L206.5 434.4L209.0 433.7L209.0 431.9L206.6 431.1L203.1 430.1L199.1 429.8L194.9 429.7L190.4 430.2L185.5 430.4L180.9 430.2L177.8 430.1Z" fill="#4e4e4e"/>
<path d="M432.1 409.4L435.0 410.4L439.2 410.7L443.6 409.6L447.5 408.2L450.1 406.8L449.9 405.2L447.0 404.6L442.9 404.3L438.3 404.4L434.4 405.9L431.9 407.6Z" fill="#4e4e4e"/>
<path d="M496.3 320.1L498.8 319.5L502.2 318.6L506.3 318.0L510.0 316.8L513.3 315.4L516.1 314.6L519.6 314.4L523.2 314.5L526.7 314.3L530.0 313.5L532.6 312.8L537.3 313.5L540.8 315.4L543.4 316.6L546.6 307.4L543.7 306.7L538.9 306.0L533.4 305.2L529.9 304.5L526.2 303.9L522.3 304.1L518.4 305.0L514.5 305.9L510.7 306.6L506.4 307.9L502.4 310.3L499.4 313.6L496.9 316.1L495.1 317.9Z" fill="#4e4e4e"/>
<path d="M629.5 326.8L631.9 330.2L636.8 332.7L642.0 331.2L644.5 327.9L643.5 326.1L639.9 326.3L637.2 327.3L634.2 326.2L630.5 325.2Z" fill="#4e4e4e"/>
<path d="M631.4 326.7L633.3 330.0L637.8 332.6L642.9 331.2L645.5 327.9L644.5 326.1L640.8 326.3L638.2 327.4L635.8 326.3L632.6 325.3Z" fill="#4e4e4e"/>
<path d="M653.8 294.7L656.7 296.6L661.0 299.2L665.6 300.4L671.8 299.7L676.0 298.0L676.0 296.0L671.8 294.7L666.4 293.6L662.4 293.0L657.7 293.2L654.2 293.3Z" fill="#4e4e4e"/>
<path d="M629.3 349.0L631.0 351.2L633.5 354.3L636.6 357.9L640.7 360.8L645.4 362.5L650.3 363.1L655.2 363.4L659.6 363.2L663.2 362.4L665.9 361.9L668.7 363.3L670.9 366.0L673.5 369.3L676.8 372.0L680.1 374.6L683.3 377.8L687.1 380.8L693.0 381.8L698.3 378.1L701.6 372.6L703.7 367.1L703.2 362.0L700.7 357.9L697.3 355.2L695.0 353.4L693.0 354.6L693.5 357.5L694.3 361.5L695.5 364.8L696.3 366.3L695.5 369.4L692.7 372.0L691.0 372.2L691.3 371.8L688.7 370.6L685.3 368.3L682.2 365.6L679.6 363.0L676.6 360.3L672.7 357.5L668.1 355.1L663.5 353.7L658.8 353.3L654.4 354.2L650.6 354.9L647.6 354.5L644.7 353.0L641.0 351.2L637.0 349.6L633.4 348.0L630.7 347.0Z" fill="#4e4e4e"/>
<path d="M444.9 392.7L449.0 391.8L453.3 389.9L456.1 389.2L456.5 390.0L458.7 392.6L461.9 395.9L465.6 399.2L470.3 401.8L475.4 402.0L479.9 400.5L483.7 397.8L487.1 395.3L490.1 393.9L491.5 393.6L493.6 394.0L496.0 395.9L500.2 398.9L504.0 401.0L508.1 403.2L512.8 403.6L517.2 403.1L520.2 402.9L520.8 400.7L518.5 398.9L515.3 395.9L511.3 393.6L507.0 392.8L503.8 392.3L500.7 390.1L497.5 386.8L491.7 385.2L487.3 386.5L483.5 388.5L479.4 390.1L475.7 391.4L473.0 392.7L471.7 393.6L469.7 393.2L467.4 390.8L465.0 387.2L461.9 383.8L456.9 381.4L450.2 382.5L445.4 386.6L443.1 390.3Z" fill="#4e4e4e"/>
<path d="M440.4 412.9L445.5 412.9L448.4 408.7L447.6 407.3L442.5 407.1L439.6 411.1Z" fill="#4e4e4e"/>
<path d="M556.2 478.8L559.0 478.3L562.8 477.4L566.1 475.1L569.4 472.7L573.1 471.3L575.9 470.8L579.1 470.0L582.6 469.2L586.3 468.8L590.0 469.1L593.5 469.7L596.8 469.9L600.4 469.8L604.1 470.0L607.6 470.8L610.9 471.7L613.9 472.5L616.1 472.8L621.7 475.0L625.1 476.8L626.5 475.2L624.2 471.6L619.1 467.2L616.0 465.8L612.7 464.7L609.1 464.0L605.2 463.3L601.2 462.4L597.2 461.7L593.6 461.7L589.8 462.3L586.0 463.0L582.1 463.2L578.1 463.2L574.4 463.6L570.9 464.7L566.4 466.6L562.0 468.7L558.4 471.3L556.4 474.7L555.0 477.2Z" fill="#4e4e4e"/>
<path d="M787.5 343.1L786.6 346.0L785.3 350.2L784.8 354.4L784.6 357.2L783.7 361.5L782.4 364.2L789.6 367.8L791.4 364.4L793.4 358.8L793.4 354.4L792.6 349.8L790.7 345.7L789.5 342.9Z" fill="#4e4e4e"/>
<path d="M776.5 368.7L779.1 367.8L782.8 366.5L786.2 365.0L788.9 364.3L791.8 364.4L795.6 365.3L799.7 365.7L802.7 365.5L803.3 363.5L801.0 361.6L797.4 359.3L792.8 358.1L788.1 357.7L783.7 359.4L779.9 362.1L777.3 365.2L775.5 367.3Z" fill="#4e4e4e"/>
<path d="M923.9 367.0L924.1 370.9L924.9 376.7L928.5 381.8L932.5 383.8L936.6 385.1L940.9 386.3L945.3 387.2L949.8 387.1L954.0 385.8L958.0 384.1L962.1 382.9L966.0 381.8L969.4 380.5L973.6 378.5L977.8 376.7L981.0 374.1L983.1 371.9L982.1 369.7L979.1 369.7L975.1 370.3L970.9 372.1L966.6 373.5L963.1 375.1L959.7 377.1L956.2 378.8L952.5 379.5L949.2 379.3L945.9 379.1L942.1 379.0L938.5 378.5L935.3 377.2L933.5 376.2L930.6 373.4L927.7 369.5L925.5 366.4Z" fill="#4e4e4e"/>
<path d="M854.1 398.7L851.6 398.3L848.0 398.0L844.1 399.0L840.1 400.9L836.2 403.0L833.0 405.1L830.0 407.4L827.2 410.0L824.7 412.9L822.3 415.7L819.8 418.2L816.6 420.4L813.0 422.4L809.3 424.5L806.2 427.1L804.0 429.9L802.5 432.0L803.5 433.6L806.1 433.1L809.5 432.3L813.2 430.5L816.6 427.9L820.0 425.1L823.2 422.6L826.4 420.3L829.6 418.0L832.5 415.6L835.1 413.1L837.5 410.8L839.8 409.0L843.0 407.3L846.7 406.3L850.1 404.9L852.9 402.7L854.9 400.9Z" fill="#4e4e4e"/>
<path d="M957.6 354.4L959.2 358.8L963.4 360.6L964.6 359.4L962.8 355.2L958.4 353.6Z" fill="#4e4e4e"/>
<path d="M1090.1 377.2L1093.5 378.6L1098.1 380.5L1101.3 380.4L1106.6 380.1L1111.5 379.5L1112.5 376.5L1108.9 372.7L1102.7 369.6L1097.3 369.6L1092.8 372.6L1089.9 374.8Z" fill="#4e4e4e"/>
<path d="M1077.1 428.8L1079.3 428.7L1082.2 429.0L1085.8 429.4L1089.7 429.5L1093.8 429.0L1097.8 428.8L1101.7 429.0L1105.2 428.9L1109.5 428.2L1113.7 427.3L1117.8 427.1L1121.7 427.4L1125.2 427.5L1128.0 427.3L1134.3 426.0L1137.9 425.1L1138.1 422.9L1134.6 421.3L1128.0 419.7L1124.8 419.7L1121.2 420.3L1117.4 421.2L1113.3 421.7L1109.1 421.4L1104.8 421.1L1101.4 421.3L1097.6 421.8L1093.5 421.9L1089.4 421.7L1085.5 422.0L1082.0 422.6L1079.1 423.1L1076.9 423.2Z" fill="#4e4e4e"/>
<path d="M976.2 456.1L978.2 458.6L981.7 461.5L986.4 463.2L991.2 464.1L996.8 462.6L1001.3 459.2L1003.7 456.0L1003.1 455.0L999.3 456.0L994.7 458.0L990.8 459.3L988.0 458.5L984.2 456.4L980.1 455.2L976.8 454.9Z" fill="#4e4e4e"/>
<path d="M967.9 472.7L970.4 473.9L974.0 475.4L978.2 475.7L982.5 475.8L986.3 475.3L988.9 474.8L989.1 473.2L986.6 472.2L983.0 471.0L978.8 470.3L974.5 469.7L970.7 470.6L968.1 471.3Z" fill="#4e4e4e"/>
<path d="M1141.0 457.4L1139.1 460.6L1137.7 465.1L1136.1 468.7L1132.6 470.9L1127.9 473.0L1124.8 475.4L1125.2 476.6L1129.2 476.3L1134.5 474.5L1139.1 471.3L1141.8 466.7L1142.8 461.5L1142.4 457.8Z" fill="#4e4e4e"/>
<path d="M1149.6 445.7L1153.1 449.1L1156.3 451.8L1155.5 452.6L1153.1 455.3L1150.2 458.8L1148.2 462.5L1146.1 466.7L1144.4 470.8L1143.5 473.7L1144.5 474.3L1146.6 472.0L1149.2 468.4L1151.7 464.5L1153.8 461.2L1156.3 457.8L1158.7 454.6L1159.7 450.2L1155.6 445.7L1150.4 444.3Z" fill="#4e4e4e"/>
<path d="M1176.4 382.6L1176.9 385.2L1178.0 388.9L1179.6 392.9L1181.6 396.9L1184.2 400.4L1187.8 403.2L1191.4 405.5L1194.5 407.8L1197.0 409.8L1200.8 412.0L1205.4 412.9L1208.4 413.8L1209.6 412.2L1207.9 409.5L1205.7 405.4L1202.0 402.2L1198.6 400.6L1195.1 399.3L1192.2 397.4L1189.8 395.0L1187.9 392.6L1185.4 389.5L1182.9 386.2L1180.6 383.3L1178.6 381.4Z" fill="#4e4e4e"/>
<path d="M179.4 516.0L182.0 516.1L185.6 516.0L189.7 516.5L193.9 517.8L197.8 519.0L201.1 519.8L204.6 520.9L207.9 522.6L211.0 524.6L214.2 526.2L217.3 527.2L220.8 528.7L223.8 531.2L226.7 534.3L230.1 537.1L234.3 539.2L237.9 540.8L241.6 542.6L245.4 544.2L249.3 544.8L253.0 544.8L256.6 544.7L262.6 544.6L267.8 543.9L271.0 542.9L269.0 535.1L265.9 535.7L261.7 536.9L256.8 537.3L254.2 536.5L251.1 535.3L247.7 534.4L244.1 534.1L240.6 533.5L237.7 532.4L234.9 530.3L232.0 528.0L228.7 525.6L225.3 522.8L221.9 519.6L218.6 517.2L214.9 515.6L211.0 514.7L207.2 513.8L203.6 512.4L200.2 511.0L195.8 510.0L191.2 509.3L187.1 508.2L183.7 506.8L181.2 506.0Z" fill="#4e4e4e"/>
<path d="M309.7 568.0L307.3 568.8L304.1 570.1L301.4 572.8L298.3 575.7L295.1 578.5L292.0 581.1L289.2 583.8L286.6 586.8L284.0 589.9L281.3 592.8L278.4 595.4L275.5 597.8L272.6 600.1L269.8 602.6L267.1 605.1L264.3 607.6L261.5 609.8L258.8 611.9L255.6 614.6L252.7 617.6L250.3 620.6L249.0 623.8L248.0 626.1L249.0 627.1L251.3 626.1L254.4 624.6L257.4 622.2L260.3 619.4L263.0 616.5L265.3 614.1L267.9 611.7L270.7 609.4L273.7 607.1L276.6 604.6L279.3 601.8L281.9 598.9L284.5 595.9L287.4 593.1L290.4 590.5L293.3 587.9L296.0 585.3L298.8 582.5L301.8 579.7L305.1 577.1L308.2 574.8L310.0 571.9L311.1 569.6Z" fill="#4e4e4e"/>
<path d="M404.8 629.2L405.5 632.0L406.6 636.1L409.6 639.6L412.9 642.8L415.9 645.5L420.1 648.6L425.0 650.1L430.4 649.6L434.0 648.7L438.1 647.7L442.3 646.5L446.0 644.6L448.6 641.8L450.4 639.9L449.6 638.1L446.9 638.2L443.1 638.5L439.4 640.0L435.9 642.2L432.6 643.9L430.0 644.4L426.1 643.8L423.2 642.5L419.7 640.5L417.4 638.4L414.9 635.1L412.3 631.6L408.6 629.6L406.0 628.2Z" fill="#4e4e4e"/>
<path d="M487.7 514.5L490.6 512.5L495.4 509.6L498.3 508.2L501.6 506.3L504.8 503.9L507.8 501.4L510.9 499.1L514.5 493.4L515.1 488.6L512.9 487.4L509.3 489.8L505.1 493.9L503.3 495.7L500.3 497.7L497.1 499.8L494.2 502.0L492.0 504.0L487.4 506.6L484.3 507.5Z" fill="#4e4e4e"/>
<path d="M440.6 643.8L443.4 643.2L446.8 641.7L449.9 639.1L453.4 637.3L456.8 636.4L460.9 635.4L465.1 634.3L468.7 632.8L471.2 631.5L470.8 629.9L468.1 629.6L464.2 629.5L459.7 630.1L455.3 631.1L451.4 632.5L447.2 634.6L443.2 636.7L440.8 639.7L439.4 642.2Z" fill="#4e4e4e"/>
<path d="M854.5 541.0L857.4 542.4L861.6 543.4L866.4 543.0L871.1 543.1L875.3 543.1L880.7 542.1L885.0 540.2L887.8 538.7L887.4 536.9L884.3 536.7L879.8 536.5L874.7 536.7L871.0 537.0L866.4 537.1L861.6 536.6L857.4 537.5L854.5 538.8Z" fill="#4e4e4e"/>
<path d="M899.7 615.0L901.9 616.8L905.4 618.7L909.4 620.5L913.3 621.3L916.2 621.2L916.8 619.6L914.7 617.6L911.2 615.7L907.0 614.4L903.1 613.5L900.3 613.4Z" fill="#4e4e4e"/>
<path d="M1116.2 537.2L1119.1 537.5L1123.1 537.7L1127.3 536.7L1131.2 534.9L1135.2 534.0L1138.4 533.5L1141.8 533.0L1145.7 533.3L1149.6 534.8L1153.6 536.6L1158.5 537.0L1164.2 534.1L1167.7 529.9L1169.8 527.1L1168.2 524.9L1165.0 525.7L1160.8 526.4L1156.9 526.4L1155.1 526.4L1151.5 526.5L1147.3 526.0L1142.7 524.7L1137.6 524.1L1133.1 525.0L1128.6 526.5L1124.0 527.6L1120.1 529.7L1117.2 532.5L1115.2 534.6Z" fill="#4e4e4e"/>
<path d="M1152.5 582.9L1156.1 582.5L1160.3 580.1L1164.2 577.1L1166.4 574.4L1165.6 573.0L1162.1 573.7L1157.7 575.6L1153.6 578.1L1151.5 581.1Z" fill="#4e4e4e"/>
<path d="M1115.0 470.4L1115.2 474.4L1117.4 479.8L1122.6 483.6L1126.7 484.7L1131.1 485.4L1135.7 485.4L1140.2 485.0L1143.9 484.1L1146.5 483.4L1146.5 481.8L1143.9 481.1L1140.1 480.2L1135.8 479.8L1131.5 479.5L1127.7 479.3L1125.4 478.8L1122.3 475.7L1119.5 472.1L1116.4 469.6Z" fill="#4e4e4e"/>
<path d="M1128.5 592.8L1129.6 595.5L1131.6 598.5L1134.5 601.0L1137.2 603.9L1138.8 608.1L1140.4 611.7L1142.4 613.5L1144.6 615.6L1145.5 619.1L1144.8 623.7L1144.9 627.8L1147.0 630.3L1150.9 631.9L1154.0 634.0L1155.3 637.0L1156.2 640.3L1158.6 643.0L1162.2 645.1L1164.7 648.0L1164.6 652.1L1163.5 656.7L1163.8 660.3L1166.2 662.7L1169.4 665.3L1170.7 669.0L1170.9 673.2L1173.1 676.8L1176.8 679.8L1179.0 683.0L1179.1 686.3L1178.3 689.1L1209.7 678.9L1207.4 677.2L1205.6 674.7L1205.7 670.7L1206.9 665.9L1206.3 661.2L1203.6 657.0L1201.8 652.5L1201.8 647.3L1201.1 643.0L1198.3 639.9L1193.8 637.5L1190.1 634.7L1188.9 630.7L1188.8 626.0L1187.4 622.1L1184.5 619.1L1182.0 616.0L1180.8 611.6L1180.3 606.7L1177.9 603.1L1173.4 601.3L1168.2 600.3L1164.5 598.3L1162.2 595.3L1159.6 592.3L1154.8 589.9L1149.4 588.4L1145.3 586.1L1141.7 584.1L1138.3 583.3L1135.5 583.2Z" fill="#4e4e4e"/>
<path d="M1091.5 612.5L1092.6 614.8L1094.1 618.1L1096.7 621.0L1099.7 623.8L1102.4 626.4L1104.9 629.3L1107.4 632.5L1110.1 635.5L1112.9 638.1L1115.4 640.5L1118.5 644.2L1121.7 646.6L1124.4 647.7L1125.6 646.3L1124.4 643.8L1122.1 640.7L1118.6 637.5L1116.7 634.9L1114.6 631.7L1112.1 628.5L1109.3 625.5L1106.6 622.6L1103.9 619.6L1101.1 616.5L1098.1 613.9L1094.8 612.6L1092.5 611.5Z" fill="#4e4e4e"/>
<path d="M548 315L552 318L558 322L565 322L571 322L577 320L582 317L585 315L585 313L581 312L575 311L570 311L565 312L559 311L553 312L548 313Z" fill="#4f4f4f"/>
<path d="M968 336L967 342L968 350L971 357L972 362L990 356L988 352L987 346L988 341L986 336Z" fill="#4f4f4f"/>
<path d="M970 343L969 350L971 357L988 355L989 348L987 341Z" fill="#4f4f4f"/>
<path d="M996 334L998 333L1000 331L1006 329L1012 329L1010 312L1003 313L994 314L987 316L984 320Z" fill="#4f4f4f"/>
<path d="M1047 374L1051 374L1055 373L1059 372L1062 366L1060 361L1055 358L1049 360L1045 364L1043 369Z" fill="#4f4f4f"/>
<path d="M579 501L582 507L589 513L594 517L601 520L606 523L613 525L619 524L620 519L618 515L613 511L608 508L603 504L597 501L589 497L582 496Z" fill="#4f4f4f"/>
<path d="M783 530L787 532L794 535L800 535L805 536L812 535L817 533L817 529L813 526L807 523L800 522L794 522L787 525L783 527Z" fill="#4f4f4f"/>
<path d="M1080 568L1083 568L1089 569L1095 570L1100 569L1105 570L1110 569L1114 566L1120 566L1126 569L1132 567L1137 567L1142 567L1147 566L1152 563L1157 563L1162 566L1166 565L1172 564L1178 565L1184 564L1189 562L1191 564L1195 568L1198 569L1212 550L1207 545L1197 544L1191 544L1185 542L1179 540L1172 541L1166 540L1161 540L1156 543L1150 544L1145 542L1139 542L1135 544L1130 544L1124 543L1118 546L1113 547L1107 545L1101 546L1095 549L1089 552L1085 556L1081 560L1078 562Z" fill="#4f4f4f"/>
<path d="M1127 559L1130 562L1135 563L1141 564L1147 567L1153 566L1159 565L1165 567L1171 567L1176 564L1180 563L1186 564L1192 563L1196 564L1198 544L1194 544L1188 541L1180 542L1174 542L1168 540L1162 542L1157 545L1151 545L1146 545L1141 547L1135 548L1130 550L1127 552Z" fill="#4f4f4f"/>
<path d="M1191 649L1195 653L1197 660L1202 665L1207 671L1212 677L1218 679L1223 680L1233 666L1231 662L1227 657L1223 655L1218 651L1215 646L1209 642L1207 637Z" fill="#4f4f4f"/>
<path d="M1194 618L1194 624L1191 632L1193 641L1195 647L1211 641L1210 637L1209 632L1208 626L1210 622Z" fill="#4f4f4f"/>
<path d="M355.7 559.0L357.8 559.9L360.7 561.3L364.2 562.2L368.2 562.7L372.2 563.3L376.1 564.6L379.2 565.9L382.6 567.0L386.3 567.4L390.0 567.7L393.7 568.4L397.2 569.6L400.7 570.8L404.3 571.7L407.8 572.7L411.3 574.2L414.6 576.1L418.1 577.6L421.8 578.4L425.6 578.8L430.0 579.5L434.6 580.8L439.3 581.5L443.6 581.8L447.2 581.8L449.9 581.7L450.1 580.3L447.6 579.4L444.0 578.5L439.8 577.5L435.3 576.8L430.6 576.4L426.4 575.2L423.2 573.7L419.9 572.2L416.3 571.2L412.6 570.6L408.9 569.6L405.4 568.1L401.9 566.8L398.2 566.0L394.5 565.2L390.9 564.1L387.4 562.6L383.9 561.3L380.4 560.8L376.9 560.6L372.9 560.2L368.9 559.1L365.0 558.1L361.4 557.7L358.2 557.9L355.9 558.0Z" fill="#525252"/>
<path d="M194.4 563.3L196.1 565.3L198.7 568.0L202.2 570.6L206.2 572.8L210.4 574.6L213.6 576.5L216.6 579.1L220.0 581.5L223.7 583.0L227.6 584.0L231.1 585.3L235.2 587.3L239.7 588.7L244.0 589.4L247.7 589.8L250.3 590.1L250.7 588.7L248.4 587.5L245.1 585.7L241.2 583.9L237.0 582.3L232.9 581.1L229.7 579.4L226.5 577.2L223.1 575.2L219.3 574.0L215.5 573.0L212.2 571.4L208.7 568.7L205.1 566.1L201.3 564.0L197.8 562.7L195.2 561.9Z" fill="#525252"/>
<path d="M287.0 612.1L286.6 615.1L286.9 619.4L288.1 623.9L289.9 628.1L294.0 632.1L299.5 634.0L304.5 634.1L307.8 632.1L310.8 629.0L313.1 625.1L314.6 621.0L315.3 617.0L315.6 612.9L316.2 609.5L316.9 607.4L318.6 604.4L321.3 601.8L324.9 601.2L327.6 602.5L330.9 604.7L334.7 607.0L338.0 609.5L340.6 612.6L343.2 615.9L346.0 618.8L348.0 620.9L349.2 625.3L349.1 628.6L350.1 628.8L351.3 625.3L351.2 619.9L349.7 616.2L347.5 612.4L344.2 609.2L340.6 606.5L337.1 603.6L333.3 600.8L329.0 598.9L324.9 598.4L320.3 599.2L315.8 601.1L312.1 604.6L310.9 608.6L311.1 612.7L311.2 616.5L310.4 619.8L308.8 623.1L307.2 626.8L305.6 630.0L303.9 631.5L300.6 630.8L296.9 627.9L293.7 625.1L292.1 622.5L291.1 618.4L289.9 614.5L288.4 611.9Z" fill="#525252"/>
<path d="M480.8 528.1L482.9 529.3L485.7 531.0L489.3 532.5L493.4 533.6L497.7 534.3L501.7 535.4L505.0 536.5L508.5 537.6L512.3 537.9L516.0 537.7L519.8 537.5L523.3 537.7L526.8 537.9L530.7 537.3L534.3 536.1L537.7 535.1L541.2 534.6L544.4 534.5L547.4 534.5L550.5 534.4L554.0 534.6L557.6 535.6L561.1 536.9L564.7 537.8L568.3 537.6L572.9 536.0L577.5 534.0L581.6 531.9L584.7 529.2L585.9 524.3L585.1 521.3L583.9 521.3L583.0 523.4L580.3 525.8L578.2 527.5L575.3 530.6L571.7 533.1L567.7 534.0L565.2 533.7L562.1 533.1L558.6 532.3L555.0 531.0L551.3 529.5L547.4 528.7L543.6 529.2L540.2 530.6L536.9 532.1L533.5 533.0L530.0 533.4L526.6 533.7L523.4 534.0L519.9 534.0L516.4 533.4L512.8 532.5L509.3 532.0L505.7 532.0L502.3 532.0L498.4 531.4L494.5 529.8L490.6 528.5L486.9 527.5L483.6 527.1L481.2 526.9Z" fill="#525252"/>
<path d="M477.6 583.6L480.0 581.8L482.9 578.9L485.8 575.7L488.8 572.7L491.1 571.0L494.2 569.7L497.8 569.3L501.4 569.0L504.7 568.3L508.0 567.4L511.4 567.3L515.1 568.3L518.9 569.6L522.9 570.4L526.8 571.4L530.1 573.0L533.4 575.2L536.3 576.9L539.6 578.0L543.2 578.6L547.0 579.2L551.0 580.0L555.2 580.5L559.6 580.0L564.0 579.5L568.5 579.5L572.5 579.3L576.4 578.0L579.8 575.8L583.1 573.6L586.4 572.2L589.5 571.3L594.1 569.7L598.6 568.1L602.5 566.9L605.2 565.6L604.8 563.8L601.8 563.8L597.7 564.4L592.8 565.1L587.9 566.3L584.6 567.9L581.2 569.5L577.4 570.5L573.7 571.5L570.5 572.8L567.5 574.5L563.6 575.8L559.5 575.7L555.5 575.2L551.5 575.0L547.8 574.8L544.7 573.7L542.0 572.0L539.2 570.4L535.7 569.3L531.7 568.8L528.0 568.0L524.4 566.4L520.5 564.5L516.3 563.4L512.1 562.7L508.0 562.0L503.9 561.6L499.8 562.2L496.1 564.0L492.8 566.1L489.5 567.7L486.2 569.1L482.0 571.9L479.0 576.0L477.3 579.9L476.4 582.8Z" fill="#525252"/>
<path d="M804.7 547.7L802.5 549.4L799.5 551.8L796.9 555.3L794.2 558.7L791.6 561.5L787.9 564.3L784.0 566.8L781.2 569.9L779.6 572.5L780.4 573.5L783.3 572.6L787.0 570.6L790.4 567.2L793.6 563.7L796.4 560.7L799.5 557.5L802.4 554.2L804.2 550.7L805.3 548.3Z" fill="#525252"/>
<path d="M957.8 658.1L960.1 658.9L963.3 659.9L967.2 660.0L971.6 660.3L976.0 661.0L980.3 661.3L984.3 661.0L987.6 660.2L990.0 659.9L990.0 659.3L987.7 658.7L984.5 657.5L980.6 656.7L976.3 656.5L971.8 656.6L967.5 656.4L963.5 656.0L960.2 656.6L957.8 657.1Z" fill="#525252"/>
<path d="M326.0 293.0L328.1 295.1L331.3 297.6L335.2 300.8L339.6 303.8L345.1 304.9L350.5 304.0L355.3 302.7L359.3 302.2L361.5 302.0L362.0 301.2L363.6 301.0L366.2 303.0L368.4 306.6L371.0 310.4L374.4 313.5L378.4 316.4L381.5 319.5L384.0 322.0L385.8 323.5L394.2 310.5L392.0 309.4L388.8 308.3L385.3 306.9L382.6 304.5L380.7 302.0L377.8 298.9L374.3 295.6L370.8 291.6L366.0 287.8L359.6 286.7L354.5 288.5L350.9 291.1L348.0 292.5L345.9 292.3L343.4 291.6L339.3 291.3L334.8 290.6L331.0 289.4L328.0 289.0Z" fill="#545454"/>
<path d="M287.9 446.6L291.3 448.8L296.2 449.2L299.9 448.1L300.1 446.9L296.7 444.9L291.8 444.1L288.1 445.4Z" fill="#545454"/>
<path d="M436.3 294.3L438.4 296.3L442.0 298.7L446.3 301.4L450.4 304.7L454.7 307.2L459.8 308.2L464.7 308.2L469.5 308.3L474.7 308.0L478.5 306.6L481.6 304.2L484.1 301.5L486.7 299.4L489.7 298.1L493.0 297.0L495.9 296.0L499.7 295.1L504.1 295.3L508.7 295.9L513.0 295.4L517.0 294.4L520.4 293.8L522.9 293.7L522.3 284.9L519.8 285.2L516.5 285.0L512.4 284.4L507.9 284.5L503.2 285.9L498.7 287.0L494.3 287.3L490.2 287.8L485.8 289.6L482.1 291.9L478.7 293.9L475.6 295.4L473.2 296.4L471.3 297.4L467.9 299.2L464.6 300.0L461.3 299.5L458.3 298.2L455.5 296.9L451.9 294.5L448.8 290.9L446.1 287.6L443.7 285.7Z" fill="#545454"/>
<path d="M468.3 303.8L471.0 303.5L474.5 302.6L478.3 300.9L482.3 299.6L485.9 298.2L490.0 296.5L494.3 295.0L498.3 294.0L501.0 293.2L499.0 287.8L496.4 288.9L492.8 290.6L488.5 292.3L484.1 293.8L480.6 295.3L476.7 297.1L472.8 298.6L469.7 300.5L467.7 302.2Z" fill="#545454"/>
<path d="M532.5 310.4L534.6 312.2L537.3 315.2L540.8 318.3L545.3 319.9L550.0 321.0L554.5 322.4L558.3 322.8L562.1 322.4L565.9 321.8L569.7 322.0L573.6 322.8L577.7 323.3L581.7 322.6L585.7 321.1L589.7 319.6L593.9 318.5L597.8 316.9L601.1 314.6L604.1 312.5L607.0 311.3L611.5 309.6L614.8 307.0L617.0 304.3L618.5 302.3L616.7 298.9L614.2 299.0L610.8 299.2L607.1 300.2L603.0 302.3L600.2 303.6L596.6 304.4L592.8 305.1L589.3 306.6L585.9 308.3L582.4 309.2L579.1 309.4L576.0 309.8L572.9 311.0L569.6 312.0L566.2 312.1L563.0 311.1L559.7 310.1L556.7 309.6L552.9 309.3L548.9 308.0L544.7 306.7L540.3 307.0L536.3 307.4L533.5 307.6Z" fill="#545454"/>
<path d="M636.7 304.2L640.6 304.8L643.4 306.8L644.0 309.2L644.7 311.7L644.1 314.3L642.2 316.3L639.6 317.0L637.3 317.2L635.0 317.0L632.6 316.1L631.2 313.6L631.2 310.3L632.0 307.9L632.7 306.0L635.4 304.7L638.9 304.6L637.1 295.4L633.0 296.9L627.3 299.0L623.2 303.8L621.8 309.7L622.8 315.9L625.4 321.9L630.2 326.5L636.7 328.8L643.4 327.5L648.8 323.7L652.4 318.4L654.3 312.3L653.6 305.8L649.6 300.2L643.5 297.6L639.3 295.8Z" fill="#545454"/>
<path d="M630.2 308.5L632.5 310.9L634.8 314.6L636.2 317.5L643.8 312.5L641.6 310.1L639.1 306.5L637.8 303.5Z" fill="#545454"/>
<path d="M674.4 301.0L676.8 303.4L679.3 306.2L682.2 308.5L685.0 310.6L695.0 301.4L692.6 298.0L688.7 293.8L683.5 291.8L679.6 291.0Z" fill="#545454"/>
<path d="M686.2 313.9L688.3 316.9L691.9 320.8L696.3 323.6L700.0 325.9L704.0 328.3L709.0 329.5L712.8 329.3L716.3 328.4L719.9 327.8L724.0 327.9L728.7 328.0L731.8 327.4L735.3 326.4L739.2 325.5L743.3 325.1L747.3 324.5L751.1 323.4L754.6 322.4L757.8 322.3L759.7 322.6L765.8 321.9L768.3 321.9L769.7 319.3L767.2 316.4L760.3 314.0L757.0 314.7L753.7 315.4L750.0 315.5L745.9 315.5L741.8 316.2L737.8 317.1L733.9 317.4L730.3 317.5L727.3 317.8L722.7 319.3L718.8 320.7L715.4 321.1L712.5 320.9L710.4 320.5L707.1 319.7L704.5 318.5L701.7 316.4L698.6 313.1L694.9 310.0L691.8 308.1Z" fill="#545454"/>
<path d="M703.8 323.7L706.7 325.7L711.2 327.2L716.0 327.3L720.8 326.8L725.2 325.4L728.1 323.7L727.9 322.3L724.5 321.9L720.1 322.3L716.0 322.7L712.0 321.9L707.5 321.7L704.2 322.3Z" fill="#545454"/>
<path d="M667.3 301.3L667.3 304.5L667.4 309.2L668.7 313.3L670.4 317.0L673.1 320.2L675.1 322.4L676.9 321.6L676.8 318.7L676.6 314.5L675.3 310.7L673.7 306.8L670.8 303.3L668.7 300.7Z" fill="#545454"/>
<path d="M723.8 298.1L726.7 301.4L730.8 299.5L731.2 297.5L728.3 294.1L724.2 295.9Z" fill="#545454"/>
<path d="M474.3 397.8L477.9 397.4L482.6 395.9L486.7 394.7L491.2 393.0L494.1 391.2L493.9 389.8L490.3 389.5L485.3 390.3L481.1 392.1L476.6 394.1L473.7 396.2Z" fill="#545454"/>
<path d="M725.9 297.3L730.1 300.5L734.9 298.0L735.1 296.0L730.9 292.5L726.1 294.7Z" fill="#545454"/>
<path d="M825.8 293.5L829.0 293.9L833.5 294.1L837.7 293.8L842.0 294.2L846.7 294.0L850.2 293.5L850.6 291.3L847.7 289.3L843.2 287.2L838.3 286.2L833.4 285.7L828.6 286.3L825.4 287.1Z" fill="#545454"/>
<path d="M848.4 299.0L851.5 302.5L858.2 305.5L865.1 307.3L869.4 309.2L874.6 290.8L870.8 290.4L867.8 288.5L866.4 285.1L863.6 283.0Z" fill="#545454"/>
<path d="M854.6 384.6L857.5 385.6L861.6 386.5L866.2 385.9L871.0 385.4L875.6 385.0L879.1 384.2L882.7 383.4L886.5 382.9L890.4 382.9L894.1 382.5L897.5 381.4L901.4 379.1L904.7 376.6L907.9 374.2L911.1 371.3L913.6 367.5L915.1 363.3L916.8 359.7L919.6 357.0L922.5 355.0L925.4 352.3L928.3 349.3L931.5 347.0L934.6 345.7L938.3 344.4L941.9 343.2L945.6 342.9L948.7 343.9L951.3 345.4L954.0 346.8L956.8 348.3L959.0 350.2L960.5 353.0L961.7 356.5L962.5 359.5L962.7 361.4L961.8 363.2L959.2 365.0L956.0 366.1L953.2 366.4L950.1 366.1L945.7 365.3L940.9 365.4L937.4 365.5L936.6 367.9L939.3 370.0L943.3 373.2L948.6 375.0L954.0 375.2L958.8 373.4L962.9 370.7L966.5 367.6L969.3 363.8L970.2 359.0L969.5 354.1L967.4 349.7L965.0 345.8L962.4 342.3L959.1 339.0L955.0 336.7L950.3 335.9L945.8 336.0L941.1 336.2L936.2 336.7L931.4 338.3L927.7 340.5L923.7 342.8L919.6 345.1L916.1 348.1L913.4 351.6L911.0 356.1L908.8 360.3L906.8 363.6L904.9 366.3L902.9 368.6L900.6 370.5L897.7 371.7L894.1 372.6L891.6 373.3L888.6 374.5L885.3 375.8L881.7 376.6L878.0 376.7L874.4 377.0L870.1 377.8L865.4 378.4L860.8 378.7L857.0 380.2L854.4 381.8Z" fill="#545454"/>
<path d="M868.2 383.3L870.6 383.9L873.8 384.3L877.6 383.9L881.6 383.2L885.9 382.8L890.0 382.0L893.6 380.9L896.9 380.0L901.8 378.6L905.8 376.7L908.7 374.2L911.0 371.2L913.5 366.6L914.6 361.8L915.0 358.4L913.0 357.6L910.8 360.0L907.9 363.3L905.0 366.4L902.8 368.0L900.7 369.8L898.4 371.8L894.7 374.0L892.1 374.7L888.6 375.1L884.7 375.8L880.6 376.8L876.6 377.4L872.9 378.0L869.9 379.3L867.8 380.7Z" fill="#545454"/>
<path d="M962.2 379.5L966.1 379.4L971.3 378.3L975.8 376.4L980.4 373.9L983.3 371.6L982.7 370.4L979.2 371.1L974.2 372.6L969.8 373.9L965.0 376.2L961.8 378.5Z" fill="#545454"/>
<path d="M991.2 328.6L994.0 328.5L997.5 327.3L1001.4 325.5L1005.4 324.5L1008.9 324.5L1010.6 324.5L1013.1 325.1L1015.3 326.9L1016.7 330.1L1017.3 333.3L1018.0 336.2L1019.1 339.3L1019.7 342.6L1019.4 345.2L1018.0 348.0L1016.1 350.5L1013.6 353.4L1011.3 355.4L1008.1 357.1L1004.1 358.0L999.8 358.4L996.0 358.9L991.9 359.9L988.0 360.8L984.8 360.8L983.4 360.2L982.5 358.6L981.4 356.2L979.7 353.1L978.1 349.9L977.3 347.1L977.4 344.4L978.2 342.1L979.2 339.7L980.6 337.1L983.6 334.1L987.9 331.9L991.7 329.7L993.9 327.6L986.1 318.4L983.8 320.1L980.9 323.3L977.6 327.4L973.8 330.8L970.4 334.3L968.3 338.9L967.7 343.6L967.9 347.9L968.3 352.1L968.7 356.6L970.1 361.7L973.4 366.5L978.6 369.8L983.8 370.8L988.7 370.7L993.6 370.4L998.2 369.8L1002.2 368.6L1006.7 366.7L1011.1 364.8L1015.4 363.1L1019.6 361.2L1024.1 357.9L1027.4 353.2L1029.2 347.8L1029.9 343.1L1030.3 338.3L1030.1 333.2L1028.3 328.7L1025.3 324.9L1022.0 321.2L1018.3 317.4L1013.4 314.5L1008.6 314.0L1003.9 314.9L999.2 315.5L994.7 315.7L991.1 316.4L988.8 317.4Z" fill="#545454"/>
<path d="M981.0 334.1L983.1 336.4L986.0 338.4L987.2 338.5L986.6 340.3L983.8 344.1L981.7 347.3L990.3 352.7L992.3 349.3L995.0 344.0L996.8 337.5L994.1 331.1L990.1 327.5L987.0 325.9Z" fill="#545454"/>
<path d="M986.4 352.7L989.8 352.1L994.1 350.1L997.7 346.6L1000.5 342.6L1003.0 338.6L1004.8 335.5L1007.4 331.9L1009.3 329.5L1008.7 328.5L1005.5 329.7L1001.2 332.5L998.7 336.1L996.6 340.2L994.3 343.4L990.9 345.7L987.6 348.6L985.6 351.3Z" fill="#545454"/>
<path d="M950.2 381.3L953.3 381.6L957.8 382.3L962.4 381.2L966.7 379.4L971.1 377.8L975.7 376.2L979.6 374.2L982.2 372.6L979.8 366.8L976.8 367.6L972.7 368.9L968.4 371.0L964.3 372.6L960.1 373.5L955.8 375.0L952.3 377.8L949.8 379.7Z" fill="#545454"/>
<path d="M1039.2 388.1L1040.3 385.0L1041.5 380.9L1043.8 378.1L1046.5 376.9L1048.2 374.6L1050.3 372.1L1053.5 370.5L1057.5 370.1L1060.4 369.0L1063.6 366.8L1067.5 366.2L1070.4 367.5L1072.3 368.6L1074.4 369.5L1076.2 371.0L1076.8 373.4L1076.8 376.2L1077.4 379.2L1078.6 381.8L1079.9 385.5L1080.2 389.3L1079.9 392.1L1094.1 391.9L1093.7 389.2L1093.9 385.2L1094.9 380.5L1095.2 375.6L1093.6 370.5L1090.5 366.1L1087.0 362.2L1083.6 358.5L1079.5 355.1L1074.2 353.3L1068.4 353.2L1062.6 352.6L1056.4 351.8L1050.5 353.7L1045.9 357.6L1041.7 361.1L1037.5 364.2L1034.0 368.3L1032.8 373.9L1033.0 379.6L1033.5 384.5L1034.2 387.9Z" fill="#545454"/>
<path d="M1056.8 377.3L1055.9 380.1L1054.4 384.1L1052.5 389.0L1052.3 394.1L1053.8 398.8L1055.6 403.3L1057.0 408.0L1058.8 412.5L1062.5 416.7L1067.5 419.3L1072.7 420.9L1078.3 421.4L1083.2 421.2L1086.1 420.5L1083.3 408.7L1080.5 409.4L1077.3 410.9L1075.1 411.1L1073.7 409.6L1072.3 407.0L1070.4 404.3L1068.3 402.2L1066.2 399.1L1065.1 395.3L1064.5 391.9L1063.4 388.5L1061.6 384.4L1060.6 380.3L1060.0 377.5Z" fill="#545454"/>
<path d="M1042.3 387.0L1042.8 390.0L1044.1 394.0L1045.6 398.2L1046.7 401.4L1048.6 405.8L1050.0 408.5L1051.4 408.3L1051.9 405.1L1051.3 400.0L1049.7 396.5L1047.7 392.4L1045.6 388.7L1043.7 386.4Z" fill="#545454"/>
<path d="M1018.4 428.7L1021.1 429.2L1024.8 429.2L1029.3 428.9L1034.0 428.1L1038.5 426.7L1042.0 424.7L1045.4 422.6L1049.0 420.9L1052.5 419.5L1055.4 417.9L1057.3 416.4L1061.5 413.8L1065.5 413.2L1068.5 413.0L1066.9 403.8L1063.9 404.6L1059.2 405.7L1053.3 406.6L1049.7 407.9L1046.6 410.0L1043.8 412.7L1040.9 415.2L1037.8 416.8L1034.9 417.9L1031.3 419.3L1027.4 420.8L1023.4 422.3L1020.0 423.8L1017.6 425.3Z" fill="#545454"/>
<path d="M1092.8 370.1L1096.5 370.8L1101.3 372.0L1104.3 372.2L1106.0 372.5L1108.2 374.2L1110.4 376.5L1112.9 379.0L1115.8 381.6L1117.9 383.4L1124.1 378.6L1122.7 376.0L1120.6 372.3L1117.6 369.1L1114.3 366.6L1110.6 364.0L1105.7 361.8L1100.0 362.3L1095.3 365.6L1092.2 367.9Z" fill="#545454"/>
<path d="M997.3 448.3L1000.3 448.9L1004.3 448.9L1008.7 448.2L1013.4 448.3L1017.7 448.0L1020.7 446.9L1024.5 445.9L1028.1 446.8L1032.3 448.6L1037.1 448.9L1041.0 447.6L1044.8 446.2L1049.0 445.6L1053.6 445.2L1058.3 443.5L1062.0 440.9L1065.7 438.4L1069.8 436.8L1073.8 435.5L1076.5 433.6L1077.8 431.6L1081.6 428.4L1085.7 427.6L1088.7 427.0L1083.9 411.6L1080.9 412.9L1076.3 415.0L1070.0 416.4L1065.9 417.9L1062.6 420.3L1060.2 423.7L1057.8 426.8L1054.9 428.5L1052.3 429.1L1049.5 429.9L1046.6 431.1L1043.3 431.5L1039.7 430.7L1036.3 429.9L1032.7 430.3L1028.9 431.6L1024.2 432.2L1018.7 431.9L1014.1 432.3L1009.7 434.2L1005.4 436.8L1001.2 438.6L997.9 440.8L995.7 442.9Z" fill="#545454"/>
<path d="M1145.2 421.2L1146.8 423.8L1149.7 426.6L1153.5 428.7L1156.5 430.8L1159.8 433.4L1163.4 434.8L1166.1 435.5L1166.9 434.3L1165.5 432.0L1163.1 428.9L1159.5 426.6L1156.4 424.5L1153.0 421.8L1149.3 420.1L1146.4 419.6Z" fill="#545454"/>
<path d="M1190.3 445.4L1191.2 448.5L1193.2 452.6L1196.8 456.0L1202.6 455.2L1206.0 452.2L1205.4 450.6L1201.4 450.6L1198.2 450.8L1196.8 449.6L1194.0 446.7L1191.7 444.6Z" fill="#545454"/>
<path d="M192.8 513.6L195.2 515.3L198.9 517.0L203.4 518.7L207.8 520.5L211.9 521.3L214.8 521.5L215.2 520.5L212.8 518.8L209.2 516.7L204.6 515.3L200.1 513.8L196.1 512.7L193.2 512.4Z" fill="#545454"/>
<path d="M257.6 545.5L260.0 545.6L263.2 545.8L266.9 545.5L270.8 544.2L274.8 543.0L279.0 542.3L282.8 541.7L286.3 540.4L289.8 538.7L293.4 537.7L297.2 537.6L301.1 537.6L304.7 536.8L308.3 535.2L312.3 533.2L316.2 531.5L319.7 529.9L322.4 528.0L324.7 526.4L327.0 525.8L329.4 526.7L331.8 528.4L334.5 530.0L337.9 531.2L341.5 532.7L344.9 534.6L348.0 536.7L351.4 538.3L355.3 539.9L358.9 542.1L362.1 545.1L365.6 547.8L369.7 549.4L374.0 550.1L378.0 551.0L381.6 552.2L384.9 552.9L387.9 552.4L393.8 551.5L396.7 551.4L397.3 548.6L394.8 547.2L390.1 543.6L387.6 541.7L384.4 540.8L380.8 540.3L377.2 539.1L373.9 537.4L370.8 536.2L367.4 535.4L363.8 534.3L360.5 532.0L357.5 529.0L354.1 526.3L350.3 524.6L346.8 522.9L343.5 520.6L340.1 518.3L336.0 516.9L331.5 516.6L327.0 516.8L322.5 517.1L318.1 517.8L314.2 519.2L310.8 521.2L307.7 523.1L304.3 524.0L301.2 524.4L297.9 525.5L294.7 527.3L291.3 528.9L287.7 529.6L283.9 529.6L280.2 529.9L276.5 530.9L272.5 532.1L268.4 532.5L264.3 532.9L260.8 534.1L257.9 535.5L255.8 536.5Z" fill="#545454"/>
<path d="M368.1 530.3L370.3 531.5L373.6 533.2L377.5 534.5L381.7 535.4L385.5 536.0L388.7 536.5L394.3 536.0L397.1 534.7L396.9 532.7L394.3 531.9L389.3 530.9L386.5 530.4L382.8 529.5L378.7 528.8L374.6 528.4L370.9 528.7L368.3 528.9Z" fill="#545454"/>
<path d="M402.3 522.6L403.4 525.0L405.0 528.6L407.4 532.4L410.9 535.4L415.1 537.4L419.2 539.3L423.4 540.7L428.0 540.9L432.4 540.7L436.7 541.2L441.7 540.8L446.1 538.5L448.9 535.5L450.7 533.4L449.3 529.8L446.4 529.6L442.7 529.4L439.2 529.7L436.1 530.4L433.5 530.5L430.2 529.1L426.9 527.5L423.5 526.6L420.5 525.8L417.9 524.1L414.6 522.5L410.7 521.4L407.0 520.6L404.3 520.0Z" fill="#545454"/>
<path d="M441.0 535.7L443.8 535.7L447.5 535.1L451.4 533.8L455.6 532.5L459.4 531.1L462.6 529.4L465.5 527.3L468.6 525.4L472.2 524.3L476.3 523.6L479.9 522.2L483.3 519.4L487.0 516.6L490.9 515.0L494.2 513.7L496.5 512.5L490.9 501.1L488.6 502.2L485.5 504.0L481.8 506.1L477.4 507.3L473.0 508.4L469.7 510.4L466.7 513.3L463.6 515.6L460.3 517.0L456.9 518.1L453.6 519.7L450.3 521.9L446.8 524.5L443.3 526.8L440.7 529.4L439.0 531.7Z" fill="#545454"/>
<path d="M628.7 512.3L631.6 511.6L635.8 510.6L640.0 510.2L642.9 509.8L645.5 509.7L648.8 510.3L651.6 512.0L653.4 513.5L655.7 515.3L657.9 517.3L659.0 519.3L659.0 521.9L658.1 525.8L657.7 528.9L660.3 530.3L662.7 528.0L665.6 524.1L667.0 519.1L666.1 513.8L664.1 508.6L660.2 504.5L656.0 502.6L651.5 501.4L646.8 500.3L641.9 499.8L636.9 501.4L632.8 504.7L629.5 507.7L627.3 509.7Z" fill="#545454"/>
<path d="M626.8 521.8L627.1 525.5L628.0 531.1L630.6 536.5L634.3 539.8L638.8 541.7L642.9 542.7L645.8 543.2L647.2 540.8L645.3 538.5L642.5 535.5L639.6 532.7L637.4 530.9L634.6 527.7L631.5 523.8L629.2 520.8Z" fill="#545454"/>
<path d="M639.1 558.5L641.6 557.9L645.4 557.3L650.1 557.3L654.7 557.1L658.6 555.9L662.0 554.0L665.5 552.9L668.7 552.2L671.0 550.8L673.0 548.6L675.7 547.1L679.0 547.4L682.8 548.9L687.3 549.3L692.3 548.6L695.9 548.6L699.8 549.2L703.9 548.7L707.8 545.9L711.6 543.3L715.1 542.0L718.1 541.3L720.2 540.5L719.8 535.1L717.5 534.7L714.5 534.4L710.8 533.7L706.7 531.8L702.5 529.5L698.4 529.6L694.8 530.8L691.7 531.2L687.3 530.7L683.2 531.0L678.9 532.3L674.4 532.9L669.6 532.4L664.4 532.3L660.1 533.7L656.8 536.3L653.9 538.7L650.8 540.1L647.5 542.4L644.4 546.1L641.6 549.9L638.9 552.6L636.9 554.3Z" fill="#545454"/>
<path d="M629.4 574.8L631.4 576.2L634.4 578.3L637.6 581.3L640.9 584.1L644.5 585.2L649.4 586.3L653.0 588.0L655.2 589.2L658.7 589.6L662.9 591.0L665.8 592.5L668.2 590.5L667.2 587.4L665.9 582.3L662.8 577.2L657.6 575.1L652.9 574.4L648.5 572.8L645.4 571.6L641.2 571.6L636.8 571.8L633.2 571.5L630.6 571.2Z" fill="#545454"/>
<path d="M608.9 569.5L612.4 572.9L617.3 573.5L617.9 572.5L614.5 568.9L609.7 568.1Z" fill="#545454"/>
<path d="M710.7 541.6L713.3 542.3L716.8 542.8L720.6 542.4L724.6 542.0L728.7 542.6L732.1 542.5L735.8 541.2L739.6 540.0L743.7 540.5L748.0 542.0L752.3 542.0L756.3 540.3L760.2 538.9L764.3 538.7L768.4 538.8L772.6 537.7L775.9 536.9L779.4 537.0L783.1 538.3L786.7 539.2L790.1 538.6L793.3 537.3L796.3 536.5L800.2 537.2L804.0 538.1L807.9 538.1L811.9 538.3L815.7 540.0L818.5 542.2L821.6 543.5L825.6 543.5L829.8 543.2L834.0 543.6L838.5 544.2L843.6 543.8L847.9 542.0L851.4 539.7L854.8 538.3L858.4 538.0L862.5 537.5L866.1 535.3L868.7 531.6L871.2 528.4L873.6 526.3L878.0 522.2L880.4 519.2L878.2 514.8L874.3 515.1L868.4 516.3L865.3 517.1L861.3 517.3L856.9 517.2L853.4 518.5L850.6 521.2L847.8 524.0L844.8 525.8L841.9 526.4L839.5 526.7L837.5 527.4L835.6 527.8L833.1 527.0L830.4 525.0L827.2 523.1L823.3 522.6L819.1 523.2L814.7 523.4L810.8 522.1L806.6 520.7L802.0 520.4L797.1 520.5L793.4 519.6L789.5 518.4L785.7 518.1L781.9 519.4L778.3 521.2L774.8 521.9L771.4 521.5L766.9 521.1L762.6 521.9L758.5 522.6L754.4 522.0L750.3 521.2L746.3 522.0L742.3 524.1L738.2 525.3L733.7 525.0L729.1 524.9L725.1 526.3L721.3 528.7L717.4 530.3L713.9 532.0L711.1 534.1L709.3 536.0Z" fill="#545454"/>
<path d="M886.3 539.9L887.9 542.0L890.6 544.5L893.7 547.7L896.6 551.8L900.5 554.2L904.0 555.7L907.5 557.7L910.7 560.6L914.1 563.2L918.1 564.4L922.1 564.8L926.9 566.0L931.0 568.1L935.3 569.8L940.1 570.3L944.4 570.9L948.8 572.4L953.5 573.6L958.3 572.9L963.0 571.1L967.4 569.7L971.7 568.7L975.4 567.6L978.3 566.1L980.0 564.2L984.0 562.0L987.7 560.5L990.4 559.0L989.6 553.8L986.6 553.0L982.2 552.8L976.8 552.8L972.7 553.0L969.3 554.4L966.5 556.4L963.9 558.0L961.0 558.3L957.8 557.2L954.2 556.3L950.2 556.9L946.1 557.5L942.5 556.9L938.6 555.7L935.0 555.1L931.2 554.5L927.3 552.2L924.8 549.7L921.8 547.6L917.9 546.6L913.9 545.7L910.5 543.9L907.5 541.8L903.8 539.8L899.0 539.1L894.9 537.8L891.6 536.4L888.9 535.7Z" fill="#545454"/>
<path d="M960.3 564.5L963.3 565.5L967.5 567.1L972.1 567.9L976.5 568.1L980.2 568.3L982.7 568.9L985.7 569.1L989.2 568.9L992.9 569.5L996.7 571.1L1000.7 572.9L1005.4 573.6L1010.1 572.7L1014.7 571.7L1019.5 571.3L1024.4 570.2L1028.4 567.8L1032.0 564.9L1036.1 563.2L1040.3 562.5L1043.6 561.6L1045.6 560.2L1049.5 557.8L1052.0 556.9L1051.7 555.6L1055.6 556.5L1059.4 559.3L1062.6 557.7L1061.9 551.9L1058.3 544.8L1051.3 542.8L1045.6 543.4L1039.6 544.4L1035.7 545.7L1032.4 548.3L1029.6 551.7L1026.3 554.0L1022.7 554.7L1019.6 555.0L1016.3 556.0L1012.8 556.9L1009.1 556.7L1005.4 556.0L1001.9 556.5L999.0 557.5L995.9 557.6L992.7 556.3L989.3 554.3L985.4 552.9L981.0 552.7L975.7 553.0L970.6 554.1L966.0 556.2L962.3 558.9L959.7 560.7Z" fill="#545454"/>
<path d="M1003.4 590.5L1005.8 591.7L1009.3 592.8L1013.5 592.6L1018.0 592.6L1022.3 592.6L1025.8 592.1L1029.4 591.2L1033.1 590.5L1036.8 590.2L1040.4 589.8L1043.8 588.9L1048.2 586.8L1052.3 584.5L1055.4 581.8L1057.4 579.9L1056.6 578.1L1053.7 578.5L1049.9 579.3L1045.8 580.7L1041.4 581.7L1038.6 582.5L1035.4 583.8L1032.0 585.0L1028.5 585.6L1025.0 585.9L1021.7 586.2L1017.8 586.7L1013.5 586.8L1009.5 586.4L1006.0 587.2L1003.4 588.3Z" fill="#545454"/>
<path d="M1221.5 487.9L1221.2 490.3L1220.7 493.6L1220.1 497.6L1219.9 501.9L1220.0 506.5L1219.8 510.9L1219.4 515.0L1219.3 519.1L1219.7 523.4L1220.5 527.7L1220.9 531.9L1220.9 535.6L1220.8 538.8L1220.8 541.1L1227.2 540.9L1227.0 538.5L1226.6 535.4L1226.2 531.6L1226.2 527.5L1226.6 523.1L1226.8 518.9L1226.6 515.0L1226.3 511.0L1226.4 506.7L1226.8 502.2L1227.0 497.9L1226.8 493.9L1226.6 490.6L1226.5 488.1Z" fill="#545454"/>
<path d="M1186.3 526.6L1188.2 530.8L1192.5 535.5L1196.5 537.2L1200.9 538.1L1205.0 537.4L1207.9 536.8L1208.1 535.0L1205.6 533.6L1202.0 531.7L1198.1 530.9L1195.5 530.5L1191.1 527.9L1187.7 525.4Z" fill="#545454"/>
<path d="M1172.0 567.3L1174.6 568.1L1178.2 568.7L1182.1 569.3L1185.7 569.9L1189.3 570.4L1193.4 570.2L1197.1 569.6L1199.8 569.2L1200.2 566.8L1197.8 565.5L1194.4 563.8L1190.3 562.4L1186.3 562.1L1182.2 562.4L1178.1 563.0L1174.5 563.8L1172.0 564.7Z" fill="#545454"/>
<path d="M1144.7 602.8L1145.4 605.4L1146.9 608.3L1149.0 611.4L1150.9 615.3L1152.1 620.0L1154.1 624.1L1157.2 627.2L1159.4 630.7L1160.2 634.7L1161.2 638.6L1163.6 641.3L1167.2 643.3L1170.4 645.5L1172.2 648.8L1173.7 652.2L1176.1 654.9L1179.1 657.3L1180.9 660.1L1181.3 664.1L1181.2 668.6L1182.8 672.3L1185.9 675.2L1188.5 678.2L1189.9 681.6L1190.7 684.8L1191.9 687.4L1193.3 689.2L1214.7 678.8L1214.2 676.7L1213.1 674.3L1211.1 671.6L1209.3 668.4L1208.6 664.3L1208.1 659.8L1206.0 656.1L1202.1 653.2L1198.7 650.2L1196.9 646.7L1195.8 642.4L1193.9 638.7L1191.0 635.7L1188.4 632.6L1187.0 628.6L1186.0 624.4L1183.9 621.2L1180.3 619.2L1176.6 617.3L1173.5 614.1L1171.0 610.2L1167.1 607.4L1162.6 605.2L1159.1 602.8L1156.3 600.2L1153.7 598.3L1151.3 597.2Z" fill="#545454"/>
<path d="M1158.5 621.8L1159.3 624.0L1160.7 626.8L1162.5 630.1L1164.1 634.2L1165.5 638.8L1168.4 642.1L1171.6 644.2L1174.5 646.7L1176.7 649.9L1178.7 653.2L1181.4 655.5L1184.7 656.8L1187.9 657.9L1190.7 660.3L1192.8 663.5L1195.3 666.5L1198.4 668.9L1201.5 671.5L1204.1 674.8L1206.9 679.3L1210.9 682.4L1215.5 683.7L1219.2 685.0L1221.3 686.6L1230.3 673.4L1228.0 672.0L1225.4 669.1L1222.9 665.4L1219.3 663.1L1215.1 662.0L1212.3 660.4L1210.2 657.6L1208.1 654.5L1205.2 651.8L1201.8 649.3L1198.9 646.1L1196.9 642.6L1194.7 639.3L1191.7 637.1L1188.0 635.8L1184.7 634.5L1182.3 632.4L1180.6 629.9L1178.0 627.5L1174.1 625.8L1170.6 623.7L1167.9 621.2L1165.5 619.1L1163.5 617.8Z" fill="#545454"/>
<path d="M1168.4 664.1L1170.1 666.0L1172.8 668.3L1176.1 670.6L1179.6 673.1L1183.2 675.2L1186.3 676.8L1190.5 679.0L1194.1 681.6L1197.2 683.6L1199.5 684.7L1203.5 677.3L1201.2 676.0L1197.8 674.6L1193.7 673.0L1189.7 670.8L1186.7 668.9L1183.1 667.0L1179.2 665.3L1175.5 663.5L1172.2 662.4L1169.6 661.9Z" fill="#545454"/>
<path d="M383.1 313.6L385.4 315.3L388.7 317.3L392.4 319.4L395.2 322.4L396.2 325.3L397.3 329.1L399.0 333.0L401.1 336.8L403.1 339.9L404.5 342.2L405.5 341.8L405.3 339.2L405.2 335.5L404.6 331.1L403.4 326.7L401.2 322.8L398.8 319.6L395.2 316.0L391.3 313.0L387.5 311.4L384.9 310.4Z" fill="#595959"/>
<path d="M176.9 290.6L180.1 292.3L183.7 293.4L184.3 292.6L181.9 289.7L179.1 287.4Z" fill="#595959"/>
<path d="M219.5 409.4L221.9 410.5L225.1 411.9L229.1 412.7L233.5 413.3L237.7 414.4L241.3 416.1L244.6 417.8L248.2 419.0L252.0 420.1L255.5 421.6L258.8 423.8L261.9 426.1L264.7 428.0L267.6 430.2L270.2 432.9L272.5 436.0L274.9 438.8L277.6 441.0L280.3 442.6L284.9 445.3L288.6 447.4L293.7 448.9L297.0 449.0L300.9 448.9L305.1 449.3L309.3 449.8L313.2 449.8L316.4 448.4L318.7 447.5L318.7 446.5L316.3 445.7L313.0 444.6L309.1 444.8L305.0 445.6L300.9 445.9L297.2 445.6L294.3 445.1L289.7 444.2L286.5 442.7L282.7 439.4L280.8 437.3L278.5 435.0L275.7 432.7L272.6 430.5L269.7 428.0L266.9 425.3L264.1 422.9L260.6 420.9L256.9 419.1L253.5 417.0L250.2 414.7L246.6 412.9L242.7 411.9L238.5 411.2L234.2 410.2L229.8 409.0L225.8 408.3L222.2 408.5L219.7 408.6Z" fill="#595959"/>
<path d="M311.9 400.2L312.6 402.5L313.9 405.7L316.1 409.1L318.4 412.6L321.3 415.5L324.6 417.6L327.9 419.9L331.0 422.5L334.3 425.1L338.2 426.9L341.8 427.6L345.5 427.8L349.2 428.1L352.9 428.5L356.5 428.5L359.8 428.2L364.0 428.3L368.3 429.3L372.3 430.5L375.8 430.1L378.4 429.4L378.6 428.0L376.2 426.8L372.8 425.6L368.7 425.8L364.3 425.8L360.2 425.0L356.7 424.2L353.1 423.9L349.5 424.0L345.9 423.9L342.7 423.1L339.8 422.1L336.4 420.9L332.8 419.7L329.4 417.9L326.6 415.3L324.3 412.5L322.0 409.7L319.4 406.7L317.2 403.6L315.0 401.0L313.1 399.4Z" fill="#595959"/>
<path d="M178.1 435.4L181.2 434.9L185.7 434.5L190.7 434.4L195.0 434.0L199.0 433.6L203.0 433.7L206.5 433.8L209.0 433.4L209.0 432.2L206.6 431.7L203.1 431.4L199.1 431.4L195.0 431.0L190.5 430.9L185.5 431.4L181.0 431.7L177.9 431.6Z" fill="#595959"/>
<path d="M432.1 409.1L434.9 409.4L439.0 409.2L443.5 408.6L447.4 407.7L450.1 406.5L449.9 405.5L447.1 405.1L443.0 405.3L438.5 405.9L434.6 406.8L431.9 407.9Z" fill="#595959"/>
<path d="M496.0 319.6L498.5 319.0L502.0 318.2L505.5 316.5L509.0 314.4L512.6 312.9L515.8 312.8L519.4 313.1L523.1 312.9L526.6 312.0L530.0 311.2L532.8 311.0L537.6 312.2L541.4 313.4L544.3 314.1L545.7 309.9L543.0 308.7L538.7 307.3L533.2 307.0L529.9 306.8L526.4 306.2L522.5 305.8L518.6 306.4L514.9 307.7L511.4 309.1L507.3 310.3L503.2 311.8L499.6 314.0L497.2 316.6L495.4 318.4Z" fill="#595959"/>
<path d="M629.7 326.4L632.4 329.3L636.9 331.8L641.5 330.1L644.2 327.4L643.8 326.6L640.4 327.4L637.1 328.2L633.7 327.0L630.3 325.6Z" fill="#595959"/>
<path d="M631.7 326.3L633.9 329.2L637.9 331.7L642.5 330.1L645.2 327.4L644.8 326.6L641.3 327.4L638.1 328.3L635.3 327.1L632.3 325.7Z" fill="#595959"/>
<path d="M653.9 294.4L656.9 296.0L661.3 297.9L665.8 298.6L671.8 298.7L676.0 297.7L676.0 296.3L671.8 295.7L666.2 295.4L662.1 294.3L657.5 293.7L654.1 293.6Z" fill="#595959"/>
<path d="M629.6 348.5L631.4 350.7L633.9 353.8L637.5 356.5L641.8 358.6L646.0 360.3L650.4 361.6L655.1 362.0L659.4 361.2L663.3 360.2L666.4 360.4L669.4 362.3L672.1 364.8L675.2 367.5L678.3 370.2L681.2 373.3L684.1 376.8L687.8 379.2L692.5 379.7L696.9 376.5L700.4 372.0L702.4 367.0L701.5 362.6L699.1 358.8L696.3 355.8L694.5 353.7L693.5 354.3L694.5 356.9L695.9 360.6L697.2 364.2L697.6 366.4L696.7 370.0L694.1 373.5L691.5 374.3L690.6 373.4L688.0 371.6L684.3 369.6L680.7 367.4L678.0 364.7L675.4 361.4L672.0 358.5L667.6 356.6L663.4 355.8L658.9 355.3L654.5 355.5L650.6 356.4L647.0 356.7L643.6 355.2L640.1 352.6L636.6 350.1L633.0 348.5L630.4 347.5Z" fill="#595959"/>
<path d="M444.5 392.2L448.4 390.9L452.7 388.5L456.2 388.1L457.5 388.9L460.4 391.2L463.6 394.3L466.5 397.9L470.5 400.4L475.0 400.3L478.9 398.4L482.7 396.0L486.5 394.2L489.7 392.8L491.5 391.9L494.7 391.9L497.4 394.2L500.9 397.5L504.5 399.7L508.8 401.2L513.3 402.1L517.4 402.5L520.3 402.6L520.7 401.0L518.4 399.4L514.8 397.4L510.6 395.6L506.5 394.2L503.1 393.7L499.2 391.8L496.4 388.8L491.7 386.9L487.7 387.6L484.1 389.6L480.4 391.9L476.6 393.4L473.4 394.4L471.5 395.0L468.8 394.6L465.8 392.3L463.3 388.7L460.9 385.0L456.8 382.5L450.8 384.0L446.0 387.5L443.5 390.8Z" fill="#595959"/>
<path d="M440.3 412.5L444.8 411.5L448.2 408.4L447.8 407.6L443.2 408.5L439.7 411.5Z" fill="#595959"/>
<path d="M556.0 478.5L558.6 477.7L561.8 476.1L565.1 473.6L568.9 471.7L572.8 470.4L575.6 469.4L578.9 468.2L582.5 467.4L586.2 467.5L590.0 467.9L593.6 468.0L596.9 467.9L600.6 468.1L604.3 468.9L607.8 469.8L611.3 470.4L614.5 470.7L617.0 471.1L622.1 474.4L625.3 476.5L626.3 475.5L623.8 472.1L618.2 468.9L615.4 467.6L612.4 466.1L608.9 464.9L605.0 464.4L601.1 464.1L597.1 463.7L593.6 463.4L589.9 463.6L586.0 464.3L582.2 464.9L578.4 465.1L574.7 465.1L571.2 465.6L566.9 467.6L563.0 470.3L559.3 472.6L556.8 475.3L555.2 477.5Z" fill="#595959"/>
<path d="M788.0 343.0L787.3 345.9L786.6 350.1L786.8 354.4L787.1 357.6L785.7 362.3L783.9 364.9L788.1 367.1L789.3 363.6L790.9 358.4L791.4 354.4L791.3 349.9L790.1 345.8L789.0 343.0Z" fill="#595959"/>
<path d="M776.2 368.4L778.8 367.3L782.3 365.7L785.7 363.8L788.7 362.5L792.1 362.6L796.0 364.2L799.8 365.2L802.8 365.2L803.2 363.8L800.9 362.0L797.1 360.4L792.6 359.8L788.3 359.5L784.2 360.6L780.4 362.8L777.6 365.7L775.8 367.6Z" fill="#595959"/>
<path d="M924.3 366.8L924.6 370.7L926.0 376.0L929.9 380.3L933.3 382.0L937.0 383.7L941.1 385.3L945.4 385.8L949.6 385.2L953.6 384.2L957.6 383.1L961.6 381.8L965.3 380.1L968.6 378.5L973.0 377.0L977.5 375.9L980.8 373.6L982.9 371.5L982.3 370.1L979.3 370.2L975.4 371.1L971.6 373.6L967.4 375.5L963.8 376.7L960.1 378.1L956.5 379.9L952.9 381.1L949.4 381.2L945.8 380.5L942.0 380.0L938.1 379.8L934.5 379.1L932.1 377.7L929.5 374.0L927.2 369.7L925.1 366.6Z" fill="#595959"/>
<path d="M854.3 399.1L851.8 399.1L848.5 399.4L844.7 400.8L840.7 402.2L836.7 403.9L833.6 405.9L830.9 408.4L828.4 411.3L826.0 414.2L823.4 416.9L820.5 419.1L817.2 421.2L813.7 423.5L810.3 426.0L807.1 428.4L804.6 430.7L802.7 432.4L803.3 433.2L805.5 432.2L808.7 430.9L812.2 429.0L815.9 426.8L819.4 424.3L822.5 421.7L825.3 419.1L828.3 416.7L831.4 414.4L834.3 412.2L836.9 410.0L839.3 408.1L842.4 406.1L846.1 404.5L849.7 403.5L852.7 401.9L854.7 400.5Z" fill="#595959"/>
<path d="M957.7 354.3L959.9 358.1L963.7 360.3L964.3 359.7L962.1 355.9L958.3 353.7Z" fill="#595959"/>
<path d="M1090.1 376.7L1093.4 377.6L1097.9 377.9L1101.7 377.6L1106.9 379.2L1111.6 379.1L1112.4 376.9L1108.6 373.7L1102.3 372.4L1097.5 372.2L1092.9 373.6L1089.9 375.3Z" fill="#595959"/>
<path d="M1077.1 427.5L1079.3 427.7L1082.2 427.8L1085.7 427.7L1089.6 427.4L1093.7 427.4L1097.8 427.8L1101.7 427.9L1105.1 427.3L1109.4 426.3L1113.6 425.9L1117.8 426.0L1121.6 425.9L1125.1 425.5L1128.0 425.3L1134.3 425.5L1137.9 424.8L1138.1 423.2L1134.5 421.8L1128.0 421.7L1124.9 421.7L1121.3 421.8L1117.5 422.3L1113.4 423.0L1109.2 423.2L1104.9 422.7L1101.4 422.4L1097.6 422.8L1093.6 423.6L1089.5 423.8L1085.6 423.7L1082.1 423.8L1079.1 424.2L1076.9 424.5Z" fill="#595959"/>
<path d="M976.3 455.9L978.6 457.9L982.3 460.3L986.7 462.2L991.1 463.4L996.4 461.8L1000.7 458.3L1003.5 455.7L1003.3 455.3L999.8 456.9L995.1 458.8L990.9 460.0L987.6 459.5L983.6 457.7L979.7 455.9L976.7 455.1Z" fill="#595959"/>
<path d="M968.0 472.4L970.4 473.3L974.1 474.1L978.4 474.4L982.6 475.0L986.4 474.9L989.0 474.5L989.0 473.5L986.6 472.6L982.9 471.8L978.6 471.6L974.4 471.1L970.6 471.2L968.0 471.6Z" fill="#595959"/>
<path d="M1141.3 457.5L1139.9 460.8L1138.6 465.5L1136.6 469.1L1132.9 471.4L1128.2 473.7L1124.9 475.7L1125.1 476.3L1129.0 475.7L1134.3 474.0L1138.6 470.9L1140.9 466.3L1142.0 461.3L1142.1 457.7Z" fill="#595959"/>
<path d="M1149.8 445.4L1153.7 448.3L1156.9 451.5L1156.0 452.9L1153.6 455.7L1151.1 459.4L1149.2 463.1L1147.0 467.2L1144.9 471.0L1143.7 473.8L1144.3 474.2L1146.1 471.7L1148.3 467.9L1150.7 463.9L1152.9 460.6L1155.7 457.4L1158.3 454.3L1159.1 450.5L1155.0 446.5L1150.2 444.6Z" fill="#595959"/>
<path d="M1176.9 382.3L1177.6 384.9L1178.7 388.5L1180.6 392.4L1183.1 395.9L1185.8 398.8L1189.0 401.6L1192.1 404.3L1195.1 406.7L1197.9 408.4L1201.9 410.6L1205.8 412.3L1208.6 413.5L1209.4 412.5L1207.5 410.1L1204.6 406.8L1201.1 403.6L1198.0 401.7L1194.4 400.5L1190.9 399.1L1188.2 396.6L1186.5 393.6L1184.5 390.0L1182.3 386.5L1179.9 383.7L1178.1 381.7Z" fill="#595959"/>
<path d="M179.8 513.8L182.4 513.9L185.9 514.3L190.0 515.4L194.2 516.3L198.5 516.8L201.9 517.6L205.2 519.2L208.4 521.4L211.7 523.1L215.2 524.2L218.4 525.4L221.7 527.6L224.6 530.4L227.8 532.9L231.5 535.1L235.3 537.3L238.5 539.3L242.0 541.3L245.8 542.3L249.7 542.6L253.3 542.9L256.7 543.3L262.5 543.3L267.3 541.7L270.4 540.5L269.6 537.5L266.4 537.9L261.9 538.3L256.7 538.7L253.9 538.4L250.7 537.5L247.3 536.3L243.7 535.4L240.1 535.0L236.7 534.3L233.5 532.3L230.8 529.4L228.0 526.5L224.5 523.9L220.8 521.4L217.6 519.2L214.3 517.2L210.5 516.0L206.6 515.4L202.9 514.6L199.5 513.2L195.4 511.4L191.0 510.4L186.8 509.9L183.3 509.0L180.8 508.2Z" fill="#595959"/>
<path d="M310.0 568.3L307.9 569.5L305.1 571.2L302.2 573.7L298.9 576.3L295.6 579.0L292.7 581.8L290.2 584.8L287.7 587.9L285.0 590.8L282.0 593.5L279.1 596.0L276.3 598.6L273.6 601.2L270.9 603.9L268.0 606.3L265.1 608.4L262.1 610.5L259.4 612.6L256.5 615.5L253.8 618.6L251.3 621.6L249.4 624.3L248.2 626.3L248.8 626.9L250.8 625.6L253.5 623.7L256.3 621.2L259.4 618.5L262.4 615.8L264.7 613.4L267.1 610.8L269.7 608.3L272.6 605.8L275.6 603.5L278.5 601.0L281.3 598.2L283.8 595.2L286.5 592.2L289.3 589.5L292.3 586.9L295.3 584.6L298.3 582.0L301.3 579.1L304.3 576.2L307.2 573.7L309.4 571.2L310.8 569.3Z" fill="#595959"/>
<path d="M405.0 629.0L406.0 631.6L408.0 635.1L410.9 638.4L413.7 641.9L416.4 644.8L420.6 647.5L425.3 648.5L430.3 648.1L433.7 647.6L437.7 646.7L441.7 645.0L445.3 643.1L448.2 641.1L450.2 639.6L449.8 638.4L447.3 639.0L443.9 639.9L440.1 641.5L436.3 643.2L432.9 644.9L430.1 645.9L425.8 645.4L422.7 643.6L419.2 641.2L416.5 639.2L413.6 636.2L411.0 632.7L408.1 630.0L405.8 628.4Z" fill="#595959"/>
<path d="M486.9 512.8L489.8 511.2L494.8 508.7L497.5 506.9L500.4 504.5L503.5 502.1L506.9 500.2L510.0 498.3L513.9 493.0L514.6 488.3L513.4 487.7L509.9 490.2L506.0 494.7L504.3 496.9L501.6 499.5L498.3 501.6L495.1 503.3L492.6 504.9L488.1 507.9L485.1 509.2Z" fill="#595959"/>
<path d="M440.4 643.5L442.8 642.4L446.0 640.5L449.4 638.3L453.1 636.6L456.5 635.4L460.5 633.9L464.8 632.9L468.6 632.2L471.1 631.3L470.9 630.1L468.2 630.2L464.4 630.9L460.0 631.6L455.6 632.1L451.7 633.2L447.7 635.4L444.1 637.9L441.3 640.5L439.6 642.5Z" fill="#595959"/>
<path d="M854.5 540.6L857.4 541.4L861.6 541.8L866.4 542.0L871.1 542.1L875.1 541.6L880.4 540.4L884.8 539.5L887.7 538.4L887.5 537.2L884.4 537.4L880.1 538.2L874.9 538.2L871.0 537.9L866.4 538.1L861.6 538.2L857.4 538.5L854.5 539.2Z" fill="#595959"/>
<path d="M899.8 614.6L902.2 616.0L905.7 617.9L909.7 619.6L913.7 620.3L916.4 620.7L916.6 620.1L914.3 618.6L910.9 616.5L906.7 615.1L902.8 614.3L900.2 613.8Z" fill="#595959"/>
<path d="M1116.0 536.7L1118.9 536.9L1122.6 536.3L1126.5 534.6L1130.9 533.6L1134.9 532.6L1138.2 531.3L1142.1 530.5L1146.1 531.5L1149.9 533.3L1153.9 534.6L1158.1 534.5L1163.6 532.6L1167.6 529.7L1169.5 526.8L1168.5 525.2L1165.2 525.9L1161.4 527.8L1157.3 528.9L1154.8 528.5L1151.2 528.0L1146.9 527.8L1142.4 527.2L1137.8 526.3L1133.4 526.3L1129.0 527.8L1124.7 529.7L1120.6 531.1L1117.5 533.1L1115.4 535.1Z" fill="#595959"/>
<path d="M1152.3 582.5L1155.5 581.5L1159.8 579.2L1163.9 576.6L1166.3 574.1L1165.7 573.3L1162.4 574.2L1158.2 576.5L1154.2 579.2L1151.7 581.5Z" fill="#595959"/>
<path d="M1115.2 470.2L1116.1 473.9L1118.7 478.8L1123.1 482.7L1126.8 484.0L1131.2 484.4L1135.7 483.9L1140.1 483.6L1143.9 483.4L1146.5 483.1L1146.5 482.1L1143.9 481.7L1140.1 481.6L1135.8 481.3L1131.4 480.5L1127.5 480.0L1124.9 479.7L1121.1 476.8L1118.6 472.6L1116.2 469.8Z" fill="#595959"/>
<path d="M1129.8 591.0L1131.2 593.3L1133.5 595.8L1136.0 598.9L1137.6 603.4L1139.7 607.0L1144.2 607.9L1147.6 608.6L1149.5 611.4L1149.6 615.6L1149.8 619.8L1151.9 622.6L1155.1 624.6L1157.5 627.4L1158.2 631.3L1159.3 634.5L1162.4 636.7L1166.9 638.3L1170.2 640.8L1170.6 644.9L1169.8 649.5L1170.5 653.3L1172.9 656.1L1175.0 658.9L1175.4 662.9L1175.0 667.4L1177.3 671.1L1181.9 674.0L1185.1 677.2L1185.3 681.0L1184.4 684.6L1184.1 687.2L1203.9 680.8L1202.1 678.9L1199.4 676.6L1197.4 673.3L1198.1 668.8L1200.0 663.4L1199.3 658.6L1195.8 654.8L1193.0 651.1L1192.1 647.2L1191.3 643.2L1188.5 640.1L1184.2 637.8L1181.0 635.0L1180.5 630.7L1181.2 625.7L1180.5 621.5L1177.8 618.7L1174.2 616.1L1172.2 612.5L1170.9 608.4L1168.4 605.2L1164.1 603.7L1159.6 602.6L1156.9 600.1L1155.8 596.1L1153.9 590.9L1149.0 588.9L1143.8 588.2L1139.8 586.8L1136.7 585.5L1134.2 585.0Z" fill="#595959"/>
<path d="M1091.7 612.3L1093.0 614.4L1094.9 617.2L1097.8 619.9L1100.7 622.7L1103.2 625.7L1105.5 628.8L1108.2 631.8L1111.2 634.5L1114.0 637.2L1116.1 639.8L1119.2 643.6L1122.3 645.9L1124.7 647.3L1125.3 646.7L1123.8 644.4L1121.4 641.3L1117.9 638.2L1115.6 635.8L1113.4 632.6L1111.3 629.2L1108.7 626.0L1105.8 623.3L1102.9 620.6L1100.0 617.7L1097.3 614.8L1094.4 613.0L1092.3 611.7Z" fill="#595959"/>
<path d="M1090.0 372.0C1092.3 369.5 1103.3 367.3 1108.0 368.0C1112.7 368.7 1115.0 373.3 1118.0 376.0C1121.0 378.7 1127.3 383.2 1126.0 384.0C1124.7 384.8 1115.3 381.2 1110.0 381.0C1104.7 380.8 1097.3 384.5 1094.0 383.0C1090.7 381.5 1087.7 374.5 1090.0 372.0Z" fill="#5c5c5c"/>
<path d="M1201.0 446.0C1207.0 443.7 1228.5 439.2 1234.0 446.0C1239.5 452.8 1236.5 479.0 1234.0 487.0C1231.5 495.0 1223.0 492.2 1219.0 494.0C1215.0 495.8 1212.3 495.8 1210.0 498.0C1207.7 500.2 1205.6 503.2 1205.0 507.0C1204.4 510.8 1208.3 517.0 1206.5 521.0C1204.7 525.0 1197.8 531.2 1194.0 531.0C1190.2 530.8 1186.0 524.6 1184.0 520.0C1182.0 515.4 1181.6 508.9 1182.0 503.6C1182.4 498.3 1184.6 491.9 1186.5 488.0C1188.4 484.1 1191.6 482.3 1193.5 480.0C1195.4 477.7 1197.2 477.3 1198.0 474.0C1198.8 470.7 1197.5 464.7 1198.0 460.0C1198.5 455.3 1195.0 448.3 1201.0 446.0Z" fill="#5c5c5c"/>
<path d="M1174.0 560.0C1177.0 558.0 1186.5 560.1 1190.5 562.0C1194.5 563.9 1195.1 569.2 1198.0 571.5C1200.9 573.8 1205.2 572.9 1208.0 575.5C1210.8 578.1 1213.7 582.1 1215.0 587.0C1216.3 591.9 1216.7 599.5 1216.0 605.0C1215.3 610.5 1214.0 615.5 1211.0 620.0C1208.0 624.5 1201.8 634.7 1198.0 632.0C1194.2 629.3 1190.4 609.8 1188.0 604.0C1185.6 598.2 1185.3 599.7 1183.5 597.0C1181.7 594.3 1178.8 591.9 1177.0 588.0C1175.2 584.1 1173.0 578.4 1172.5 573.7C1172.0 569.0 1171.0 562.0 1174.0 560.0Z" fill="#5c5c5c"/>
<path d="M547.8 314.7L550.5 316.7L554.6 318.8L559.8 319.5L565.0 319.7L569.4 319.6L574.2 318.9L578.7 317.6L582.5 316.0L585.1 314.8L584.9 313.2L581.9 313.0L577.9 313.0L573.3 313.3L568.8 313.9L565.0 314.3L560.5 313.7L555.9 312.5L551.5 312.7L548.2 313.3Z" fill="#5e5e5e"/>
<path d="M970.6 336.0L969.8 339.2L969.6 344.0L970.7 349.2L972.5 354.0L973.7 358.4L974.5 361.3L987.5 356.7L986.2 354.0L984.6 350.3L984.3 346.8L984.6 343.2L984.2 339.1L983.4 336.0Z" fill="#5e5e5e"/>
<path d="M972.5 342.4L972.0 345.3L972.0 349.5L972.8 353.6L973.5 356.4L985.5 355.6L985.7 352.7L986.0 348.5L985.4 344.4L984.5 341.6Z" fill="#5e5e5e"/>
<path d="M994.2 332.2L996.5 330.9L999.4 328.5L1001.3 327.4L1005.1 326.9L1009.0 326.8L1011.7 326.5L1010.3 314.5L1007.7 314.8L1003.7 315.6L999.4 316.1L994.6 316.5L988.8 318.9L985.8 321.8Z" fill="#5e5e5e"/>
<path d="M1046.1 372.9L1050.3 372.5L1054.3 371.1L1058.6 369.6L1061.5 365.2L1060.5 361.8L1055.3 359.7L1049.7 361.9L1045.6 365.9L1043.9 370.1Z" fill="#5e5e5e"/>
<path d="M579.3 500.2L580.7 502.7L583.2 505.7L586.4 508.5L590.0 511.1L593.0 513.4L596.5 515.6L600.4 517.4L603.9 519.5L606.8 521.9L611.7 523.4L616.1 523.3L619.0 522.9L620.2 519.7L618.2 517.5L615.5 514.7L611.8 512.1L608.8 511.1L605.5 509.1L602.3 506.5L598.9 504.2L595.6 502.5L591.8 500.3L588.0 498.5L584.3 497.4L581.5 497.0Z" fill="#5e5e5e"/>
<path d="M783.0 529.6L786.1 530.4L790.5 531.8L795.3 532.7L799.7 532.8L804.1 533.1L808.9 534.0L813.5 533.2L816.8 532.2L817.2 529.8L814.4 527.8L810.2 525.5L805.2 524.9L800.3 524.2L795.4 523.9L790.4 524.9L786.0 526.5L783.0 527.4Z" fill="#5e5e5e"/>
<path d="M1079.6 567.0L1082.0 567.1L1085.3 567.5L1089.3 568.3L1093.5 568.6L1097.4 568.1L1101.2 567.5L1104.8 567.4L1107.6 567.1L1110.5 565.7L1113.5 564.1L1116.8 563.4L1120.3 564.2L1124.0 565.4L1127.8 565.6L1131.7 564.6L1135.0 563.9L1138.5 564.0L1142.1 564.2L1145.7 563.4L1149.2 561.7L1152.8 560.5L1156.4 560.8L1159.9 562.0L1163.2 562.7L1166.2 562.3L1170.0 561.5L1173.8 561.5L1177.5 562.2L1181.1 562.1L1184.5 561.0L1187.7 560.3L1190.4 560.7L1191.9 561.8L1195.2 564.8L1197.3 565.9L1199.7 566.9L1210.3 552.5L1208.2 550.2L1203.5 546.8L1196.1 546.2L1192.3 546.5L1189.0 546.3L1185.6 545.0L1181.9 543.6L1178.0 543.2L1174.0 543.7L1169.9 543.8L1165.8 543.1L1162.3 542.9L1158.8 544.0L1155.2 545.7L1151.6 546.6L1147.8 546.0L1144.0 545.0L1140.3 544.9L1136.8 545.8L1133.5 546.5L1130.3 546.4L1126.4 546.0L1122.8 546.7L1119.3 548.3L1115.8 549.5L1112.3 549.4L1108.6 548.4L1104.9 547.9L1101.2 548.6L1097.1 550.2L1092.9 551.7L1088.9 553.5L1085.4 556.2L1082.6 559.3L1080.2 561.6L1078.4 563.0Z" fill="#5e5e5e"/>
<path d="M1127.0 558.6L1129.2 559.8L1132.2 561.2L1135.8 562.0L1139.8 562.5L1144.0 563.8L1148.3 564.5L1152.5 563.8L1156.1 562.7L1159.9 562.4L1163.8 563.4L1167.7 564.3L1171.3 563.7L1174.6 562.1L1177.6 561.0L1180.1 560.9L1185.0 561.6L1189.4 561.1L1193.3 561.0L1196.1 561.9L1197.9 546.1L1195.1 546.3L1191.1 545.2L1185.8 543.9L1179.9 544.5L1176.4 544.7L1172.8 544.2L1169.0 543.4L1165.3 543.7L1161.7 545.5L1158.2 547.3L1154.8 547.8L1151.5 547.2L1147.8 546.8L1143.8 547.7L1139.8 549.0L1135.8 549.5L1132.3 550.2L1129.3 551.6L1127.0 552.8Z" fill="#5e5e5e"/>
<path d="M1192.7 647.2L1195.1 649.4L1197.3 653.6L1199.3 658.3L1202.2 661.9L1205.8 665.2L1209.2 669.4L1212.3 673.3L1216.6 675.9L1221.2 677.2L1224.0 678.4L1232.0 667.6L1230.0 665.3L1227.5 661.3L1224.3 658.2L1220.8 656.6L1217.5 654.1L1215.3 650.8L1212.7 647.7L1209.1 645.0L1206.1 641.8L1204.9 638.8Z" fill="#5e5e5e"/>
<path d="M1196.5 618.8L1196.2 622.0L1194.8 626.7L1193.6 632.3L1194.3 637.9L1196.1 642.7L1197.1 645.8L1208.9 642.2L1208.0 639.1L1207.2 635.0L1206.4 631.7L1205.9 628.4L1206.4 624.2L1207.5 621.2Z" fill="#5e5e5e"/>
<path d="M1091.0 376.0C1094.5 374.1 1100.3 374.2 1106.0 374.5C1111.7 374.8 1119.5 375.9 1125.0 378.0C1130.5 380.1 1135.7 382.7 1139.0 387.0C1142.3 391.3 1144.1 399.3 1145.0 404.0C1145.9 408.7 1145.8 411.3 1144.5 415.0C1143.2 418.7 1141.5 424.2 1137.5 426.0C1133.5 427.8 1125.8 426.6 1120.4 426.0C1115.0 425.4 1110.2 422.5 1105.0 422.5C1099.8 422.5 1094.7 425.1 1089.4 426.0C1084.1 426.9 1074.6 430.9 1073.0 428.0C1071.4 425.1 1078.3 413.2 1080.0 408.4C1081.7 403.6 1082.6 402.7 1083.4 399.0C1084.2 395.3 1083.7 389.8 1085.0 386.0C1086.3 382.2 1087.5 377.9 1091.0 376.0Z" fill="#5e5e5e"/>
<path d="M287.9 446.4L291.4 447.7L296.2 448.7L299.9 448.1L300.1 446.9L296.6 445.4L291.7 445.2L288.1 445.6Z" fill="#666666"/>
<path d="M288.0 446.3L291.5 447.3L296.3 448.3L299.9 448.0L300.1 447.0L296.6 445.8L291.7 445.6L288.0 445.7Z" fill="#666666"/>
<path d="M326.4 292.3L328.3 294.7L330.9 298.4L335.1 300.9L340.5 300.9L345.3 301.7L350.2 302.5L355.1 302.2L358.7 300.5L361.1 299.1L362.6 299.3L363.7 300.9L366.0 303.2L369.9 305.4L373.6 308.2L376.1 311.7L378.8 315.8L382.0 318.6L385.2 320.0L387.4 321.0L392.6 313.0L390.8 311.4L388.3 309.2L384.9 307.5L380.9 306.3L378.1 304.3L376.3 300.2L374.5 295.4L370.7 291.7L365.4 289.7L360.0 289.5L355.1 290.2L351.1 291.6L348.3 294.0L345.7 295.5L342.5 294.5L339.3 291.2L335.2 289.8L330.8 289.8L327.6 289.7Z" fill="#6b6b6b"/>
<path d="M437.8 292.6L440.0 294.5L442.7 297.9L446.1 301.7L450.8 304.0L455.5 305.1L460.1 306.3L464.7 307.6L469.4 307.5L474.0 306.0L477.4 304.5L480.8 303.0L484.1 301.6L486.9 299.7L489.3 297.2L492.3 294.8L495.5 294.1L499.6 294.5L504.0 294.4L508.5 293.6L512.9 293.6L517.0 294.2L520.4 294.2L522.9 293.6L522.3 285.0L519.8 284.7L516.5 285.1L512.5 286.3L508.0 286.8L503.3 286.7L498.8 287.6L494.7 289.2L490.9 290.0L486.2 290.5L481.9 291.7L478.7 293.9L476.4 296.5L474.3 298.5L472.0 299.4L468.1 299.9L464.6 300.7L461.0 301.3L457.5 300.3L455.1 297.5L452.1 294.1L448.1 291.7L444.5 289.4L442.2 287.4Z" fill="#6b6b6b"/>
<path d="M468.2 303.5L470.8 303.2L474.5 302.7L478.3 300.9L482.0 298.7L485.4 297.0L489.8 295.8L494.3 294.8L498.1 293.4L500.6 292.3L499.4 288.7L496.7 289.5L492.8 290.8L488.7 293.0L484.6 295.0L480.9 296.1L476.7 297.1L472.8 298.6L469.9 300.9L467.8 302.5Z" fill="#6b6b6b"/>
<path d="M532.6 310.3L534.7 311.9L537.8 313.6L541.6 315.9L545.5 319.0L550.0 321.2L554.7 321.1L558.6 320.4L562.3 320.5L565.9 321.2L569.7 321.5L573.5 320.8L577.3 319.9L581.2 319.9L585.5 320.4L589.8 319.9L593.5 317.5L596.8 314.6L600.3 312.8L603.8 311.9L606.8 310.9L610.9 308.3L614.0 305.4L616.6 303.5L618.3 301.9L616.9 299.3L614.6 299.8L611.7 300.9L607.7 301.5L603.2 302.7L600.4 304.1L597.4 306.1L593.8 307.4L589.6 307.6L585.8 308.0L582.6 309.9L579.6 312.1L576.4 313.2L573.0 313.0L569.6 312.5L566.2 312.7L562.8 313.1L559.5 312.5L556.5 310.9L552.9 309.1L548.6 308.9L543.9 309.1L539.7 308.5L536.2 307.8L533.4 307.7Z" fill="#6b6b6b"/>
<path d="M636.9 303.6L640.5 304.9L644.5 305.7L646.6 308.2L646.5 311.8L644.5 314.5L642.5 316.6L640.2 318.5L637.2 319.4L634.3 318.3L632.5 316.2L631.6 313.5L630.2 310.2L629.9 306.9L631.6 304.5L635.3 304.1L638.8 303.7L637.2 296.3L633.2 297.4L628.4 300.5L625.3 304.8L622.8 309.8L622.5 316.0L625.5 321.8L630.9 325.2L636.8 326.6L642.8 326.0L648.5 323.4L651.9 318.2L652.5 312.2L650.9 306.7L648.5 301.3L643.6 297.5L639.1 296.4Z" fill="#6b6b6b"/>
<path d="M630.9 308.1L632.4 310.9L635.1 314.4L637.6 316.6L642.4 313.4L641.3 310.3L639.2 306.4L637.1 303.9Z" fill="#6b6b6b"/>
<path d="M674.7 300.5L677.9 301.5L681.7 303.0L683.7 306.9L685.1 310.6L694.9 301.4L691.1 299.6L686.3 297.0L682.3 293.8L679.3 291.5Z" fill="#6b6b6b"/>
<path d="M686.8 313.3L689.7 315.5L693.3 319.1L696.5 323.3L699.8 326.1L704.2 327.7L709.3 327.7L712.7 327.6L716.2 327.7L719.8 327.5L723.8 326.6L728.4 325.5L731.5 325.5L735.3 325.9L739.2 325.8L743.1 324.4L747.0 322.7L750.9 321.9L754.6 322.0L757.7 321.8L759.8 321.4L766.1 320.9L768.5 321.5L769.5 319.7L766.9 317.4L760.2 315.2L757.0 315.2L753.8 315.8L750.2 316.9L746.2 317.4L742.0 316.9L737.8 316.8L734.0 317.9L730.6 319.4L727.6 320.3L722.9 320.6L718.8 321.0L715.5 321.9L712.6 322.5L710.1 322.3L706.9 320.4L704.6 318.3L701.5 316.7L697.1 314.8L693.5 311.5L691.2 308.7Z" fill="#6b6b6b"/>
<path d="M703.9 323.5L706.9 324.8L711.3 326.4L716.0 327.4L720.8 326.8L725.1 324.8L728.1 323.4L727.9 322.6L724.7 322.6L720.1 322.3L716.0 322.6L711.8 322.7L707.3 322.6L704.1 322.5Z" fill="#6b6b6b"/>
<path d="M667.3 301.2L667.5 304.4L668.8 308.6L670.3 312.6L671.2 316.7L673.0 320.2L675.1 322.4L676.9 321.6L676.9 318.6L675.8 314.9L673.7 311.4L672.2 307.4L670.6 303.3L668.7 300.8Z" fill="#6b6b6b"/>
<path d="M723.9 297.7L727.0 300.1L730.8 299.3L731.2 297.7L728.0 295.4L724.1 296.3Z" fill="#6b6b6b"/>
<path d="M474.2 397.5L477.8 397.2L482.6 396.0L486.5 394.0L490.9 392.0L494.1 390.9L493.9 390.1L490.6 390.4L485.5 391.0L481.1 392.0L476.7 394.3L473.8 396.5Z" fill="#6b6b6b"/>
<path d="M725.9 296.8L730.2 299.3L734.9 298.0L735.1 296.0L730.8 293.7L726.1 295.2Z" fill="#6b6b6b"/>
<path d="M825.7 292.9L828.9 292.4L833.4 292.1L837.7 293.1L841.9 294.4L846.7 293.8L850.3 293.1L850.5 291.7L847.7 289.5L843.3 287.0L838.3 286.9L833.4 287.7L828.7 287.8L825.5 287.7Z" fill="#6b6b6b"/>
<path d="M851.3 295.9L854.5 299.0L858.6 304.8L865.0 307.7L870.2 306.4L873.8 293.6L870.9 290.1L867.4 289.2L863.4 288.7L860.7 286.1Z" fill="#6b6b6b"/>
<path d="M854.6 384.0L857.5 384.7L861.5 385.8L866.2 386.1L871.0 385.0L875.3 383.2L878.8 382.5L882.6 382.5L886.5 382.5L890.1 381.7L893.6 380.6L896.8 379.7L901.2 378.6L904.9 376.9L907.8 374.1L910.0 370.4L911.9 366.6L914.1 362.8L916.5 359.5L918.8 356.3L921.1 353.5L924.4 351.1L928.2 349.2L931.6 347.2L934.2 344.8L937.8 342.5L941.8 342.0L945.6 342.5L948.9 342.9L952.0 343.6L954.9 345.4L957.1 348.0L958.7 350.4L960.7 352.9L963.1 356.0L964.3 359.4L963.8 361.8L962.1 363.5L959.5 365.3L956.4 367.2L953.4 368.5L949.7 368.3L945.4 366.5L940.9 365.3L937.4 365.6L936.6 367.8L939.2 370.2L943.7 372.0L949.0 372.8L953.8 373.1L958.4 372.3L962.7 370.4L966.2 367.3L968.2 363.4L968.4 359.1L968.0 354.6L967.2 349.8L965.3 345.6L962.1 342.6L958.1 340.5L954.2 338.5L950.1 336.9L945.7 336.4L941.2 337.3L936.7 338.5L931.8 339.2L927.6 340.3L923.8 342.9L920.6 346.4L917.4 349.5L914.2 352.3L911.3 356.3L909.9 360.8L908.5 364.6L906.0 367.2L903.0 368.7L900.4 370.2L897.9 372.1L894.8 374.3L892.1 375.2L888.9 375.7L885.4 376.3L881.8 377.4L878.3 378.5L874.7 378.8L870.1 378.1L865.4 378.1L860.9 379.3L857.1 381.2L854.4 382.4Z" fill="#6b6b6b"/>
<path d="M868.1 382.8L870.5 383.2L873.8 384.1L877.6 384.1L881.6 383.2L885.7 381.5L889.6 380.3L893.4 379.9L896.7 379.6L901.4 377.9L904.8 375.4L907.6 373.0L910.4 370.7L913.7 366.8L914.7 361.8L914.6 358.3L913.4 357.7L910.7 359.9L907.6 363.2L905.6 366.9L903.9 369.2L901.7 371.1L898.8 372.6L894.9 374.4L892.4 375.7L889.0 376.9L884.9 377.2L880.6 376.8L876.6 377.2L872.9 378.2L870.0 380.0L867.9 381.2Z" fill="#6b6b6b"/>
<path d="M962.1 379.4L965.9 378.7L971.0 377.3L975.7 376.2L980.4 373.9L983.2 371.5L982.8 370.5L979.2 371.0L974.3 372.8L970.1 374.9L965.2 376.8L961.9 378.6Z" fill="#6b6b6b"/>
<path d="M990.8 326.6L993.3 325.8L997.1 325.3L1001.4 325.5L1005.4 324.7L1008.8 322.9L1011.3 322.1L1014.1 323.6L1015.8 326.5L1017.5 329.6L1019.5 332.4L1020.6 335.5L1020.4 339.2L1019.6 342.6L1019.2 345.1L1018.9 348.5L1017.6 352.0L1014.7 354.8L1011.7 356.1L1008.1 357.3L1004.4 358.8L1000.3 360.7L996.6 361.9L992.3 362.3L988.1 361.8L984.8 361.2L983.1 360.8L981.2 359.8L979.2 357.3L978.2 353.6L978.0 350.0L977.8 347.0L977.1 344.4L976.5 341.5L977.0 338.4L979.4 336.0L983.3 333.7L986.9 330.6L990.0 327.7L992.5 326.0L987.5 320.0L985.5 322.2L981.9 324.6L978.0 327.8L975.1 332.0L972.6 335.6L970.0 339.5L968.0 343.6L967.5 348.0L968.4 352.0L970.2 356.1L972.3 360.6L974.8 365.4L978.9 369.2L983.8 370.4L988.6 369.7L993.2 368.1L997.6 366.8L1001.7 366.3L1006.4 365.9L1011.0 364.7L1015.0 362.5L1018.5 359.8L1022.5 356.5L1026.5 352.7L1029.4 347.9L1030.0 343.1L1029.0 338.4L1027.5 333.9L1026.1 329.6L1024.5 325.4L1021.6 321.6L1017.3 318.8L1012.7 316.9L1008.6 315.6L1003.9 314.7L999.3 315.6L995.2 317.7L991.7 319.0L989.2 319.4Z" fill="#6b6b6b"/>
<path d="M982.0 332.8L984.7 334.4L987.4 337.2L987.4 338.5L986.3 340.1L984.6 344.6L983.3 348.3L988.7 351.7L991.5 348.9L995.3 344.2L996.6 337.5L992.8 332.3L988.5 329.5L986.0 327.2Z" fill="#6b6b6b"/>
<path d="M986.3 352.4L989.3 351.3L993.6 349.4L997.8 346.6L1000.5 342.7L1002.3 338.2L1004.0 334.8L1007.2 331.7L1009.3 329.4L1008.7 328.6L1005.7 330.0L1002.0 333.2L999.4 336.5L996.6 340.2L994.2 343.4L991.4 346.4L988.1 349.4L985.7 351.6Z" fill="#6b6b6b"/>
<path d="M950.2 381.3L953.2 381.4L957.3 380.6L961.9 379.6L966.6 379.2L971.1 377.8L975.3 375.1L979.1 372.9L981.9 371.9L980.1 367.5L977.3 368.8L973.2 370.0L968.4 371.0L964.4 372.8L960.6 375.1L956.2 376.7L952.3 378.1L949.8 379.7Z" fill="#6b6b6b"/>
<path d="M1038.4 388.1L1040.3 385.0L1042.7 381.1L1043.6 378.1L1043.5 374.8L1045.5 371.9L1049.3 370.8L1053.1 369.8L1056.4 367.5L1059.7 366.0L1063.6 366.6L1067.5 366.4L1071.1 364.8L1074.3 364.9L1076.2 367.4L1076.9 370.4L1077.7 372.9L1079.4 375.4L1080.8 378.5L1080.6 381.6L1079.7 385.5L1079.8 389.3L1080.8 392.1L1093.2 391.9L1094.1 389.2L1094.2 385.2L1093.0 380.6L1091.8 376.3L1091.0 371.3L1089.6 366.5L1086.3 362.8L1081.8 360.6L1077.5 358.8L1073.5 356.0L1068.4 353.1L1062.6 352.9L1057.1 354.8L1051.6 356.3L1046.3 358.3L1042.7 362.4L1040.2 366.9L1037.0 370.3L1033.0 373.9L1031.9 379.4L1033.5 384.6L1035.0 387.9Z" fill="#6b6b6b"/>
<path d="M1057.0 377.3L1055.5 380.1L1054.1 384.1L1054.5 388.9L1055.7 393.5L1056.0 398.1L1056.2 403.1L1057.8 407.6L1060.6 411.2L1064.2 415.0L1067.8 418.7L1072.6 421.3L1078.2 420.7L1082.5 418.3L1085.4 417.3L1084.0 411.9L1081.2 412.3L1077.4 411.6L1075.2 410.7L1073.3 410.1L1070.6 408.7L1068.6 405.6L1067.6 402.6L1065.7 399.3L1062.9 396.0L1061.1 392.5L1061.4 388.6L1062.0 384.4L1061.0 380.4L1059.8 377.5Z" fill="#6b6b6b"/>
<path d="M1042.5 386.9L1042.9 389.9L1044.0 394.1L1046.2 397.9L1047.9 401.1L1049.4 405.6L1050.2 408.5L1051.2 408.3L1051.1 405.2L1050.1 400.3L1049.1 396.7L1047.8 392.4L1045.5 388.8L1043.5 386.5Z" fill="#6b6b6b"/>
<path d="M1018.2 428.0L1021.0 428.6L1024.9 429.6L1029.4 429.2L1033.6 426.7L1037.5 424.4L1041.1 423.1L1045.1 422.0L1048.6 420.3L1051.6 418.0L1054.3 416.0L1056.7 415.1L1061.6 414.2L1065.4 412.6L1068.2 411.1L1067.2 405.7L1064.0 405.2L1059.1 405.4L1053.9 407.9L1050.8 409.8L1047.5 411.5L1044.1 413.3L1041.2 415.7L1038.6 418.4L1035.9 420.2L1031.8 420.7L1027.3 420.5L1023.3 421.9L1020.1 424.3L1017.8 426.0Z" fill="#6b6b6b"/>
<path d="M1092.8 370.1L1096.3 370.2L1101.0 369.8L1104.5 370.5L1106.1 372.4L1108.2 374.3L1111.1 375.8L1114.4 377.8L1116.9 380.7L1118.3 383.1L1123.7 378.9L1121.7 376.9L1119.1 373.6L1116.9 369.8L1114.4 366.5L1110.6 364.1L1105.5 363.5L1100.3 364.5L1095.4 366.1L1092.2 367.9Z" fill="#6b6b6b"/>
<path d="M997.0 447.2L999.8 447.4L1004.0 448.1L1009.1 449.6L1013.4 448.0L1016.9 444.6L1020.2 443.4L1024.5 444.6L1028.1 445.7L1032.3 445.4L1037.0 445.1L1040.9 446.0L1044.8 446.8L1049.0 445.5L1052.9 442.5L1056.8 439.9L1060.8 438.7L1065.2 437.7L1068.8 435.5L1071.6 432.5L1074.4 430.6L1077.1 430.1L1081.9 429.0L1085.1 425.8L1087.6 423.4L1085.0 415.2L1081.5 414.7L1076.0 414.4L1070.7 417.9L1067.9 420.9L1064.7 423.2L1061.2 425.0L1058.3 427.5L1056.2 430.7L1053.8 432.7L1050.2 432.6L1046.6 431.2L1043.2 430.9L1039.8 432.2L1036.4 433.7L1032.6 433.6L1028.8 432.8L1024.2 433.4L1019.2 435.4L1014.9 435.7L1009.8 434.5L1005.0 435.4L1001.5 439.4L998.3 442.3L996.0 444.0Z" fill="#6b6b6b"/>
<path d="M1145.5 420.9L1147.3 423.1L1150.0 426.2L1153.4 428.9L1156.6 430.6L1160.5 432.4L1163.9 434.1L1166.2 435.3L1166.8 434.5L1165.0 432.7L1162.3 429.9L1159.4 426.8L1156.5 424.3L1152.8 422.1L1148.9 420.8L1146.1 419.9Z" fill="#6b6b6b"/>
<path d="M1190.4 445.4L1191.2 448.5L1193.2 452.5L1197.1 455.1L1202.3 454.0L1205.9 451.9L1205.5 450.9L1201.8 451.9L1197.9 451.7L1196.7 449.6L1194.0 446.6L1191.6 444.6Z" fill="#6b6b6b"/>
<path d="M192.8 513.4L195.3 515.0L198.9 517.1L203.5 518.4L208.2 519.5L212.1 520.7L214.9 521.4L215.1 520.6L212.6 519.3L208.8 517.7L204.5 515.6L200.1 513.6L196.0 512.9L193.2 512.6Z" fill="#6b6b6b"/>
<path d="M257.5 545.1L259.7 544.4L262.6 543.2L266.2 542.4L270.5 542.8L274.9 543.1L278.9 541.9L282.4 539.7L285.8 538.3L289.5 537.8L293.3 537.4L296.9 536.2L300.3 534.7L303.9 534.0L307.9 534.0L312.4 533.4L316.0 531.1L318.7 528.1L321.5 526.0L324.5 525.3L327.0 525.5L329.6 525.6L332.7 525.9L335.9 527.2L338.6 530.0L341.5 532.8L345.0 534.4L348.9 535.1L352.7 536.4L355.8 539.0L359.1 541.7L362.9 543.6L366.9 545.0L370.5 547.0L374.1 549.7L377.9 551.3L381.9 551.3L385.4 550.9L388.2 551.1L393.8 551.5L396.7 551.2L397.3 548.8L394.8 547.2L389.8 544.9L387.2 543.7L384.1 541.8L380.8 540.0L377.1 539.6L373.1 539.8L369.5 539.0L366.6 537.0L363.6 534.6L359.9 532.8L356.3 530.9L353.1 527.9L350.2 524.8L346.9 522.7L342.9 521.9L338.8 521.1L335.0 519.5L331.2 517.8L327.0 517.1L322.7 518.2L319.0 519.8L315.1 521.0L311.0 521.6L307.6 522.9L304.7 525.2L302.0 527.2L298.7 528.4L295.0 528.7L291.4 529.2L287.9 530.5L284.3 531.7L280.6 531.9L276.6 531.4L272.5 531.9L268.7 534.0L264.9 536.0L261.3 536.7L258.2 536.7L255.9 536.9Z" fill="#6b6b6b"/>
<path d="M368.1 530.2L370.3 531.5L373.7 532.8L377.8 533.1L381.9 534.0L385.6 535.4L388.8 536.4L394.3 535.7L397.1 534.3L396.9 533.1L394.3 532.3L389.2 531.0L386.4 531.0L382.5 531.0L378.4 530.2L374.5 528.9L370.9 528.7L368.3 529.0Z" fill="#6b6b6b"/>
<path d="M402.4 522.4L403.9 524.5L406.1 527.1L408.6 530.8L411.4 534.7L415.0 537.7L419.5 538.5L424.1 538.2L428.4 538.8L432.5 540.1L436.6 540.6L441.4 539.3L445.4 536.7L448.6 534.8L450.7 533.2L449.3 530.0L446.7 530.3L443.4 531.3L439.5 531.2L436.2 531.0L433.4 531.1L429.8 531.2L426.3 530.0L423.2 527.4L420.6 525.5L417.4 524.8L413.5 524.1L409.6 522.8L406.6 521.1L404.2 520.2Z" fill="#6b6b6b"/>
<path d="M440.6 534.9L443.3 534.6L447.2 534.5L451.9 534.8L455.6 532.5L458.4 529.2L461.2 526.6L464.5 525.3L468.2 524.6L471.8 523.4L475.1 521.2L478.5 519.3L482.8 518.4L487.2 517.1L490.5 514.3L493.0 511.3L495.1 509.6L492.3 504.0L489.8 504.6L485.8 504.8L481.5 505.6L477.9 508.3L474.4 511.2L470.9 512.8L467.1 514.2L464.0 516.4L461.3 519.0L458.3 520.9L454.6 521.6L450.2 521.9L446.3 523.5L443.7 527.5L441.2 530.6L439.4 532.5Z" fill="#6b6b6b"/>
<path d="M628.5 512.0L631.8 511.8L636.0 511.1L639.4 508.3L642.6 507.0L645.8 508.0L648.9 510.0L651.9 511.4L654.4 512.1L657.1 514.2L658.4 517.1L658.8 519.4L658.8 521.9L658.9 526.1L658.4 529.3L659.6 529.9L661.9 527.7L665.8 524.2L667.2 519.0L665.6 514.0L662.6 509.7L659.2 505.9L655.7 503.2L651.4 501.7L646.6 501.9L642.2 502.6L637.6 503.2L632.6 504.2L629.4 507.4L627.5 510.0Z" fill="#6b6b6b"/>
<path d="M627.0 521.7L626.8 525.7L628.2 531.0L632.3 535.1L635.7 538.0L639.0 541.3L642.9 542.8L645.9 543.0L647.1 541.0L645.3 538.4L642.3 535.9L638.2 534.6L635.7 532.3L634.4 527.8L631.8 523.7L629.0 520.9Z" fill="#6b6b6b"/>
<path d="M638.9 558.2L641.8 558.2L645.5 557.5L649.1 555.4L653.0 553.6L657.5 553.5L661.8 553.6L665.1 552.2L667.5 549.6L669.9 547.6L672.7 547.1L675.7 547.3L679.0 546.3L682.9 544.5L687.3 544.6L692.3 547.2L695.9 548.3L699.7 547.6L703.7 545.7L707.8 544.9L711.7 544.0L715.1 542.3L718.0 540.4L720.1 539.2L719.9 536.4L717.6 535.5L714.5 534.1L710.8 533.0L706.8 532.7L702.7 532.5L698.6 531.3L694.8 531.1L691.7 532.6L687.3 535.4L683.1 535.3L678.9 533.4L674.4 532.7L669.9 533.9L665.6 535.5L661.3 536.3L657.2 537.0L654.1 539.1L651.9 542.5L649.2 545.9L645.3 548.0L641.5 549.7L638.8 552.3L637.1 554.6Z" fill="#6b6b6b"/>
<path d="M629.5 574.4L631.4 576.4L634.2 578.8L638.0 580.3L642.2 580.6L645.4 582.3L649.6 585.7L653.2 587.3L656.2 587.6L659.5 588.8L662.9 591.0L665.7 592.6L668.3 590.4L667.3 587.4L665.0 583.2L661.8 578.8L657.4 575.8L652.7 575.1L647.6 575.7L644.2 575.0L640.8 572.6L637.0 571.3L633.2 571.3L630.5 571.6Z" fill="#6b6b6b"/>
<path d="M609.1 569.3L612.5 572.8L617.3 573.6L617.9 572.4L614.4 569.0L609.5 568.3Z" fill="#6b6b6b"/>
<path d="M710.5 540.6L712.9 540.7L716.3 541.1L720.6 542.6L725.1 544.0L728.5 541.7L731.5 538.8L735.3 537.6L739.5 538.7L743.6 539.2L747.7 538.2L751.9 537.8L756.2 538.9L760.3 539.6L764.2 537.8L768.0 534.9L772.3 534.2L775.8 535.2L779.4 536.1L782.9 535.6L786.5 534.8L790.0 535.2L793.3 536.6L796.2 537.3L800.4 535.9L804.6 534.0L808.5 534.6L812.2 537.1L816.0 538.6L819.3 538.8L822.8 539.4L826.1 541.4L829.7 543.6L833.9 544.1L838.4 542.5L842.6 539.8L846.5 538.2L850.6 537.9L854.4 537.5L857.5 536.0L860.7 533.8L864.5 532.2L868.8 531.7L872.0 530.0L873.8 526.7L877.2 520.6L879.9 518.2L878.7 515.8L875.2 516.6L868.2 515.9L864.4 515.5L861.2 517.2L858.5 520.3L855.2 522.3L851.5 523.2L848.2 524.8L845.6 527.6L843.3 530.1L840.5 530.7L837.6 529.1L835.7 527.3L833.2 526.7L829.8 527.2L826.1 527.2L822.4 526.0L818.8 524.6L814.5 524.6L810.1 525.5L806.0 524.8L801.8 521.8L797.2 519.7L793.4 520.2L789.6 521.8L785.9 522.5L782.1 522.1L778.4 522.1L774.9 523.5L771.7 525.0L767.2 524.9L762.7 522.8L758.5 521.9L754.6 523.4L750.7 525.4L746.6 525.7L742.5 525.4L738.3 526.6L734.1 528.5L729.7 528.6L725.3 527.2L720.9 526.8L717.4 530.2L714.3 533.6L711.6 535.7L709.5 537.0Z" fill="#6b6b6b"/>
<path d="M886.7 539.2L888.2 541.6L890.2 545.1L893.2 548.4L898.1 549.3L902.3 550.9L905.1 553.8L907.8 557.1L911.5 559.2L915.5 560.3L919.1 562.1L922.2 564.4L926.8 566.3L931.6 566.1L936.2 566.0L940.6 567.8L944.5 570.2L948.9 571.0L953.6 570.5L958.3 570.6L963.0 571.1L967.5 569.9L971.0 567.0L973.8 564.2L976.9 562.9L979.7 563.2L984.0 562.3L987.6 559.9L990.2 558.0L989.8 554.8L986.7 553.7L982.1 552.5L977.1 553.8L974.1 556.3L970.9 557.9L967.2 558.1L963.8 557.8L961.0 558.3L957.9 559.4L954.0 559.4L950.1 558.3L946.0 558.2L942.0 559.4L937.7 559.5L934.4 557.2L931.3 554.2L927.2 552.6L923.8 552.0L920.4 550.4L917.2 548.0L913.6 546.3L909.4 545.8L905.7 545.1L902.3 542.2L899.5 538.4L895.3 537.1L891.3 536.8L888.5 536.4Z" fill="#6b6b6b"/>
<path d="M960.2 564.3L963.2 564.7L967.2 564.8L972.0 566.5L976.6 568.3L980.3 567.7L983.1 566.3L986.4 566.0L989.7 567.3L993.1 569.0L996.9 569.7L1001.0 569.4L1005.4 569.6L1010.0 571.2L1014.7 572.2L1019.3 570.4L1023.4 567.2L1027.3 565.3L1031.6 564.2L1035.6 562.4L1038.7 559.7L1041.7 557.8L1044.6 557.6L1049.6 558.1L1052.0 557.1L1052.3 554.6L1056.6 555.8L1059.6 559.2L1062.4 557.8L1061.0 552.6L1057.7 545.8L1051.2 542.6L1045.5 543.1L1040.6 547.0L1037.6 549.5L1034.0 551.2L1030.0 552.5L1026.7 554.8L1023.8 557.2L1020.6 558.0L1016.5 556.9L1012.7 556.5L1009.2 558.2L1005.4 560.1L1001.6 560.0L998.8 558.9L995.7 558.1L992.2 557.9L988.6 557.3L985.0 555.5L980.9 553.3L975.7 552.8L970.7 555.4L966.3 558.4L962.4 559.7L959.8 560.9Z" fill="#6b6b6b"/>
<path d="M1003.4 590.1L1005.8 590.9L1009.3 592.3L1013.5 592.9L1018.0 592.4L1022.2 591.2L1025.6 590.5L1029.3 590.3L1033.1 590.2L1036.7 589.5L1040.1 588.5L1043.3 587.5L1048.0 586.4L1052.4 584.7L1055.3 581.7L1057.3 579.5L1056.7 578.5L1053.8 578.6L1049.8 579.1L1045.9 581.1L1041.9 583.1L1038.9 583.8L1035.5 584.4L1032.1 585.3L1028.6 586.5L1025.2 587.5L1021.8 587.6L1017.8 586.9L1013.5 586.5L1009.5 586.9L1005.9 588.0L1003.4 588.7Z" fill="#6b6b6b"/>
<path d="M1221.5 487.9L1221.5 490.3L1221.7 493.7L1221.9 497.7L1221.5 502.0L1220.5 506.5L1219.9 510.9L1220.0 515.0L1220.5 519.0L1220.8 523.3L1220.7 527.7L1220.8 531.9L1221.4 535.6L1222.1 538.7L1222.5 541.1L1225.5 540.9L1225.7 538.6L1226.1 535.4L1226.3 531.6L1226.0 527.5L1225.5 523.2L1225.6 518.9L1226.0 515.0L1226.2 511.0L1225.8 506.7L1225.2 502.2L1225.2 497.8L1225.8 493.9L1226.3 490.6L1226.5 488.1Z" fill="#6b6b6b"/>
<path d="M1186.4 526.5L1187.9 531.0L1192.8 534.9L1196.9 535.6L1201.2 536.5L1205.1 537.1L1207.9 536.8L1208.1 535.0L1205.6 533.8L1201.7 533.3L1197.7 532.5L1195.2 531.1L1191.3 527.6L1187.6 525.5Z" fill="#6b6b6b"/>
<path d="M1172.0 566.9L1174.6 568.0L1178.2 569.5L1182.1 569.1L1185.8 568.2L1189.6 568.2L1193.5 569.6L1197.1 569.7L1199.8 569.1L1200.2 566.9L1197.8 565.5L1194.3 564.4L1190.1 564.6L1186.2 563.8L1182.2 562.7L1178.1 562.3L1174.5 563.9L1172.0 565.1Z" fill="#6b6b6b"/>
<path d="M1146.0 601.7L1146.8 604.2L1147.5 607.7L1148.0 612.2L1149.8 616.2L1153.9 618.4L1158.0 620.8L1159.4 625.4L1160.4 629.9L1162.8 632.6L1165.8 635.0L1167.7 638.3L1168.3 642.5L1169.5 646.2L1173.0 648.3L1177.6 649.6L1180.8 651.9L1181.8 655.7L1182.0 659.6L1183.6 662.9L1186.4 666.0L1188.0 669.7L1187.6 674.4L1187.8 678.6L1190.1 681.5L1193.6 683.5L1196.5 685.2L1198.1 686.9L1209.9 681.1L1209.6 678.9L1210.1 675.7L1210.9 671.8L1210.1 668.0L1206.9 665.1L1202.9 662.4L1200.8 658.7L1199.8 654.4L1197.7 650.8L1194.2 648.3L1191.1 645.4L1190.1 641.3L1190.3 636.2L1189.2 632.0L1185.9 629.4L1181.9 627.5L1179.2 624.7L1177.7 621.2L1175.6 618.1L1171.3 615.9L1167.0 613.5L1165.3 608.9L1163.7 604.3L1160.1 601.9L1155.7 600.7L1152.3 599.5L1150.0 598.3Z" fill="#6b6b6b"/>
<path d="M1159.5 621.0L1160.0 623.4L1160.6 626.9L1161.4 631.0L1163.8 634.4L1168.2 636.3L1171.5 639.0L1173.3 642.3L1175.1 645.9L1177.6 648.7L1180.9 650.4L1183.9 652.4L1186.0 655.3L1187.7 658.2L1190.6 660.4L1194.7 661.7L1198.6 663.4L1200.9 666.6L1202.5 670.6L1204.8 674.0L1209.0 676.6L1213.1 679.3L1216.0 683.0L1218.8 685.7L1221.3 686.5L1230.3 673.5L1228.4 671.3L1224.9 669.8L1220.6 668.6L1217.2 665.9L1214.4 662.8L1211.4 661.3L1207.7 660.0L1204.8 657.6L1203.3 653.6L1202.0 649.1L1199.1 645.8L1195.6 644.1L1192.1 642.4L1189.5 639.8L1187.1 637.0L1184.1 635.2L1180.6 634.3L1177.5 633.0L1175.3 629.9L1174.4 625.6L1171.7 622.8L1168.0 621.1L1164.8 619.7L1162.5 618.6Z" fill="#6b6b6b"/>
<path d="M1168.6 663.7L1170.2 665.9L1172.5 668.8L1176.1 670.6L1180.3 671.9L1184.1 673.5L1187.0 675.7L1190.6 678.7L1194.5 680.9L1197.9 682.3L1200.2 683.4L1202.8 678.6L1200.5 677.3L1197.4 675.3L1193.5 673.3L1189.0 671.9L1185.7 670.6L1182.4 668.2L1179.2 665.3L1175.8 663.1L1172.1 662.6L1169.4 662.3Z" fill="#6b6b6b"/>
<path d="M438.5 291.8L440.8 293.6L443.4 297.1L446.6 301.0L451.4 303.2L456.0 304.0L460.4 305.1L464.7 306.4L469.2 306.5L473.7 304.9L476.9 303.5L480.2 302.1L483.5 300.8L486.4 298.9L488.8 296.2L492.0 293.6L495.3 292.9L499.5 293.4L503.9 293.4L508.4 292.5L512.9 292.5L516.9 293.3L520.4 293.4L522.9 292.6L522.3 286.0L519.9 285.6L516.5 286.1L512.5 287.3L508.1 287.9L503.4 287.8L498.9 288.7L494.9 290.4L491.2 291.2L486.7 291.4L482.4 292.4L479.2 294.7L477.0 297.4L474.8 299.5L472.3 300.5L468.3 301.0L464.6 301.8L460.8 302.6L457.0 301.4L454.5 298.4L451.6 294.8L447.5 292.4L443.7 290.2L441.5 288.2Z" fill="#757575"/>
<path d="M687.5 312.6L690.4 314.7L694.0 318.3L697.0 322.6L700.2 325.5L704.5 326.8L709.5 326.6L712.7 326.5L716.0 326.6L719.7 326.5L723.7 325.6L728.2 324.4L731.4 324.5L735.1 325.1L739.1 325.0L743.0 323.5L746.8 321.6L750.7 320.8L754.4 321.0L757.6 320.8L759.9 320.4L766.2 320.4L768.6 321.3L769.4 319.9L766.8 317.9L760.1 316.2L757.1 316.2L753.9 316.9L750.3 318.0L746.4 318.4L742.1 317.8L737.9 317.5L734.1 318.7L730.8 320.4L727.8 321.4L723.0 321.6L719.0 322.0L715.6 323.0L712.6 323.7L709.9 323.4L706.6 321.2L704.2 319.0L701.0 317.4L696.4 315.6L692.7 312.3L690.5 309.4Z" fill="#757575"/>
<path d="M667.5 301.2L668.0 304.3L669.6 308.3L671.1 312.3L671.9 316.4L673.4 320.1L675.3 322.3L676.7 321.7L676.6 318.8L675.1 315.1L672.9 311.7L671.4 307.7L670.1 303.5L668.5 300.8Z" fill="#757575"/>
<path d="M723.9 297.5L727.2 299.4L730.9 299.1L731.1 297.9L727.8 296.1L724.1 296.5Z" fill="#757575"/>
<path d="M474.1 397.4L477.7 396.9L482.4 395.5L486.3 393.4L490.8 391.5L494.1 390.7L493.9 390.3L490.7 390.9L485.7 391.6L481.3 392.4L476.8 394.6L473.9 396.6Z" fill="#757575"/>
<path d="M725.9 296.5L730.3 298.5L734.9 297.8L735.1 296.2L730.7 294.5L726.1 295.5Z" fill="#757575"/>
<path d="M825.7 292.1L828.9 291.6L833.4 291.2L837.8 292.4L842.0 293.8L846.8 293.3L850.3 292.8L850.5 292.0L847.5 290.1L843.2 287.6L838.2 287.6L833.4 288.6L828.7 288.7L825.5 288.5Z" fill="#757575"/>
<path d="M854.6 383.8L857.4 384.1L861.4 384.9L866.1 385.4L870.9 384.2L875.2 382.2L878.7 381.4L882.5 381.6L886.3 381.6L889.9 380.9L893.3 379.7L896.5 378.9L900.8 377.9L904.5 376.3L907.3 373.5L909.3 369.8L911.0 366.0L913.2 362.4L915.7 359.0L918.2 355.7L920.5 352.8L923.8 350.4L927.8 348.6L931.2 346.6L933.9 344.0L937.5 341.5L941.7 341.0L945.6 341.6L949.0 342.0L952.4 342.7L955.4 344.6L957.6 347.4L959.3 350.0L961.5 352.6L964.1 355.7L965.3 359.3L964.7 362.2L962.8 364.1L959.9 366.1L956.7 368.1L953.5 369.5L949.6 369.3L945.1 367.4L940.8 365.7L937.3 365.8L936.7 367.6L939.4 369.8L943.9 371.2L949.2 371.7L953.7 372.1L958.0 371.4L962.2 369.6L965.5 366.6L967.3 363.0L967.4 359.2L967.1 354.8L966.5 350.1L964.7 346.0L961.5 343.2L957.6 341.2L953.8 339.4L950.0 337.8L945.7 337.3L941.3 338.3L936.9 339.5L932.1 340.0L927.9 341.0L924.2 343.5L921.2 347.1L918.1 350.2L914.8 352.9L912.1 356.8L910.8 361.2L909.4 365.1L906.7 367.8L903.6 369.3L900.8 370.8L898.3 372.9L895.1 375.1L892.3 376.1L889.0 376.5L885.5 377.1L882.0 378.3L878.4 379.5L874.8 379.8L870.2 379.0L865.5 378.8L861.0 380.2L857.2 381.7L854.4 382.6Z" fill="#757575"/>
<path d="M986.2 352.3L989.1 350.9L993.3 349.0L997.4 346.3L1000.2 342.4L1001.8 337.9L1003.5 334.4L1006.9 331.3L1009.2 329.3L1008.8 328.7L1006.0 330.3L1002.5 333.6L999.9 336.8L997.0 340.4L994.6 343.7L991.7 346.8L988.3 349.7L985.8 351.7Z" fill="#757575"/>
<path d="M950.2 381.1L953.1 380.9L957.1 379.7L961.7 378.7L966.4 378.5L970.8 377.2L975.0 374.4L978.7 372.1L981.6 371.1L980.4 368.3L977.7 369.6L973.5 370.8L968.6 371.6L964.6 373.5L960.8 376.0L956.5 377.6L952.5 378.6L949.8 379.9Z" fill="#757575"/>
<path d="M1042.6 386.9L1043.2 389.8L1044.4 393.9L1046.7 397.7L1048.5 400.9L1049.8 405.5L1050.4 408.5L1051.0 408.3L1050.7 405.3L1049.5 400.5L1048.6 396.9L1047.4 392.6L1045.2 388.9L1043.4 386.5Z" fill="#757575"/>
<path d="M1018.2 427.7L1020.9 428.2L1024.8 429.1L1029.1 428.2L1033.2 425.6L1037.0 423.1L1040.6 422.0L1044.5 421.1L1048.1 419.5L1051.0 417.1L1053.8 415.1L1056.4 414.1L1061.3 413.3L1065.2 411.6L1068.0 409.9L1067.4 406.9L1064.2 406.2L1059.4 406.2L1054.2 408.9L1051.3 410.8L1048.1 412.4L1044.7 414.1L1041.8 416.6L1039.2 419.5L1036.4 421.5L1032.1 421.8L1027.5 421.5L1023.4 422.4L1020.2 424.7L1017.8 426.3Z" fill="#757575"/>
<path d="M1092.7 369.7L1096.2 369.7L1100.8 368.6L1104.6 369.5L1106.5 371.6L1108.7 373.6L1111.8 375.1L1115.2 377.0L1117.8 380.0L1119.2 382.4L1122.8 379.6L1120.7 377.6L1118.3 374.3L1116.2 370.5L1113.8 367.2L1110.1 364.9L1105.4 364.5L1100.4 365.7L1095.5 366.7L1092.3 368.3Z" fill="#757575"/>
<path d="M1145.6 420.7L1147.5 422.7L1150.3 425.7L1153.6 428.4L1157.0 430.2L1160.9 431.8L1164.2 433.7L1166.3 435.1L1166.7 434.7L1164.7 433.1L1161.9 430.5L1159.0 427.2L1156.2 424.7L1152.4 422.6L1148.6 421.1L1146.0 420.1Z" fill="#757575"/>
<path d="M1190.6 445.3L1191.5 448.3L1193.7 452.1L1197.2 454.4L1202.1 453.4L1205.8 451.7L1205.6 451.1L1201.9 452.5L1197.8 452.4L1196.2 450.0L1193.7 446.9L1191.4 444.7Z" fill="#757575"/>
<path d="M192.9 513.3L195.4 514.8L199.0 516.7L203.7 517.9L208.3 519.0L212.2 520.4L214.9 521.3L215.1 520.7L212.5 519.7L208.6 518.3L204.3 516.1L200.0 514.0L195.9 513.2L193.1 512.7Z" fill="#757575"/>
<path d="M368.1 530.1L370.4 531.1L373.8 532.1L378.0 532.3L382.1 533.3L385.7 534.8L388.8 535.9L394.3 535.3L397.0 534.2L397.0 533.2L394.3 532.6L389.2 531.5L386.3 531.6L382.4 531.7L378.2 531.0L374.3 529.5L370.8 529.1L368.3 529.1Z" fill="#757575"/>
<path d="M628.4 511.7L631.6 511.6L635.6 510.3L639.0 507.2L642.5 505.7L645.9 506.9L649.1 509.1L652.2 510.6L655.0 511.3L657.9 513.5L659.3 516.7L659.8 519.3L659.7 522.2L659.4 526.4L658.7 529.5L659.3 529.7L661.4 527.4L664.8 523.9L666.2 519.1L664.7 514.4L661.8 510.4L658.6 506.7L655.3 504.0L651.1 502.6L646.5 503.1L642.3 503.9L638.0 504.3L633.0 505.0L629.6 507.7L627.6 510.3Z" fill="#757575"/>
<path d="M627.3 521.6L627.2 525.5L629.1 530.6L633.2 534.4L636.4 537.0L639.5 540.5L643.0 542.5L646.0 542.8L647.0 541.2L645.2 538.7L641.8 536.8L637.5 535.5L634.8 533.0L633.5 528.3L631.4 523.8L628.7 521.0Z" fill="#757575"/>
<path d="M629.6 574.0L631.5 576.1L634.3 578.5L638.5 578.9L642.8 579.0L645.9 580.7L650.0 584.4L653.7 586.2L656.9 586.5L660.0 588.3L663.2 590.8L666.0 592.3L668.0 590.7L667.0 587.6L664.6 583.6L661.1 579.9L657.0 576.9L652.3 576.3L647.1 577.3L643.6 576.6L640.3 574.0L636.9 571.6L633.1 571.6L630.4 572.0Z" fill="#757575"/>
<path d="M609.1 569.1L612.7 572.4L617.4 573.4L617.8 572.6L614.2 569.4L609.5 568.5Z" fill="#757575"/>
<path d="M1003.4 589.9L1005.9 590.5L1009.3 591.6L1013.5 592.3L1017.9 591.8L1022.1 590.4L1025.5 589.6L1029.1 589.5L1032.9 589.5L1036.6 588.9L1039.9 587.8L1043.1 586.8L1047.8 585.8L1052.2 584.2L1055.1 581.3L1057.2 579.3L1056.8 578.7L1054.0 579.1L1050.0 579.6L1046.2 581.7L1042.1 583.8L1039.1 584.5L1035.7 585.1L1032.2 586.0L1028.8 587.3L1025.3 588.3L1021.9 588.4L1017.8 587.5L1013.5 587.1L1009.5 587.6L1005.9 588.5L1003.4 588.9Z" fill="#757575"/>
<path d="M1186.6 526.3L1188.3 530.6L1193.2 534.2L1197.2 534.8L1201.3 535.7L1205.1 536.6L1207.9 536.6L1208.1 535.2L1205.5 534.3L1201.6 534.1L1197.5 533.4L1194.8 531.8L1190.9 528.0L1187.4 525.7Z" fill="#757575"/>
<path d="M1146.6 601.1L1147.5 603.6L1148.0 607.3L1148.1 612.1L1150.1 615.9L1156.0 616.7L1160.5 618.8L1161.7 623.6L1162.5 628.3L1164.9 631.0L1168.0 633.3L1169.9 636.6L1170.2 641.1L1171.3 644.9L1175.0 646.9L1180.0 648.0L1183.5 650.2L1184.3 654.2L1184.3 658.2L1185.9 661.7L1188.9 664.7L1190.5 668.5L1189.8 673.3L1189.7 677.7L1192.2 680.5L1196.1 682.3L1199.2 683.9L1200.8 685.5L1207.2 682.5L1206.9 680.2L1207.7 676.8L1208.8 672.7L1208.2 668.9L1204.7 666.2L1200.4 663.6L1198.3 659.9L1197.5 655.6L1195.3 652.1L1191.7 649.8L1188.4 647.2L1187.6 642.9L1188.3 637.6L1187.5 633.2L1184.0 630.8L1179.8 629.2L1177.0 626.4L1175.6 622.8L1173.5 619.7L1169.1 617.7L1164.5 615.5L1163.2 610.6L1163.4 604.6L1160.0 602.0L1155.2 601.1L1151.6 600.0L1149.4 598.9Z" fill="#757575"/>
<path d="M1168.7 663.5L1170.4 665.4L1172.8 668.2L1176.5 670.0L1180.8 671.1L1184.6 672.7L1187.4 674.9L1191.0 678.1L1194.8 680.2L1198.3 681.6L1200.6 682.7L1202.4 679.3L1200.1 678.0L1197.1 675.9L1193.2 674.0L1188.6 672.7L1185.3 671.5L1182.0 669.0L1178.8 665.9L1175.4 663.7L1171.8 663.0L1169.3 662.5Z" fill="#757575"/>
<path d="M547.9 314.5L550.7 315.9L554.8 318.0L559.8 319.1L565.0 319.2L569.4 319.2L574.2 318.9L578.7 317.6L582.4 315.6L585.1 314.5L584.9 313.5L582.0 313.4L577.9 313.0L573.3 313.3L568.9 314.3L565.0 314.8L560.5 314.1L555.7 313.3L551.3 313.4L548.1 313.5Z" fill="#808080"/>
<path d="M973.2 336.0L972.4 339.2L971.3 343.9L971.7 349.0L973.5 353.7L974.9 358.0L975.3 361.1L986.7 356.9L985.1 354.4L983.6 350.6L983.3 347.0L982.9 343.3L981.6 339.1L980.8 336.0Z" fill="#808080"/>
<path d="M974.9 342.3L974.4 345.1L973.7 349.4L973.8 353.5L974.4 356.4L984.6 355.6L984.8 352.8L984.3 348.6L983.0 344.5L982.1 341.7Z" fill="#808080"/>
<path d="M992.6 330.2L995.5 329.3L999.2 327.9L1001.2 327.0L1005.0 326.1L1008.9 326.2L1011.6 326.2L1010.4 314.8L1007.7 315.4L1003.8 316.3L999.4 316.5L994.8 317.1L989.8 320.4L987.4 323.8Z" fill="#808080"/>
<path d="M1046.2 373.0L1050.4 372.7L1053.9 370.3L1058.2 368.5L1061.4 364.9L1060.6 362.1L1055.7 360.8L1050.1 362.7L1045.4 365.7L1043.8 370.0Z" fill="#808080"/>
<path d="M579.7 499.7L581.0 502.3L583.1 505.7L586.4 508.6L590.4 510.6L593.3 512.9L596.6 515.4L600.7 516.9L604.7 518.1L607.8 519.9L612.1 522.5L616.1 523.1L619.0 522.8L620.2 519.8L618.2 517.7L615.1 515.6L610.8 514.1L608.0 512.5L605.2 509.6L602.2 506.7L598.6 504.7L595.2 503.0L591.8 500.3L588.0 498.4L584.0 497.8L581.1 497.5Z" fill="#808080"/>
<path d="M783.0 529.7L786.1 530.4L790.5 531.1L795.3 531.6L799.8 531.8L804.3 531.9L809.0 533.2L813.5 533.3L816.8 532.3L817.2 529.7L814.4 527.7L810.1 526.3L805.0 526.1L800.2 525.2L795.4 525.0L790.4 525.6L786.0 526.5L783.0 527.3Z" fill="#808080"/>
<path d="M1079.6 566.9L1081.9 566.6L1085.0 566.3L1088.9 566.8L1093.2 567.5L1097.0 566.6L1100.7 565.3L1104.4 565.6L1107.5 566.5L1110.6 566.3L1113.6 564.5L1116.7 562.4L1120.1 561.5L1123.8 562.3L1127.7 563.2L1131.6 562.8L1134.9 561.9L1138.3 561.8L1142.0 562.8L1145.7 563.5L1149.3 562.3L1152.7 559.9L1156.2 558.4L1159.7 558.8L1163.1 559.9L1166.2 560.3L1170.0 559.7L1173.8 559.5L1177.6 560.8L1181.1 562.0L1184.5 561.6L1187.7 560.1L1190.7 558.9L1192.6 559.0L1196.4 562.2L1198.4 564.4L1200.7 565.6L1209.3 553.8L1207.2 551.7L1202.3 549.4L1195.4 549.0L1192.1 548.3L1189.0 546.5L1185.6 544.4L1181.9 543.6L1178.0 544.6L1173.9 545.7L1169.9 545.6L1165.8 545.1L1162.4 545.7L1159.0 547.2L1155.4 548.1L1151.6 547.2L1147.7 545.4L1144.0 544.9L1140.4 546.3L1137.0 547.9L1133.6 548.5L1130.4 548.2L1126.6 548.4L1123.0 549.8L1119.5 551.0L1115.9 550.6L1112.2 549.0L1108.5 547.9L1105.0 548.5L1101.6 550.4L1097.6 552.4L1093.3 553.1L1089.2 554.6L1085.9 557.7L1083.0 560.4L1080.4 562.1L1078.4 563.1Z" fill="#808080"/>
<path d="M1127.0 557.4L1129.2 558.7L1132.2 560.5L1135.8 562.1L1139.8 562.6L1144.0 563.1L1148.3 563.9L1152.5 563.6L1156.0 561.9L1159.6 559.9L1163.4 559.7L1167.4 561.1L1171.2 562.1L1174.6 561.6L1177.6 560.4L1180.1 559.9L1185.0 560.9L1189.5 560.8L1193.5 559.4L1196.4 558.9L1197.6 549.1L1194.9 548.0L1191.0 545.6L1185.8 544.6L1179.9 545.5L1176.4 545.4L1172.9 544.8L1169.2 545.0L1165.6 546.9L1162.1 549.2L1158.5 549.8L1154.9 548.6L1151.5 547.4L1147.8 547.5L1143.8 548.4L1139.8 548.9L1135.8 549.5L1132.3 551.0L1129.3 552.8L1127.0 554.0Z" fill="#808080"/>
<path d="M1192.2 647.6L1195.2 649.4L1198.7 652.6L1201.0 656.9L1203.5 660.7L1207.3 663.7L1211.1 667.2L1213.6 671.6L1216.6 675.9L1220.8 677.6L1224.1 678.3L1231.9 667.7L1230.3 664.8L1227.5 661.4L1222.9 659.9L1218.9 658.8L1216.0 655.6L1213.9 651.9L1211.0 649.1L1207.7 646.0L1206.0 641.8L1205.4 638.4Z" fill="#808080"/>
<path d="M1196.1 618.7L1196.4 622.0L1196.0 626.9L1195.1 632.2L1195.5 637.6L1197.5 642.2L1199.0 645.2L1207.0 642.8L1206.6 639.5L1205.9 635.3L1204.9 631.8L1204.7 628.2L1206.2 624.2L1207.9 621.3Z" fill="#808080"/>
<path d="M326.6 291.9L328.5 294.3L331.0 298.2L335.7 299.6L341.0 299.3L345.4 300.0L349.9 301.0L354.6 301.0L358.2 299.2L361.0 297.7L363.0 298.0L364.5 299.9L366.9 302.3L371.1 304.4L374.9 307.0L377.2 310.4L379.6 314.7L382.8 317.5L386.0 318.9L388.2 319.8L391.8 314.2L390.0 312.5L387.5 310.3L384.1 308.6L379.8 307.6L376.8 305.4L375.1 301.1L373.5 296.3L369.9 292.7L365.0 291.0L360.1 291.0L355.5 291.5L351.6 292.9L348.6 295.4L345.6 297.2L342.0 296.1L338.8 292.5L335.1 289.9L330.6 290.1L327.4 290.1Z" fill="#858585"/>
<path d="M468.1 303.3L470.7 302.9L474.3 302.2L478.1 300.5L481.8 298.2L485.2 296.4L489.6 295.3L494.1 294.3L497.9 292.9L500.5 291.8L499.5 289.2L496.8 290.0L493.0 291.3L488.9 293.5L484.8 295.6L481.1 296.7L476.9 297.6L473.0 299.0L470.0 301.2L467.9 302.7Z" fill="#858585"/>
<path d="M532.7 309.9L534.9 311.5L538.1 312.8L542.1 314.5L545.9 317.8L550.2 320.2L554.9 319.8L558.7 319.0L562.4 319.0L566.0 319.8L569.7 320.2L573.4 319.3L577.1 318.4L580.9 318.5L585.2 319.2L589.5 318.9L593.1 316.4L596.3 313.3L599.7 311.5L603.3 310.7L606.3 309.7L610.3 307.0L613.6 304.7L616.4 303.0L618.1 301.6L617.1 299.6L614.9 300.2L612.0 301.6L608.3 302.8L603.7 303.9L601.0 305.4L598.0 307.5L594.3 308.7L590.1 308.7L586.1 309.0L582.9 311.1L579.9 313.5L576.6 314.7L573.1 314.4L569.6 313.9L566.2 314.1L562.7 314.5L559.3 313.9L556.3 312.2L552.7 310.1L548.3 310.0L543.4 310.5L539.4 309.3L536.0 308.2L533.3 308.1Z" fill="#858585"/>
<path d="M637.2 302.6L640.9 304.0L645.3 304.8L647.9 307.8L647.7 311.9L645.4 314.9L643.1 317.3L640.5 319.4L637.1 320.5L633.9 319.3L631.8 316.8L630.7 313.7L629.1 310.2L628.8 306.4L630.8 303.5L634.9 303.1L638.6 302.7L637.4 297.3L633.5 298.5L629.2 301.5L626.4 305.3L623.9 309.8L623.4 315.7L626.2 321.2L631.4 324.2L636.9 325.5L642.5 325.1L647.9 322.7L651.0 317.7L651.3 312.1L649.7 307.1L647.7 302.2L643.2 298.5L638.8 297.4Z" fill="#858585"/>
<path d="M631.7 307.5L633.2 310.4L636.0 313.8L638.6 315.9L641.4 314.1L640.4 310.9L638.3 307.0L636.3 304.5Z" fill="#858585"/>
<path d="M675.4 299.2L678.7 300.1L682.7 301.7L684.8 305.9L686.0 309.7L694.0 302.3L690.1 300.6L685.3 298.3L681.5 295.2L678.6 292.8Z" fill="#858585"/>
<path d="M703.9 323.3L707.0 324.4L711.4 325.8L716.0 327.0L720.7 326.4L725.0 324.4L728.0 323.2L728.0 322.8L724.7 323.0L720.2 322.7L716.0 323.0L711.7 323.3L707.3 323.0L704.1 322.7Z" fill="#858585"/>
<path d="M852.8 294.3L856.0 297.3L859.5 303.2L865.6 306.0L870.8 304.3L873.2 295.7L870.3 291.8L866.5 290.8L861.9 290.4L859.2 287.7Z" fill="#858585"/>
<path d="M868.1 382.5L870.4 382.7L873.7 383.4L877.5 383.4L881.5 382.5L885.5 380.6L889.4 379.3L893.2 379.1L896.5 378.9L901.1 377.2L904.4 374.8L907.0 372.5L909.8 370.2L913.2 366.5L914.2 361.6L914.4 358.2L913.6 357.8L911.2 360.2L908.2 363.5L906.2 367.4L904.5 369.8L902.2 371.8L899.1 373.3L895.1 375.1L892.6 376.5L889.2 377.9L885.1 378.1L880.7 377.6L876.7 377.8L873.0 379.0L870.1 380.5L867.9 381.5Z" fill="#858585"/>
<path d="M962.1 379.3L965.8 378.4L970.8 376.8L975.5 375.8L980.3 373.6L983.2 371.3L982.8 370.7L979.3 371.3L974.5 373.2L970.3 375.4L965.4 377.2L961.9 378.7Z" fill="#858585"/>
<path d="M990.5 325.4L993.0 324.6L996.8 324.2L1001.2 324.5L1005.3 323.7L1008.8 321.7L1011.6 320.8L1014.8 322.5L1016.7 325.8L1018.5 329.0L1020.6 331.9L1021.8 335.2L1021.5 339.1L1020.5 342.6L1020.1 345.4L1019.9 349.1L1018.6 352.8L1015.5 355.8L1012.2 357.1L1008.5 358.3L1004.7 360.0L1000.6 362.0L996.9 363.3L992.5 363.6L988.1 363.0L984.7 362.2L982.6 361.8L980.3 360.5L978.1 357.8L977.1 353.9L977.0 350.2L976.8 347.1L976.1 344.3L975.3 341.2L975.8 337.6L978.4 335.1L982.5 332.8L986.1 329.7L989.2 326.7L991.7 325.1L988.3 320.9L986.2 323.1L982.6 325.5L978.8 328.6L976.0 332.9L973.8 336.4L971.2 339.8L969.1 343.7L968.4 347.9L969.4 351.8L971.3 355.8L973.4 360.1L975.6 364.6L979.4 368.2L983.9 369.3L988.5 368.5L993.0 366.7L997.3 365.4L1001.4 365.0L1006.1 364.8L1010.6 363.6L1014.5 361.4L1017.7 358.8L1021.6 355.6L1025.5 352.2L1028.5 347.6L1029.1 343.1L1027.9 338.5L1026.3 334.2L1025.0 330.1L1023.5 326.0L1020.7 322.4L1016.6 319.9L1012.4 318.2L1008.7 316.8L1004.1 315.6L999.5 316.5L995.5 318.9L992.0 320.3L989.5 320.6Z" fill="#858585"/>
<path d="M982.6 331.9L985.4 333.5L988.2 336.5L988.3 338.4L987.1 340.5L985.5 345.1L984.3 348.9L987.7 351.1L990.7 348.3L994.6 343.8L995.7 337.6L992.0 333.0L987.8 330.4L985.4 328.1Z" fill="#858585"/>
<path d="M1037.9 388.1L1039.9 385.0L1042.5 381.1L1042.0 377.4L1041.8 373.7L1044.0 370.5L1048.2 369.4L1052.4 368.5L1055.7 366.0L1059.3 364.3L1063.5 365.0L1067.6 364.8L1071.6 363.0L1075.3 363.1L1077.4 365.9L1078.2 369.4L1079.1 372.2L1080.9 374.8L1082.5 378.2L1082.2 381.5L1081.1 385.5L1081.3 389.3L1082.4 392.1L1091.6 391.9L1092.7 389.2L1092.8 385.2L1091.4 380.8L1090.1 376.6L1089.5 371.9L1088.3 367.3L1085.0 363.8L1080.6 362.0L1076.6 360.6L1073.0 357.8L1068.3 354.6L1062.7 354.4L1057.5 356.5L1052.2 357.8L1047.1 359.6L1043.8 363.8L1041.7 368.3L1038.7 371.5L1034.6 374.6L1032.1 379.4L1033.9 384.6L1035.5 387.9Z" fill="#858585"/>
<path d="M1057.4 377.3L1055.9 380.1L1054.6 384.1L1056.0 388.8L1057.3 393.2L1057.5 397.7L1057.3 402.6L1058.8 407.1L1061.6 410.5L1065.2 414.1L1068.5 417.7L1072.9 420.1L1078.1 419.3L1082.2 416.7L1085.0 415.7L1084.4 413.5L1081.5 413.9L1077.5 413.0L1074.9 411.9L1072.7 411.2L1069.7 409.6L1067.6 406.3L1066.6 403.1L1064.5 399.8L1061.4 396.4L1059.5 392.8L1059.9 388.7L1061.4 384.4L1060.6 380.3L1059.4 377.5Z" fill="#858585"/>
<path d="M996.8 446.7L999.7 446.8L1003.9 447.6L1008.8 448.8L1012.9 446.4L1016.5 442.6L1019.9 441.3L1024.4 442.8L1028.2 443.9L1032.4 443.6L1036.9 443.3L1040.7 444.4L1044.7 445.3L1048.7 443.9L1052.4 440.6L1056.0 437.9L1059.8 437.0L1064.2 436.2L1067.8 434.1L1070.5 431.1L1073.4 429.1L1076.3 428.6L1081.3 427.7L1084.6 424.1L1087.0 421.4L1085.6 417.2L1082.1 416.4L1076.6 415.7L1071.5 419.4L1068.9 422.4L1065.8 424.7L1062.2 426.4L1059.3 429.0L1057.2 432.4L1054.6 434.7L1050.7 434.5L1046.8 432.8L1043.4 432.4L1039.9 433.9L1036.5 435.5L1032.6 435.4L1028.7 434.5L1024.3 435.3L1019.5 437.5L1015.4 437.7L1010.2 436.0L1005.2 436.2L1001.6 439.9L998.5 442.9L996.2 444.5Z" fill="#858585"/>
<path d="M257.3 543.9L259.5 543.1L262.4 541.8L266.0 541.0L270.2 541.6L274.7 542.2L278.7 540.8L282.1 538.5L285.5 536.9L289.2 536.5L293.0 536.2L296.6 534.9L300.0 533.3L303.6 532.7L307.5 532.9L311.9 532.5L315.5 530.2L318.1 527.0L321.0 524.7L324.1 524.0L327.0 524.2L329.9 524.3L333.2 524.6L336.4 526.0L339.2 528.9L341.9 532.0L345.5 533.5L349.6 534.0L353.4 535.3L356.6 537.9L359.8 540.7L363.6 542.4L367.4 543.7L371.0 545.8L374.4 548.6L378.2 550.3L382.1 550.2L385.7 549.6L388.5 549.8L393.9 551.1L396.8 550.9L397.2 549.1L394.7 547.7L389.5 546.2L386.8 545.0L383.9 542.9L380.6 541.0L376.8 540.6L372.6 541.0L369.0 540.3L365.9 538.1L362.9 535.7L359.2 534.0L355.5 532.1L352.5 529.0L349.7 525.7L346.4 523.6L342.3 522.9L338.2 522.3L334.6 520.8L331.0 519.0L327.0 518.4L323.1 519.5L319.5 521.1L315.7 522.1L311.5 522.6L308.0 523.8L305.1 526.3L302.4 528.5L299.0 529.8L295.4 530.0L291.7 530.5L288.2 531.8L284.6 533.0L280.9 533.1L276.8 532.5L272.7 532.9L268.9 535.2L265.2 537.4L261.6 538.0L258.4 538.0L256.1 538.1Z" fill="#858585"/>
<path d="M402.7 522.1L404.2 524.1L406.7 526.5L409.5 529.5L412.0 533.6L415.5 536.6L419.9 537.3L424.5 536.8L428.7 537.2L432.6 538.6L436.6 539.1L441.0 537.7L445.1 535.9L448.4 534.3L450.5 532.9L449.5 530.3L446.9 530.8L443.7 532.1L439.9 532.7L436.2 532.5L433.3 532.6L429.5 532.8L425.9 531.5L422.8 528.6L420.1 526.6L416.8 525.9L412.6 525.3L409.0 523.5L406.2 521.5L403.9 520.5Z" fill="#858585"/>
<path d="M440.4 534.5L443.0 534.1L447.0 534.1L451.4 533.7L455.1 531.4L457.7 527.8L460.4 525.1L463.8 523.8L467.5 523.3L471.1 522.2L474.4 519.9L477.8 518.0L482.3 517.2L486.7 516.1L489.9 513.0L492.3 509.8L494.3 508.1L493.1 505.5L490.5 506.0L486.4 506.0L482.1 506.7L478.5 509.5L475.1 512.6L471.6 514.1L467.7 515.4L464.7 517.7L462.0 520.5L459.1 522.4L455.3 523.0L450.8 523.0L446.8 524.5L443.9 527.9L441.5 531.0L439.6 532.9Z" fill="#858585"/>
<path d="M638.7 557.7L641.6 557.8L645.2 557.0L648.4 554.1L652.0 551.5L656.5 551.7L661.0 552.1L664.4 550.7L666.7 547.9L669.2 545.7L672.3 545.2L675.5 545.4L679.0 544.3L683.0 542.2L687.3 542.3L692.2 545.3L695.8 546.7L699.6 545.8L703.5 543.7L707.6 543.2L711.6 543.5L715.1 541.7L717.9 539.7L720.1 538.5L719.9 537.1L717.7 536.3L714.5 534.7L710.8 533.5L707.0 534.4L702.8 534.5L698.7 533.0L694.9 532.7L691.8 534.5L687.3 537.7L683.0 537.6L678.9 535.4L674.6 534.5L670.3 535.8L666.3 537.4L662.0 538.0L657.9 538.5L654.9 540.6L652.9 544.3L650.2 548.0L646.0 549.3L641.8 550.2L639.0 552.7L637.3 555.1Z" fill="#858585"/>
<path d="M710.3 540.0L712.7 540.0L716.2 540.4L720.6 542.3L724.7 542.5L728.1 539.9L731.1 536.6L735.0 535.3L739.3 536.6L743.4 537.3L747.5 536.2L751.7 535.7L756.0 537.2L760.2 538.0L764.0 536.0L767.8 532.7L772.2 531.9L775.6 533.1L779.2 534.2L782.8 533.6L786.4 532.7L790.0 533.2L793.3 534.9L796.3 535.7L800.6 534.0L804.9 531.7L808.9 532.3L812.5 535.1L816.4 536.8L819.8 536.8L823.3 537.4L826.6 539.6L830.0 542.0L834.1 542.4L838.3 540.5L842.1 537.6L845.6 536.0L849.6 536.0L853.5 535.8L856.7 534.3L859.8 531.9L863.6 530.5L868.0 530.1L871.5 529.0L873.6 526.3L876.7 519.7L879.6 517.6L879.0 516.4L875.6 517.6L868.4 516.3L865.0 516.5L862.0 518.7L859.4 522.0L856.0 524.1L852.3 524.9L849.0 526.5L846.6 529.5L844.2 532.3L841.0 533.0L837.7 531.1L835.5 529.0L832.8 528.3L829.3 529.0L825.5 529.2L822.0 527.9L818.4 526.4L814.1 526.6L809.7 527.8L805.6 527.0L801.6 523.7L797.1 521.3L793.4 522.0L789.7 523.7L786.0 524.6L782.2 524.0L778.5 524.0L775.1 525.6L771.8 527.3L767.4 527.2L762.9 524.6L758.6 523.5L754.7 525.2L750.9 527.5L746.8 527.7L742.6 527.3L738.5 528.6L734.4 530.8L730.1 530.8L725.7 529.0L721.2 528.2L717.5 530.5L714.5 534.3L711.7 536.4L709.7 537.6Z" fill="#858585"/>
<path d="M887.0 538.8L888.4 541.2L890.3 545.0L893.8 547.4L899.0 547.8L903.3 549.2L905.9 552.3L908.6 555.8L912.1 557.8L916.2 558.9L919.8 560.7L922.8 563.1L927.3 564.9L932.1 564.4L936.6 564.0L940.9 566.1L944.7 568.7L949.0 569.6L953.7 568.9L958.2 569.1L962.8 569.7L967.0 568.5L970.3 565.4L973.0 562.4L976.1 561.1L979.3 561.5L984.0 562.1L987.6 559.5L990.2 557.6L989.8 555.2L986.8 554.1L982.1 552.7L977.5 555.5L974.9 558.1L971.8 559.7L967.9 559.7L964.2 559.2L961.2 559.7L957.9 561.0L954.0 561.0L949.9 559.8L945.8 559.7L941.7 561.1L937.3 561.4L933.9 558.8L930.8 555.6L926.6 553.9L923.1 553.4L919.7 551.9L916.5 549.3L912.9 547.6L908.6 547.3L904.7 546.8L901.4 543.8L898.8 539.4L895.2 537.3L891.1 537.1L888.2 536.8Z" fill="#858585"/>
<path d="M960.2 563.8L963.1 564.0L967.1 563.8L971.8 564.9L976.5 567.0L980.3 566.2L983.4 564.6L986.9 564.2L990.2 565.5L993.5 567.3L997.2 568.0L1001.1 567.5L1005.4 567.7L1009.9 569.7L1014.6 570.8L1019.0 568.9L1022.9 565.5L1026.5 563.5L1030.8 562.6L1034.8 560.9L1037.8 558.1L1040.9 556.1L1044.0 556.0L1049.3 556.8L1052.0 555.6L1053.0 553.4L1057.3 555.3L1060.0 559.0L1062.0 558.0L1060.2 553.2L1057.0 547.0L1051.3 544.0L1045.9 544.4L1041.2 548.6L1038.4 551.2L1034.9 552.8L1030.9 554.0L1027.5 556.4L1024.5 559.0L1021.1 559.7L1016.8 558.4L1012.9 557.8L1009.3 559.8L1005.4 561.9L1001.5 561.9L998.5 560.6L995.3 559.8L991.7 559.7L988.1 559.2L984.7 557.2L980.9 554.8L975.8 554.1L970.9 557.0L966.4 559.4L962.5 560.4L959.8 561.4Z" fill="#858585"/>
<path d="M1222.3 487.9L1222.2 490.4L1222.5 493.7L1222.7 497.7L1222.3 502.0L1221.2 506.5L1220.5 510.9L1220.6 515.0L1221.2 519.0L1221.5 523.3L1221.4 527.7L1221.4 531.8L1222.1 535.6L1222.9 538.7L1223.3 541.0L1224.7 541.0L1224.9 538.6L1225.3 535.4L1225.6 531.6L1225.3 527.5L1224.8 523.2L1224.9 519.0L1225.4 515.0L1225.6 511.0L1225.1 506.6L1224.4 502.1L1224.3 497.8L1225.0 493.8L1225.6 490.5L1225.7 488.1Z" fill="#858585"/>
<path d="M1172.0 566.6L1174.5 567.6L1178.2 568.7L1182.1 568.2L1185.9 567.2L1189.7 567.2L1193.6 568.6L1197.2 569.3L1199.9 568.9L1200.1 567.1L1197.8 565.9L1194.1 565.4L1189.9 565.7L1186.1 564.8L1182.2 563.5L1178.1 563.0L1174.5 564.4L1172.0 565.4Z" fill="#858585"/>
<path d="M1159.9 620.6L1160.5 623.1L1160.9 626.7L1161.5 631.0L1165.1 633.3L1169.9 634.8L1173.2 637.3L1174.8 640.7L1176.3 644.5L1178.8 647.3L1182.2 648.9L1185.2 650.9L1187.2 653.9L1188.8 657.0L1191.8 659.2L1196.2 660.2L1200.3 661.7L1202.5 665.0L1203.8 669.1L1206.0 672.6L1210.2 675.0L1214.3 677.6L1217.0 681.6L1219.7 684.3L1222.3 685.1L1229.3 674.9L1227.5 672.7L1224.0 671.3L1219.5 670.2L1216.0 667.4L1213.2 664.2L1210.0 662.7L1206.1 661.6L1203.0 659.2L1201.8 655.0L1200.7 650.3L1198.0 647.0L1194.4 645.5L1190.9 643.9L1188.3 641.3L1185.9 638.4L1182.9 636.7L1179.1 635.9L1175.8 634.7L1173.6 631.4L1173.1 626.7L1171.6 622.8L1167.7 621.3L1164.3 620.1L1162.1 619.0Z" fill="#858585"/>
<path d="M710.2 539.5L712.6 539.4L716.0 539.7L720.2 540.9L724.4 541.0L727.8 538.3L730.8 534.9L734.8 533.6L739.1 535.0L743.3 535.7L747.4 534.5L751.5 534.1L755.8 535.6L760.0 536.5L763.8 534.4L767.7 531.0L772.0 530.1L775.5 531.5L779.1 532.5L782.7 532.0L786.3 531.0L789.9 531.6L793.3 533.3L796.4 534.1L800.7 532.3L805.2 530.0L809.2 530.7L812.8 533.5L816.7 535.2L820.2 535.2L823.7 535.8L827.0 538.0L830.4 540.4L834.3 540.8L838.2 538.9L841.7 535.9L845.0 534.4L848.9 534.5L852.8 534.3L856.0 532.8L859.1 530.5L862.9 529.0L867.2 528.7L870.7 527.6L872.9 524.9L876.3 518.8L879.4 517.1L879.2 516.9L876.1 518.4L869.1 517.7L865.7 517.9L862.8 520.1L860.1 523.5L856.8 525.6L853.0 526.4L849.7 528.0L847.3 531.0L844.8 533.9L841.4 534.6L837.8 532.7L835.3 530.6L832.5 529.9L828.9 530.6L825.1 530.8L821.6 529.5L818.1 528.0L813.8 528.2L809.4 529.5L805.4 528.7L801.5 525.3L797.0 522.9L793.4 523.6L789.7 525.4L786.1 526.2L782.3 525.7L778.6 525.7L775.2 527.3L772.0 529.1L767.5 528.9L763.0 526.2L758.8 525.0L754.9 526.8L751.1 529.1L746.9 529.4L742.7 528.9L738.6 530.3L734.7 532.5L730.4 532.5L726.1 530.6L721.6 529.7L717.8 531.9L714.7 535.0L711.9 537.0L709.8 538.1Z" fill="#999999"/>
<path d="M978.0 334.0C980.2 329.5 985.7 326.8 990.0 325.0C994.3 323.2 1002.3 321.8 1004.0 323.0C1005.7 324.2 1002.0 329.0 1000.0 332.0C998.0 335.0 993.7 337.7 992.0 341.0C990.3 344.3 989.3 348.8 990.0 352.0C990.7 355.2 997.0 358.3 996.0 360.0C995.0 361.7 987.2 363.3 984.0 362.0C980.8 360.7 978.0 356.7 977.0 352.0C976.0 347.3 975.8 338.5 978.0 334.0Z" fill="#999999"/>
<path d="M326.7 291.6L328.7 293.8L331.5 297.3L336.1 298.5L341.4 298.1L345.5 298.7L349.6 299.9L354.2 299.9L357.8 298.1L360.8 296.5L363.3 296.8L365.2 299.0L367.8 301.5L372.0 303.6L375.9 306.2L378.0 309.5L380.3 313.7L383.4 316.5L386.6 317.9L388.8 318.8L391.2 315.2L389.4 313.6L386.9 311.3L383.4 309.6L379.0 308.5L375.9 306.2L374.2 301.9L372.7 297.0L369.2 293.7L364.7 292.2L360.3 292.1L355.9 292.6L352.0 294.0L348.9 296.6L345.5 298.5L341.6 297.3L338.3 293.5L334.7 290.8L330.3 290.6L327.3 290.4Z" fill="#a3a3a3"/>
<path d="M468.1 303.2L470.6 302.6L474.2 301.8L478.0 300.1L481.6 297.7L485.0 296.0L489.4 294.8L494.0 293.9L497.7 292.5L500.3 291.3L499.7 289.7L497.0 290.4L493.2 291.7L489.1 293.9L485.0 296.0L481.3 297.1L477.1 298.0L473.2 299.4L470.1 301.4L467.9 302.8Z" fill="#a3a3a3"/>
<path d="M532.8 309.6L535.1 310.9L538.5 311.8L542.4 313.4L546.2 316.8L550.5 319.1L555.1 318.8L558.9 317.8L562.4 317.9L566.0 318.7L569.7 319.0L573.4 318.2L576.9 317.2L580.7 317.3L584.9 318.2L589.1 317.9L592.7 315.4L595.8 312.3L599.3 310.4L602.8 309.6L605.8 308.7L609.8 306.0L613.2 303.8L616.1 302.5L618.0 301.3L617.2 299.9L615.1 300.8L612.5 302.4L608.8 303.8L604.2 304.9L601.4 306.5L598.4 308.5L594.8 309.8L590.5 309.7L586.5 310.1L583.2 312.1L580.1 314.7L576.8 315.9L573.2 315.6L569.6 315.0L566.1 315.2L562.6 315.7L559.2 315.1L556.1 313.2L552.4 311.2L547.9 311.1L543.1 311.6L539.0 310.3L535.8 308.8L533.2 308.4Z" fill="#a3a3a3"/>
<path d="M637.5 301.8L641.3 303.1L645.9 304.1L648.8 307.5L648.6 311.9L646.2 315.3L643.7 318.0L640.8 320.2L637.1 321.4L633.5 320.1L631.1 317.3L629.9 313.9L628.2 310.1L627.9 306.0L630.2 302.8L634.7 302.2L638.4 301.8L637.6 298.2L633.8 299.3L629.8 302.2L627.2 305.7L624.8 309.9L624.2 315.5L626.9 320.7L631.8 323.4L636.9 324.6L642.2 324.3L647.3 322.0L650.2 317.3L650.4 312.1L648.8 307.5L647.1 302.9L642.9 299.3L638.5 298.2Z" fill="#a3a3a3"/>
<path d="M632.5 307.0L633.9 309.9L636.8 313.3L639.4 315.4L640.6 314.6L639.7 311.4L637.6 307.4L635.5 305.0Z" fill="#a3a3a3"/>
<path d="M675.9 298.0L679.4 298.9L683.5 300.6L685.7 305.0L686.9 308.9L693.1 303.1L689.2 301.5L684.5 299.4L680.9 296.3L678.1 294.0Z" fill="#a3a3a3"/>
<path d="M704.0 323.2L707.0 324.0L711.4 325.4L716.0 326.5L720.7 325.9L725.0 324.0L728.0 323.0L728.0 323.0L724.8 323.3L720.2 323.2L716.0 323.5L711.7 323.7L707.2 323.3L704.0 322.8Z" fill="#a3a3a3"/>
<path d="M854.1 293.0L857.2 295.9L860.4 301.7L866.1 304.3L871.3 302.5L872.7 297.5L869.8 293.4L865.6 292.3L860.7 291.7L857.9 289.0Z" fill="#a3a3a3"/>
<path d="M868.1 382.3L870.4 382.3L873.6 382.7L877.4 382.8L881.4 381.8L885.4 379.9L889.3 378.6L893.0 378.4L896.2 378.2L900.8 376.6L904.0 374.2L906.6 372.0L909.3 369.8L912.6 366.1L913.7 361.4L914.2 358.1L913.8 357.9L911.6 360.4L908.8 363.9L906.7 367.8L904.9 370.3L902.6 372.3L899.4 373.8L895.4 375.8L892.7 377.2L889.3 378.6L885.2 378.8L880.9 378.2L876.7 378.5L873.1 379.6L870.1 380.9L867.9 381.7Z" fill="#a3a3a3"/>
<path d="M962.1 379.2L965.7 378.1L970.7 376.5L975.4 375.5L980.2 373.4L983.1 371.2L982.9 370.8L979.4 371.5L974.6 373.5L970.4 375.7L965.5 377.5L961.9 378.8Z" fill="#a3a3a3"/>
<path d="M990.3 324.5L992.8 323.7L996.5 323.3L1001.0 323.6L1005.2 322.8L1008.8 320.8L1011.9 319.9L1015.4 321.7L1017.4 325.1L1019.4 328.5L1021.5 331.5L1022.8 335.0L1022.4 339.0L1021.4 342.7L1021.0 345.6L1020.7 349.5L1019.3 353.5L1016.1 356.6L1012.7 358.0L1008.9 359.2L1005.0 360.9L1000.9 363.0L997.1 364.3L992.6 364.6L988.2 363.9L984.6 363.1L982.2 362.6L979.6 361.2L977.3 358.2L976.2 354.2L976.1 350.4L975.9 347.2L975.1 344.2L974.4 340.9L975.0 337.1L977.7 334.4L981.9 332.1L985.5 329.0L988.6 325.9L991.1 324.3L988.9 321.7L986.9 323.9L983.2 326.2L979.4 329.4L976.8 333.6L974.6 336.9L972.1 340.1L970.0 343.8L969.4 347.8L970.3 351.6L972.2 355.5L974.2 359.7L976.3 364.0L979.8 367.4L984.0 368.4L988.5 367.5L992.8 365.8L997.1 364.4L1001.1 364.0L1005.8 363.8L1010.2 362.7L1014.0 360.6L1017.1 358.0L1020.9 354.9L1024.7 351.7L1027.6 347.4L1028.1 343.0L1027.0 338.6L1025.3 334.4L1024.1 330.5L1022.7 326.5L1019.9 323.0L1016.0 320.8L1012.1 319.1L1008.7 317.8L1004.2 316.6L999.7 317.5L995.7 319.8L992.2 321.2L989.7 321.5Z" fill="#a3a3a3"/>
<path d="M983.2 331.1L985.9 332.8L988.8 335.9L989.2 338.3L987.8 340.8L986.2 345.6L985.0 349.4L987.0 350.6L989.9 347.9L993.8 343.5L994.8 337.7L991.3 333.6L987.2 331.1L984.8 328.9Z" fill="#a3a3a3"/>
<path d="M1037.5 388.0L1039.5 385.0L1041.3 380.9L1040.7 376.9L1040.6 372.8L1042.9 369.5L1047.3 368.3L1051.6 367.3L1055.2 364.7L1059.0 363.0L1063.4 363.7L1067.7 363.4L1072.0 361.5L1075.9 361.8L1078.4 364.8L1079.3 368.5L1080.3 371.5L1082.3 374.4L1083.9 377.9L1083.6 381.4L1082.5 385.5L1082.6 389.3L1083.8 392.0L1090.2 392.0L1091.3 389.3L1091.4 385.3L1089.9 380.9L1088.7 376.9L1088.1 372.3L1087.0 367.9L1083.9 364.7L1079.7 363.2L1075.9 361.8L1072.6 359.3L1068.2 356.0L1062.8 355.8L1057.8 357.8L1052.8 359.1L1047.8 360.8L1044.7 364.9L1042.8 369.3L1039.9 372.3L1035.9 375.1L1033.2 379.6L1034.3 384.6L1035.9 388.0Z" fill="#a3a3a3"/>
<path d="M1057.7 377.4L1056.4 380.1L1055.7 384.2L1057.2 388.8L1058.4 393.0L1058.6 397.3L1058.4 402.2L1059.8 406.6L1062.5 409.9L1066.0 413.3L1069.1 416.7L1073.2 419.1L1078.0 418.2L1081.9 415.6L1084.7 414.6L1084.7 414.6L1081.8 415.0L1077.6 414.1L1074.6 412.9L1072.1 412.1L1068.9 410.4L1066.7 406.9L1065.6 403.6L1063.5 400.2L1060.3 396.8L1058.4 393.0L1058.8 388.7L1060.3 384.3L1060.1 380.3L1059.1 377.4Z" fill="#a3a3a3"/>
<path d="M996.7 446.3L999.5 446.2L1003.7 447.0L1008.4 447.4L1012.6 445.0L1016.1 441.1L1019.7 439.7L1024.4 441.3L1028.3 442.5L1032.4 442.0L1036.8 441.8L1040.6 442.9L1044.5 443.9L1048.5 442.5L1052.0 439.1L1055.4 436.4L1059.0 435.6L1063.3 435.0L1066.9 432.9L1069.6 429.8L1072.6 427.8L1075.6 427.3L1080.8 426.3L1084.1 422.7L1086.5 419.9L1086.1 418.7L1082.5 417.8L1077.1 417.1L1072.2 420.7L1069.7 423.6L1066.7 425.9L1063.1 427.6L1060.1 430.2L1057.9 433.8L1055.2 436.2L1051.1 436.0L1047.1 434.2L1043.5 433.8L1040.0 435.3L1036.6 437.0L1032.5 436.9L1028.7 436.0L1024.3 436.8L1019.7 439.1L1015.7 439.2L1010.6 437.5L1005.6 437.6L1001.8 440.6L998.7 443.5L996.3 444.9Z" fill="#a3a3a3"/>
<path d="M257.1 542.9L259.3 542.1L262.1 540.7L265.7 539.9L270.0 540.5L274.5 541.2L278.4 539.8L281.9 537.4L285.3 535.9L289.0 535.5L292.8 535.2L296.3 533.9L299.7 532.3L303.3 531.6L307.1 532.0L311.5 531.6L315.0 529.3L317.7 526.0L320.6 523.7L323.9 523.0L327.0 523.2L330.1 523.3L333.6 523.5L336.9 525.0L339.6 528.0L342.4 531.1L346.0 532.6L350.1 533.1L354.0 534.4L357.2 537.0L360.3 539.8L364.1 541.5L367.9 542.7L371.3 544.8L374.7 547.7L378.4 549.4L382.4 549.2L386.0 548.6L388.8 548.7L394.0 550.4L396.9 550.6L397.1 549.4L394.6 548.3L389.2 547.3L386.6 546.0L383.6 543.9L380.3 541.9L376.5 541.6L372.3 542.0L368.5 541.3L365.4 539.1L362.3 536.6L358.6 534.9L354.9 533.0L352.0 529.9L349.2 526.6L345.9 524.5L341.8 523.8L337.7 523.3L334.2 521.8L330.8 520.1L327.0 519.4L323.3 520.5L319.9 522.1L316.2 523.1L312.0 523.5L308.4 524.7L305.5 527.2L302.7 529.6L299.3 530.8L295.6 531.0L291.9 531.5L288.4 532.8L284.9 534.1L281.1 534.2L277.0 533.4L272.9 533.8L269.1 536.2L265.4 538.5L261.8 539.1L258.6 539.0L256.3 539.1Z" fill="#a3a3a3"/>
<path d="M402.9 521.8L404.6 523.6L407.3 525.7L410.2 528.6L412.6 532.6L416.0 535.6L420.2 536.2L424.8 535.6L428.9 536.0L432.7 537.4L436.5 537.9L440.8 536.6L444.7 534.9L448.2 533.8L450.4 532.5L449.6 530.7L447.1 531.3L444.0 533.1L440.2 533.9L436.3 533.7L433.1 533.8L429.3 534.0L425.6 532.7L422.4 529.7L419.6 527.6L416.2 526.9L411.8 526.3L408.4 524.3L405.8 522.0L403.7 520.8Z" fill="#a3a3a3"/>
<path d="M440.3 534.2L442.8 533.6L446.6 533.3L450.9 532.7L454.5 530.4L457.2 526.8L459.8 524.0L463.2 522.7L467.0 522.2L470.6 521.1L473.9 518.8L477.3 516.9L481.7 516.2L486.2 515.1L489.4 512.0L491.8 508.7L493.8 507.0L493.6 506.6L491.0 507.2L487.0 507.0L482.6 507.7L479.0 510.6L475.6 513.6L472.1 515.2L468.3 516.5L465.2 518.7L462.6 521.6L459.6 523.6L455.8 524.0L451.3 524.0L447.3 525.6L444.3 528.7L441.7 531.6L439.7 533.2Z" fill="#a3a3a3"/>
<path d="M638.5 557.3L641.4 557.4L645.0 556.5L647.7 552.6L651.2 549.9L655.8 550.2L660.2 550.7L663.6 549.3L666.0 546.5L668.6 544.1L672.0 543.6L675.4 543.8L679.0 542.6L683.0 540.5L687.3 540.6L692.1 543.7L695.7 545.1L699.5 544.2L703.4 542.1L707.5 541.5L711.5 542.1L715.0 541.1L717.9 539.0L720.0 538.0L720.0 537.6L717.7 536.9L714.6 535.3L710.9 534.9L707.1 536.1L703.0 536.2L698.8 534.6L695.0 534.3L691.9 536.1L687.3 539.4L683.0 539.3L678.9 537.0L674.7 536.1L670.6 537.4L666.8 539.0L662.7 539.5L658.7 539.9L655.7 542.0L653.6 545.8L651.0 549.6L646.8 550.8L642.0 550.7L639.2 553.1L637.5 555.5Z" fill="#a3a3a3"/>
<path d="M887.2 538.4L888.7 540.8L890.6 544.4L894.5 546.3L899.7 546.6L904.0 548.0L906.6 551.0L909.2 554.6L912.7 556.7L916.8 557.7L920.3 559.5L923.3 561.8L927.7 563.7L932.5 563.1L937.0 562.7L941.1 564.7L944.8 567.4L949.2 568.3L953.7 567.6L958.2 567.7L962.6 568.4L966.7 567.3L969.8 564.2L972.4 561.1L975.6 559.8L978.9 560.2L983.8 561.1L987.5 559.1L990.1 557.2L989.9 555.6L986.8 554.5L982.3 553.7L977.9 556.8L975.4 559.4L972.4 561.0L968.4 560.9L964.6 560.4L961.4 561.0L958.0 562.3L953.9 562.4L949.8 561.1L945.7 561.0L941.5 562.5L937.0 562.7L933.5 560.2L930.3 556.8L926.1 555.2L922.5 554.7L919.1 553.1L915.9 550.5L912.3 548.8L907.9 548.5L904.0 548.0L900.7 545.0L898.1 540.5L894.9 537.8L890.8 537.5L888.0 537.2Z" fill="#a3a3a3"/>
<path d="M960.1 563.3L963.0 563.4L966.9 562.6L971.7 563.5L976.4 565.6L980.4 564.9L983.7 563.2L987.2 562.7L990.5 564.1L993.8 565.9L997.5 566.6L1001.2 566.1L1005.4 566.2L1009.8 568.3L1014.4 569.5L1018.7 567.6L1022.5 564.1L1025.9 562.2L1030.1 561.3L1034.1 559.6L1037.1 556.8L1040.2 554.8L1043.5 554.6L1048.9 555.5L1051.9 554.2L1053.7 552.2L1058.1 554.7L1060.4 558.8L1061.6 558.2L1059.5 553.7L1056.3 548.2L1051.4 545.4L1046.2 545.7L1041.7 550.0L1039.1 552.5L1035.6 554.1L1031.6 555.3L1028.2 557.6L1025.1 560.3L1021.5 561.1L1017.0 559.7L1013.1 559.2L1009.4 561.2L1005.4 563.4L1001.4 563.3L998.2 562.0L995.0 561.1L991.3 561.1L987.8 560.6L984.4 558.6L980.8 556.1L975.9 555.5L971.1 558.4L966.6 560.6L962.6 561.0L959.9 561.9Z" fill="#a3a3a3"/>
<path d="M1222.9 487.9L1222.8 490.4L1223.1 493.7L1223.4 497.7L1222.9 502.1L1221.8 506.5L1221.0 510.9L1221.2 515.0L1221.8 519.0L1222.1 523.3L1222.0 527.6L1222.0 531.8L1222.7 535.5L1223.5 538.7L1224.0 541.0L1224.0 541.0L1224.3 538.6L1224.7 535.4L1225.0 531.7L1224.7 527.5L1224.2 523.2L1224.3 519.0L1224.8 515.0L1225.1 511.0L1224.5 506.6L1223.7 502.1L1223.7 497.7L1224.4 493.8L1225.0 490.5L1225.1 488.1Z" fill="#a3a3a3"/>
<path d="M1172.0 566.4L1174.5 567.1L1178.2 568.0L1182.1 567.5L1186.0 566.4L1189.8 566.4L1193.7 567.9L1197.3 568.8L1199.9 568.6L1200.1 567.4L1197.7 566.3L1194.0 566.1L1189.8 566.4L1186.0 565.6L1182.2 564.3L1178.1 563.7L1174.5 564.8L1172.0 565.6Z" fill="#a3a3a3"/>
<path d="M1160.3 620.3L1160.9 622.8L1161.1 626.5L1162.5 630.1L1166.4 632.3L1171.2 633.7L1174.5 636.0L1175.9 639.4L1177.3 643.2L1179.8 646.0L1183.2 647.6L1186.2 649.6L1188.3 652.6L1189.9 655.8L1192.9 658.1L1197.5 659.1L1201.6 660.6L1203.8 663.8L1205.0 667.9L1207.1 671.4L1211.2 673.7L1215.2 676.3L1217.9 680.2L1220.6 683.0L1223.2 683.8L1228.4 676.2L1226.6 674.0L1223.1 672.6L1218.5 671.6L1215.0 668.7L1212.1 665.4L1208.9 663.9L1204.8 662.8L1201.8 660.4L1200.5 656.2L1199.6 651.4L1196.9 648.2L1193.3 646.7L1189.8 645.2L1187.2 642.6L1184.9 639.7L1181.8 637.9L1178.0 637.2L1174.5 636.0L1172.4 632.6L1171.8 627.7L1170.6 623.7L1167.5 621.5L1163.9 620.4L1161.7 619.3Z" fill="#a3a3a3"/>
<path d="M1093.0 379.0C1096.0 377.4 1100.8 377.2 1106.0 377.5C1111.2 377.8 1118.8 379.0 1124.0 381.0C1129.2 383.0 1134.0 385.7 1137.0 389.5C1140.0 393.3 1141.2 399.9 1142.0 404.0C1142.8 408.1 1142.6 410.8 1141.5 414.0C1140.4 417.2 1139.0 421.5 1135.5 423.0C1132.0 424.5 1125.5 423.6 1120.4 423.0C1115.3 422.4 1110.2 419.5 1105.0 419.5C1099.8 419.5 1094.1 422.1 1089.4 423.0C1084.7 423.9 1078.1 427.4 1077.0 425.0C1075.9 422.6 1081.4 412.7 1083.0 408.4C1084.6 404.1 1085.6 402.6 1086.4 399.0C1087.2 395.4 1086.9 390.3 1088.0 387.0C1089.1 383.7 1090.0 380.6 1093.0 379.0Z" fill="#a3a3a3"/>
<path d="M1204.0 448.0C1206.5 445.7 1211.0 448.0 1216.0 448.0C1221.0 448.0 1231.0 442.0 1234.0 448.0C1237.0 454.0 1236.8 476.8 1234.0 484.0C1231.2 491.2 1221.5 489.0 1217.0 491.0C1212.5 493.0 1209.6 493.5 1207.0 496.0C1204.4 498.5 1202.2 502.2 1201.5 506.0C1200.8 509.8 1204.2 515.5 1203.0 519.0C1201.8 522.5 1196.7 527.2 1194.0 527.0C1191.3 526.8 1188.5 521.9 1187.0 518.0C1185.5 514.1 1184.9 508.4 1185.3 503.6C1185.7 498.9 1187.6 493.1 1189.5 489.5C1191.4 485.9 1194.6 484.4 1196.5 482.0C1198.4 479.6 1200.2 478.3 1201.0 475.0C1201.8 471.7 1200.5 466.5 1201.0 462.0C1201.5 457.5 1201.5 450.3 1204.0 448.0Z" fill="#a3a3a3"/>
<path d="M1177.0 562.5C1179.3 561.0 1186.3 563.1 1189.5 565.0C1192.7 566.9 1193.2 571.8 1196.0 574.0C1198.8 576.2 1203.3 575.7 1206.0 578.0C1208.7 580.3 1210.8 583.7 1212.0 588.0C1213.2 592.3 1213.6 599.0 1213.0 604.0C1212.4 609.0 1210.8 614.2 1208.5 618.0C1206.2 621.8 1201.9 629.5 1199.0 627.0C1196.1 624.5 1193.2 608.3 1191.0 603.0C1188.8 597.7 1187.8 597.8 1186.0 595.0C1184.2 592.2 1181.8 590.0 1180.0 586.5C1178.2 583.0 1176.0 577.7 1175.5 573.7C1175.0 569.7 1174.7 564.0 1177.0 562.5Z" fill="#a3a3a3"/>
<path d="M547.9 314.3L550.8 315.6L554.9 317.6L559.9 318.6L565.0 318.8L569.3 318.8L574.1 318.4L578.6 317.1L582.4 315.3L585.1 314.3L584.9 313.7L582.1 313.7L578.0 313.4L573.4 313.7L568.9 314.7L565.0 315.2L560.4 314.6L555.6 313.8L551.2 313.8L548.1 313.7Z" fill="#a8a8a8"/>
<path d="M974.5 336.0L973.6 339.2L972.4 343.9L972.8 348.8L974.6 353.4L975.9 357.6L976.3 360.7L985.7 357.3L984.0 354.7L982.5 350.9L982.2 347.2L981.8 343.4L980.4 339.1L979.5 336.0Z" fill="#a8a8a8"/>
<path d="M976.1 342.2L975.5 345.1L974.6 349.3L974.8 353.5L975.4 356.3L983.6 355.7L983.8 352.8L983.4 348.7L981.9 344.6L980.9 341.8Z" fill="#a8a8a8"/>
<path d="M991.9 329.3L994.9 328.5L998.8 327.1L1001.1 326.0L1004.9 325.1L1008.8 325.2L1011.5 325.2L1010.5 315.8L1007.8 316.4L1004.0 317.3L999.6 317.5L995.2 317.9L990.3 321.3L988.1 324.7Z" fill="#a8a8a8"/>
<path d="M1046.0 372.8L1050.0 372.0L1053.4 369.3L1057.9 367.7L1061.3 364.6L1060.7 362.4L1055.9 361.7L1050.6 363.7L1045.9 366.3L1044.0 370.2Z" fill="#a8a8a8"/>
<path d="M579.8 499.4L581.2 502.1L583.2 505.6L586.9 507.8L590.9 509.8L593.8 512.1L597.1 514.6L601.2 516.1L605.2 517.2L608.3 518.9L612.2 522.2L616.2 522.9L619.1 522.6L620.1 520.0L618.1 517.9L614.9 515.9L610.3 515.1L607.4 513.5L604.7 510.4L601.7 507.4L598.1 505.5L594.7 503.8L591.3 501.0L587.9 498.5L583.9 498.0L581.0 497.8Z" fill="#a8a8a8"/>
<path d="M783.0 529.5L786.1 530.1L790.5 530.3L795.3 530.9L799.8 531.1L804.4 531.1L809.1 532.5L813.5 533.2L816.8 532.1L817.2 529.9L814.4 527.8L810.0 527.0L804.9 526.9L800.2 525.9L795.4 525.8L790.4 526.4L786.0 526.8L783.0 527.5Z" fill="#a8a8a8"/>
<path d="M1079.4 566.4L1081.7 566.0L1084.7 565.6L1088.7 566.2L1092.9 566.7L1096.6 565.1L1100.3 563.7L1104.2 564.2L1107.4 565.2L1110.4 565.0L1113.4 563.1L1116.6 560.8L1120.0 559.8L1123.7 560.7L1127.6 561.7L1131.5 561.3L1134.7 560.4L1138.2 560.3L1141.9 561.4L1145.6 562.2L1149.1 560.9L1152.6 558.3L1156.1 556.7L1159.6 557.1L1163.0 558.4L1166.2 558.9L1170.0 558.2L1173.9 558.0L1177.6 559.4L1181.2 560.7L1184.6 560.3L1187.9 558.5L1190.9 557.2L1193.1 557.3L1197.0 560.8L1199.2 563.2L1201.5 564.4L1208.5 555.0L1206.3 552.9L1201.7 550.7L1194.9 550.7L1191.8 549.9L1188.8 548.0L1185.5 545.8L1181.8 544.9L1177.9 546.0L1173.9 547.3L1169.9 547.1L1165.8 546.5L1162.5 547.2L1159.1 548.9L1155.5 549.8L1151.8 548.8L1147.9 546.8L1144.1 546.2L1140.5 547.7L1137.2 549.5L1133.8 550.1L1130.5 549.7L1126.7 549.9L1123.1 551.4L1119.6 552.7L1116.0 552.2L1112.4 550.4L1108.7 549.2L1105.2 549.8L1101.8 551.8L1098.0 553.9L1093.7 554.6L1089.4 555.4L1086.1 558.3L1083.2 561.1L1080.6 562.6L1078.6 563.6Z" fill="#a8a8a8"/>
<path d="M1127.0 556.9L1129.2 558.2L1132.2 560.2L1135.8 561.8L1139.8 561.8L1144.0 561.6L1148.3 562.5L1152.4 562.2L1155.9 560.3L1159.4 558.2L1163.2 558.0L1167.2 559.6L1171.0 560.8L1174.4 560.2L1177.5 558.9L1180.1 558.4L1185.1 559.5L1189.6 559.3L1193.7 557.7L1196.6 557.1L1197.4 550.9L1194.7 549.7L1190.9 547.1L1185.7 546.1L1179.9 547.0L1176.6 546.8L1173.0 546.2L1169.3 546.4L1165.8 548.4L1162.3 550.9L1158.7 551.6L1155.0 550.2L1151.6 548.8L1147.8 548.9L1143.8 549.9L1139.8 549.7L1135.8 549.8L1132.3 551.3L1129.2 553.2L1127.0 554.5Z" fill="#a8a8a8"/>
<path d="M1193.3 646.8L1196.4 648.5L1200.0 651.6L1202.2 656.0L1204.6 659.8L1208.4 662.7L1212.2 666.1L1214.5 670.5L1217.4 674.9L1221.6 676.6L1225.0 677.1L1231.0 668.9L1229.5 665.8L1226.8 662.3L1222.1 661.0L1217.8 659.9L1214.9 656.6L1212.8 652.9L1209.8 650.0L1206.4 647.0L1204.8 642.7L1204.3 639.2Z" fill="#a8a8a8"/>
<path d="M1197.1 618.9L1197.5 622.3L1197.3 627.1L1196.3 632.2L1196.6 637.4L1198.6 641.9L1200.2 644.9L1205.8 643.1L1205.4 639.9L1204.9 635.5L1203.7 631.8L1203.5 628.0L1205.1 623.9L1206.9 621.1Z" fill="#a8a8a8"/>
<path d="M548.0 314.1L550.9 315.2L555.0 317.1L559.9 318.1L565.0 318.2L569.3 318.2L574.0 317.9L578.5 316.6L582.3 314.9L585.0 314.1L585.0 313.9L582.2 314.1L578.1 314.0L573.5 314.3L569.0 315.2L565.0 315.8L560.3 315.1L555.5 314.3L551.1 314.2L548.0 313.9Z" fill="#d1d1d1"/>
<path d="M975.8 336.0L974.9 339.2L973.6 343.8L974.0 348.6L975.8 353.0L977.1 357.2L977.4 360.3L984.6 357.7L982.9 355.2L981.3 351.3L981.0 347.4L980.5 343.4L979.2 339.1L978.2 336.0Z" fill="#d1d1d1"/>
<path d="M580.0 499.2L581.4 501.8L583.5 505.1L587.5 506.9L591.5 508.9L594.4 511.2L597.7 513.7L601.8 515.1L605.8 516.2L608.8 518.0L612.5 521.5L616.3 522.6L619.2 522.3L620.0 520.3L618.0 518.2L614.6 516.6L609.8 516.0L606.9 514.4L604.1 511.4L601.1 508.3L597.5 506.4L594.1 504.7L590.8 501.9L587.6 499.0L583.7 498.3L580.8 498.0Z" fill="#d1d1d1"/>
<path d="M783.0 529.2L786.1 529.6L790.5 529.5L795.3 530.1L799.9 530.3L804.5 530.3L809.3 531.7L813.6 532.6L816.9 531.9L817.1 530.1L814.3 528.4L809.9 527.8L804.8 527.7L800.1 526.7L795.4 526.6L790.4 527.2L786.0 527.3L783.0 527.8Z" fill="#d1d1d1"/>
<path d="M1079.3 565.9L1081.5 565.4L1084.5 564.8L1088.4 565.3L1092.4 565.1L1096.2 563.5L1099.9 562.1L1103.9 562.5L1107.1 563.5L1110.2 563.3L1113.3 561.4L1116.5 559.0L1119.9 558.1L1123.6 559.0L1127.4 560.0L1131.3 559.6L1134.6 558.7L1138.0 558.6L1141.7 559.7L1145.4 560.5L1149.0 559.2L1152.4 556.6L1155.9 555.0L1159.5 555.4L1162.9 556.7L1166.1 557.2L1170.0 556.5L1173.9 556.3L1177.6 557.6L1181.2 559.0L1184.7 558.6L1188.0 556.8L1191.1 555.6L1193.5 555.6L1197.7 559.3L1200.2 561.8L1202.6 563.0L1207.4 556.4L1205.4 554.3L1200.9 552.3L1194.5 552.4L1191.6 551.6L1188.7 549.7L1185.4 547.5L1181.8 546.6L1177.9 547.7L1173.9 549.0L1169.9 548.8L1165.9 548.2L1162.6 548.9L1159.2 550.6L1155.7 551.5L1151.9 550.5L1148.0 548.5L1144.2 547.9L1140.7 549.4L1137.3 551.2L1133.9 551.8L1130.7 551.4L1126.8 551.6L1123.2 553.1L1119.7 554.4L1116.1 553.9L1112.5 552.1L1108.9 550.9L1105.4 551.5L1102.1 553.5L1098.4 555.6L1094.1 556.3L1089.9 557.0L1086.4 559.2L1083.5 561.9L1080.8 563.2L1078.7 564.1Z" fill="#d1d1d1"/>
<path d="M977.3 342.1L976.7 345.0L975.8 349.2L975.9 353.4L976.5 356.2L982.5 355.8L982.7 352.9L982.2 348.8L980.7 344.7L979.7 341.9Z" fill="#ffffff"/>
<path d="M991.1 328.4L994.3 327.5L998.4 326.0L1000.9 324.9L1004.8 323.9L1008.7 324.1L1011.4 324.1L1010.6 316.9L1008.0 317.5L1004.1 318.5L999.8 318.7L995.6 319.0L990.9 322.3L988.9 325.6Z" fill="#ffffff"/>
<path d="M1045.8 372.5L1049.4 371.3L1052.9 368.3L1057.6 366.7L1061.2 364.3L1060.8 362.7L1056.3 362.7L1051.1 364.7L1046.4 367.1L1044.2 370.5Z" fill="#ffffff"/>
<path d="M1127.0 556.4L1129.2 557.6L1132.2 559.7L1135.8 561.2L1139.8 560.1L1144.0 559.9L1148.2 560.7L1152.3 560.5L1155.7 558.6L1159.2 556.5L1163.0 556.3L1167.0 557.9L1170.8 559.1L1174.2 558.5L1177.3 557.2L1180.0 556.7L1185.2 557.8L1189.8 557.6L1193.9 556.0L1196.8 555.4L1197.2 552.6L1194.5 551.4L1190.7 548.8L1185.7 547.8L1180.0 548.7L1176.7 548.6L1173.2 547.9L1169.5 548.1L1166.0 550.1L1162.5 552.6L1158.9 553.3L1155.1 551.9L1151.7 550.5L1147.9 550.6L1143.9 551.7L1139.8 551.4L1135.8 550.4L1132.3 551.7L1129.2 553.8L1127.0 555.0Z" fill="#ffffff"/>
<path d="M1194.6 645.9L1197.7 647.6L1201.3 650.7L1203.4 655.0L1205.9 658.8L1209.6 661.6L1213.3 664.9L1215.5 669.2L1218.3 673.6L1222.6 675.3L1225.9 675.8L1230.1 670.2L1228.6 667.1L1225.8 663.6L1221.1 662.2L1216.7 661.1L1213.7 657.7L1211.6 653.9L1208.6 651.0L1205.1 647.9L1203.5 643.6L1203.0 640.1Z" fill="#ffffff"/>
<path d="M1198.3 619.2L1198.7 622.6L1198.5 627.3L1197.6 632.1L1197.9 637.1L1199.8 641.5L1201.4 644.5L1204.6 643.5L1204.2 640.2L1203.6 635.8L1202.4 631.9L1202.2 627.8L1203.9 623.7L1205.7 620.8Z" fill="#ffffff"/>
<path d="M1094.0 380.5C1096.7 379.1 1100.2 378.8 1105.0 379.0C1109.8 379.2 1117.8 380.2 1123.0 382.0C1128.2 383.8 1133.4 386.3 1136.5 390.0C1139.6 393.7 1140.8 400.0 1141.5 404.0C1142.2 408.0 1142.0 411.0 1141.0 414.0C1140.0 417.0 1138.9 420.7 1135.5 422.0C1132.1 423.3 1125.5 422.4 1120.4 421.8C1115.3 421.2 1110.2 418.5 1105.0 418.5C1099.8 418.5 1093.7 421.0 1089.4 421.8C1085.1 422.6 1079.8 425.7 1079.0 423.5C1078.2 421.3 1082.9 412.5 1084.3 408.4C1085.7 404.3 1086.6 402.5 1087.4 399.0C1088.2 395.5 1087.9 390.4 1089.0 387.3C1090.1 384.2 1091.3 381.9 1094.0 380.5Z" fill="#ffffff"/>
<path d="M1207.0 451.0C1209.0 448.8 1211.8 451.0 1216.0 451.0C1220.2 451.0 1229.3 446.0 1232.0 451.0C1234.7 456.0 1234.8 474.8 1232.0 481.0C1229.2 487.2 1219.7 485.8 1215.0 488.0C1210.3 490.2 1206.8 491.2 1204.0 494.0C1201.2 496.8 1199.0 501.1 1198.3 505.0C1197.6 508.9 1200.4 514.6 1199.7 517.6C1199.0 520.6 1195.6 523.3 1194.0 523.0C1192.4 522.7 1190.9 519.2 1190.0 516.0C1189.1 512.8 1188.0 507.8 1188.5 503.6C1189.0 499.4 1190.8 494.3 1192.7 491.0C1194.6 487.7 1197.8 486.5 1199.7 484.0C1201.6 481.5 1203.3 479.3 1204.0 476.0C1204.7 472.7 1203.5 468.2 1204.0 464.0C1204.5 459.8 1205.0 453.2 1207.0 451.0Z" fill="#ffffff"/>
<path d="M1180.0 565.3C1181.6 564.3 1186.2 566.1 1188.5 568.0C1190.8 569.9 1191.4 574.4 1194.0 576.5C1196.6 578.6 1201.5 578.6 1204.0 580.7C1206.5 582.8 1208.0 585.3 1209.0 589.0C1210.0 592.7 1210.5 598.5 1210.0 603.0C1209.5 607.5 1207.7 612.8 1206.0 616.0C1204.3 619.2 1202.0 624.3 1200.0 622.0C1198.0 619.7 1195.9 606.8 1194.0 602.0C1192.1 597.2 1190.3 596.1 1188.5 593.3C1186.7 590.5 1184.6 588.3 1183.0 585.0C1181.4 581.7 1179.2 577.0 1178.7 573.7C1178.2 570.4 1178.4 566.2 1180.0 565.3Z" fill="#ffffff"/>
<path d="M1103.0 392.0C1105.4 390.3 1109.5 389.6 1112.6 390.0C1115.7 390.4 1120.2 392.4 1121.5 394.5C1122.8 396.6 1122.2 400.9 1120.4 402.5C1118.7 404.1 1113.7 404.6 1111.0 404.3C1108.3 404.0 1106.8 400.1 1104.5 400.5C1102.2 400.9 1099.1 405.4 1097.0 407.0C1094.9 408.6 1091.8 411.2 1092.0 410.0C1092.2 408.8 1096.2 403.0 1098.0 400.0C1099.8 397.0 1100.6 393.7 1103.0 392.0Z" fill="#a3a3a3"/>
<path d="M1192.7 579.0C1194.4 577.0 1202.9 570.6 1205.3 569.5C1207.7 568.4 1208.7 570.5 1207.0 572.5C1205.3 574.5 1197.4 580.4 1195.0 581.5C1192.6 582.6 1191.0 581.0 1192.7 579.0Z" fill="#808080"/>
<path d="M1106.0 394.5C1106.8 393.4 1110.4 392.7 1112.6 393.0C1114.8 393.3 1118.1 395.0 1119.0 396.3C1119.9 397.6 1119.3 400.0 1118.0 401.0C1116.7 402.0 1112.8 402.4 1111.0 402.2C1109.2 401.9 1108.3 400.8 1107.5 399.5C1106.7 398.2 1105.2 395.6 1106.0 394.5Z" fill="#6b6b6b"/>
<path d="M1111.5 396.3C1112.2 395.8 1115.7 396.4 1116.5 397.0C1117.3 397.6 1117.2 399.4 1116.5 400.0C1115.8 400.6 1113.3 400.9 1112.5 400.3C1111.7 399.7 1110.8 396.9 1111.5 396.3Z" fill="#262626"/>
</g>
</g>
<g fill="#fff" stroke="#fff" stroke-linejoin="miter" shape-rendering="crispEdges">
<path d="M900.0 284.0L908.0 294.5L922.0 300.0L937.0 305.8L957.8 314.0L970.0 317.5L982.7 321.3L992.0 317.0L1001.3 314.0L1013.7 316.0L1026.0 323.4L1034.0 330.0L1042.6 337.8L1051.0 343.0L1059.0 347.0L1075.6 351.0L1088.0 357.4L1104.5 360.5L1111.8 356.4L1117.0 361.6L1113.0 363.5L1123.0 377.0L1135.5 389.4L1138.0 397.0L1140.7 404.0L1146.9 411.0L1154.0 409.0L1158.0 416.0L1170.6 424.5L1172.7 430.7L1185.0 435.0L1197.5 437.0L1212.0 443.0L1214.0 450.4L1232.0 446.0L1232.0 420.0L1225.0 421.4L1205.7 426.6L1193.0 420.4L1191.0 414.0L1179.0 404.0L1170.6 389.4L1172.0 377.0L1174.7 364.7L1174.7 350.0L1179.0 340.0L1176.8 329.6L1164.4 320.0L1152.0 317.0L1135.5 318.0L1121.0 320.0L1104.5 322.0L1092.0 316.8L1099.4 311.0L1102.0 304.0L1103.5 298.6L1103.5 284.0Z" stroke-width="9"/>
<path d="M1232.0 560.0L1225.0 560.5L1218.0 562.6L1215.0 573.0L1216.0 587.4L1220.0 597.7L1225.0 604.0L1232.0 605.0Z" stroke-width="9"/>
<path d="M1232.0 609.0L1225.0 610.0L1214.0 616.3L1206.7 624.5L1207.8 637.0L1212.0 645.0L1210.0 649.3L1218.0 655.5L1225.0 657.6L1232.0 658.0Z" stroke-width="9"/>
<path d="M1100.0 300.0L1098.0 311.0L1092.0 317.0L1104.5 322.0L1121.0 320.0L1135.5 318.0L1152.0 317.0L1164.4 320.0L1176.8 329.6L1179.0 340.0L1174.7 350.0L1174.7 364.7L1172.0 377.0L1170.6 389.4L1179.0 404.0L1191.0 414.0L1193.0 420.4L1205.7 426.6L1225.0 421.4" fill="none" stroke-width="15"/>
<rect x="1048.8" y="567.8" width="18.6" height="11.2" stroke="none"/>
<rect x="1221.0" y="546.0" width="6.0" height="12.0" stroke="none"/>
<rect x="1220.0" y="436.0" width="6.0" height="8.0" stroke="none"/>
</g>
<g fill="#808080" stroke="#111" stroke-width="1" stroke-linejoin="round">
<path d="M900.0 284.0L908.0 294.5L922.0 300.0L937.0 305.8L957.8 314.0L970.0 317.5L982.7 321.3L992.0 317.0L1001.3 314.0L1013.7 316.0L1026.0 323.4L1034.0 330.0L1042.6 337.8L1051.0 343.0L1059.0 347.0L1075.6 351.0L1088.0 357.4L1104.5 360.5L1111.8 356.4L1117.0 361.6L1113.0 363.5L1123.0 377.0L1135.5 389.4L1138.0 397.0L1140.7 404.0L1146.9 411.0L1154.0 409.0L1158.0 416.0L1170.6 424.5L1172.7 430.7L1185.0 435.0L1197.5 437.0L1212.0 443.0L1214.0 450.4L1232.0 446.0L1232.0 420.0L1225.0 421.4L1205.7 426.6L1193.0 420.4L1191.0 414.0L1179.0 404.0L1170.6 389.4L1172.0 377.0L1174.7 364.7L1174.7 350.0L1179.0 340.0L1176.8 329.6L1164.4 320.0L1152.0 317.0L1135.5 318.0L1121.0 320.0L1104.5 322.0L1092.0 316.8L1099.4 311.0L1102.0 304.0L1103.5 298.6L1103.5 284.0Z"/>
<path d="M1232.0 560.0L1225.0 560.5L1218.0 562.6L1215.0 573.0L1216.0 587.4L1220.0 597.7L1225.0 604.0L1232.0 605.0Z"/>
<path d="M1232.0 609.0L1225.0 610.0L1214.0 616.3L1206.7 624.5L1207.8 637.0L1212.0 645.0L1210.0 649.3L1218.0 655.5L1225.0 657.6L1232.0 658.0Z"/>
<path d="M1055.0 557.4L1063.2 566.7L1064.3 570.9L1059.0 575.0L1054.0 572.0L1059.0 568.8L1054.0 564.7Z"/>
<path d="M1220.5 437.0L1228.0 434.0L1228.0 444.0L1222.5 441.5Z" fill="#fff"/>
</g>
</g>
<g stroke="#222" fill="none">
<line x1="187" y1="332.0" x2="1216" y2="332.0" stroke-width="1.7" stroke-dasharray="1 3"/>
<line x1="187" y1="408.0" x2="1216" y2="408.0" stroke-width="1.7" stroke-dasharray="1 3"/>
<line x1="187" y1="483.3" x2="1216" y2="483.3" stroke-width="1.7" stroke-dasharray="1 3"/>
<line x1="187" y1="558.5" x2="1216" y2="558.5" stroke-width="1.7" stroke-dasharray="1 3"/>
<line x1="187" y1="634.0" x2="1216" y2="634.0" stroke-width="1.7" stroke-dasharray="1 3"/>
<line x1="401.3" y1="297.5" x2="401.3" y2="668" stroke-width="1.15" stroke-dasharray="1 3"/>
<line x1="626.5" y1="297.5" x2="626.5" y2="668" stroke-width="1.15" stroke-dasharray="1 3"/>
<line x1="851.7" y1="297.5" x2="851.7" y2="668" stroke-width="1.15" stroke-dasharray="1 3"/>
<line x1="1077.0" y1="297.5" x2="1077.0" y2="668" stroke-width="1.15" stroke-dasharray="1 3"/>
</g>
<rect x="176" y="286" width="1051" height="393" fill="none" stroke="#000" stroke-width="4" stroke-linejoin="round"/>
<g stroke="#000" stroke-width="4" fill="none">
<line x1="176" y1="332.0" x2="186.5" y2="332.0"/>
<line x1="1216.5" y1="332.0" x2="1227" y2="332.0"/>
<line x1="176" y1="408.0" x2="186.5" y2="408.0"/>
<line x1="1216.5" y1="408.0" x2="1227" y2="408.0"/>
<line x1="176" y1="483.3" x2="186.5" y2="483.3"/>
<line x1="1216.5" y1="483.3" x2="1227" y2="483.3"/>
<line x1="176" y1="558.5" x2="186.5" y2="558.5"/>
<line x1="1216.5" y1="558.5" x2="1227" y2="558.5"/>
<line x1="176" y1="634.0" x2="186.5" y2="634.0"/>
<line x1="1216.5" y1="634.0" x2="1227" y2="634.0"/>
<line x1="401.3" y1="286" x2="401.3" y2="296.5"/>
<line x1="401.3" y1="668.5" x2="401.3" y2="679"/>
<line x1="626.5" y1="286" x2="626.5" y2="296.5"/>
<line x1="626.5" y1="668.5" x2="626.5" y2="679"/>
<line x1="851.7" y1="286" x2="851.7" y2="296.5"/>
<line x1="851.7" y1="668.5" x2="851.7" y2="679"/>
<line x1="1077.0" y1="286" x2="1077.0" y2="296.5"/>
<line x1="1077.0" y1="668.5" x2="1077.0" y2="679"/>
</g>
<g class="tx">
<g fill="#000" font-size="17">
<text x="171.3" y="340.7" text-anchor="end">15<tspan dy="-7.9" font-size="13.3">o</tspan><tspan dy="7.9">N</tspan></text>
<text x="171.3" y="416.7" text-anchor="end">10<tspan dy="-7.9" font-size="13.3">o</tspan><tspan dy="7.9">N</tspan></text>
<text x="171.3" y="492.0" text-anchor="end">5<tspan dy="-7.9" font-size="13.3">o</tspan><tspan dy="7.9">N</tspan></text>
<text x="165.8" y="567.2" text-anchor="end">0<tspan dy="-7.9" font-size="13.3">o</tspan><tspan dy="7.9"></tspan></text>
<text x="171.3" y="642.7" text-anchor="end">5<tspan dy="-7.9" font-size="13.3">o</tspan><tspan dy="7.9">S</tspan></text>
<text x="176.2" y="700.9" text-anchor="middle">150<tspan dy="-7.9" font-size="13.3">o</tspan><tspan dy="7.9">W</tspan></text>
<text x="401.5" y="700.9" text-anchor="middle">135<tspan dy="-7.9" font-size="13.3">o</tspan><tspan dy="7.9">W</tspan></text>
<text x="626.7" y="700.9" text-anchor="middle">120<tspan dy="-7.9" font-size="13.3">o</tspan><tspan dy="7.9">W</tspan></text>
<text x="851.9" y="700.9" text-anchor="middle">105<tspan dy="-7.9" font-size="13.3">o</tspan><tspan dy="7.9">W</tspan></text>
<text x="1077.2" y="700.9" text-anchor="middle">90<tspan dy="-7.9" font-size="13.3">o</tspan><tspan dy="7.9">W</tspan></text>
</g>
<text x="706.3" y="235" text-anchor="middle" font-size="31.4" font-weight="bold" fill="#000">AVHRR Sea Surface Temperature Gradient</text>
<text x="701.8" y="275.3" text-anchor="middle" font-size="25.1" font-weight="bold" fill="#000">2014-02-20</text>
<rect x="174" y="711" width="1051" height="20" fill="url(#cb)"/>
<rect x="174.5" y="711.5" width="1050" height="19" fill="none" stroke="#262626" stroke-width="1"/>
<g stroke="#262626" stroke-width="1">
<line x1="349.5" y1="720" x2="349.5" y2="731"/>
<line x1="524.5" y1="720" x2="524.5" y2="731"/>
<line x1="699.5" y1="720" x2="699.5" y2="731"/>
<line x1="874.5" y1="720" x2="874.5" y2="731"/>
<line x1="1049.5" y1="720" x2="1049.5" y2="731"/>
</g>
<g fill="#262626" font-size="17" text-anchor="middle">
<text x="174.5" y="754.9">-0.03</text>
<text x="349.5" y="754.9">-0.02</text>
<text x="524.5" y="754.9">-0.01</text>
<text x="699.5" y="754.9">0</text>
<text x="874.5" y="754.9">0.01</text>
<text x="1049.5" y="754.9">0.02</text>
<text x="1224.5" y="754.9">0.03</text>
</g>
<text x="699.5" y="778.9" fill="#262626" font-size="17" text-anchor="middle">°C/km</text>
</g>
</svg></body></html>
